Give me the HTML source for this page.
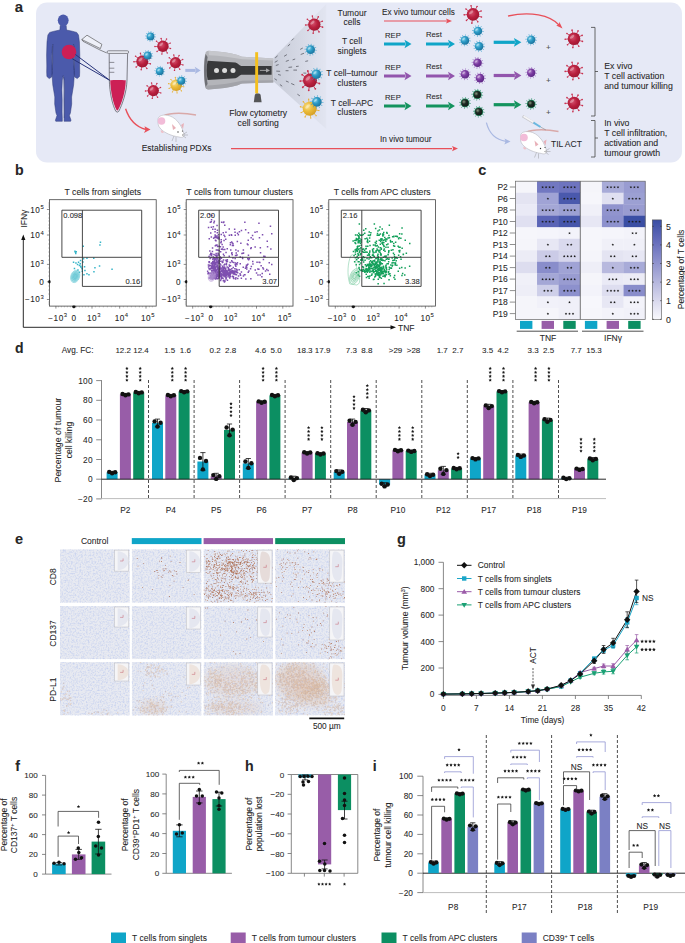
<!DOCTYPE html>
<html><head><meta charset="utf-8"><style>
html,body{margin:0;padding:0;background:#fff;}
svg{display:block;}
text{font-family:"Liberation Sans",sans-serif;stroke:#2a2a2a;stroke-width:0.07px;}
</style></head><body>
<svg width="685" height="943" viewBox="0 0 685 943">
<defs>
<radialGradient id="gRed" cx="0.4" cy="0.4" r="0.7"><stop offset="0" stop-color="#d4506c"/><stop offset="0.5" stop-color="#b8203e"/><stop offset="1" stop-color="#98142e"/></radialGradient>
<radialGradient id="gCy" cx="0.35" cy="0.35" r="0.75"><stop offset="0" stop-color="#7fd0ea"/><stop offset="0.45" stop-color="#2a98c4"/><stop offset="1" stop-color="#1a6d96"/></radialGradient>
<radialGradient id="gPu" cx="0.35" cy="0.35" r="0.75"><stop offset="0" stop-color="#b88ad0"/><stop offset="0.45" stop-color="#7a3aa0"/><stop offset="1" stop-color="#582580"/></radialGradient>
<radialGradient id="gGr" cx="0.35" cy="0.35" r="0.75"><stop offset="0" stop-color="#8a9a80"/><stop offset="0.4" stop-color="#1e2a24"/><stop offset="1" stop-color="#101814"/></radialGradient>
<radialGradient id="gYe" cx="0.35" cy="0.35" r="0.75"><stop offset="0" stop-color="#f8e08a"/><stop offset="0.45" stop-color="#ecbc3a"/><stop offset="1" stop-color="#d09a20"/></radialGradient>
<linearGradient id="gFan" x1="0" y1="0" x2="1" y2="0"><stop offset="0" stop-color="#c8ccd8"/><stop offset="1" stop-color="#e2e5f1"/></linearGradient>
<g id="cRed"><line x1="0.86" y1="0.27" x2="1.34" y2="0.41" stroke="#c8304e" stroke-width="0.13"/><circle cx="1.34" cy="0.41" r="0.13" fill="#c8304e"/><line x1="0.49" y1="0.76" x2="0.76" y2="1.18" stroke="#c8304e" stroke-width="0.13"/><circle cx="0.76" cy="1.18" r="0.13" fill="#c8304e"/><line x1="-0.11" y1="0.89" x2="-0.18" y2="1.39" stroke="#c8304e" stroke-width="0.13"/><circle cx="-0.18" cy="1.39" r="0.13" fill="#c8304e"/><line x1="-0.66" y1="0.61" x2="-1.03" y2="0.95" stroke="#c8304e" stroke-width="0.13"/><circle cx="-1.03" cy="0.95" r="0.13" fill="#c8304e"/><line x1="-0.90" y1="0.04" x2="-1.40" y2="0.07" stroke="#c8304e" stroke-width="0.13"/><circle cx="-1.40" cy="0.07" r="0.13" fill="#c8304e"/><line x1="-0.72" y1="-0.54" x2="-1.12" y2="-0.85" stroke="#c8304e" stroke-width="0.13"/><circle cx="-1.12" cy="-0.85" r="0.13" fill="#c8304e"/><line x1="-0.20" y1="-0.88" x2="-0.31" y2="-1.37" stroke="#c8304e" stroke-width="0.13"/><circle cx="-0.31" cy="-1.37" r="0.13" fill="#c8304e"/><line x1="0.41" y1="-0.80" x2="0.64" y2="-1.25" stroke="#c8304e" stroke-width="0.13"/><circle cx="0.64" cy="-1.25" r="0.13" fill="#c8304e"/><line x1="0.83" y1="-0.35" x2="1.29" y2="-0.54" stroke="#c8304e" stroke-width="0.13"/><circle cx="1.29" cy="-0.54" r="0.13" fill="#c8304e"/><circle r="1" fill="url(#gRed)"/><ellipse cx="-0.3" cy="-0.32" rx="0.42" ry="0.2" transform="rotate(-40 -0.3 -0.32)" fill="#fff" opacity="0.35"/></g><g id="cCy"><line x1="0.90" y1="0.09" x2="1.29" y2="0.13" stroke="#2a9ccc" stroke-width="0.1"/><circle cx="1.29" cy="0.13" r="0.08" fill="#2a9ccc"/><line x1="0.73" y1="0.53" x2="1.06" y2="0.76" stroke="#2a9ccc" stroke-width="0.1"/><circle cx="1.06" cy="0.76" r="0.08" fill="#2a9ccc"/><line x1="0.37" y1="0.82" x2="0.53" y2="1.19" stroke="#2a9ccc" stroke-width="0.1"/><circle cx="0.53" cy="1.19" r="0.08" fill="#2a9ccc"/><line x1="-0.09" y1="0.90" x2="-0.13" y2="1.29" stroke="#2a9ccc" stroke-width="0.1"/><circle cx="-0.13" cy="1.29" r="0.08" fill="#2a9ccc"/><line x1="-0.53" y1="0.73" x2="-0.76" y2="1.06" stroke="#2a9ccc" stroke-width="0.1"/><circle cx="-0.76" cy="1.06" r="0.08" fill="#2a9ccc"/><line x1="-0.82" y1="0.37" x2="-1.19" y2="0.53" stroke="#2a9ccc" stroke-width="0.1"/><circle cx="-1.19" cy="0.53" r="0.08" fill="#2a9ccc"/><line x1="-0.90" y1="-0.09" x2="-1.29" y2="-0.13" stroke="#2a9ccc" stroke-width="0.1"/><circle cx="-1.29" cy="-0.13" r="0.08" fill="#2a9ccc"/><line x1="-0.73" y1="-0.53" x2="-1.06" y2="-0.76" stroke="#2a9ccc" stroke-width="0.1"/><circle cx="-1.06" cy="-0.76" r="0.08" fill="#2a9ccc"/><line x1="-0.37" y1="-0.82" x2="-0.53" y2="-1.19" stroke="#2a9ccc" stroke-width="0.1"/><circle cx="-0.53" cy="-1.19" r="0.08" fill="#2a9ccc"/><line x1="0.09" y1="-0.90" x2="0.13" y2="-1.29" stroke="#2a9ccc" stroke-width="0.1"/><circle cx="0.13" cy="-1.29" r="0.08" fill="#2a9ccc"/><line x1="0.53" y1="-0.73" x2="0.76" y2="-1.06" stroke="#2a9ccc" stroke-width="0.1"/><circle cx="0.76" cy="-1.06" r="0.08" fill="#2a9ccc"/><line x1="0.82" y1="-0.37" x2="1.19" y2="-0.53" stroke="#2a9ccc" stroke-width="0.1"/><circle cx="1.19" cy="-0.53" r="0.08" fill="#2a9ccc"/><circle r="1" fill="url(#gCy)"/><ellipse cx="-0.3" cy="-0.32" rx="0.42" ry="0.2" transform="rotate(-40 -0.3 -0.32)" fill="#fff" opacity="0.35"/></g><g id="cPu"><line x1="0.90" y1="0.09" x2="1.29" y2="0.13" stroke="#8a4ab4" stroke-width="0.1"/><circle cx="1.29" cy="0.13" r="0.08" fill="#8a4ab4"/><line x1="0.73" y1="0.53" x2="1.06" y2="0.76" stroke="#8a4ab4" stroke-width="0.1"/><circle cx="1.06" cy="0.76" r="0.08" fill="#8a4ab4"/><line x1="0.37" y1="0.82" x2="0.53" y2="1.19" stroke="#8a4ab4" stroke-width="0.1"/><circle cx="0.53" cy="1.19" r="0.08" fill="#8a4ab4"/><line x1="-0.09" y1="0.90" x2="-0.13" y2="1.29" stroke="#8a4ab4" stroke-width="0.1"/><circle cx="-0.13" cy="1.29" r="0.08" fill="#8a4ab4"/><line x1="-0.53" y1="0.73" x2="-0.76" y2="1.06" stroke="#8a4ab4" stroke-width="0.1"/><circle cx="-0.76" cy="1.06" r="0.08" fill="#8a4ab4"/><line x1="-0.82" y1="0.37" x2="-1.19" y2="0.53" stroke="#8a4ab4" stroke-width="0.1"/><circle cx="-1.19" cy="0.53" r="0.08" fill="#8a4ab4"/><line x1="-0.90" y1="-0.09" x2="-1.29" y2="-0.13" stroke="#8a4ab4" stroke-width="0.1"/><circle cx="-1.29" cy="-0.13" r="0.08" fill="#8a4ab4"/><line x1="-0.73" y1="-0.53" x2="-1.06" y2="-0.76" stroke="#8a4ab4" stroke-width="0.1"/><circle cx="-1.06" cy="-0.76" r="0.08" fill="#8a4ab4"/><line x1="-0.37" y1="-0.82" x2="-0.53" y2="-1.19" stroke="#8a4ab4" stroke-width="0.1"/><circle cx="-0.53" cy="-1.19" r="0.08" fill="#8a4ab4"/><line x1="0.09" y1="-0.90" x2="0.13" y2="-1.29" stroke="#8a4ab4" stroke-width="0.1"/><circle cx="0.13" cy="-1.29" r="0.08" fill="#8a4ab4"/><line x1="0.53" y1="-0.73" x2="0.76" y2="-1.06" stroke="#8a4ab4" stroke-width="0.1"/><circle cx="0.76" cy="-1.06" r="0.08" fill="#8a4ab4"/><line x1="0.82" y1="-0.37" x2="1.19" y2="-0.53" stroke="#8a4ab4" stroke-width="0.1"/><circle cx="1.19" cy="-0.53" r="0.08" fill="#8a4ab4"/><circle r="1" fill="url(#gPu)"/><ellipse cx="-0.3" cy="-0.32" rx="0.42" ry="0.2" transform="rotate(-40 -0.3 -0.32)" fill="#fff" opacity="0.35"/></g><g id="cGr"><line x1="0.90" y1="0.09" x2="1.29" y2="0.13" stroke="#1f8a5e" stroke-width="0.12"/><circle cx="1.29" cy="0.13" r="0.08" fill="#1f8a5e"/><line x1="0.73" y1="0.53" x2="1.06" y2="0.76" stroke="#1f8a5e" stroke-width="0.12"/><circle cx="1.06" cy="0.76" r="0.08" fill="#1f8a5e"/><line x1="0.37" y1="0.82" x2="0.53" y2="1.19" stroke="#1f8a5e" stroke-width="0.12"/><circle cx="0.53" cy="1.19" r="0.08" fill="#1f8a5e"/><line x1="-0.09" y1="0.90" x2="-0.13" y2="1.29" stroke="#1f8a5e" stroke-width="0.12"/><circle cx="-0.13" cy="1.29" r="0.08" fill="#1f8a5e"/><line x1="-0.53" y1="0.73" x2="-0.76" y2="1.06" stroke="#1f8a5e" stroke-width="0.12"/><circle cx="-0.76" cy="1.06" r="0.08" fill="#1f8a5e"/><line x1="-0.82" y1="0.37" x2="-1.19" y2="0.53" stroke="#1f8a5e" stroke-width="0.12"/><circle cx="-1.19" cy="0.53" r="0.08" fill="#1f8a5e"/><line x1="-0.90" y1="-0.09" x2="-1.29" y2="-0.13" stroke="#1f8a5e" stroke-width="0.12"/><circle cx="-1.29" cy="-0.13" r="0.08" fill="#1f8a5e"/><line x1="-0.73" y1="-0.53" x2="-1.06" y2="-0.76" stroke="#1f8a5e" stroke-width="0.12"/><circle cx="-1.06" cy="-0.76" r="0.08" fill="#1f8a5e"/><line x1="-0.37" y1="-0.82" x2="-0.53" y2="-1.19" stroke="#1f8a5e" stroke-width="0.12"/><circle cx="-0.53" cy="-1.19" r="0.08" fill="#1f8a5e"/><line x1="0.09" y1="-0.90" x2="0.13" y2="-1.29" stroke="#1f8a5e" stroke-width="0.12"/><circle cx="0.13" cy="-1.29" r="0.08" fill="#1f8a5e"/><line x1="0.53" y1="-0.73" x2="0.76" y2="-1.06" stroke="#1f8a5e" stroke-width="0.12"/><circle cx="0.76" cy="-1.06" r="0.08" fill="#1f8a5e"/><line x1="0.82" y1="-0.37" x2="1.19" y2="-0.53" stroke="#1f8a5e" stroke-width="0.12"/><circle cx="1.19" cy="-0.53" r="0.08" fill="#1f8a5e"/><circle r="1.02" fill="#1f8a5e"/><circle r="0.85" fill="url(#gGr)"/></g><g id="cYe"><line x1="0.88" y1="0.18" x2="1.32" y2="0.27" stroke="#e8b030" stroke-width="0.12"/><circle cx="1.32" cy="0.27" r="0.1" fill="#e8b030"/><line x1="0.61" y1="0.66" x2="0.91" y2="0.99" stroke="#e8b030" stroke-width="0.12"/><circle cx="0.91" cy="0.99" r="0.1" fill="#e8b030"/><line x1="0.10" y1="0.89" x2="0.15" y2="1.34" stroke="#e8b030" stroke-width="0.12"/><circle cx="0.15" cy="1.34" r="0.1" fill="#e8b030"/><line x1="-0.44" y1="0.78" x2="-0.66" y2="1.18" stroke="#e8b030" stroke-width="0.12"/><circle cx="-0.66" cy="1.18" r="0.1" fill="#e8b030"/><line x1="-0.82" y1="0.37" x2="-1.23" y2="0.56" stroke="#e8b030" stroke-width="0.12"/><circle cx="-1.23" cy="0.56" r="0.1" fill="#e8b030"/><line x1="-0.88" y1="-0.18" x2="-1.32" y2="-0.27" stroke="#e8b030" stroke-width="0.12"/><circle cx="-1.32" cy="-0.27" r="0.1" fill="#e8b030"/><line x1="-0.61" y1="-0.66" x2="-0.91" y2="-0.99" stroke="#e8b030" stroke-width="0.12"/><circle cx="-0.91" cy="-0.99" r="0.1" fill="#e8b030"/><line x1="-0.10" y1="-0.89" x2="-0.15" y2="-1.34" stroke="#e8b030" stroke-width="0.12"/><circle cx="-0.15" cy="-1.34" r="0.1" fill="#e8b030"/><line x1="0.44" y1="-0.78" x2="0.66" y2="-1.18" stroke="#e8b030" stroke-width="0.12"/><circle cx="0.66" cy="-1.18" r="0.1" fill="#e8b030"/><line x1="0.82" y1="-0.37" x2="1.23" y2="-0.56" stroke="#e8b030" stroke-width="0.12"/><circle cx="1.23" cy="-0.56" r="0.1" fill="#e8b030"/><circle r="1" fill="url(#gYe)"/><ellipse cx="-0.3" cy="-0.32" rx="0.42" ry="0.2" transform="rotate(-40 -0.3 -0.32)" fill="#fff" opacity="0.35"/></g><path id="st" d="M0.000 -1.000 L0.294 -0.405 L0.951 -0.309 L0.476 0.155 L0.588 0.809 L0.000 0.500 L-0.588 0.809 L-0.476 0.155 L-0.951 -0.309 L-0.294 -0.405Z"/></defs>
<rect x="36" y="2.5" width="646" height="160" rx="11" fill="#e6e9f6"/>
<text x="14.7" y="11.6" font-size="15" text-anchor="start" fill="#262626" font-weight="bold">a</text>
<path d="M66.2 25.5 L66.5 30.0 L72.2 31.2 L76.7 32.4 L78.5 35.0 L79.4 42.0 L79.8 55.0 L79.6 66.0 L79.7 72.0 L79.5 76.5 L77.2 78.6 L74.7 77.0 L74.2 73.0 L74.4 66.0 L74.6 56.0 L74.0 46.0 L73.5 44.0 L73.8 52.0 L73.7 62.0 L74.2 70.0 L74.3 75.0 L73.6 85.0 L71.6 97.0 L71.7 104.0 L70.4 113.0 L69.4 115.5 L71.0 120.2 L70.6 121.3 L64.1 121.3 L64.1 118.0 L64.3 112.0 L64.2 100.0 L64.5 90.0 L64.1 80.0 L63.2 75.5 L63.2 75.5 L62.3 80.0 L61.9 90.0 L62.2 100.0 L62.1 112.0 L62.3 118.0 L62.3 121.3 L55.8 121.3 L55.4 120.2 L57.0 115.5 L56.0 113.0 L54.7 104.0 L54.8 97.0 L52.8 85.0 L52.1 75.0 L52.2 70.0 L52.7 62.0 L52.6 52.0 L52.9 44.0 L52.4 46.0 L51.8 56.0 L52.0 66.0 L52.2 73.0 L51.7 77.0 L49.2 78.6 L46.9 76.5 L46.7 72.0 L46.8 66.0 L46.6 55.0 L47.0 42.0 L47.9 35.0 L49.7 32.4 L54.2 31.2 L59.9 30.0 L60.2 25.5Z" fill="#4b5aab" stroke="#2f3a78" stroke-width="0.5" stroke-linejoin="round"/>
<ellipse cx="63.2" cy="20.3" rx="5.4" ry="5.9" fill="#4b5aab"/>
<path d="M73.8 46 L74.10000000000001 70 M52.6 46 L52.300000000000004 70 M63.800000000000004 77 L64.2 118" stroke="#2f3a78" stroke-width="0.5" fill="none"/>
<circle cx="69" cy="52" r="7.3" fill="#cc1f55"/>
<path d="M75.4 54.5 L110 80.5 M72.3 58.8 L110 80.5" stroke="#27337a" stroke-width="1"/>
<path d="M110.2 80.3 C113 79.8, 122 79.8, 125.8 80.3 C125.5 92, 121.5 104, 118.2 109.8 Q117.3 111 116.4 109.8 C113.2 104, 110.6 92, 110.2 80.3 Z" fill="#cc1f55"/>
<path d="M109.2 53.4 L109.3 80 C109.6 93, 112.5 105, 115.8 111.3 Q117.3 113 118.8 111.3 C122 105, 126.6 93, 127 80 L127.6 53.4" fill="none" stroke="#5a5a62" stroke-width="0.75"/>
<rect x="107.1" y="50.8" width="21.5" height="2.6" rx="1.2" fill="#eef0f8" stroke="#5a5a62" stroke-width="0.7"/>
<path d="M109.3 62.4 h5 M109.3 68.2 h5 M109.3 72.3 h5" stroke="#5a5a62" stroke-width="0.65"/>
<path d="M87 35.2 L101.9 44.3 L100.4 48.6 L81.8 39.5 Z" fill="#eef0f8" stroke="#444" stroke-width="0.6"/>
<path d="M81.8 39.5 L83 41.3 L100 50 L106.6 52.9" fill="none" stroke="#444" stroke-width="0.6"/>
<path d="M125.6 108.8 C129 119, 136 127, 146 129.5" fill="none" stroke="#e8505a" stroke-width="1.4"/>
<path d="M150.5 129.5 L144.5 126.2 L145.5 129.8 L144 133 Z" fill="#e8505a"/>
<g transform="translate(166 125) scale(1.0)">
<path d="M-3 -9 C 5 -13, 20 -12, 30 -10" stroke="#d9a9a9" stroke-width="1.3" fill="none"/>
<path d="M-8 -4 C -9 -10, -2 -11, 4 -9 C 12 -6, 16 2, 18 9 C 19 12, 16 13, 13 12 C 6 11, -2 8, -6 3 C -8 1, -8 -2, -8 -4 Z" fill="#ffffff" stroke="#a8a8b0" stroke-width="0.5"/>
<circle cx="-4.5" cy="-4" r="3.8" fill="#f2bcd8"/>
<path d="M6 -1 L10 3 L7 5 Z" fill="#e8b0b8"/>
<path d="M15 0 L18 -2 L17 4 Z" fill="#e8b0b8"/>
<circle cx="12" cy="7" r="0.7" fill="#333"/><circle cx="16.5" cy="6" r="0.6" fill="#333"/>
<path d="M16 10 l5 -3 M16 10 l6 0 M16 10 l4 3 M8 11 l-2 5 M10 12 l0 5" stroke="#777" stroke-width="0.35"/>
<path d="M-5 5 C -6 8, -3 9, -2 7" fill="#f0c0c8"/>
</g>
<text x="176.6" y="151.0" font-size="8.5" text-anchor="middle" fill="#262626" >Establishing PDXs</text>
<use href="#cCy" transform="translate(150.5 36.4) scale(3.9)"/>
<use href="#cRed" transform="translate(162.9 46.2) scale(5.7)"/>
<use href="#cRed" transform="translate(142.3 61.4) scale(6)"/>
<use href="#cCy" transform="translate(147.7 55.6) scale(4)"/>
<use href="#cRed" transform="translate(175.5 62.6) scale(5.6)"/>
<use href="#cCy" transform="translate(159.8 71.2) scale(3.9)"/>
<use href="#cRed" transform="translate(153.3 90.6) scale(5.6)"/>
<use href="#cYe" transform="translate(176.2 85.2) scale(5.8)"/>
<use href="#cCy" transform="translate(181.3 80.8) scale(4)"/>
<line x1="185.3" y1="70.4" x2="195.7" y2="70.4" stroke="#a9b8e2" stroke-width="3"/>
<path d="M200.7 70.4 L194.7 66.80000000000001 L196.2 70.4 L194.7 74.0 Z" fill="#a9b8e2"/>
<path d="M273.6 57.7 L326.2 4.2 L326.2 129 L273.6 81.5 Z" fill="url(#gFan)"/>
<path d="M275.2 57.9l2.4 -2.1M274.8 62.3l2.8 -1.6M275.8 65.5l2.8 -0.9M276.3 71.1l3.8 0.2M278.1 74.5l2.7 0.7M274.5 78.7l2.4 1.5M284.1 56.3l2.8 -1.7M285.8 61.4l3.0 -1.1M288.5 67.4l3.6 -0.4M285.6 70.7l2.9 0.0M285.9 81.0l2.8 1.2M279.9 84.5l2.3 1.7M287.8 46.2l2.3 -2.1M292.6 59.9l2.6 -0.9M296.0 66.5l2.7 -0.3M293.4 70.1l3.6 -0.0M291.2 83.5l3.2 1.4M291.7 40.5l2.0 -2.0M300.2 49.4l2.6 -1.4M300.7 54.5l3.4 -1.3M305.3 61.4l2.8 -0.6M303.4 73.0l2.9 0.2M297.4 94.2l2.5 1.7" stroke="#4a4c54" stroke-width="0.7" fill="none"/>
<path d="M208.5 50.8 C220 51.5, 230 53, 237.7 54.9 C239.5 55.6, 240.5 56.5, 242.4 56.7 L273.3 58.4 L273.3 82.4 L242.4 83.5 C240.5 83.8, 239.5 84.6, 237.7 85.3 C230 87.5, 220 89, 208.5 89.4 C206.5 89.3, 205.5 88.6, 205.4 87 C203.5 80, 203.3 60, 205.4 53.5 C205.6 51.8, 206.8 50.8, 208.5 50.8 Z" fill="#b4b5ba"/>
<path d="M208.5 50.8 C220 51.5, 230 53, 237.7 54.9 C239.5 55.6, 240.5 56.5, 242.4 56.7 L273.3 58.4 L273.3 60.5 L242.4 59.3 C232 57.5, 220 55.5, 209 55.3 Z" fill="#c6c7cc"/>
<path d="M242.4 80.8 L273.3 80.2 L273.3 82.4 L242.4 83.5 C240.5 83.8, 239.5 84.6, 237.7 85.3 C230 87.5, 220 89, 208.5 89.4 C206.5 89.3, 205.5 88.6, 205.4 87 L207 85.5 C222 85, 232 83, 242.4 80.8 Z" fill="#a2a3a9"/>
<path d="M205.6 54 C203.6 62, 203.6 79, 205.6 87 L207.6 84 C206.3 76, 206.3 65, 207.6 57 Z" fill="#6e6f75"/>
<path d="M207.6 60.8 L235.4 62.5 C238 63, 239 65.5, 241.2 66 L271.6 66 L271.6 74.8 L241.2 74.8 C239 75.3, 238 77.8, 235.4 78.3 L207.6 80 C206.3 74, 206.3 67, 207.6 60.8 Z" fill="#38393b"/>
<circle cx="216.5" cy="70.5" r="2.5" fill="#dcdcdc"/>
<circle cx="224.6" cy="70.5" r="2.5" fill="#dcdcdc"/>
<circle cx="233" cy="70.5" r="2.5" fill="#dcdcdc"/>
<rect x="255.2" y="52.2" width="2.9" height="41.3" fill="#f4c01e"/>
<path d="M253.8 102.2 L254.8 95 Q255.2 93.5 256.5 93.5 L259 93.5 Q260.3 93.5 260.6 95 L261.6 102.2 Z" fill="#545557"/>
<path d="M259.9 70.4 L267 70.4" stroke="#a8a8aa" stroke-width="0.9"/><path d="M270 70.4 L266 68.3 L266 72.5 Z" fill="#a8a8aa"/>
<text x="258.2" y="116.1" font-size="8.65" text-anchor="middle" fill="#262626" >Flow cytometry</text>
<text x="258.2" y="126.0" font-size="8.65" text-anchor="middle" fill="#262626" >cell sorting</text>
<use href="#cRed" transform="translate(314.3 24.6) scale(6.2)"/>
<use href="#cCy" transform="translate(310.6 49.7) scale(4.4)"/>
<use href="#cRed" transform="translate(310.0 80.6) scale(7)"/>
<use href="#cCy" transform="translate(316.4 74.2) scale(4.8)"/>
<use href="#cYe" transform="translate(309.7 108.7) scale(7)"/>
<use href="#cCy" transform="translate(316.9 101.9) scale(4.8)"/>
<text x="352.0" y="15.5" font-size="8.5" text-anchor="middle" fill="#262626" >Tumour</text>
<text x="352.0" y="25.3" font-size="8.5" text-anchor="middle" fill="#262626" >cells</text>
<text x="352.0" y="44.0" font-size="8.5" text-anchor="middle" fill="#262626" >T cell</text>
<text x="352.0" y="53.8" font-size="8.5" text-anchor="middle" fill="#262626" >singlets</text>
<text x="352.0" y="75.8" font-size="8.5" text-anchor="middle" fill="#262626" >T cell–tumour</text>
<text x="352.0" y="85.6" font-size="8.5" text-anchor="middle" fill="#262626" >clusters</text>
<text x="352.0" y="105.5" font-size="8.5" text-anchor="middle" fill="#262626" >T cell–APC</text>
<text x="352.0" y="115.3" font-size="8.5" text-anchor="middle" fill="#262626" >clusters</text>
<text x="382.0" y="15.3" font-size="8.2" text-anchor="start" fill="#262626" >Ex vivo tumour cells</text>
<line x1="384" y1="21" x2="447" y2="21" stroke="#e8505a" stroke-width="1.2"/><path d="M452 21 L446 18.5 L447.2 21 L446 23.5 Z" fill="#e8505a"/>
<text x="385.0" y="38.0" font-size="7.7" text-anchor="start" fill="#262626" >REP</text>
<text x="426.0" y="37.0" font-size="7.7" text-anchor="start" fill="#262626" >Rest</text>
<line x1="384" y1="44" x2="405.5" y2="44" stroke="#0fa5c8" stroke-width="3"/>
<path d="M411.5 44 L404.5 39.8 L406.0 44 L404.5 48.2 Z" fill="#0fa5c8"/>
<line x1="426" y1="44" x2="449" y2="44" stroke="#0fa5c8" stroke-width="3"/>
<path d="M455 44 L448 39.8 L449.5 44 L448 48.2 Z" fill="#0fa5c8"/>
<text x="385.0" y="70.0" font-size="7.7" text-anchor="start" fill="#262626" >REP</text>
<text x="426.0" y="69.0" font-size="7.7" text-anchor="start" fill="#262626" >Rest</text>
<line x1="384" y1="76" x2="405.5" y2="76" stroke="#9255ad" stroke-width="3"/>
<path d="M411.5 76 L404.5 71.8 L406.0 76 L404.5 80.2 Z" fill="#9255ad"/>
<line x1="426" y1="76" x2="449" y2="76" stroke="#9255ad" stroke-width="3"/>
<path d="M455 76 L448 71.8 L449.5 76 L448 80.2 Z" fill="#9255ad"/>
<text x="385.0" y="100.0" font-size="7.7" text-anchor="start" fill="#262626" >REP</text>
<text x="426.0" y="99.0" font-size="7.7" text-anchor="start" fill="#262626" >Rest</text>
<line x1="384" y1="106" x2="405.5" y2="106" stroke="#14935e" stroke-width="3"/>
<path d="M411.5 106 L404.5 101.8 L406.0 106 L404.5 110.2 Z" fill="#14935e"/>
<line x1="426" y1="106" x2="449" y2="106" stroke="#14935e" stroke-width="3"/>
<path d="M455 106 L448 101.8 L449.5 106 L448 110.2 Z" fill="#14935e"/>
<use href="#cCy" transform="translate(464.9 40.4) scale(4.3)"/>
<use href="#cCy" transform="translate(477.9 31.0) scale(4.3)"/>
<use href="#cCy" transform="translate(479.1 46.3) scale(4.3)"/>
<use href="#cPu" transform="translate(465.0 74.3) scale(4.3)"/>
<use href="#cPu" transform="translate(477.5 62.8) scale(4.3)"/>
<use href="#cPu" transform="translate(480.0 78.1) scale(4.3)"/>
<use href="#cGr" transform="translate(465.0 102.9) scale(4.3)"/>
<use href="#cGr" transform="translate(477.3 94.7) scale(4.3)"/>
<use href="#cGr" transform="translate(478.8 111.7) scale(4.3)"/>
<line x1="493.7" y1="42.3" x2="514.9" y2="42.3" stroke="#0fa5c8" stroke-width="3.2"/>
<path d="M521.4 42.3 L513.9 37.9 L515.4 42.3 L513.9 46.699999999999996 Z" fill="#0fa5c8"/>
<use href="#cCy" transform="translate(531.2 39.7) scale(4.2)"/>
<text x="548.4" y="50.2" font-size="8" text-anchor="middle" fill="#555" >+</text>
<line x1="493.7" y1="75.5" x2="514.9" y2="75.5" stroke="#9255ad" stroke-width="3.2"/>
<path d="M521.4 75.5 L513.9 71.1 L515.4 75.5 L513.9 79.9 Z" fill="#9255ad"/>
<use href="#cPu" transform="translate(531.2 72.8) scale(4.2)"/>
<text x="548.4" y="83.3" font-size="8" text-anchor="middle" fill="#555" >+</text>
<line x1="493.7" y1="104.7" x2="514.9" y2="104.7" stroke="#14935e" stroke-width="3.2"/>
<path d="M521.4 104.7 L513.9 100.3 L515.4 104.7 L513.9 109.10000000000001 Z" fill="#14935e"/>
<use href="#cGr" transform="translate(531.2 104.0) scale(4.2)"/>
<text x="548.4" y="114.5" font-size="8" text-anchor="middle" fill="#555" >+</text>
<use href="#cRed" transform="translate(473.0 14.4) scale(6.3)"/>
<path d="M508 16 C 530 11, 550 15, 559 25" fill="none" stroke="#e8505a" stroke-width="1.3"/><path d="M562.5 28.5 L556.2 25.6 L559 24.6 L559.3 21.8 Z" fill="#e8505a"/>
<use href="#cRed" transform="translate(574.0 38.8) scale(6.3)"/>
<use href="#cRed" transform="translate(574.0 71.0) scale(6.3)"/>
<use href="#cRed" transform="translate(574.0 103.0) scale(6.3)"/>
<path d="M591 27.4 L595 27.4 L595 116 L591 116 M595 71.5 L598 71.5" fill="none" stroke="#444" stroke-width="0.8"/>
<text x="604.2" y="69.1" font-size="8.75" text-anchor="start" fill="#262626" >Ex vivo</text>
<text x="604.2" y="79.0" font-size="8.75" text-anchor="start" fill="#262626" >T cell activation</text>
<text x="604.2" y="88.8" font-size="8.75" text-anchor="start" fill="#262626" >and tumour killing</text>
<path d="M591 120.5 L595 120.5 L595 157 L591 157 M595 138 L598 138" fill="none" stroke="#444" stroke-width="0.8"/>
<text x="604.2" y="126.0" font-size="8.75" text-anchor="start" fill="#262626" >In vivo</text>
<text x="604.2" y="136.0" font-size="8.75" text-anchor="start" fill="#262626" >T cell infiltration,</text>
<text x="604.2" y="146.0" font-size="8.75" text-anchor="start" fill="#262626" >activation and</text>
<text x="604.2" y="156.0" font-size="8.75" text-anchor="start" fill="#262626" >tumour growth</text>
<line x1="231" y1="148.6" x2="452" y2="148.6" stroke="#e8505a" stroke-width="1.2"/><path d="M458 148.6 L452 146 L453.2 148.6 L452 151.2 Z" fill="#e8505a"/>
<text x="380.0" y="142.0" font-size="8.2" text-anchor="start" fill="#262626" >In vivo tumour</text>
<path d="M486.4 122.7 C 489 133, 496 140, 506 141.4" fill="none" stroke="#a9b8e2" stroke-width="1.2"/><path d="M510.5 141.6 L504.5 138.6 L505.6 141.5 L504.3 144.4 Z" fill="#a9b8e2"/>
<g transform="translate(528.5 141.5) scale(1.0)">
<path d="M-3 -9 C 5 -13, 20 -12, 30 -10" stroke="#d9a9a9" stroke-width="1.3" fill="none"/>
<path d="M-8 -4 C -9 -10, -2 -11, 4 -9 C 12 -6, 16 2, 18 9 C 19 12, 16 13, 13 12 C 6 11, -2 8, -6 3 C -8 1, -8 -2, -8 -4 Z" fill="#ffffff" stroke="#a8a8b0" stroke-width="0.5"/>
<circle cx="-4.5" cy="-4" r="3.8" fill="#f2bcd8"/>
<path d="M6 -1 L10 3 L7 5 Z" fill="#e8b0b8"/>
<path d="M15 0 L18 -2 L17 4 Z" fill="#e8b0b8"/>
<circle cx="12" cy="7" r="0.7" fill="#333"/><circle cx="16.5" cy="6" r="0.6" fill="#333"/>
<path d="M16 10 l5 -3 M16 10 l6 0 M16 10 l4 3 M8 11 l-2 5 M10 12 l0 5" stroke="#777" stroke-width="0.35"/>
<path d="M-5 5 C -6 8, -3 9, -2 7" fill="#f0c0c8"/>
</g>
<path d="M522.6 116.2 L534 123" stroke="#c8c8cc" stroke-width="2.6"/><path d="M523.5 116.2 L533.5 122.2" stroke="#f4f4f6" stroke-width="1.6"/><path d="M533.5 122.7 L540.5 127" stroke="#6ab8e0" stroke-width="2"/><path d="M540.5 127 L545.8 129.9" stroke="#777" stroke-width="0.5"/>
<text x="551.0" y="147.0" font-size="8.5" text-anchor="start" fill="#262626" >TIL ACT</text>
<text x="15.0" y="175.2" font-size="14.2" text-anchor="start" fill="#262626" font-weight="bold">b</text>
<text x="102.8" y="194.6" font-size="8.7" text-anchor="middle" fill="#262626" >T cells from singlets</text>
<rect x="49.4" y="199.7" width="106.8" height="106.40000000000003" fill="#fff" stroke="#444" stroke-width="0.8"/>
<line x1="46.9" y1="209.5" x2="49.4" y2="209.5" stroke="#444" stroke-width="0.6"/>
<line x1="46.9" y1="235" x2="49.4" y2="235" stroke="#444" stroke-width="0.6"/>
<line x1="46.9" y1="264.4" x2="49.4" y2="264.4" stroke="#444" stroke-width="0.6"/>
<line x1="46.9" y1="281.8" x2="49.4" y2="281.8" stroke="#444" stroke-width="0.6"/>
<line x1="46.9" y1="299.5" x2="49.4" y2="299.5" stroke="#444" stroke-width="0.6"/>
<line x1="48.1" y1="203" x2="49.4" y2="203" stroke="#666" stroke-width="0.4"/>
<line x1="48.1" y1="205" x2="49.4" y2="205" stroke="#666" stroke-width="0.4"/>
<line x1="48.1" y1="207" x2="49.4" y2="207" stroke="#666" stroke-width="0.4"/>
<line x1="48.1" y1="214" x2="49.4" y2="214" stroke="#666" stroke-width="0.4"/>
<line x1="48.1" y1="218" x2="49.4" y2="218" stroke="#666" stroke-width="0.4"/>
<line x1="48.1" y1="221" x2="49.4" y2="221" stroke="#666" stroke-width="0.4"/>
<line x1="48.1" y1="225" x2="49.4" y2="225" stroke="#666" stroke-width="0.4"/>
<line x1="48.1" y1="228" x2="49.4" y2="228" stroke="#666" stroke-width="0.4"/>
<line x1="48.1" y1="231" x2="49.4" y2="231" stroke="#666" stroke-width="0.4"/>
<line x1="48.1" y1="240" x2="49.4" y2="240" stroke="#666" stroke-width="0.4"/>
<line x1="48.1" y1="244" x2="49.4" y2="244" stroke="#666" stroke-width="0.4"/>
<line x1="48.1" y1="248" x2="49.4" y2="248" stroke="#666" stroke-width="0.4"/>
<line x1="48.1" y1="252" x2="49.4" y2="252" stroke="#666" stroke-width="0.4"/>
<line x1="48.1" y1="256" x2="49.4" y2="256" stroke="#666" stroke-width="0.4"/>
<line x1="48.1" y1="260" x2="49.4" y2="260" stroke="#666" stroke-width="0.4"/>
<line x1="48.1" y1="268" x2="49.4" y2="268" stroke="#666" stroke-width="0.4"/>
<line x1="48.1" y1="272" x2="49.4" y2="272" stroke="#666" stroke-width="0.4"/>
<line x1="48.1" y1="276" x2="49.4" y2="276" stroke="#666" stroke-width="0.4"/>
<line x1="48.1" y1="286" x2="49.4" y2="286" stroke="#666" stroke-width="0.4"/>
<line x1="48.1" y1="290" x2="49.4" y2="290" stroke="#666" stroke-width="0.4"/>
<line x1="48.1" y1="294" x2="49.4" y2="294" stroke="#666" stroke-width="0.4"/>
<line x1="48.1" y1="302" x2="49.4" y2="302" stroke="#666" stroke-width="0.4"/>
<line x1="48.1" y1="304" x2="49.4" y2="304" stroke="#666" stroke-width="0.4"/>
<line x1="55.9" y1="306.1" x2="55.9" y2="308.6" stroke="#444" stroke-width="0.6"/>
<line x1="73.9" y1="306.1" x2="73.9" y2="308.6" stroke="#444" stroke-width="0.6"/>
<line x1="92.0" y1="306.1" x2="92.0" y2="308.6" stroke="#444" stroke-width="0.6"/>
<line x1="119.69999999999999" y1="306.1" x2="119.69999999999999" y2="308.6" stroke="#444" stroke-width="0.6"/>
<line x1="146.0" y1="306.1" x2="146.0" y2="308.6" stroke="#444" stroke-width="0.6"/>
<line x1="58.4" y1="306.1" x2="58.4" y2="307.40000000000003" stroke="#666" stroke-width="0.4"/>
<line x1="61.4" y1="306.1" x2="61.4" y2="307.40000000000003" stroke="#666" stroke-width="0.4"/>
<line x1="64.4" y1="306.1" x2="64.4" y2="307.40000000000003" stroke="#666" stroke-width="0.4"/>
<line x1="67.4" y1="306.1" x2="67.4" y2="307.40000000000003" stroke="#666" stroke-width="0.4"/>
<line x1="70.4" y1="306.1" x2="70.4" y2="307.40000000000003" stroke="#666" stroke-width="0.4"/>
<line x1="76.4" y1="306.1" x2="76.4" y2="307.40000000000003" stroke="#666" stroke-width="0.4"/>
<line x1="79.4" y1="306.1" x2="79.4" y2="307.40000000000003" stroke="#666" stroke-width="0.4"/>
<line x1="82.4" y1="306.1" x2="82.4" y2="307.40000000000003" stroke="#666" stroke-width="0.4"/>
<line x1="85.4" y1="306.1" x2="85.4" y2="307.40000000000003" stroke="#666" stroke-width="0.4"/>
<line x1="88.4" y1="306.1" x2="88.4" y2="307.40000000000003" stroke="#666" stroke-width="0.4"/>
<line x1="95.4" y1="306.1" x2="95.4" y2="307.40000000000003" stroke="#666" stroke-width="0.4"/>
<line x1="99.4" y1="306.1" x2="99.4" y2="307.40000000000003" stroke="#666" stroke-width="0.4"/>
<line x1="103.4" y1="306.1" x2="103.4" y2="307.40000000000003" stroke="#666" stroke-width="0.4"/>
<line x1="107.4" y1="306.1" x2="107.4" y2="307.40000000000003" stroke="#666" stroke-width="0.4"/>
<line x1="111.4" y1="306.1" x2="111.4" y2="307.40000000000003" stroke="#666" stroke-width="0.4"/>
<line x1="115.4" y1="306.1" x2="115.4" y2="307.40000000000003" stroke="#666" stroke-width="0.4"/>
<line x1="123.4" y1="306.1" x2="123.4" y2="307.40000000000003" stroke="#666" stroke-width="0.4"/>
<line x1="127.4" y1="306.1" x2="127.4" y2="307.40000000000003" stroke="#666" stroke-width="0.4"/>
<line x1="131.4" y1="306.1" x2="131.4" y2="307.40000000000003" stroke="#666" stroke-width="0.4"/>
<line x1="135.4" y1="306.1" x2="135.4" y2="307.40000000000003" stroke="#666" stroke-width="0.4"/>
<line x1="139.4" y1="306.1" x2="139.4" y2="307.40000000000003" stroke="#666" stroke-width="0.4"/>
<line x1="142.4" y1="306.1" x2="142.4" y2="307.40000000000003" stroke="#666" stroke-width="0.4"/>
<line x1="149.4" y1="306.1" x2="149.4" y2="307.40000000000003" stroke="#666" stroke-width="0.4"/>
<line x1="152.4" y1="306.1" x2="152.4" y2="307.40000000000003" stroke="#666" stroke-width="0.4"/>
<ellipse cx="49.4" cy="281.8" rx="1.2" ry="1.8" fill="#111"/>
<ellipse cx="73.9" cy="306.70000000000005" rx="1.8" ry="1.2" fill="#111"/>
<text x="44.2" y="212.5" font-size="8.2" text-anchor="end" fill="#262626" letter-spacing="0.5">10<tspan font-size="5.90" dy="-3.4">5</tspan></text>
<text x="44.2" y="238.0" font-size="8.2" text-anchor="end" fill="#262626" letter-spacing="0.5">10<tspan font-size="5.90" dy="-3.4">4</tspan></text>
<text x="44.2" y="267.4" font-size="8.2" text-anchor="end" fill="#262626" letter-spacing="0.5">10<tspan font-size="5.90" dy="-3.4">3</tspan></text>
<text x="44.2" y="302.0" font-size="8.2" text-anchor="end" fill="#262626" letter-spacing="0.5">−10<tspan font-size="5.90" dy="-3.4">3</tspan></text>
<text x="43.8" y="284.8" font-size="8.2" text-anchor="end" fill="#262626" >0</text>
<text x="57.9" y="320.5" font-size="8.2" text-anchor="middle" fill="#262626" letter-spacing="0.5">−10<tspan font-size="5.90" dy="-3.4">3</tspan></text>
<text x="94.0" y="320.5" font-size="8.2" text-anchor="middle" fill="#262626" letter-spacing="0.5">10<tspan font-size="5.90" dy="-3.4">3</tspan></text>
<text x="121.7" y="320.5" font-size="8.2" text-anchor="middle" fill="#262626" letter-spacing="0.5">10<tspan font-size="5.90" dy="-3.4">4</tspan></text>
<text x="148.0" y="320.5" font-size="8.2" text-anchor="middle" fill="#262626" letter-spacing="0.5">10<tspan font-size="5.90" dy="-3.4">5</tspan></text>
<text x="73.9" y="320.5" font-size="8.2" text-anchor="middle" fill="#262626" >0</text>
<path d="M74.5 251.2h1.5v1.5h-1.5zM75.0 252.7h1.5v1.5h-1.5zM74.2 250.4h1.5v1.5h-1.5zM75.5 251.1h1.5v1.5h-1.5zM82.5 245.4h1.5v1.5h-1.5zM99.7 241.6h1.5v1.5h-1.5zM99.2 244.2h1.5v1.5h-1.5zM82.8 258.1h1.5v1.5h-1.5zM86.2 257.6h1.5v1.5h-1.5zM93.0 257.6h1.5v1.5h-1.5zM72.8 261.4h1.5v1.5h-1.5zM75.2 262.2h1.5v1.5h-1.5zM77.8 261.6h1.5v1.5h-1.5zM79.5 263.1h1.5v1.5h-1.5zM78.7 264.8h1.5v1.5h-1.5zM80.3 266.4h1.5v1.5h-1.5zM81.2 268.1h1.5v1.5h-1.5zM73.7 267.8h1.5v1.5h-1.5zM94.2 266.9h1.5v1.5h-1.5zM98.8 265.2h1.5v1.5h-1.5zM111.3 268.6h1.5v1.5h-1.5zM93.2 271.1h1.5v1.5h-1.5zM86.2 273.1h1.5v1.5h-1.5zM88.2 273.9h1.5v1.5h-1.5zM83.2 273.9h1.5v1.5h-1.5zM78.7 271.4h1.5v1.5h-1.5zM81.5 270.6h1.5v1.5h-1.5zM80.0 265.6h1.5v1.5h-1.5zM76.8 263.8h1.5v1.5h-1.5zM77.2 269.2h1.5v1.5h-1.5zM82.2 261.2h1.5v1.5h-1.5zM84.2 269.8h1.5v1.5h-1.5zM79.8 259.8h1.5v1.5h-1.5zM83.8 266.1h1.5v1.5h-1.5z" fill="#36b5c8" />
<ellipse cx="75.2" cy="276.4" rx="4.4" ry="6.4" transform="rotate(20 75.2 276.4)" fill="#5cc4d2" fill-opacity="0.35" stroke="#5cc4d2" stroke-width="0.45"/>
<ellipse cx="75.2" cy="276.4" rx="3.5" ry="5.2" transform="rotate(20 75.2 276.4)" fill="#5cc4d2" fill-opacity="0.35" stroke="#5cc4d2" stroke-width="0.45"/>
<ellipse cx="75.2" cy="276.4" rx="2.5" ry="3.9" transform="rotate(20 75.2 276.4)" fill="#5cc4d2" fill-opacity="0.35" stroke="#5cc4d2" stroke-width="0.45"/>
<ellipse cx="75.2" cy="276.4" rx="1.5" ry="2.5" transform="rotate(20 75.2 276.4)" fill="#5cc4d2" fill-opacity="0.35" stroke="#5cc4d2" stroke-width="0.45"/>
<path d="M61.9 210.2 H141.7 V257.3 H61.9 Z M82.4 210.2 V286.4 H141.7 V257.3" fill="none" stroke="#333" stroke-width="0.9"/>
<text x="63.3" y="217.8" font-size="7.6" text-anchor="start" fill="#262626" >0.098</text>
<text x="140.3" y="284.2" font-size="7.6" text-anchor="end" fill="#262626" >0.16</text>
<text x="239.6" y="194.6" font-size="8.7" text-anchor="middle" fill="#262626" >T cells from tumour clusters</text>
<rect x="186.2" y="199.7" width="106.8" height="106.40000000000003" fill="#fff" stroke="#444" stroke-width="0.8"/>
<line x1="183.7" y1="209.5" x2="186.2" y2="209.5" stroke="#444" stroke-width="0.6"/>
<line x1="183.7" y1="235" x2="186.2" y2="235" stroke="#444" stroke-width="0.6"/>
<line x1="183.7" y1="264.4" x2="186.2" y2="264.4" stroke="#444" stroke-width="0.6"/>
<line x1="183.7" y1="281.8" x2="186.2" y2="281.8" stroke="#444" stroke-width="0.6"/>
<line x1="183.7" y1="299.5" x2="186.2" y2="299.5" stroke="#444" stroke-width="0.6"/>
<line x1="184.89999999999998" y1="203" x2="186.2" y2="203" stroke="#666" stroke-width="0.4"/>
<line x1="184.89999999999998" y1="205" x2="186.2" y2="205" stroke="#666" stroke-width="0.4"/>
<line x1="184.89999999999998" y1="207" x2="186.2" y2="207" stroke="#666" stroke-width="0.4"/>
<line x1="184.89999999999998" y1="214" x2="186.2" y2="214" stroke="#666" stroke-width="0.4"/>
<line x1="184.89999999999998" y1="218" x2="186.2" y2="218" stroke="#666" stroke-width="0.4"/>
<line x1="184.89999999999998" y1="221" x2="186.2" y2="221" stroke="#666" stroke-width="0.4"/>
<line x1="184.89999999999998" y1="225" x2="186.2" y2="225" stroke="#666" stroke-width="0.4"/>
<line x1="184.89999999999998" y1="228" x2="186.2" y2="228" stroke="#666" stroke-width="0.4"/>
<line x1="184.89999999999998" y1="231" x2="186.2" y2="231" stroke="#666" stroke-width="0.4"/>
<line x1="184.89999999999998" y1="240" x2="186.2" y2="240" stroke="#666" stroke-width="0.4"/>
<line x1="184.89999999999998" y1="244" x2="186.2" y2="244" stroke="#666" stroke-width="0.4"/>
<line x1="184.89999999999998" y1="248" x2="186.2" y2="248" stroke="#666" stroke-width="0.4"/>
<line x1="184.89999999999998" y1="252" x2="186.2" y2="252" stroke="#666" stroke-width="0.4"/>
<line x1="184.89999999999998" y1="256" x2="186.2" y2="256" stroke="#666" stroke-width="0.4"/>
<line x1="184.89999999999998" y1="260" x2="186.2" y2="260" stroke="#666" stroke-width="0.4"/>
<line x1="184.89999999999998" y1="268" x2="186.2" y2="268" stroke="#666" stroke-width="0.4"/>
<line x1="184.89999999999998" y1="272" x2="186.2" y2="272" stroke="#666" stroke-width="0.4"/>
<line x1="184.89999999999998" y1="276" x2="186.2" y2="276" stroke="#666" stroke-width="0.4"/>
<line x1="184.89999999999998" y1="286" x2="186.2" y2="286" stroke="#666" stroke-width="0.4"/>
<line x1="184.89999999999998" y1="290" x2="186.2" y2="290" stroke="#666" stroke-width="0.4"/>
<line x1="184.89999999999998" y1="294" x2="186.2" y2="294" stroke="#666" stroke-width="0.4"/>
<line x1="184.89999999999998" y1="302" x2="186.2" y2="302" stroke="#666" stroke-width="0.4"/>
<line x1="184.89999999999998" y1="304" x2="186.2" y2="304" stroke="#666" stroke-width="0.4"/>
<line x1="192.7" y1="306.1" x2="192.7" y2="308.6" stroke="#444" stroke-width="0.6"/>
<line x1="210.7" y1="306.1" x2="210.7" y2="308.6" stroke="#444" stroke-width="0.6"/>
<line x1="228.79999999999998" y1="306.1" x2="228.79999999999998" y2="308.6" stroke="#444" stroke-width="0.6"/>
<line x1="256.5" y1="306.1" x2="256.5" y2="308.6" stroke="#444" stroke-width="0.6"/>
<line x1="282.79999999999995" y1="306.1" x2="282.79999999999995" y2="308.6" stroke="#444" stroke-width="0.6"/>
<line x1="195.2" y1="306.1" x2="195.2" y2="307.40000000000003" stroke="#666" stroke-width="0.4"/>
<line x1="198.2" y1="306.1" x2="198.2" y2="307.40000000000003" stroke="#666" stroke-width="0.4"/>
<line x1="201.2" y1="306.1" x2="201.2" y2="307.40000000000003" stroke="#666" stroke-width="0.4"/>
<line x1="204.2" y1="306.1" x2="204.2" y2="307.40000000000003" stroke="#666" stroke-width="0.4"/>
<line x1="207.2" y1="306.1" x2="207.2" y2="307.40000000000003" stroke="#666" stroke-width="0.4"/>
<line x1="213.2" y1="306.1" x2="213.2" y2="307.40000000000003" stroke="#666" stroke-width="0.4"/>
<line x1="216.2" y1="306.1" x2="216.2" y2="307.40000000000003" stroke="#666" stroke-width="0.4"/>
<line x1="219.2" y1="306.1" x2="219.2" y2="307.40000000000003" stroke="#666" stroke-width="0.4"/>
<line x1="222.2" y1="306.1" x2="222.2" y2="307.40000000000003" stroke="#666" stroke-width="0.4"/>
<line x1="225.2" y1="306.1" x2="225.2" y2="307.40000000000003" stroke="#666" stroke-width="0.4"/>
<line x1="232.2" y1="306.1" x2="232.2" y2="307.40000000000003" stroke="#666" stroke-width="0.4"/>
<line x1="236.2" y1="306.1" x2="236.2" y2="307.40000000000003" stroke="#666" stroke-width="0.4"/>
<line x1="240.2" y1="306.1" x2="240.2" y2="307.40000000000003" stroke="#666" stroke-width="0.4"/>
<line x1="244.2" y1="306.1" x2="244.2" y2="307.40000000000003" stroke="#666" stroke-width="0.4"/>
<line x1="248.2" y1="306.1" x2="248.2" y2="307.40000000000003" stroke="#666" stroke-width="0.4"/>
<line x1="252.2" y1="306.1" x2="252.2" y2="307.40000000000003" stroke="#666" stroke-width="0.4"/>
<line x1="260.2" y1="306.1" x2="260.2" y2="307.40000000000003" stroke="#666" stroke-width="0.4"/>
<line x1="264.2" y1="306.1" x2="264.2" y2="307.40000000000003" stroke="#666" stroke-width="0.4"/>
<line x1="268.2" y1="306.1" x2="268.2" y2="307.40000000000003" stroke="#666" stroke-width="0.4"/>
<line x1="272.2" y1="306.1" x2="272.2" y2="307.40000000000003" stroke="#666" stroke-width="0.4"/>
<line x1="276.2" y1="306.1" x2="276.2" y2="307.40000000000003" stroke="#666" stroke-width="0.4"/>
<line x1="279.2" y1="306.1" x2="279.2" y2="307.40000000000003" stroke="#666" stroke-width="0.4"/>
<line x1="286.2" y1="306.1" x2="286.2" y2="307.40000000000003" stroke="#666" stroke-width="0.4"/>
<line x1="289.2" y1="306.1" x2="289.2" y2="307.40000000000003" stroke="#666" stroke-width="0.4"/>
<ellipse cx="186.2" cy="281.8" rx="1.2" ry="1.8" fill="#111"/>
<ellipse cx="210.7" cy="306.70000000000005" rx="1.8" ry="1.2" fill="#111"/>
<text x="181.0" y="212.5" font-size="8.2" text-anchor="end" fill="#262626" letter-spacing="0.5">10<tspan font-size="5.90" dy="-3.4">5</tspan></text>
<text x="181.0" y="238.0" font-size="8.2" text-anchor="end" fill="#262626" letter-spacing="0.5">10<tspan font-size="5.90" dy="-3.4">4</tspan></text>
<text x="181.0" y="267.4" font-size="8.2" text-anchor="end" fill="#262626" letter-spacing="0.5">10<tspan font-size="5.90" dy="-3.4">3</tspan></text>
<text x="181.0" y="302.0" font-size="8.2" text-anchor="end" fill="#262626" letter-spacing="0.5">−10<tspan font-size="5.90" dy="-3.4">3</tspan></text>
<text x="180.6" y="284.8" font-size="8.2" text-anchor="end" fill="#262626" >0</text>
<text x="194.7" y="320.5" font-size="8.2" text-anchor="middle" fill="#262626" letter-spacing="0.5">−10<tspan font-size="5.90" dy="-3.4">3</tspan></text>
<text x="230.8" y="320.5" font-size="8.2" text-anchor="middle" fill="#262626" letter-spacing="0.5">10<tspan font-size="5.90" dy="-3.4">3</tspan></text>
<text x="258.5" y="320.5" font-size="8.2" text-anchor="middle" fill="#262626" letter-spacing="0.5">10<tspan font-size="5.90" dy="-3.4">4</tspan></text>
<text x="284.8" y="320.5" font-size="8.2" text-anchor="middle" fill="#262626" letter-spacing="0.5">10<tspan font-size="5.90" dy="-3.4">5</tspan></text>
<text x="210.7" y="320.5" font-size="8.2" text-anchor="middle" fill="#262626" >0</text>
<path d="M212.8 270.1h1.5v1.5h-1.5zM212.9 273.2h1.5v1.5h-1.5zM211.0 274.8h1.5v1.5h-1.5zM216.3 271.5h1.5v1.5h-1.5zM216.1 274.3h1.5v1.5h-1.5zM214.5 275.3h1.5v1.5h-1.5zM209.1 264.6h1.5v1.5h-1.5zM214.8 270.3h1.5v1.5h-1.5zM209.1 250.3h1.5v1.5h-1.5zM211.1 270.8h1.5v1.5h-1.5zM214.2 277.5h1.5v1.5h-1.5zM214.8 268.0h1.5v1.5h-1.5zM214.3 271.9h1.5v1.5h-1.5zM211.7 250.8h1.5v1.5h-1.5zM214.9 259.1h1.5v1.5h-1.5zM211.8 266.4h1.5v1.5h-1.5zM212.6 276.5h1.5v1.5h-1.5zM215.1 274.3h1.5v1.5h-1.5zM212.3 262.9h1.5v1.5h-1.5zM212.1 258.7h1.5v1.5h-1.5zM211.3 274.3h1.5v1.5h-1.5zM214.6 254.4h1.5v1.5h-1.5zM213.6 257.4h1.5v1.5h-1.5zM208.2 273.1h1.5v1.5h-1.5zM213.2 265.2h1.5v1.5h-1.5zM214.7 277.3h1.5v1.5h-1.5zM209.6 265.0h1.5v1.5h-1.5zM215.2 263.1h1.5v1.5h-1.5zM217.2 272.5h1.5v1.5h-1.5zM213.8 257.5h1.5v1.5h-1.5zM215.1 268.5h1.5v1.5h-1.5zM212.3 258.0h1.5v1.5h-1.5zM210.9 269.8h1.5v1.5h-1.5zM216.8 245.7h1.5v1.5h-1.5zM209.7 274.4h1.5v1.5h-1.5zM217.2 269.0h1.5v1.5h-1.5zM208.5 238.0h1.5v1.5h-1.5zM214.4 266.5h1.5v1.5h-1.5zM210.5 262.6h1.5v1.5h-1.5zM216.3 275.7h1.5v1.5h-1.5zM214.1 271.3h1.5v1.5h-1.5zM217.6 268.3h1.5v1.5h-1.5zM214.8 269.5h1.5v1.5h-1.5zM209.4 257.7h1.5v1.5h-1.5zM215.9 269.8h1.5v1.5h-1.5zM208.3 268.1h1.5v1.5h-1.5zM215.6 249.3h1.5v1.5h-1.5zM213.0 261.9h1.5v1.5h-1.5zM210.0 252.5h1.5v1.5h-1.5zM214.9 275.8h1.5v1.5h-1.5zM214.3 267.9h1.5v1.5h-1.5zM213.8 259.9h1.5v1.5h-1.5zM211.7 271.6h1.5v1.5h-1.5zM216.2 277.8h1.5v1.5h-1.5zM211.2 263.1h1.5v1.5h-1.5zM217.3 271.1h1.5v1.5h-1.5zM209.9 276.1h1.5v1.5h-1.5zM213.1 273.5h1.5v1.5h-1.5zM217.1 261.8h1.5v1.5h-1.5zM216.7 258.0h1.5v1.5h-1.5zM211.4 268.1h1.5v1.5h-1.5zM216.4 264.5h1.5v1.5h-1.5zM214.3 276.0h1.5v1.5h-1.5zM213.8 269.0h1.5v1.5h-1.5zM213.0 273.8h1.5v1.5h-1.5zM214.9 278.2h1.5v1.5h-1.5zM215.4 269.2h1.5v1.5h-1.5zM218.4 273.1h1.5v1.5h-1.5zM212.3 272.3h1.5v1.5h-1.5zM213.4 263.5h1.5v1.5h-1.5zM212.6 272.1h1.5v1.5h-1.5zM218.2 237.2h1.5v1.5h-1.5zM210.5 274.3h1.5v1.5h-1.5zM214.5 274.4h1.5v1.5h-1.5zM212.3 267.8h1.5v1.5h-1.5zM214.2 269.9h1.5v1.5h-1.5zM218.4 272.6h1.5v1.5h-1.5zM212.0 276.7h1.5v1.5h-1.5zM212.9 277.2h1.5v1.5h-1.5zM206.9 270.5h1.5v1.5h-1.5zM216.1 259.6h1.5v1.5h-1.5zM213.3 263.0h1.5v1.5h-1.5zM215.7 254.4h1.5v1.5h-1.5zM209.0 272.6h1.5v1.5h-1.5zM212.6 268.3h1.5v1.5h-1.5zM216.3 235.3h1.5v1.5h-1.5zM216.3 255.1h1.5v1.5h-1.5zM215.2 254.4h1.5v1.5h-1.5zM213.9 259.1h1.5v1.5h-1.5zM213.1 275.2h1.5v1.5h-1.5zM215.5 276.0h1.5v1.5h-1.5zM213.2 253.7h1.5v1.5h-1.5zM216.2 273.5h1.5v1.5h-1.5zM218.4 259.9h1.5v1.5h-1.5zM215.8 274.0h1.5v1.5h-1.5zM213.8 267.0h1.5v1.5h-1.5zM214.0 268.0h1.5v1.5h-1.5zM209.5 254.1h1.5v1.5h-1.5zM215.0 262.8h1.5v1.5h-1.5zM210.8 254.7h1.5v1.5h-1.5zM216.7 266.3h1.5v1.5h-1.5zM217.3 263.2h1.5v1.5h-1.5zM213.5 260.0h1.5v1.5h-1.5zM215.4 252.8h1.5v1.5h-1.5zM211.1 253.3h1.5v1.5h-1.5zM216.0 275.4h1.5v1.5h-1.5zM208.3 255.7h1.5v1.5h-1.5zM213.2 268.6h1.5v1.5h-1.5zM214.5 271.7h1.5v1.5h-1.5zM217.3 261.9h1.5v1.5h-1.5zM216.4 254.5h1.5v1.5h-1.5zM217.2 275.4h1.5v1.5h-1.5zM211.5 262.0h1.5v1.5h-1.5zM213.7 276.3h1.5v1.5h-1.5zM217.2 274.0h1.5v1.5h-1.5zM207.5 272.1h1.5v1.5h-1.5zM208.6 265.1h1.5v1.5h-1.5zM214.3 268.5h1.5v1.5h-1.5zM213.4 264.9h1.5v1.5h-1.5zM213.7 257.0h1.5v1.5h-1.5zM213.3 261.6h1.5v1.5h-1.5zM217.3 252.5h1.5v1.5h-1.5zM211.7 264.2h1.5v1.5h-1.5zM208.6 260.9h1.5v1.5h-1.5zM208.3 261.1h1.5v1.5h-1.5zM210.2 278.0h1.5v1.5h-1.5zM213.0 277.8h1.5v1.5h-1.5zM211.9 274.5h1.5v1.5h-1.5zM218.1 277.5h1.5v1.5h-1.5zM214.8 262.2h1.5v1.5h-1.5zM212.9 258.1h1.5v1.5h-1.5zM212.0 261.1h1.5v1.5h-1.5zM209.2 268.7h1.5v1.5h-1.5zM216.1 265.6h1.5v1.5h-1.5zM213.5 265.4h1.5v1.5h-1.5zM213.9 259.4h1.5v1.5h-1.5zM209.4 268.0h1.5v1.5h-1.5zM215.8 269.2h1.5v1.5h-1.5zM211.1 265.9h1.5v1.5h-1.5zM209.5 276.4h1.5v1.5h-1.5zM210.4 272.4h1.5v1.5h-1.5zM207.3 273.0h1.5v1.5h-1.5zM211.8 247.2h1.5v1.5h-1.5zM215.3 273.8h1.5v1.5h-1.5zM207.7 264.2h1.5v1.5h-1.5zM214.2 270.9h1.5v1.5h-1.5zM215.5 266.3h1.5v1.5h-1.5zM215.2 273.0h1.5v1.5h-1.5zM216.9 267.7h1.5v1.5h-1.5zM214.6 244.9h1.5v1.5h-1.5zM215.8 257.3h1.5v1.5h-1.5zM212.7 270.7h1.5v1.5h-1.5zM218.4 250.1h1.5v1.5h-1.5zM214.7 239.5h1.5v1.5h-1.5zM211.0 267.2h1.5v1.5h-1.5zM218.4 276.3h1.5v1.5h-1.5zM214.9 263.8h1.5v1.5h-1.5zM211.1 276.8h1.5v1.5h-1.5zM214.2 265.0h1.5v1.5h-1.5zM213.4 275.1h1.5v1.5h-1.5zM210.8 272.5h1.5v1.5h-1.5zM215.8 276.6h1.5v1.5h-1.5zM211.2 264.8h1.5v1.5h-1.5zM218.4 260.0h1.5v1.5h-1.5zM215.1 236.8h1.5v1.5h-1.5zM215.1 270.6h1.5v1.5h-1.5zM217.8 271.4h1.5v1.5h-1.5zM213.3 269.9h1.5v1.5h-1.5zM208.4 261.7h1.5v1.5h-1.5zM214.3 267.0h1.5v1.5h-1.5zM216.9 249.3h1.5v1.5h-1.5zM209.8 267.6h1.5v1.5h-1.5zM214.2 275.3h1.5v1.5h-1.5zM212.4 262.7h1.5v1.5h-1.5zM218.4 261.7h1.5v1.5h-1.5zM210.3 256.7h1.5v1.5h-1.5zM217.9 262.4h1.5v1.5h-1.5zM218.2 265.3h1.5v1.5h-1.5zM211.2 274.1h1.5v1.5h-1.5zM207.8 266.3h1.5v1.5h-1.5zM213.3 269.9h1.5v1.5h-1.5zM211.6 276.3h1.5v1.5h-1.5zM214.6 272.2h1.5v1.5h-1.5zM215.1 274.9h1.5v1.5h-1.5zM212.6 265.6h1.5v1.5h-1.5zM213.6 265.0h1.5v1.5h-1.5zM211.8 278.2h1.5v1.5h-1.5zM213.2 275.7h1.5v1.5h-1.5zM213.4 275.4h1.5v1.5h-1.5zM213.1 258.1h1.5v1.5h-1.5zM214.5 261.4h1.5v1.5h-1.5zM214.6 275.2h1.5v1.5h-1.5zM214.6 262.8h1.5v1.5h-1.5zM208.5 277.3h1.5v1.5h-1.5zM211.0 266.4h1.5v1.5h-1.5zM210.6 236.2h1.5v1.5h-1.5zM210.7 253.0h1.5v1.5h-1.5zM212.5 256.3h1.5v1.5h-1.5zM211.5 269.9h1.5v1.5h-1.5zM214.7 275.4h1.5v1.5h-1.5zM217.3 266.9h1.5v1.5h-1.5zM213.4 268.7h1.5v1.5h-1.5zM217.8 262.7h1.5v1.5h-1.5zM216.1 260.9h1.5v1.5h-1.5zM213.1 266.6h1.5v1.5h-1.5zM212.7 261.1h1.5v1.5h-1.5zM215.0 263.7h1.5v1.5h-1.5zM212.9 237.5h1.5v1.5h-1.5zM216.7 274.8h1.5v1.5h-1.5zM213.7 236.7h1.5v1.5h-1.5zM220.9 275.2h1.5v1.5h-1.5zM227.3 272.3h1.5v1.5h-1.5zM229.1 272.9h1.5v1.5h-1.5zM221.0 276.1h1.5v1.5h-1.5zM225.3 272.3h1.5v1.5h-1.5zM226.0 274.1h1.5v1.5h-1.5zM219.5 272.4h1.5v1.5h-1.5zM219.9 274.6h1.5v1.5h-1.5zM228.0 270.1h1.5v1.5h-1.5zM217.5 267.3h1.5v1.5h-1.5zM221.8 265.4h1.5v1.5h-1.5zM224.3 274.2h1.5v1.5h-1.5zM223.1 272.1h1.5v1.5h-1.5zM219.8 267.4h1.5v1.5h-1.5zM235.7 274.0h1.5v1.5h-1.5zM228.4 269.3h1.5v1.5h-1.5zM219.3 266.1h1.5v1.5h-1.5zM225.3 275.4h1.5v1.5h-1.5zM236.4 272.1h1.5v1.5h-1.5zM223.8 266.3h1.5v1.5h-1.5zM235.7 268.6h1.5v1.5h-1.5zM223.7 267.5h1.5v1.5h-1.5zM217.8 273.1h1.5v1.5h-1.5zM223.8 274.6h1.5v1.5h-1.5zM232.5 276.2h1.5v1.5h-1.5zM230.6 270.5h1.5v1.5h-1.5zM228.1 268.6h1.5v1.5h-1.5zM218.3 272.3h1.5v1.5h-1.5zM222.4 266.9h1.5v1.5h-1.5zM229.8 272.2h1.5v1.5h-1.5zM219.4 271.2h1.5v1.5h-1.5zM218.1 269.7h1.5v1.5h-1.5zM224.5 273.5h1.5v1.5h-1.5zM218.3 270.0h1.5v1.5h-1.5zM219.2 263.0h1.5v1.5h-1.5zM227.3 272.4h1.5v1.5h-1.5zM232.5 272.9h1.5v1.5h-1.5zM218.9 267.6h1.5v1.5h-1.5zM220.0 271.2h1.5v1.5h-1.5zM222.0 274.3h1.5v1.5h-1.5zM217.8 269.4h1.5v1.5h-1.5zM218.9 272.0h1.5v1.5h-1.5zM224.8 273.3h1.5v1.5h-1.5zM224.7 267.6h1.5v1.5h-1.5zM221.2 269.7h1.5v1.5h-1.5zM228.6 271.9h1.5v1.5h-1.5zM222.4 272.6h1.5v1.5h-1.5zM222.7 270.8h1.5v1.5h-1.5zM240.7 271.2h1.5v1.5h-1.5zM228.5 272.7h1.5v1.5h-1.5zM228.6 264.2h1.5v1.5h-1.5zM225.0 273.1h1.5v1.5h-1.5zM223.5 280.2h1.5v1.5h-1.5zM220.7 276.6h1.5v1.5h-1.5zM225.1 275.5h1.5v1.5h-1.5zM222.6 271.7h1.5v1.5h-1.5zM222.5 268.6h1.5v1.5h-1.5zM229.3 268.8h1.5v1.5h-1.5zM219.9 279.5h1.5v1.5h-1.5zM219.7 272.3h1.5v1.5h-1.5zM229.1 272.3h1.5v1.5h-1.5zM225.5 273.1h1.5v1.5h-1.5zM223.3 274.7h1.5v1.5h-1.5zM225.2 278.2h1.5v1.5h-1.5zM234.1 272.3h1.5v1.5h-1.5zM220.1 270.8h1.5v1.5h-1.5zM231.6 269.9h1.5v1.5h-1.5zM224.2 270.6h1.5v1.5h-1.5zM224.4 274.7h1.5v1.5h-1.5zM230.8 272.2h1.5v1.5h-1.5zM224.2 275.0h1.5v1.5h-1.5zM217.9 273.3h1.5v1.5h-1.5zM232.7 276.1h1.5v1.5h-1.5zM222.6 280.0h1.5v1.5h-1.5zM217.5 274.9h1.5v1.5h-1.5zM223.9 272.1h1.5v1.5h-1.5zM234.9 278.3h1.5v1.5h-1.5zM231.1 268.1h1.5v1.5h-1.5zM232.5 266.7h1.5v1.5h-1.5zM229.2 270.7h1.5v1.5h-1.5zM218.1 271.2h1.5v1.5h-1.5zM218.7 268.6h1.5v1.5h-1.5zM217.7 267.4h1.5v1.5h-1.5zM218.2 273.3h1.5v1.5h-1.5zM222.1 271.5h1.5v1.5h-1.5zM226.5 272.8h1.5v1.5h-1.5zM222.3 277.6h1.5v1.5h-1.5zM225.1 271.9h1.5v1.5h-1.5zM222.2 269.9h1.5v1.5h-1.5zM226.8 271.0h1.5v1.5h-1.5zM220.4 274.0h1.5v1.5h-1.5zM223.1 279.4h1.5v1.5h-1.5zM224.5 272.3h1.5v1.5h-1.5zM245.4 265.9h1.5v1.5h-1.5zM222.7 272.8h1.5v1.5h-1.5zM219.0 273.6h1.5v1.5h-1.5zM219.8 273.5h1.5v1.5h-1.5zM218.0 274.9h1.5v1.5h-1.5zM236.4 269.2h1.5v1.5h-1.5zM217.5 268.7h1.5v1.5h-1.5zM227.9 274.4h1.5v1.5h-1.5zM223.9 274.4h1.5v1.5h-1.5zM224.9 273.3h1.5v1.5h-1.5zM222.5 271.9h1.5v1.5h-1.5zM231.5 272.1h1.5v1.5h-1.5zM222.0 270.5h1.5v1.5h-1.5zM218.4 274.8h1.5v1.5h-1.5zM226.2 274.4h1.5v1.5h-1.5zM236.1 270.4h1.5v1.5h-1.5zM218.9 271.7h1.5v1.5h-1.5zM232.9 273.3h1.5v1.5h-1.5zM226.4 269.9h1.5v1.5h-1.5zM217.6 272.2h1.5v1.5h-1.5zM235.2 277.1h1.5v1.5h-1.5zM226.4 266.3h1.5v1.5h-1.5zM224.9 271.8h1.5v1.5h-1.5zM221.9 273.5h1.5v1.5h-1.5zM232.4 271.5h1.5v1.5h-1.5zM232.4 270.3h1.5v1.5h-1.5zM227.7 267.6h1.5v1.5h-1.5zM229.7 273.4h1.5v1.5h-1.5zM234.4 273.7h1.5v1.5h-1.5zM219.9 279.8h1.5v1.5h-1.5zM222.6 270.0h1.5v1.5h-1.5zM222.7 274.1h1.5v1.5h-1.5zM227.6 268.3h1.5v1.5h-1.5zM220.4 273.1h1.5v1.5h-1.5zM230.5 271.6h1.5v1.5h-1.5zM222.9 273.8h1.5v1.5h-1.5zM218.6 272.0h1.5v1.5h-1.5zM221.0 275.8h1.5v1.5h-1.5zM231.4 271.0h1.5v1.5h-1.5zM225.9 269.7h1.5v1.5h-1.5zM218.2 274.8h1.5v1.5h-1.5zM232.6 270.9h1.5v1.5h-1.5zM218.2 272.9h1.5v1.5h-1.5zM232.4 272.3h1.5v1.5h-1.5zM224.2 273.5h1.5v1.5h-1.5zM228.7 265.5h1.5v1.5h-1.5zM217.8 273.1h1.5v1.5h-1.5zM222.9 275.3h1.5v1.5h-1.5zM220.2 270.2h1.5v1.5h-1.5zM222.2 266.9h1.5v1.5h-1.5zM224.2 272.2h1.5v1.5h-1.5zM225.9 271.7h1.5v1.5h-1.5zM220.5 270.0h1.5v1.5h-1.5zM220.5 277.9h1.5v1.5h-1.5zM224.3 280.3h1.5v1.5h-1.5zM223.9 272.3h1.5v1.5h-1.5zM219.2 275.7h1.5v1.5h-1.5zM229.8 265.1h1.5v1.5h-1.5zM223.5 275.0h1.5v1.5h-1.5zM223.7 281.2h1.5v1.5h-1.5zM219.5 273.1h1.5v1.5h-1.5zM226.7 273.5h1.5v1.5h-1.5zM234.1 268.0h1.5v1.5h-1.5zM221.2 260.5h1.5v1.5h-1.5zM225.6 271.0h1.5v1.5h-1.5zM226.7 279.6h1.5v1.5h-1.5zM217.5 271.4h1.5v1.5h-1.5zM222.4 269.4h1.5v1.5h-1.5zM223.8 274.4h1.5v1.5h-1.5zM217.8 272.5h1.5v1.5h-1.5zM219.2 275.4h1.5v1.5h-1.5zM222.4 271.8h1.5v1.5h-1.5zM224.1 271.7h1.5v1.5h-1.5zM229.0 277.2h1.5v1.5h-1.5zM222.1 269.0h1.5v1.5h-1.5zM228.2 273.4h1.5v1.5h-1.5zM233.1 277.7h1.5v1.5h-1.5zM258.2 222.6h1.5v1.5h-1.5zM218.0 273.6h1.5v1.5h-1.5zM230.0 275.8h1.5v1.5h-1.5zM229.4 261.8h1.5v1.5h-1.5zM235.1 265.6h1.5v1.5h-1.5zM225.7 263.9h1.5v1.5h-1.5zM262.7 258.8h1.5v1.5h-1.5zM235.7 263.1h1.5v1.5h-1.5zM228.6 234.5h1.5v1.5h-1.5zM237.0 277.8h1.5v1.5h-1.5zM227.6 267.1h1.5v1.5h-1.5zM216.8 237.3h1.5v1.5h-1.5zM225.3 276.7h1.5v1.5h-1.5zM222.5 232.1h1.5v1.5h-1.5zM248.6 258.0h1.5v1.5h-1.5zM225.0 238.4h1.5v1.5h-1.5zM259.8 252.0h1.5v1.5h-1.5zM232.0 275.5h1.5v1.5h-1.5zM225.7 262.5h1.5v1.5h-1.5zM214.8 272.5h1.5v1.5h-1.5zM240.7 229.7h1.5v1.5h-1.5zM219.5 256.3h1.5v1.5h-1.5zM244.2 273.9h1.5v1.5h-1.5zM270.1 248.2h1.5v1.5h-1.5zM249.8 268.1h1.5v1.5h-1.5zM262.7 268.3h1.5v1.5h-1.5zM255.8 272.3h1.5v1.5h-1.5zM246.5 264.2h1.5v1.5h-1.5zM215.8 256.1h1.5v1.5h-1.5zM219.7 245.9h1.5v1.5h-1.5zM216.8 257.2h1.5v1.5h-1.5zM217.5 249.5h1.5v1.5h-1.5zM225.5 277.2h1.5v1.5h-1.5zM269.0 273.4h1.5v1.5h-1.5zM259.4 274.2h1.5v1.5h-1.5zM234.5 264.1h1.5v1.5h-1.5zM223.6 274.6h1.5v1.5h-1.5zM235.0 270.9h1.5v1.5h-1.5zM247.5 271.4h1.5v1.5h-1.5zM217.2 267.8h1.5v1.5h-1.5zM252.3 238.4h1.5v1.5h-1.5zM220.5 241.0h1.5v1.5h-1.5zM247.7 254.4h1.5v1.5h-1.5zM250.0 247.8h1.5v1.5h-1.5zM215.1 257.7h1.5v1.5h-1.5zM234.4 257.7h1.5v1.5h-1.5zM237.6 234.0h1.5v1.5h-1.5zM259.1 261.7h1.5v1.5h-1.5zM220.5 233.7h1.5v1.5h-1.5zM215.3 235.4h1.5v1.5h-1.5zM233.1 271.3h1.5v1.5h-1.5zM228.1 272.9h1.5v1.5h-1.5zM222.7 221.8h1.5v1.5h-1.5zM218.2 254.5h1.5v1.5h-1.5zM218.2 270.6h1.5v1.5h-1.5zM250.4 236.9h1.5v1.5h-1.5zM220.0 264.2h1.5v1.5h-1.5zM232.6 244.8h1.5v1.5h-1.5zM216.2 244.2h1.5v1.5h-1.5zM219.6 267.8h1.5v1.5h-1.5zM242.5 266.5h1.5v1.5h-1.5zM229.3 275.0h1.5v1.5h-1.5zM226.7 260.8h1.5v1.5h-1.5zM220.7 257.2h1.5v1.5h-1.5zM236.9 271.9h1.5v1.5h-1.5zM229.5 272.5h1.5v1.5h-1.5zM236.1 271.5h1.5v1.5h-1.5zM252.2 263.3h1.5v1.5h-1.5zM254.5 269.2h1.5v1.5h-1.5zM223.3 234.6h1.5v1.5h-1.5zM225.2 276.8h1.5v1.5h-1.5zM220.3 276.1h1.5v1.5h-1.5zM250.5 247.1h1.5v1.5h-1.5zM237.8 275.2h1.5v1.5h-1.5zM221.4 277.3h1.5v1.5h-1.5zM217.7 236.2h1.5v1.5h-1.5zM215.2 244.5h1.5v1.5h-1.5zM236.8 232.5h1.5v1.5h-1.5zM241.2 252.8h1.5v1.5h-1.5zM231.2 252.0h1.5v1.5h-1.5zM229.7 242.1h1.5v1.5h-1.5zM238.7 231.0h1.5v1.5h-1.5zM267.4 269.8h1.5v1.5h-1.5zM222.5 268.5h1.5v1.5h-1.5zM251.8 234.8h1.5v1.5h-1.5zM225.7 260.4h1.5v1.5h-1.5zM222.4 248.8h1.5v1.5h-1.5zM214.8 269.0h1.5v1.5h-1.5zM218.7 257.2h1.5v1.5h-1.5zM216.1 255.6h1.5v1.5h-1.5zM216.4 261.9h1.5v1.5h-1.5zM233.8 270.2h1.5v1.5h-1.5zM246.0 268.2h1.5v1.5h-1.5zM250.6 265.7h1.5v1.5h-1.5zM217.3 237.7h1.5v1.5h-1.5zM225.3 273.7h1.5v1.5h-1.5zM226.6 258.9h1.5v1.5h-1.5zM216.6 265.2h1.5v1.5h-1.5zM231.7 244.7h1.5v1.5h-1.5zM217.6 253.2h1.5v1.5h-1.5zM221.2 267.2h1.5v1.5h-1.5zM266.8 246.1h1.5v1.5h-1.5zM220.3 257.6h1.5v1.5h-1.5zM223.1 221.2h1.5v1.5h-1.5zM219.5 270.7h1.5v1.5h-1.5zM215.5 262.0h1.5v1.5h-1.5zM256.3 231.1h1.5v1.5h-1.5zM228.9 276.2h1.5v1.5h-1.5zM222.7 266.5h1.5v1.5h-1.5zM217.9 276.7h1.5v1.5h-1.5zM214.5 235.5h1.5v1.5h-1.5zM216.9 268.6h1.5v1.5h-1.5zM266.5 240.4h1.5v1.5h-1.5zM246.0 266.5h1.5v1.5h-1.5zM257.2 274.3h1.5v1.5h-1.5zM259.6 246.9h1.5v1.5h-1.5zM260.4 265.0h1.5v1.5h-1.5zM225.2 231.4h1.5v1.5h-1.5zM237.4 250.2h1.5v1.5h-1.5zM217.0 278.1h1.5v1.5h-1.5zM223.4 254.9h1.5v1.5h-1.5zM244.1 221.4h1.5v1.5h-1.5zM261.1 276.1h1.5v1.5h-1.5zM216.6 231.9h1.5v1.5h-1.5zM271.0 233.1h1.5v1.5h-1.5zM266.0 268.8h1.5v1.5h-1.5zM220.5 239.0h1.5v1.5h-1.5zM221.5 248.2h1.5v1.5h-1.5zM215.2 261.8h1.5v1.5h-1.5zM216.5 274.1h1.5v1.5h-1.5zM222.4 246.2h1.5v1.5h-1.5zM241.7 256.7h1.5v1.5h-1.5zM229.6 244.1h1.5v1.5h-1.5zM229.9 268.9h1.5v1.5h-1.5zM224.0 248.7h1.5v1.5h-1.5zM217.7 272.2h1.5v1.5h-1.5zM226.5 247.9h1.5v1.5h-1.5zM217.7 262.4h1.5v1.5h-1.5zM233.9 228.4h1.5v1.5h-1.5zM239.3 273.1h1.5v1.5h-1.5zM258.4 261.5h1.5v1.5h-1.5zM247.7 232.0h1.5v1.5h-1.5zM217.6 267.3h1.5v1.5h-1.5zM215.3 273.0h1.5v1.5h-1.5zM235.6 254.8h1.5v1.5h-1.5zM236.2 263.8h1.5v1.5h-1.5zM215.6 276.4h1.5v1.5h-1.5zM254.3 231.6h1.5v1.5h-1.5zM221.4 243.8h1.5v1.5h-1.5zM248.2 270.2h1.5v1.5h-1.5zM247.1 263.6h1.5v1.5h-1.5zM238.4 269.0h1.5v1.5h-1.5zM218.4 245.4h1.5v1.5h-1.5zM216.4 257.5h1.5v1.5h-1.5zM244.9 228.9h1.5v1.5h-1.5zM230.9 234.4h1.5v1.5h-1.5zM247.0 258.0h1.5v1.5h-1.5zM236.3 254.2h1.5v1.5h-1.5zM234.6 270.2h1.5v1.5h-1.5zM239.5 262.9h1.5v1.5h-1.5zM227.3 275.9h1.5v1.5h-1.5zM223.3 239.8h1.5v1.5h-1.5zM221.7 270.8h1.5v1.5h-1.5zM222.7 253.6h1.5v1.5h-1.5zM219.5 273.6h1.5v1.5h-1.5zM245.1 278.2h1.5v1.5h-1.5zM234.8 254.7h1.5v1.5h-1.5zM220.1 242.0h1.5v1.5h-1.5zM250.1 278.0h1.5v1.5h-1.5zM244.7 267.6h1.5v1.5h-1.5zM232.6 277.0h1.5v1.5h-1.5zM247.9 259.0h1.5v1.5h-1.5zM242.8 252.3h1.5v1.5h-1.5zM247.2 244.1h1.5v1.5h-1.5zM223.4 264.3h1.5v1.5h-1.5zM232.9 261.7h1.5v1.5h-1.5zM224.1 235.7h1.5v1.5h-1.5zM240.1 242.6h1.5v1.5h-1.5zM239.5 256.2h1.5v1.5h-1.5zM217.0 274.2h1.5v1.5h-1.5zM242.7 275.3h1.5v1.5h-1.5zM236.7 261.9h1.5v1.5h-1.5zM232.1 271.0h1.5v1.5h-1.5zM231.0 252.8h1.5v1.5h-1.5zM234.5 234.5h1.5v1.5h-1.5zM230.6 234.0h1.5v1.5h-1.5zM262.1 266.9h1.5v1.5h-1.5zM234.6 262.2h1.5v1.5h-1.5zM221.9 261.2h1.5v1.5h-1.5zM228.5 255.5h1.5v1.5h-1.5zM232.2 242.9h1.5v1.5h-1.5zM224.5 269.6h1.5v1.5h-1.5zM235.1 249.3h1.5v1.5h-1.5zM218.2 238.3h1.5v1.5h-1.5zM221.6 261.8h1.5v1.5h-1.5zM264.8 270.2h1.5v1.5h-1.5zM252.0 260.8h1.5v1.5h-1.5zM256.3 261.6h1.5v1.5h-1.5zM216.7 229.6h1.5v1.5h-1.5zM231.7 242.3h1.5v1.5h-1.5zM232.2 257.3h1.5v1.5h-1.5zM258.7 236.9h1.5v1.5h-1.5zM263.1 255.5h1.5v1.5h-1.5zM226.4 273.3h1.5v1.5h-1.5zM219.4 260.5h1.5v1.5h-1.5zM257.1 268.3h1.5v1.5h-1.5zM219.6 275.1h1.5v1.5h-1.5zM217.5 260.7h1.5v1.5h-1.5zM243.6 274.1h1.5v1.5h-1.5zM222.2 261.3h1.5v1.5h-1.5zM239.8 274.5h1.5v1.5h-1.5zM231.5 271.6h1.5v1.5h-1.5zM245.7 264.4h1.5v1.5h-1.5zM258.1 268.5h1.5v1.5h-1.5zM230.9 241.2h1.5v1.5h-1.5zM217.9 236.5h1.5v1.5h-1.5zM254.4 246.2h1.5v1.5h-1.5zM224.0 224.4h1.5v1.5h-1.5zM271.0 263.8h1.5v1.5h-1.5zM220.7 248.6h1.5v1.5h-1.5zM225.3 251.7h1.5v1.5h-1.5zM228.5 228.3h1.5v1.5h-1.5zM225.0 268.1h1.5v1.5h-1.5zM235.5 252.2h1.5v1.5h-1.5zM261.8 234.1h1.5v1.5h-1.5zM242.6 249.2h1.5v1.5h-1.5zM231.5 254.0h1.5v1.5h-1.5zM269.7 225.5h1.5v1.5h-1.5zM214.6 269.0h1.5v1.5h-1.5zM261.5 272.7h1.5v1.5h-1.5zM234.3 231.6h1.5v1.5h-1.5zM217.9 259.5h1.5v1.5h-1.5zM241.9 257.8h1.5v1.5h-1.5zM234.0 271.6h1.5v1.5h-1.5zM225.2 259.6h1.5v1.5h-1.5zM219.3 258.6h1.5v1.5h-1.5zM246.6 243.2h1.5v1.5h-1.5zM224.7 271.9h1.5v1.5h-1.5zM220.8 270.3h1.5v1.5h-1.5zM219.9 251.0h1.5v1.5h-1.5zM242.3 252.4h1.5v1.5h-1.5zM221.0 277.7h1.5v1.5h-1.5zM220.3 268.4h1.5v1.5h-1.5zM224.2 275.9h1.5v1.5h-1.5zM217.7 234.0h1.5v1.5h-1.5zM215.3 254.7h1.5v1.5h-1.5zM231.5 261.3h1.5v1.5h-1.5zM224.0 263.5h1.5v1.5h-1.5zM268.5 262.1h1.5v1.5h-1.5zM220.9 221.5h1.5v1.5h-1.5zM231.0 260.1h1.5v1.5h-1.5zM222.7 271.0h1.5v1.5h-1.5zM215.2 240.1h1.5v1.5h-1.5zM223.5 269.3h1.5v1.5h-1.5zM264.2 255.7h1.5v1.5h-1.5zM236.6 240.8h1.5v1.5h-1.5zM247.5 239.6h1.5v1.5h-1.5zM240.6 277.5h1.5v1.5h-1.5zM222.8 259.2h1.5v1.5h-1.5zM230.0 249.3h1.5v1.5h-1.5zM212.6 225.9h1.5v1.5h-1.5zM216.1 237.1h1.5v1.5h-1.5zM207.8 226.7h1.5v1.5h-1.5zM214.4 234.2h1.5v1.5h-1.5zM214.4 228.4h1.5v1.5h-1.5zM213.2 222.0h1.5v1.5h-1.5zM210.0 232.3h1.5v1.5h-1.5zM215.3 235.8h1.5v1.5h-1.5zM213.6 220.5h1.5v1.5h-1.5zM214.3 231.0h1.5v1.5h-1.5zM212.0 228.5h1.5v1.5h-1.5zM210.6 226.5h1.5v1.5h-1.5zM211.1 214.7h1.5v1.5h-1.5zM210.5 221.0h1.5v1.5h-1.5zM216.3 224.8h1.5v1.5h-1.5zM210.8 219.1h1.5v1.5h-1.5zM209.6 221.6h1.5v1.5h-1.5zM208.7 213.4h1.5v1.5h-1.5z" fill="#7e4fb0" />
<ellipse cx="212.0" cy="276.4" rx="3.6" ry="5.2" transform="rotate(20 212.0 276.4)" fill="#b89ad6" fill-opacity="0.22" stroke="#b89ad6" stroke-width="0.45"/>
<ellipse cx="212.0" cy="276.4" rx="2.7" ry="4" transform="rotate(20 212.0 276.4)" fill="#b89ad6" fill-opacity="0.22" stroke="#b89ad6" stroke-width="0.45"/>
<ellipse cx="212.0" cy="276.4" rx="1.8" ry="2.8" transform="rotate(20 212.0 276.4)" fill="#b89ad6" fill-opacity="0.22" stroke="#b89ad6" stroke-width="0.45"/>
<ellipse cx="212.0" cy="276.4" rx="1" ry="1.7" transform="rotate(20 212.0 276.4)" fill="#b89ad6" fill-opacity="0.22" stroke="#b89ad6" stroke-width="0.45"/>
<path d="M198.7 210.2 H278.5 V257.3 H198.7 Z M219.2 210.2 V286.4 H278.5 V257.3" fill="none" stroke="#333" stroke-width="0.9"/>
<text x="200.1" y="217.8" font-size="7.6" text-anchor="start" fill="#262626" >2.00</text>
<text x="277.1" y="284.2" font-size="7.6" text-anchor="end" fill="#262626" >3.07</text>
<text x="382.2" y="194.6" font-size="8.7" text-anchor="middle" fill="#262626" >T cells from APC clusters</text>
<rect x="328.8" y="199.7" width="106.8" height="106.40000000000003" fill="#fff" stroke="#444" stroke-width="0.8"/>
<line x1="326.3" y1="209.5" x2="328.8" y2="209.5" stroke="#444" stroke-width="0.6"/>
<line x1="326.3" y1="235" x2="328.8" y2="235" stroke="#444" stroke-width="0.6"/>
<line x1="326.3" y1="264.4" x2="328.8" y2="264.4" stroke="#444" stroke-width="0.6"/>
<line x1="326.3" y1="281.8" x2="328.8" y2="281.8" stroke="#444" stroke-width="0.6"/>
<line x1="326.3" y1="299.5" x2="328.8" y2="299.5" stroke="#444" stroke-width="0.6"/>
<line x1="327.5" y1="203" x2="328.8" y2="203" stroke="#666" stroke-width="0.4"/>
<line x1="327.5" y1="205" x2="328.8" y2="205" stroke="#666" stroke-width="0.4"/>
<line x1="327.5" y1="207" x2="328.8" y2="207" stroke="#666" stroke-width="0.4"/>
<line x1="327.5" y1="214" x2="328.8" y2="214" stroke="#666" stroke-width="0.4"/>
<line x1="327.5" y1="218" x2="328.8" y2="218" stroke="#666" stroke-width="0.4"/>
<line x1="327.5" y1="221" x2="328.8" y2="221" stroke="#666" stroke-width="0.4"/>
<line x1="327.5" y1="225" x2="328.8" y2="225" stroke="#666" stroke-width="0.4"/>
<line x1="327.5" y1="228" x2="328.8" y2="228" stroke="#666" stroke-width="0.4"/>
<line x1="327.5" y1="231" x2="328.8" y2="231" stroke="#666" stroke-width="0.4"/>
<line x1="327.5" y1="240" x2="328.8" y2="240" stroke="#666" stroke-width="0.4"/>
<line x1="327.5" y1="244" x2="328.8" y2="244" stroke="#666" stroke-width="0.4"/>
<line x1="327.5" y1="248" x2="328.8" y2="248" stroke="#666" stroke-width="0.4"/>
<line x1="327.5" y1="252" x2="328.8" y2="252" stroke="#666" stroke-width="0.4"/>
<line x1="327.5" y1="256" x2="328.8" y2="256" stroke="#666" stroke-width="0.4"/>
<line x1="327.5" y1="260" x2="328.8" y2="260" stroke="#666" stroke-width="0.4"/>
<line x1="327.5" y1="268" x2="328.8" y2="268" stroke="#666" stroke-width="0.4"/>
<line x1="327.5" y1="272" x2="328.8" y2="272" stroke="#666" stroke-width="0.4"/>
<line x1="327.5" y1="276" x2="328.8" y2="276" stroke="#666" stroke-width="0.4"/>
<line x1="327.5" y1="286" x2="328.8" y2="286" stroke="#666" stroke-width="0.4"/>
<line x1="327.5" y1="290" x2="328.8" y2="290" stroke="#666" stroke-width="0.4"/>
<line x1="327.5" y1="294" x2="328.8" y2="294" stroke="#666" stroke-width="0.4"/>
<line x1="327.5" y1="302" x2="328.8" y2="302" stroke="#666" stroke-width="0.4"/>
<line x1="327.5" y1="304" x2="328.8" y2="304" stroke="#666" stroke-width="0.4"/>
<line x1="335.3" y1="306.1" x2="335.3" y2="308.6" stroke="#444" stroke-width="0.6"/>
<line x1="353.3" y1="306.1" x2="353.3" y2="308.6" stroke="#444" stroke-width="0.6"/>
<line x1="371.40000000000003" y1="306.1" x2="371.40000000000003" y2="308.6" stroke="#444" stroke-width="0.6"/>
<line x1="399.1" y1="306.1" x2="399.1" y2="308.6" stroke="#444" stroke-width="0.6"/>
<line x1="425.4" y1="306.1" x2="425.4" y2="308.6" stroke="#444" stroke-width="0.6"/>
<line x1="337.8" y1="306.1" x2="337.8" y2="307.40000000000003" stroke="#666" stroke-width="0.4"/>
<line x1="340.8" y1="306.1" x2="340.8" y2="307.40000000000003" stroke="#666" stroke-width="0.4"/>
<line x1="343.8" y1="306.1" x2="343.8" y2="307.40000000000003" stroke="#666" stroke-width="0.4"/>
<line x1="346.8" y1="306.1" x2="346.8" y2="307.40000000000003" stroke="#666" stroke-width="0.4"/>
<line x1="349.8" y1="306.1" x2="349.8" y2="307.40000000000003" stroke="#666" stroke-width="0.4"/>
<line x1="355.8" y1="306.1" x2="355.8" y2="307.40000000000003" stroke="#666" stroke-width="0.4"/>
<line x1="358.8" y1="306.1" x2="358.8" y2="307.40000000000003" stroke="#666" stroke-width="0.4"/>
<line x1="361.8" y1="306.1" x2="361.8" y2="307.40000000000003" stroke="#666" stroke-width="0.4"/>
<line x1="364.8" y1="306.1" x2="364.8" y2="307.40000000000003" stroke="#666" stroke-width="0.4"/>
<line x1="367.8" y1="306.1" x2="367.8" y2="307.40000000000003" stroke="#666" stroke-width="0.4"/>
<line x1="374.8" y1="306.1" x2="374.8" y2="307.40000000000003" stroke="#666" stroke-width="0.4"/>
<line x1="378.8" y1="306.1" x2="378.8" y2="307.40000000000003" stroke="#666" stroke-width="0.4"/>
<line x1="382.8" y1="306.1" x2="382.8" y2="307.40000000000003" stroke="#666" stroke-width="0.4"/>
<line x1="386.8" y1="306.1" x2="386.8" y2="307.40000000000003" stroke="#666" stroke-width="0.4"/>
<line x1="390.8" y1="306.1" x2="390.8" y2="307.40000000000003" stroke="#666" stroke-width="0.4"/>
<line x1="394.8" y1="306.1" x2="394.8" y2="307.40000000000003" stroke="#666" stroke-width="0.4"/>
<line x1="402.8" y1="306.1" x2="402.8" y2="307.40000000000003" stroke="#666" stroke-width="0.4"/>
<line x1="406.8" y1="306.1" x2="406.8" y2="307.40000000000003" stroke="#666" stroke-width="0.4"/>
<line x1="410.8" y1="306.1" x2="410.8" y2="307.40000000000003" stroke="#666" stroke-width="0.4"/>
<line x1="414.8" y1="306.1" x2="414.8" y2="307.40000000000003" stroke="#666" stroke-width="0.4"/>
<line x1="418.8" y1="306.1" x2="418.8" y2="307.40000000000003" stroke="#666" stroke-width="0.4"/>
<line x1="421.8" y1="306.1" x2="421.8" y2="307.40000000000003" stroke="#666" stroke-width="0.4"/>
<line x1="428.8" y1="306.1" x2="428.8" y2="307.40000000000003" stroke="#666" stroke-width="0.4"/>
<line x1="431.8" y1="306.1" x2="431.8" y2="307.40000000000003" stroke="#666" stroke-width="0.4"/>
<ellipse cx="328.8" cy="281.8" rx="1.2" ry="1.8" fill="#111"/>
<ellipse cx="353.3" cy="306.70000000000005" rx="1.8" ry="1.2" fill="#111"/>
<text x="323.6" y="212.5" font-size="8.2" text-anchor="end" fill="#262626" letter-spacing="0.5">10<tspan font-size="5.90" dy="-3.4">5</tspan></text>
<text x="323.6" y="238.0" font-size="8.2" text-anchor="end" fill="#262626" letter-spacing="0.5">10<tspan font-size="5.90" dy="-3.4">4</tspan></text>
<text x="323.6" y="267.4" font-size="8.2" text-anchor="end" fill="#262626" letter-spacing="0.5">10<tspan font-size="5.90" dy="-3.4">3</tspan></text>
<text x="323.6" y="302.0" font-size="8.2" text-anchor="end" fill="#262626" letter-spacing="0.5">−10<tspan font-size="5.90" dy="-3.4">3</tspan></text>
<text x="323.2" y="284.8" font-size="8.2" text-anchor="end" fill="#262626" >0</text>
<text x="337.3" y="320.5" font-size="8.2" text-anchor="middle" fill="#262626" letter-spacing="0.5">−10<tspan font-size="5.90" dy="-3.4">3</tspan></text>
<text x="373.4" y="320.5" font-size="8.2" text-anchor="middle" fill="#262626" letter-spacing="0.5">10<tspan font-size="5.90" dy="-3.4">3</tspan></text>
<text x="401.1" y="320.5" font-size="8.2" text-anchor="middle" fill="#262626" letter-spacing="0.5">10<tspan font-size="5.90" dy="-3.4">4</tspan></text>
<text x="427.4" y="320.5" font-size="8.2" text-anchor="middle" fill="#262626" letter-spacing="0.5">10<tspan font-size="5.90" dy="-3.4">5</tspan></text>
<text x="353.3" y="320.5" font-size="8.2" text-anchor="middle" fill="#262626" >0</text>
<path d="M358.7 245.2h1.5v1.5h-1.5zM355.3 248.7h1.5v1.5h-1.5zM356.6 234.2h1.5v1.5h-1.5zM358.3 241.0h1.5v1.5h-1.5zM355.8 248.2h1.5v1.5h-1.5zM360.4 259.4h1.5v1.5h-1.5zM354.4 249.2h1.5v1.5h-1.5zM361.2 234.6h1.5v1.5h-1.5zM358.3 260.9h1.5v1.5h-1.5zM359.7 242.6h1.5v1.5h-1.5zM357.4 257.4h1.5v1.5h-1.5zM354.8 234.2h1.5v1.5h-1.5zM352.4 240.3h1.5v1.5h-1.5zM357.5 239.7h1.5v1.5h-1.5zM358.4 240.0h1.5v1.5h-1.5zM357.2 252.7h1.5v1.5h-1.5zM357.5 238.1h1.5v1.5h-1.5zM359.2 249.7h1.5v1.5h-1.5zM359.1 238.0h1.5v1.5h-1.5zM354.7 253.5h1.5v1.5h-1.5zM360.0 234.5h1.5v1.5h-1.5zM356.4 255.7h1.5v1.5h-1.5zM358.5 236.2h1.5v1.5h-1.5zM355.6 237.7h1.5v1.5h-1.5zM352.7 250.8h1.5v1.5h-1.5zM356.0 259.0h1.5v1.5h-1.5zM357.5 254.0h1.5v1.5h-1.5zM359.0 251.1h1.5v1.5h-1.5zM354.3 242.0h1.5v1.5h-1.5zM358.9 233.9h1.5v1.5h-1.5zM356.5 250.4h1.5v1.5h-1.5zM357.4 242.0h1.5v1.5h-1.5zM354.1 239.7h1.5v1.5h-1.5zM357.2 245.7h1.5v1.5h-1.5zM362.0 248.6h1.5v1.5h-1.5zM357.5 260.9h1.5v1.5h-1.5zM359.9 253.2h1.5v1.5h-1.5zM358.1 241.8h1.5v1.5h-1.5zM358.1 236.4h1.5v1.5h-1.5zM357.8 254.5h1.5v1.5h-1.5zM360.5 244.5h1.5v1.5h-1.5zM359.2 247.9h1.5v1.5h-1.5zM354.7 251.3h1.5v1.5h-1.5zM355.6 249.7h1.5v1.5h-1.5zM355.3 239.7h1.5v1.5h-1.5zM360.2 252.9h1.5v1.5h-1.5zM357.4 241.2h1.5v1.5h-1.5zM353.3 254.7h1.5v1.5h-1.5zM359.4 240.3h1.5v1.5h-1.5zM356.7 247.4h1.5v1.5h-1.5zM358.1 232.5h1.5v1.5h-1.5zM356.6 246.0h1.5v1.5h-1.5zM354.9 242.8h1.5v1.5h-1.5zM353.9 260.9h1.5v1.5h-1.5zM357.6 234.9h1.5v1.5h-1.5zM387.7 271.6h1.5v1.5h-1.5zM376.7 274.2h1.5v1.5h-1.5zM379.1 266.6h1.5v1.5h-1.5zM374.5 273.2h1.5v1.5h-1.5zM373.6 270.9h1.5v1.5h-1.5zM379.6 268.5h1.5v1.5h-1.5zM360.3 269.8h1.5v1.5h-1.5zM377.5 269.8h1.5v1.5h-1.5zM370.9 274.5h1.5v1.5h-1.5zM375.1 266.5h1.5v1.5h-1.5zM371.2 270.8h1.5v1.5h-1.5zM368.7 264.9h1.5v1.5h-1.5zM389.6 275.0h1.5v1.5h-1.5zM383.2 275.2h1.5v1.5h-1.5zM380.1 261.9h1.5v1.5h-1.5zM384.1 274.6h1.5v1.5h-1.5zM379.4 260.7h1.5v1.5h-1.5zM384.5 275.2h1.5v1.5h-1.5zM372.7 269.8h1.5v1.5h-1.5zM381.3 268.9h1.5v1.5h-1.5zM383.5 269.6h1.5v1.5h-1.5zM380.7 269.6h1.5v1.5h-1.5zM366.0 264.9h1.5v1.5h-1.5zM397.5 270.5h1.5v1.5h-1.5zM384.9 274.2h1.5v1.5h-1.5zM387.7 271.7h1.5v1.5h-1.5zM372.0 269.3h1.5v1.5h-1.5zM363.0 268.4h1.5v1.5h-1.5zM382.2 259.8h1.5v1.5h-1.5zM377.4 272.8h1.5v1.5h-1.5zM385.1 265.2h1.5v1.5h-1.5zM371.6 261.1h1.5v1.5h-1.5zM369.1 271.6h1.5v1.5h-1.5zM390.1 264.2h1.5v1.5h-1.5zM385.4 271.1h1.5v1.5h-1.5zM372.7 278.8h1.5v1.5h-1.5zM358.9 269.0h1.5v1.5h-1.5zM377.5 278.6h1.5v1.5h-1.5zM388.3 279.1h1.5v1.5h-1.5zM377.0 273.5h1.5v1.5h-1.5zM385.3 271.5h1.5v1.5h-1.5zM378.5 268.4h1.5v1.5h-1.5zM373.3 263.9h1.5v1.5h-1.5zM389.3 267.3h1.5v1.5h-1.5zM361.9 270.4h1.5v1.5h-1.5zM375.8 270.0h1.5v1.5h-1.5zM388.4 268.8h1.5v1.5h-1.5zM374.2 266.0h1.5v1.5h-1.5zM375.9 267.3h1.5v1.5h-1.5zM377.4 282.9h1.5v1.5h-1.5zM378.7 265.5h1.5v1.5h-1.5zM389.2 273.0h1.5v1.5h-1.5zM381.6 272.4h1.5v1.5h-1.5zM381.6 272.2h1.5v1.5h-1.5zM385.7 273.7h1.5v1.5h-1.5zM385.2 267.1h1.5v1.5h-1.5zM376.0 266.1h1.5v1.5h-1.5zM382.6 272.9h1.5v1.5h-1.5zM372.9 271.8h1.5v1.5h-1.5zM393.9 274.7h1.5v1.5h-1.5zM368.4 268.8h1.5v1.5h-1.5zM380.4 269.1h1.5v1.5h-1.5zM378.7 274.4h1.5v1.5h-1.5zM378.3 264.4h1.5v1.5h-1.5zM380.9 268.8h1.5v1.5h-1.5zM376.8 266.8h1.5v1.5h-1.5zM366.6 263.8h1.5v1.5h-1.5zM373.6 264.6h1.5v1.5h-1.5zM357.5 274.3h1.5v1.5h-1.5zM368.1 266.1h1.5v1.5h-1.5zM379.7 258.7h1.5v1.5h-1.5zM385.2 265.9h1.5v1.5h-1.5zM380.5 267.1h1.5v1.5h-1.5zM378.1 269.7h1.5v1.5h-1.5zM376.0 261.2h1.5v1.5h-1.5zM366.0 269.1h1.5v1.5h-1.5zM385.7 266.9h1.5v1.5h-1.5zM379.7 270.0h1.5v1.5h-1.5zM379.3 273.6h1.5v1.5h-1.5zM365.8 270.5h1.5v1.5h-1.5zM374.8 267.9h1.5v1.5h-1.5zM370.2 265.8h1.5v1.5h-1.5zM369.0 264.4h1.5v1.5h-1.5zM393.2 276.7h1.5v1.5h-1.5zM376.1 272.5h1.5v1.5h-1.5zM369.4 257.1h1.5v1.5h-1.5zM363.6 269.9h1.5v1.5h-1.5zM385.9 269.1h1.5v1.5h-1.5zM369.2 268.2h1.5v1.5h-1.5zM369.2 263.1h1.5v1.5h-1.5zM374.5 267.5h1.5v1.5h-1.5zM370.5 265.4h1.5v1.5h-1.5zM369.7 270.3h1.5v1.5h-1.5zM385.6 268.3h1.5v1.5h-1.5zM391.3 262.2h1.5v1.5h-1.5zM377.9 264.2h1.5v1.5h-1.5zM375.0 269.7h1.5v1.5h-1.5zM379.9 274.2h1.5v1.5h-1.5zM372.3 263.8h1.5v1.5h-1.5zM374.8 270.5h1.5v1.5h-1.5zM371.3 273.2h1.5v1.5h-1.5zM387.5 263.0h1.5v1.5h-1.5zM378.5 273.7h1.5v1.5h-1.5zM362.9 270.2h1.5v1.5h-1.5zM374.5 263.0h1.5v1.5h-1.5zM385.0 270.2h1.5v1.5h-1.5zM372.8 271.2h1.5v1.5h-1.5zM380.4 272.6h1.5v1.5h-1.5zM380.0 271.0h1.5v1.5h-1.5zM368.0 267.4h1.5v1.5h-1.5zM376.9 257.1h1.5v1.5h-1.5zM390.6 267.6h1.5v1.5h-1.5zM368.9 261.3h1.5v1.5h-1.5zM377.7 269.4h1.5v1.5h-1.5zM372.1 267.4h1.5v1.5h-1.5zM370.0 266.0h1.5v1.5h-1.5zM375.4 266.4h1.5v1.5h-1.5zM380.7 268.6h1.5v1.5h-1.5zM377.0 271.0h1.5v1.5h-1.5zM384.7 271.9h1.5v1.5h-1.5zM377.6 268.5h1.5v1.5h-1.5zM370.6 267.7h1.5v1.5h-1.5zM380.7 270.2h1.5v1.5h-1.5zM373.4 263.4h1.5v1.5h-1.5zM365.6 270.7h1.5v1.5h-1.5zM383.1 270.9h1.5v1.5h-1.5zM366.7 268.3h1.5v1.5h-1.5zM377.6 265.2h1.5v1.5h-1.5zM378.4 268.4h1.5v1.5h-1.5zM370.4 263.8h1.5v1.5h-1.5zM381.6 270.8h1.5v1.5h-1.5zM370.0 264.8h1.5v1.5h-1.5zM382.1 271.9h1.5v1.5h-1.5zM374.0 276.2h1.5v1.5h-1.5zM374.1 264.6h1.5v1.5h-1.5zM383.5 268.4h1.5v1.5h-1.5zM378.4 269.4h1.5v1.5h-1.5zM369.2 264.0h1.5v1.5h-1.5zM374.7 275.4h1.5v1.5h-1.5zM369.2 275.2h1.5v1.5h-1.5zM377.6 264.4h1.5v1.5h-1.5zM377.9 271.7h1.5v1.5h-1.5zM369.9 259.9h1.5v1.5h-1.5zM378.5 264.4h1.5v1.5h-1.5zM379.1 260.9h1.5v1.5h-1.5zM375.1 265.7h1.5v1.5h-1.5zM366.0 268.2h1.5v1.5h-1.5zM377.2 266.8h1.5v1.5h-1.5zM368.0 270.2h1.5v1.5h-1.5zM364.1 271.6h1.5v1.5h-1.5zM379.4 276.6h1.5v1.5h-1.5zM382.1 270.8h1.5v1.5h-1.5zM377.8 269.4h1.5v1.5h-1.5zM367.0 275.7h1.5v1.5h-1.5zM379.6 268.0h1.5v1.5h-1.5zM368.3 275.7h1.5v1.5h-1.5zM379.7 264.1h1.5v1.5h-1.5zM380.6 277.5h1.5v1.5h-1.5zM375.9 271.0h1.5v1.5h-1.5zM373.2 266.5h1.5v1.5h-1.5zM383.3 282.7h1.5v1.5h-1.5zM376.8 268.7h1.5v1.5h-1.5zM381.4 267.9h1.5v1.5h-1.5zM381.0 272.9h1.5v1.5h-1.5zM369.1 264.6h1.5v1.5h-1.5zM375.5 272.9h1.5v1.5h-1.5zM377.9 274.7h1.5v1.5h-1.5zM366.7 271.4h1.5v1.5h-1.5zM371.8 269.7h1.5v1.5h-1.5zM378.2 265.0h1.5v1.5h-1.5zM380.6 248.6h1.5v1.5h-1.5zM375.2 267.3h1.5v1.5h-1.5zM405.6 252.6h1.5v1.5h-1.5zM372.3 251.2h1.5v1.5h-1.5zM386.1 238.7h1.5v1.5h-1.5zM357.7 271.0h1.5v1.5h-1.5zM392.1 259.7h1.5v1.5h-1.5zM366.7 269.5h1.5v1.5h-1.5zM377.9 258.8h1.5v1.5h-1.5zM358.2 261.0h1.5v1.5h-1.5zM409.0 242.7h1.5v1.5h-1.5zM375.9 257.7h1.5v1.5h-1.5zM361.3 269.0h1.5v1.5h-1.5zM384.0 236.7h1.5v1.5h-1.5zM387.9 251.7h1.5v1.5h-1.5zM368.7 263.8h1.5v1.5h-1.5zM398.4 237.1h1.5v1.5h-1.5zM356.9 250.1h1.5v1.5h-1.5zM374.5 241.7h1.5v1.5h-1.5zM381.5 228.2h1.5v1.5h-1.5zM364.1 251.4h1.5v1.5h-1.5zM367.7 264.3h1.5v1.5h-1.5zM359.7 254.0h1.5v1.5h-1.5zM395.4 260.0h1.5v1.5h-1.5zM396.4 257.4h1.5v1.5h-1.5zM360.1 262.3h1.5v1.5h-1.5zM384.3 276.0h1.5v1.5h-1.5zM401.0 266.8h1.5v1.5h-1.5zM380.2 239.4h1.5v1.5h-1.5zM365.5 269.1h1.5v1.5h-1.5zM368.8 240.4h1.5v1.5h-1.5zM391.4 257.2h1.5v1.5h-1.5zM357.0 238.8h1.5v1.5h-1.5zM387.4 253.9h1.5v1.5h-1.5zM376.6 264.1h1.5v1.5h-1.5zM370.5 265.0h1.5v1.5h-1.5zM393.0 235.9h1.5v1.5h-1.5zM364.4 238.0h1.5v1.5h-1.5zM397.9 238.1h1.5v1.5h-1.5zM391.9 264.4h1.5v1.5h-1.5zM370.9 257.1h1.5v1.5h-1.5zM369.7 233.9h1.5v1.5h-1.5zM377.8 267.7h1.5v1.5h-1.5zM384.3 250.5h1.5v1.5h-1.5zM377.3 253.7h1.5v1.5h-1.5zM393.8 256.0h1.5v1.5h-1.5zM370.1 232.0h1.5v1.5h-1.5zM355.2 257.0h1.5v1.5h-1.5zM385.6 267.7h1.5v1.5h-1.5zM389.7 239.7h1.5v1.5h-1.5zM387.2 243.3h1.5v1.5h-1.5zM373.2 278.4h1.5v1.5h-1.5zM383.4 245.6h1.5v1.5h-1.5zM394.8 262.4h1.5v1.5h-1.5zM394.8 257.1h1.5v1.5h-1.5zM399.3 246.6h1.5v1.5h-1.5zM383.0 231.8h1.5v1.5h-1.5zM401.3 227.3h1.5v1.5h-1.5zM366.8 254.4h1.5v1.5h-1.5zM380.2 254.4h1.5v1.5h-1.5zM393.9 245.6h1.5v1.5h-1.5zM377.1 259.6h1.5v1.5h-1.5zM368.2 258.2h1.5v1.5h-1.5zM365.3 267.7h1.5v1.5h-1.5zM404.0 274.2h1.5v1.5h-1.5zM382.7 256.4h1.5v1.5h-1.5zM355.5 263.9h1.5v1.5h-1.5zM361.8 258.3h1.5v1.5h-1.5zM385.1 240.4h1.5v1.5h-1.5zM360.6 241.3h1.5v1.5h-1.5zM408.9 265.4h1.5v1.5h-1.5zM388.0 250.5h1.5v1.5h-1.5zM377.5 255.9h1.5v1.5h-1.5zM378.7 271.9h1.5v1.5h-1.5zM368.9 237.3h1.5v1.5h-1.5zM398.8 251.2h1.5v1.5h-1.5zM375.2 251.5h1.5v1.5h-1.5zM379.1 260.5h1.5v1.5h-1.5zM396.1 264.4h1.5v1.5h-1.5zM387.9 260.9h1.5v1.5h-1.5zM358.6 223.3h1.5v1.5h-1.5zM374.9 227.8h1.5v1.5h-1.5zM370.1 265.4h1.5v1.5h-1.5zM391.9 235.9h1.5v1.5h-1.5zM365.5 273.5h1.5v1.5h-1.5zM365.0 227.9h1.5v1.5h-1.5zM386.4 232.6h1.5v1.5h-1.5zM362.7 266.5h1.5v1.5h-1.5zM375.2 250.6h1.5v1.5h-1.5zM368.7 267.0h1.5v1.5h-1.5zM376.0 265.1h1.5v1.5h-1.5zM375.1 257.7h1.5v1.5h-1.5zM401.1 233.3h1.5v1.5h-1.5zM379.3 226.3h1.5v1.5h-1.5zM364.4 271.1h1.5v1.5h-1.5zM380.4 263.1h1.5v1.5h-1.5zM380.0 238.3h1.5v1.5h-1.5zM391.5 240.9h1.5v1.5h-1.5zM388.3 258.3h1.5v1.5h-1.5zM357.0 245.6h1.5v1.5h-1.5zM367.0 269.3h1.5v1.5h-1.5zM373.9 259.4h1.5v1.5h-1.5zM380.0 253.0h1.5v1.5h-1.5zM362.6 233.7h1.5v1.5h-1.5zM387.3 246.4h1.5v1.5h-1.5zM378.2 251.0h1.5v1.5h-1.5zM375.2 250.7h1.5v1.5h-1.5zM381.0 259.6h1.5v1.5h-1.5zM394.1 258.1h1.5v1.5h-1.5zM378.7 276.7h1.5v1.5h-1.5zM367.8 263.4h1.5v1.5h-1.5zM391.5 265.3h1.5v1.5h-1.5zM393.8 245.5h1.5v1.5h-1.5zM365.8 265.2h1.5v1.5h-1.5zM395.0 235.6h1.5v1.5h-1.5zM394.2 278.5h1.5v1.5h-1.5zM372.7 244.3h1.5v1.5h-1.5zM376.2 262.3h1.5v1.5h-1.5zM398.9 267.4h1.5v1.5h-1.5zM361.0 257.3h1.5v1.5h-1.5zM369.3 244.7h1.5v1.5h-1.5zM372.4 262.5h1.5v1.5h-1.5zM388.6 224.6h1.5v1.5h-1.5zM375.0 262.2h1.5v1.5h-1.5zM376.3 248.3h1.5v1.5h-1.5zM380.1 257.5h1.5v1.5h-1.5zM397.4 245.5h1.5v1.5h-1.5zM378.5 239.5h1.5v1.5h-1.5zM368.4 277.6h1.5v1.5h-1.5zM394.4 263.3h1.5v1.5h-1.5zM365.7 276.7h1.5v1.5h-1.5zM364.6 263.9h1.5v1.5h-1.5zM402.5 253.7h1.5v1.5h-1.5zM375.7 240.4h1.5v1.5h-1.5zM377.6 257.4h1.5v1.5h-1.5zM362.4 251.6h1.5v1.5h-1.5zM385.2 246.6h1.5v1.5h-1.5zM366.8 239.7h1.5v1.5h-1.5zM360.6 238.9h1.5v1.5h-1.5zM398.9 232.9h1.5v1.5h-1.5zM358.8 263.7h1.5v1.5h-1.5zM366.5 241.0h1.5v1.5h-1.5zM378.8 262.3h1.5v1.5h-1.5zM366.1 237.4h1.5v1.5h-1.5zM382.6 259.4h1.5v1.5h-1.5zM374.9 274.7h1.5v1.5h-1.5zM388.2 234.8h1.5v1.5h-1.5zM378.2 250.0h1.5v1.5h-1.5zM394.5 264.2h1.5v1.5h-1.5zM369.1 250.3h1.5v1.5h-1.5zM388.2 273.5h1.5v1.5h-1.5zM394.2 261.9h1.5v1.5h-1.5zM401.2 274.8h1.5v1.5h-1.5zM368.5 231.2h1.5v1.5h-1.5zM377.6 256.3h1.5v1.5h-1.5zM364.0 232.4h1.5v1.5h-1.5zM365.1 248.0h1.5v1.5h-1.5zM363.0 229.4h1.5v1.5h-1.5zM374.5 244.8h1.5v1.5h-1.5zM393.0 242.8h1.5v1.5h-1.5zM402.6 253.6h1.5v1.5h-1.5zM377.2 230.2h1.5v1.5h-1.5zM404.4 267.3h1.5v1.5h-1.5zM372.8 248.0h1.5v1.5h-1.5zM381.3 239.2h1.5v1.5h-1.5zM388.6 266.4h1.5v1.5h-1.5zM375.4 242.5h1.5v1.5h-1.5zM373.3 268.5h1.5v1.5h-1.5zM358.3 267.6h1.5v1.5h-1.5zM376.5 234.4h1.5v1.5h-1.5zM374.4 263.5h1.5v1.5h-1.5zM384.2 260.1h1.5v1.5h-1.5zM379.2 266.7h1.5v1.5h-1.5zM398.3 250.1h1.5v1.5h-1.5zM386.4 263.0h1.5v1.5h-1.5zM369.5 255.9h1.5v1.5h-1.5zM378.6 275.3h1.5v1.5h-1.5zM380.1 271.1h1.5v1.5h-1.5zM356.9 247.9h1.5v1.5h-1.5zM401.9 272.8h1.5v1.5h-1.5zM380.6 247.4h1.5v1.5h-1.5zM381.1 266.4h1.5v1.5h-1.5zM392.7 252.5h1.5v1.5h-1.5zM382.2 235.3h1.5v1.5h-1.5zM385.2 238.1h1.5v1.5h-1.5zM392.4 262.0h1.5v1.5h-1.5zM372.3 253.4h1.5v1.5h-1.5zM364.9 269.2h1.5v1.5h-1.5zM377.3 261.1h1.5v1.5h-1.5zM396.1 235.5h1.5v1.5h-1.5zM363.9 249.4h1.5v1.5h-1.5zM385.9 244.0h1.5v1.5h-1.5zM368.1 264.7h1.5v1.5h-1.5zM381.3 242.5h1.5v1.5h-1.5zM378.6 229.2h1.5v1.5h-1.5zM363.7 256.8h1.5v1.5h-1.5zM382.9 239.4h1.5v1.5h-1.5zM364.3 259.4h1.5v1.5h-1.5zM392.9 245.1h1.5v1.5h-1.5zM382.3 267.8h1.5v1.5h-1.5zM362.8 248.3h1.5v1.5h-1.5zM374.2 261.0h1.5v1.5h-1.5zM383.6 248.2h1.5v1.5h-1.5zM375.6 249.9h1.5v1.5h-1.5zM382.8 244.4h1.5v1.5h-1.5zM365.2 251.2h1.5v1.5h-1.5zM383.1 241.8h1.5v1.5h-1.5zM381.6 263.1h1.5v1.5h-1.5zM379.9 240.7h1.5v1.5h-1.5zM393.2 235.6h1.5v1.5h-1.5zM381.9 241.4h1.5v1.5h-1.5zM365.6 265.6h1.5v1.5h-1.5zM376.9 255.0h1.5v1.5h-1.5zM373.4 260.0h1.5v1.5h-1.5zM388.7 236.9h1.5v1.5h-1.5zM387.3 253.7h1.5v1.5h-1.5zM388.2 249.9h1.5v1.5h-1.5zM375.0 273.4h1.5v1.5h-1.5zM368.4 254.5h1.5v1.5h-1.5zM369.9 265.8h1.5v1.5h-1.5zM360.1 247.0h1.5v1.5h-1.5zM375.3 245.2h1.5v1.5h-1.5zM371.0 261.4h1.5v1.5h-1.5zM373.5 256.1h1.5v1.5h-1.5zM384.3 238.9h1.5v1.5h-1.5zM379.6 243.6h1.5v1.5h-1.5zM375.7 263.3h1.5v1.5h-1.5zM392.2 249.1h1.5v1.5h-1.5zM362.5 256.0h1.5v1.5h-1.5zM385.1 256.3h1.5v1.5h-1.5zM400.3 258.4h1.5v1.5h-1.5zM384.4 271.0h1.5v1.5h-1.5zM404.5 239.6h1.5v1.5h-1.5zM373.6 223.2h1.5v1.5h-1.5zM379.3 267.0h1.5v1.5h-1.5zM362.9 261.2h1.5v1.5h-1.5zM398.3 246.6h1.5v1.5h-1.5zM376.8 232.7h1.5v1.5h-1.5zM382.9 266.5h1.5v1.5h-1.5zM381.6 241.9h1.5v1.5h-1.5zM367.0 245.5h1.5v1.5h-1.5zM385.4 255.3h1.5v1.5h-1.5zM361.9 265.9h1.5v1.5h-1.5zM377.7 249.8h1.5v1.5h-1.5zM365.5 247.8h1.5v1.5h-1.5zM379.2 249.5h1.5v1.5h-1.5zM371.9 262.9h1.5v1.5h-1.5zM386.6 258.1h1.5v1.5h-1.5zM359.7 234.4h1.5v1.5h-1.5zM382.0 234.3h1.5v1.5h-1.5zM355.5 239.0h1.5v1.5h-1.5zM383.2 245.7h1.5v1.5h-1.5zM377.5 258.9h1.5v1.5h-1.5zM380.4 253.7h1.5v1.5h-1.5zM385.7 271.1h1.5v1.5h-1.5zM401.4 247.4h1.5v1.5h-1.5zM371.6 262.0h1.5v1.5h-1.5zM366.3 257.8h1.5v1.5h-1.5zM372.9 255.1h1.5v1.5h-1.5zM362.1 259.5h1.5v1.5h-1.5zM358.8 275.4h1.5v1.5h-1.5zM394.9 241.4h1.5v1.5h-1.5zM376.8 249.3h1.5v1.5h-1.5zM361.8 250.6h1.5v1.5h-1.5zM396.6 236.0h1.5v1.5h-1.5zM368.1 252.9h1.5v1.5h-1.5zM371.7 254.4h1.5v1.5h-1.5zM371.6 262.2h1.5v1.5h-1.5zM378.0 234.4h1.5v1.5h-1.5zM387.9 271.0h1.5v1.5h-1.5zM365.3 245.5h1.5v1.5h-1.5zM387.3 237.2h1.5v1.5h-1.5zM382.3 233.0h1.5v1.5h-1.5zM383.0 249.5h1.5v1.5h-1.5zM399.8 256.0h1.5v1.5h-1.5zM360.3 258.9h1.5v1.5h-1.5zM381.2 258.2h1.5v1.5h-1.5zM376.6 244.7h1.5v1.5h-1.5zM377.2 253.4h1.5v1.5h-1.5zM381.2 238.0h1.5v1.5h-1.5zM367.4 270.1h1.5v1.5h-1.5zM367.6 234.4h1.5v1.5h-1.5zM382.8 234.0h1.5v1.5h-1.5zM363.5 251.6h1.5v1.5h-1.5zM379.5 247.0h1.5v1.5h-1.5zM397.9 254.4h1.5v1.5h-1.5zM371.8 248.7h1.5v1.5h-1.5zM390.6 249.6h1.5v1.5h-1.5zM387.3 254.1h1.5v1.5h-1.5zM358.7 251.8h1.5v1.5h-1.5zM382.1 243.5h1.5v1.5h-1.5zM368.7 253.9h1.5v1.5h-1.5zM371.3 264.9h1.5v1.5h-1.5zM373.3 251.8h1.5v1.5h-1.5zM358.3 266.7h1.5v1.5h-1.5zM390.7 267.3h1.5v1.5h-1.5zM384.1 255.6h1.5v1.5h-1.5zM382.2 275.4h1.5v1.5h-1.5zM393.6 254.1h1.5v1.5h-1.5zM399.1 249.7h1.5v1.5h-1.5zM372.3 260.3h1.5v1.5h-1.5zM368.9 251.8h1.5v1.5h-1.5zM393.4 259.6h1.5v1.5h-1.5zM380.7 268.2h1.5v1.5h-1.5zM360.1 259.3h1.5v1.5h-1.5zM377.6 246.2h1.5v1.5h-1.5zM366.8 238.8h1.5v1.5h-1.5zM379.8 253.3h1.5v1.5h-1.5zM369.2 234.8h1.5v1.5h-1.5zM382.7 265.4h1.5v1.5h-1.5zM372.0 250.1h1.5v1.5h-1.5zM366.8 264.4h1.5v1.5h-1.5zM367.2 241.8h1.5v1.5h-1.5zM389.9 241.2h1.5v1.5h-1.5zM374.4 244.3h1.5v1.5h-1.5zM378.5 234.3h1.5v1.5h-1.5zM386.0 231.7h1.5v1.5h-1.5zM379.3 251.5h1.5v1.5h-1.5zM400.1 237.4h1.5v1.5h-1.5zM385.5 258.5h1.5v1.5h-1.5zM357.5 248.5h1.5v1.5h-1.5zM395.6 256.8h1.5v1.5h-1.5zM379.6 233.2h1.5v1.5h-1.5zM387.8 258.5h1.5v1.5h-1.5zM360.6 239.3h1.5v1.5h-1.5zM371.5 262.6h1.5v1.5h-1.5zM355.6 271.9h1.5v1.5h-1.5zM385.3 264.6h1.5v1.5h-1.5zM379.4 263.2h1.5v1.5h-1.5zM366.4 251.4h1.5v1.5h-1.5z" fill="#12a05a" />
<ellipse cx="354.6" cy="276.4" rx="4.5" ry="8" transform="rotate(20 354.6 276.4)" fill="#5cbf8a" fill-opacity="0.08" stroke="#5cbf8a" stroke-width="0.45"/>
<ellipse cx="354.6" cy="276.4" rx="3.4" ry="6" transform="rotate(20 354.6 276.4)" fill="#5cbf8a" fill-opacity="0.08" stroke="#5cbf8a" stroke-width="0.45"/>
<ellipse cx="354.6" cy="276.4" rx="2.4" ry="4.2" transform="rotate(20 354.6 276.4)" fill="#5cbf8a" fill-opacity="0.08" stroke="#5cbf8a" stroke-width="0.45"/>
<ellipse cx="354.6" cy="276.4" rx="1.4" ry="2.6" transform="rotate(20 354.6 276.4)" fill="#5cbf8a" fill-opacity="0.08" stroke="#5cbf8a" stroke-width="0.45"/>
<path d="M349.8 284 C346.8 275 347.8 262 350.8 256 C352.8 252 355.8 258 356.3 266 C357.8 274 362.8 283 356.8 285 Z" fill="none" stroke="#5cbf8a" stroke-width="0.45"/>
<path d="M341.3 210.2 H421.1 V257.3 H341.3 Z M361.8 210.2 V286.4 H421.1 V257.3" fill="none" stroke="#333" stroke-width="0.9"/>
<text x="342.7" y="217.8" font-size="7.6" text-anchor="start" fill="#262626" >2.16</text>
<text x="419.7" y="284.2" font-size="7.6" text-anchor="end" fill="#262626" >3.38</text>
<path d="M23.3 327.3 V238 M23.3 327.3 H392" fill="none" stroke="#111" stroke-width="0.9"/>
<path d="M23.3 234.5 L21.2 240 L25.4 240 Z M396 327.3 L390.5 325.2 L390.5 329.4 Z" fill="#111"/>
<text x="0" y="0" font-size="8.5" text-anchor="middle" fill="#222" transform="translate(26.8 218.6) rotate(-90)">IFNγ</text>
<text x="398.0" y="330.5" font-size="8.5" text-anchor="start" fill="#262626" >TNF</text>
<text x="478.2" y="175.4" font-size="14.5" text-anchor="start" fill="#262626" font-weight="bold">c</text>
<rect x="515.40" y="181.20" width="21.93" height="11.82" fill="#f5f5fa"/>
<rect x="537.03" y="181.20" width="21.93" height="11.82" fill="#7278c1"/>
<g fill="#1a1a1a"><use href="#st" transform="translate(542.6 187.2) scale(1.3)"/><use href="#st" transform="translate(546.1 187.2) scale(1.3)"/><use href="#st" transform="translate(549.6 187.2) scale(1.3)"/><use href="#st" transform="translate(553.1 187.2) scale(1.3)"/></g>
<rect x="558.67" y="181.20" width="21.93" height="11.82" fill="#6e74bf"/>
<g fill="#1a1a1a"><use href="#st" transform="translate(564.2 187.2) scale(1.3)"/><use href="#st" transform="translate(567.7 187.2) scale(1.3)"/><use href="#st" transform="translate(571.2 187.2) scale(1.3)"/><use href="#st" transform="translate(574.7 187.2) scale(1.3)"/></g>
<rect x="580.30" y="181.20" width="21.93" height="11.82" fill="#f5f5fa"/>
<rect x="601.93" y="181.20" width="21.93" height="11.82" fill="#a8abd8"/>
<g fill="#1a1a1a"><use href="#st" transform="translate(607.5 187.2) scale(1.3)"/><use href="#st" transform="translate(611.0 187.2) scale(1.3)"/><use href="#st" transform="translate(614.5 187.2) scale(1.3)"/><use href="#st" transform="translate(618.0 187.2) scale(1.3)"/></g>
<rect x="623.57" y="181.20" width="21.93" height="11.82" fill="#999cd1"/>
<g fill="#1a1a1a"><use href="#st" transform="translate(630.9 187.2) scale(1.3)"/><use href="#st" transform="translate(634.4 187.2) scale(1.3)"/><use href="#st" transform="translate(637.9 187.2) scale(1.3)"/></g>
<text x="507.8" y="190.0" font-size="8.5" text-anchor="end" fill="#262626" >P2</text>
<line x1="509.8" y1="187.0" x2="515.4" y2="187.0" stroke="#444" stroke-width="0.6"/>
<rect x="515.40" y="192.72" width="21.93" height="11.82" fill="#e4e4f2"/>
<rect x="537.03" y="192.72" width="21.93" height="11.82" fill="#a0a3d5"/>
<g fill="#1a1a1a"><use href="#st" transform="translate(547.9 198.7) scale(1.3)"/></g>
<rect x="558.67" y="192.72" width="21.93" height="11.82" fill="#4a59ad"/>
<g fill="#1a1a1a"><use href="#st" transform="translate(564.2 198.7) scale(1.3)"/><use href="#st" transform="translate(567.7 198.7) scale(1.3)"/><use href="#st" transform="translate(571.2 198.7) scale(1.3)"/><use href="#st" transform="translate(574.7 198.7) scale(1.3)"/></g>
<rect x="580.30" y="192.72" width="21.93" height="11.82" fill="#f6f6fb"/>
<rect x="601.93" y="192.72" width="21.93" height="11.82" fill="#e0e0f1"/>
<g fill="#1a1a1a"><use href="#st" transform="translate(612.8 198.7) scale(1.3)"/></g>
<rect x="623.57" y="192.72" width="21.93" height="11.82" fill="#9ca0d3"/>
<g fill="#1a1a1a"><use href="#st" transform="translate(629.1 198.7) scale(1.3)"/><use href="#st" transform="translate(632.6 198.7) scale(1.3)"/><use href="#st" transform="translate(636.1 198.7) scale(1.3)"/><use href="#st" transform="translate(639.6 198.7) scale(1.3)"/></g>
<text x="507.8" y="201.5" font-size="8.5" text-anchor="end" fill="#262626" >P6</text>
<line x1="509.8" y1="198.5" x2="515.4" y2="198.5" stroke="#444" stroke-width="0.6"/>
<rect x="515.40" y="204.23" width="21.93" height="11.82" fill="#eaeaf6"/>
<rect x="537.03" y="204.23" width="21.93" height="11.82" fill="#a4a7d6"/>
<g fill="#1a1a1a"><use href="#st" transform="translate(542.6 210.2) scale(1.3)"/><use href="#st" transform="translate(546.1 210.2) scale(1.3)"/><use href="#st" transform="translate(549.6 210.2) scale(1.3)"/><use href="#st" transform="translate(553.1 210.2) scale(1.3)"/></g>
<rect x="558.67" y="204.23" width="21.93" height="11.82" fill="#9ca0d3"/>
<g fill="#1a1a1a"><use href="#st" transform="translate(564.2 210.2) scale(1.3)"/><use href="#st" transform="translate(567.7 210.2) scale(1.3)"/><use href="#st" transform="translate(571.2 210.2) scale(1.3)"/><use href="#st" transform="translate(574.7 210.2) scale(1.3)"/></g>
<rect x="580.30" y="204.23" width="21.93" height="11.82" fill="#f0f0f8"/>
<rect x="601.93" y="204.23" width="21.93" height="11.82" fill="#9194ce"/>
<g fill="#1a1a1a"><use href="#st" transform="translate(607.5 210.2) scale(1.3)"/><use href="#st" transform="translate(611.0 210.2) scale(1.3)"/><use href="#st" transform="translate(614.5 210.2) scale(1.3)"/><use href="#st" transform="translate(618.0 210.2) scale(1.3)"/></g>
<rect x="623.57" y="204.23" width="21.93" height="11.82" fill="#999cd1"/>
<g fill="#1a1a1a"><use href="#st" transform="translate(630.9 210.2) scale(1.3)"/><use href="#st" transform="translate(634.4 210.2) scale(1.3)"/><use href="#st" transform="translate(637.9 210.2) scale(1.3)"/></g>
<text x="507.8" y="213.0" font-size="8.5" text-anchor="end" fill="#262626" >P8</text>
<line x1="509.8" y1="210.0" x2="515.4" y2="210.0" stroke="#444" stroke-width="0.6"/>
<rect x="515.40" y="215.75" width="21.93" height="11.82" fill="#e0e0f1"/>
<rect x="537.03" y="215.75" width="21.93" height="11.82" fill="#5a64b6"/>
<g fill="#1a1a1a"><use href="#st" transform="translate(542.6 221.7) scale(1.3)"/><use href="#st" transform="translate(546.1 221.7) scale(1.3)"/><use href="#st" transform="translate(549.6 221.7) scale(1.3)"/><use href="#st" transform="translate(553.1 221.7) scale(1.3)"/></g>
<rect x="558.67" y="215.75" width="21.93" height="11.82" fill="#4656ab"/>
<g fill="#1a1a1a"><use href="#st" transform="translate(564.2 221.7) scale(1.3)"/><use href="#st" transform="translate(567.7 221.7) scale(1.3)"/><use href="#st" transform="translate(571.2 221.7) scale(1.3)"/><use href="#st" transform="translate(574.7 221.7) scale(1.3)"/></g>
<rect x="580.30" y="215.75" width="21.93" height="11.82" fill="#e7e7f4"/>
<rect x="601.93" y="215.75" width="21.93" height="11.82" fill="#8d91cd"/>
<g fill="#1a1a1a"><use href="#st" transform="translate(607.5 221.7) scale(1.3)"/><use href="#st" transform="translate(611.0 221.7) scale(1.3)"/><use href="#st" transform="translate(614.5 221.7) scale(1.3)"/><use href="#st" transform="translate(618.0 221.7) scale(1.3)"/></g>
<rect x="623.57" y="215.75" width="21.93" height="11.82" fill="#3a4ea4"/>
<g fill="#1a1a1a"><use href="#st" transform="translate(629.1 221.7) scale(1.3)"/><use href="#st" transform="translate(632.6 221.7) scale(1.3)"/><use href="#st" transform="translate(636.1 221.7) scale(1.3)"/><use href="#st" transform="translate(639.6 221.7) scale(1.3)"/></g>
<text x="507.8" y="224.5" font-size="8.5" text-anchor="end" fill="#262626" >P10</text>
<line x1="509.8" y1="221.5" x2="515.4" y2="221.5" stroke="#444" stroke-width="0.6"/>
<rect x="515.40" y="227.27" width="21.93" height="11.82" fill="#f6f6fb"/>
<rect x="537.03" y="227.27" width="21.93" height="11.82" fill="#f5f5fb"/>
<rect x="558.67" y="227.27" width="21.93" height="11.82" fill="#f3f3fa"/>
<g fill="#1a1a1a"><use href="#st" transform="translate(569.5 233.2) scale(1.3)"/></g>
<rect x="580.30" y="227.27" width="21.93" height="11.82" fill="#f6f6fb"/>
<rect x="601.93" y="227.27" width="21.93" height="11.82" fill="#f5f5fb"/>
<rect x="623.57" y="227.27" width="21.93" height="11.82" fill="#f3f3fa"/>
<g fill="#1a1a1a"><use href="#st" transform="translate(632.6 233.2) scale(1.3)"/><use href="#st" transform="translate(636.1 233.2) scale(1.3)"/></g>
<text x="507.8" y="236.0" font-size="8.5" text-anchor="end" fill="#262626" >P12</text>
<line x1="509.8" y1="233.0" x2="515.4" y2="233.0" stroke="#444" stroke-width="0.6"/>
<rect x="515.40" y="238.78" width="21.93" height="11.82" fill="#f5f5fa"/>
<rect x="537.03" y="238.78" width="21.93" height="11.82" fill="#e7e7f4"/>
<g fill="#1a1a1a"><use href="#st" transform="translate(547.9 244.7) scale(1.3)"/></g>
<rect x="558.67" y="238.78" width="21.93" height="11.82" fill="#d9d9ee"/>
<g fill="#1a1a1a"><use href="#st" transform="translate(567.7 244.7) scale(1.3)"/><use href="#st" transform="translate(571.2 244.7) scale(1.3)"/></g>
<rect x="580.30" y="238.78" width="21.93" height="11.82" fill="#f6f6fb"/>
<rect x="601.93" y="238.78" width="21.93" height="11.82" fill="#f0f0f8"/>
<g fill="#1a1a1a"><use href="#st" transform="translate(612.8 244.7) scale(1.3)"/></g>
<rect x="623.57" y="238.78" width="21.93" height="11.82" fill="#f0f0f8"/>
<g fill="#1a1a1a"><use href="#st" transform="translate(634.4 244.7) scale(1.3)"/></g>
<text x="507.8" y="247.5" font-size="8.5" text-anchor="end" fill="#262626" >P13</text>
<line x1="509.8" y1="244.5" x2="515.4" y2="244.5" stroke="#444" stroke-width="0.6"/>
<rect x="515.40" y="250.30" width="21.93" height="11.82" fill="#ececf6"/>
<rect x="537.03" y="250.30" width="21.93" height="11.82" fill="#cbcbe7"/>
<g fill="#1a1a1a"><use href="#st" transform="translate(546.1 256.3) scale(1.3)"/><use href="#st" transform="translate(549.6 256.3) scale(1.3)"/></g>
<rect x="558.67" y="250.30" width="21.93" height="11.82" fill="#d6d6ec"/>
<g fill="#1a1a1a"><use href="#st" transform="translate(564.2 256.3) scale(1.3)"/><use href="#st" transform="translate(567.7 256.3) scale(1.3)"/><use href="#st" transform="translate(571.2 256.3) scale(1.3)"/><use href="#st" transform="translate(574.7 256.3) scale(1.3)"/></g>
<rect x="580.30" y="250.30" width="21.93" height="11.82" fill="#f5f5fa"/>
<rect x="601.93" y="250.30" width="21.93" height="11.82" fill="#e4e4f2"/>
<g fill="#1a1a1a"><use href="#st" transform="translate(611.0 256.3) scale(1.3)"/><use href="#st" transform="translate(614.5 256.3) scale(1.3)"/></g>
<rect x="623.57" y="250.30" width="21.93" height="11.82" fill="#e7e7f4"/>
<g fill="#1a1a1a"><use href="#st" transform="translate(632.6 256.3) scale(1.3)"/><use href="#st" transform="translate(636.1 256.3) scale(1.3)"/></g>
<text x="507.8" y="259.1" font-size="8.5" text-anchor="end" fill="#262626" >P14</text>
<line x1="509.8" y1="256.1" x2="515.4" y2="256.1" stroke="#444" stroke-width="0.6"/>
<rect x="515.40" y="261.82" width="21.93" height="11.82" fill="#ddddef"/>
<rect x="537.03" y="261.82" width="21.93" height="11.82" fill="#898dcb"/>
<g fill="#1a1a1a"><use href="#st" transform="translate(546.1 267.8) scale(1.3)"/><use href="#st" transform="translate(549.6 267.8) scale(1.3)"/></g>
<rect x="558.67" y="261.82" width="21.93" height="11.82" fill="#a0a3d5"/>
<g fill="#1a1a1a"><use href="#st" transform="translate(567.7 267.8) scale(1.3)"/><use href="#st" transform="translate(571.2 267.8) scale(1.3)"/></g>
<rect x="580.30" y="261.82" width="21.93" height="11.82" fill="#eeeef7"/>
<rect x="601.93" y="261.82" width="21.93" height="11.82" fill="#b8b9de"/>
<g fill="#1a1a1a"><use href="#st" transform="translate(612.8 267.8) scale(1.3)"/></g>
<rect x="623.57" y="261.82" width="21.93" height="11.82" fill="#a8abd8"/>
<g fill="#1a1a1a"><use href="#st" transform="translate(630.9 267.8) scale(1.3)"/><use href="#st" transform="translate(634.4 267.8) scale(1.3)"/><use href="#st" transform="translate(637.9 267.8) scale(1.3)"/></g>
<text x="507.8" y="270.6" font-size="8.5" text-anchor="end" fill="#262626" >P15</text>
<line x1="509.8" y1="267.6" x2="515.4" y2="267.6" stroke="#444" stroke-width="0.6"/>
<rect x="515.40" y="273.33" width="21.93" height="11.82" fill="#f0f0f8"/>
<rect x="537.03" y="273.33" width="21.93" height="11.82" fill="#a4a7d6"/>
<g fill="#1a1a1a"><use href="#st" transform="translate(542.6 279.3) scale(1.3)"/><use href="#st" transform="translate(546.1 279.3) scale(1.3)"/><use href="#st" transform="translate(549.6 279.3) scale(1.3)"/><use href="#st" transform="translate(553.1 279.3) scale(1.3)"/></g>
<rect x="558.67" y="273.33" width="21.93" height="11.82" fill="#999cd1"/>
<g fill="#1a1a1a"><use href="#st" transform="translate(564.2 279.3) scale(1.3)"/><use href="#st" transform="translate(567.7 279.3) scale(1.3)"/><use href="#st" transform="translate(571.2 279.3) scale(1.3)"/><use href="#st" transform="translate(574.7 279.3) scale(1.3)"/></g>
<rect x="580.30" y="273.33" width="21.93" height="11.82" fill="#f5f5fa"/>
<rect x="601.93" y="273.33" width="21.93" height="11.82" fill="#eaeaf6"/>
<g fill="#1a1a1a"><use href="#st" transform="translate(609.3 279.3) scale(1.3)"/><use href="#st" transform="translate(612.8 279.3) scale(1.3)"/><use href="#st" transform="translate(616.3 279.3) scale(1.3)"/></g>
<rect x="623.57" y="273.33" width="21.93" height="11.82" fill="#ececf6"/>
<g fill="#1a1a1a"><use href="#st" transform="translate(630.9 279.3) scale(1.3)"/><use href="#st" transform="translate(634.4 279.3) scale(1.3)"/><use href="#st" transform="translate(637.9 279.3) scale(1.3)"/></g>
<text x="507.8" y="282.1" font-size="8.5" text-anchor="end" fill="#262626" >P16</text>
<line x1="509.8" y1="279.1" x2="515.4" y2="279.1" stroke="#444" stroke-width="0.6"/>
<rect x="515.40" y="284.85" width="21.93" height="11.82" fill="#eeeef7"/>
<rect x="537.03" y="284.85" width="21.93" height="11.82" fill="#cecfe9"/>
<g fill="#1a1a1a"><use href="#st" transform="translate(544.4 290.8) scale(1.3)"/><use href="#st" transform="translate(547.9 290.8) scale(1.3)"/><use href="#st" transform="translate(551.4 290.8) scale(1.3)"/></g>
<rect x="558.67" y="284.85" width="21.93" height="11.82" fill="#8d91cd"/>
<g fill="#1a1a1a"><use href="#st" transform="translate(564.2 290.8) scale(1.3)"/><use href="#st" transform="translate(567.7 290.8) scale(1.3)"/><use href="#st" transform="translate(571.2 290.8) scale(1.3)"/><use href="#st" transform="translate(574.7 290.8) scale(1.3)"/></g>
<rect x="580.30" y="284.85" width="21.93" height="11.82" fill="#f3f3fa"/>
<rect x="601.93" y="284.85" width="21.93" height="11.82" fill="#dedef0"/>
<g fill="#1a1a1a"><use href="#st" transform="translate(607.5 290.8) scale(1.3)"/><use href="#st" transform="translate(611.0 290.8) scale(1.3)"/><use href="#st" transform="translate(614.5 290.8) scale(1.3)"/><use href="#st" transform="translate(618.0 290.8) scale(1.3)"/></g>
<rect x="623.57" y="284.85" width="21.93" height="11.82" fill="#898dcb"/>
<g fill="#1a1a1a"><use href="#st" transform="translate(629.1 290.8) scale(1.3)"/><use href="#st" transform="translate(632.6 290.8) scale(1.3)"/><use href="#st" transform="translate(636.1 290.8) scale(1.3)"/><use href="#st" transform="translate(639.6 290.8) scale(1.3)"/></g>
<text x="507.8" y="293.6" font-size="8.5" text-anchor="end" fill="#262626" >P17</text>
<line x1="509.8" y1="290.6" x2="515.4" y2="290.6" stroke="#444" stroke-width="0.6"/>
<rect x="515.40" y="296.37" width="21.93" height="11.82" fill="#f5f5fa"/>
<rect x="537.03" y="296.37" width="21.93" height="11.82" fill="#f1f1f9"/>
<g fill="#1a1a1a"><use href="#st" transform="translate(547.9 302.3) scale(1.3)"/></g>
<rect x="558.67" y="296.37" width="21.93" height="11.82" fill="#f0f0f8"/>
<g fill="#1a1a1a"><use href="#st" transform="translate(569.5 302.3) scale(1.3)"/></g>
<rect x="580.30" y="296.37" width="21.93" height="11.82" fill="#f7f7fc"/>
<rect x="601.93" y="296.37" width="21.93" height="11.82" fill="#e7e7f4"/>
<g fill="#1a1a1a"><use href="#st" transform="translate(611.0 302.3) scale(1.3)"/><use href="#st" transform="translate(614.5 302.3) scale(1.3)"/></g>
<rect x="623.57" y="296.37" width="21.93" height="11.82" fill="#f3f3fa"/>
<g fill="#1a1a1a"><use href="#st" transform="translate(630.9 302.3) scale(1.3)"/><use href="#st" transform="translate(634.4 302.3) scale(1.3)"/><use href="#st" transform="translate(637.9 302.3) scale(1.3)"/></g>
<text x="507.8" y="305.1" font-size="8.5" text-anchor="end" fill="#262626" >P18</text>
<line x1="509.8" y1="302.1" x2="515.4" y2="302.1" stroke="#444" stroke-width="0.6"/>
<rect x="515.40" y="307.88" width="21.93" height="11.82" fill="#f5f5fa"/>
<rect x="537.03" y="307.88" width="21.93" height="11.82" fill="#f5f5fa"/>
<g fill="#1a1a1a"><use href="#st" transform="translate(547.9 313.8) scale(1.3)"/></g>
<rect x="558.67" y="307.88" width="21.93" height="11.82" fill="#f0f0f8"/>
<g fill="#1a1a1a"><use href="#st" transform="translate(566.0 313.8) scale(1.3)"/><use href="#st" transform="translate(569.5 313.8) scale(1.3)"/><use href="#st" transform="translate(573.0 313.8) scale(1.3)"/></g>
<rect x="580.30" y="307.88" width="21.93" height="11.82" fill="#f6f6fb"/>
<rect x="601.93" y="307.88" width="21.93" height="11.82" fill="#f3f3fa"/>
<g fill="#1a1a1a"><use href="#st" transform="translate(612.8 313.8) scale(1.3)"/></g>
<rect x="623.57" y="307.88" width="21.93" height="11.82" fill="#f1f1f9"/>
<g fill="#1a1a1a"><use href="#st" transform="translate(630.9 313.8) scale(1.3)"/><use href="#st" transform="translate(634.4 313.8) scale(1.3)"/><use href="#st" transform="translate(637.9 313.8) scale(1.3)"/></g>
<text x="507.8" y="316.6" font-size="8.5" text-anchor="end" fill="#262626" >P19</text>
<line x1="509.8" y1="313.6" x2="515.4" y2="313.6" stroke="#444" stroke-width="0.6"/>
<rect x="515.4" y="181.2" width="129.80000000000007" height="138.2" fill="none" stroke="#666" stroke-width="0.7"/>
<line x1="580.3" y1="181.2" x2="580.3" y2="319.4" stroke="#555" stroke-width="0.8"/>
<rect x="520.0" y="320.9" width="12.4" height="8" fill="#0fa5c8"/>
<rect x="541.6" y="320.9" width="12.4" height="8" fill="#985da8"/>
<rect x="563.3" y="320.9" width="12.4" height="8" fill="#0c8f62"/>
<rect x="584.9" y="320.9" width="12.4" height="8" fill="#0fa5c8"/>
<rect x="606.6" y="320.9" width="12.4" height="8" fill="#985da8"/>
<rect x="628.2" y="320.9" width="12.4" height="8" fill="#0c8f62"/>
<line x1="516.7" y1="331.2" x2="578" y2="331.2" stroke="#222" stroke-width="0.8"/>
<line x1="582" y1="331.2" x2="643.5" y2="331.2" stroke="#222" stroke-width="0.8"/>
<text x="548.0" y="340.5" font-size="8.5" text-anchor="middle" fill="#262626" >TNF</text>
<text x="613.0" y="340.5" font-size="8.5" text-anchor="middle" fill="#262626" >IFNγ</text>
<defs><linearGradient id="gCb" x1="0" y1="1" x2="0" y2="0"><stop offset="0.00" stop-color="#f8f8fc"/><stop offset="0.20" stop-color="#d6d6ec"/><stop offset="0.40" stop-color="#b0b2db"/><stop offset="0.60" stop-color="#898dcb"/><stop offset="0.80" stop-color="#626aba"/><stop offset="1.00" stop-color="#3a4ea4"/></linearGradient></defs>
<rect x="652.3" y="219.9" width="9.3" height="99.4" fill="url(#gCb)" stroke="#555" stroke-width="0.6"/>
<path d="M652.3 319.3 h1.6 M661.6 319.3 h-1.6" stroke="#333" stroke-width="0.6"/>
<text x="666.0" y="322.5" font-size="8.8" text-anchor="start" fill="#262626" >0</text>
<path d="M652.3 300.7 h1.6 M661.6 300.7 h-1.6" stroke="#333" stroke-width="0.6"/>
<text x="666.0" y="303.9" font-size="8.8" text-anchor="start" fill="#262626" >1</text>
<path d="M652.3 282.1 h1.6 M661.6 282.1 h-1.6" stroke="#333" stroke-width="0.6"/>
<text x="666.0" y="285.3" font-size="8.8" text-anchor="start" fill="#262626" >2</text>
<path d="M652.3 263.5 h1.6 M661.6 263.5 h-1.6" stroke="#333" stroke-width="0.6"/>
<text x="666.0" y="266.7" font-size="8.8" text-anchor="start" fill="#262626" >3</text>
<path d="M652.3 244.9 h1.6 M661.6 244.9 h-1.6" stroke="#333" stroke-width="0.6"/>
<text x="666.0" y="248.1" font-size="8.8" text-anchor="start" fill="#262626" >4</text>
<path d="M652.3 226.3 h1.6 M661.6 226.3 h-1.6" stroke="#333" stroke-width="0.6"/>
<text x="666.0" y="229.5" font-size="8.8" text-anchor="start" fill="#262626" >5</text>
<text font-size="8.5" text-anchor="middle" fill="#222" transform="translate(683.6 269.5) rotate(-90)">Percentage of T cells</text>
<text x="15.0" y="353.0" font-size="14" text-anchor="start" fill="#262626" font-weight="bold">d</text>
<text x="61.8" y="353.3" font-size="8.2" text-anchor="start" fill="#262626" >Avg. FC:</text>
<line x1="101.5" y1="380.2" x2="101.5" y2="498.6" stroke="#6a6a6a" stroke-width="0.8"/>
<line x1="96.2" y1="498.9" x2="101.5" y2="498.9" stroke="#6a6a6a" stroke-width="0.8"/>
<text x="92.9" y="501.9" font-size="8.3" text-anchor="end" fill="#262626" letter-spacing="0.3">−20</text>
<line x1="96.2" y1="479.2" x2="101.5" y2="479.2" stroke="#6a6a6a" stroke-width="0.8"/>
<text x="92.9" y="482.2" font-size="8.3" text-anchor="end" fill="#262626" letter-spacing="0.3">0</text>
<line x1="96.2" y1="459.5" x2="101.5" y2="459.5" stroke="#6a6a6a" stroke-width="0.8"/>
<text x="92.9" y="462.5" font-size="8.3" text-anchor="end" fill="#262626" letter-spacing="0.3">20</text>
<line x1="96.2" y1="439.8" x2="101.5" y2="439.8" stroke="#6a6a6a" stroke-width="0.8"/>
<text x="92.9" y="442.8" font-size="8.3" text-anchor="end" fill="#262626" letter-spacing="0.3">40</text>
<line x1="96.2" y1="420.0" x2="101.5" y2="420.0" stroke="#6a6a6a" stroke-width="0.8"/>
<text x="92.9" y="423.0" font-size="8.3" text-anchor="end" fill="#262626" letter-spacing="0.3">60</text>
<line x1="96.2" y1="400.3" x2="101.5" y2="400.3" stroke="#6a6a6a" stroke-width="0.8"/>
<text x="92.9" y="403.3" font-size="8.3" text-anchor="end" fill="#262626" letter-spacing="0.3">80</text>
<line x1="96.2" y1="380.6" x2="101.5" y2="380.6" stroke="#6a6a6a" stroke-width="0.8"/>
<text x="92.9" y="383.6" font-size="8.3" text-anchor="end" fill="#262626" letter-spacing="0.3">100</text>
<line x1="101.5" y1="498.6" x2="606" y2="498.6" stroke="#bdbdbd" stroke-width="1"/>
<text x="125.4" y="513.3" font-size="8.3" text-anchor="middle" fill="#262626" >P2</text>
<text x="132.1" y="353.3" font-size="8" text-anchor="middle" fill="#262626" >12.2&#160;12.4</text>
<line x1="148.5" y1="380" x2="148.5" y2="498.6" stroke="#222" stroke-width="0.8" stroke-dasharray="3 2"/>
<rect x="106.6" y="472.3" width="11" height="6.9" fill="#0fa5c8"/>
<path d="M112.1 471.3 V473.3 M109.5 471.3 H114.7 M109.5 473.3 H114.7" stroke="#111" stroke-width="0.8" fill="none"/>
<circle cx="109.2" cy="471.9" r="2.2" fill="#111"/>
<circle cx="112.1" cy="473.2" r="2.2" fill="#111"/>
<circle cx="115.2" cy="472.2" r="2.2" fill="#111"/>
<rect x="119.9" y="394.4" width="11" height="84.8" fill="#985da8"/>
<path d="M125.4 393.4 V395.4 M122.8 393.4 H128.0 M122.8 395.4 H128.0" stroke="#111" stroke-width="0.8" fill="none"/>
<circle cx="122.5" cy="394.0" r="2.2" fill="#111"/>
<circle cx="125.4" cy="395.3" r="2.2" fill="#111"/>
<circle cx="128.5" cy="394.4" r="2.2" fill="#111"/>
<g fill="#1a1a1a"><use href="#st" transform="translate(126.9 380.2) scale(1.7)"/><use href="#st" transform="translate(126.9 376.3) scale(1.7)"/><use href="#st" transform="translate(126.9 372.4) scale(1.7)"/><use href="#st" transform="translate(126.9 368.5) scale(1.7)"/></g>
<rect x="133.2" y="392.4" width="11" height="86.8" fill="#0c8f62"/>
<path d="M138.7 391.4 V393.4 M136.1 391.4 H141.3 M136.1 393.4 H141.3" stroke="#111" stroke-width="0.8" fill="none"/>
<circle cx="135.8" cy="392.0" r="2.2" fill="#111"/>
<circle cx="138.7" cy="393.3" r="2.2" fill="#111"/>
<circle cx="141.8" cy="392.4" r="2.2" fill="#111"/>
<g fill="#1a1a1a"><use href="#st" transform="translate(140.2 380.2) scale(1.7)"/><use href="#st" transform="translate(140.2 376.3) scale(1.7)"/><use href="#st" transform="translate(140.2 372.4) scale(1.7)"/><use href="#st" transform="translate(140.2 368.5) scale(1.7)"/></g>
<text x="170.8" y="513.3" font-size="8.3" text-anchor="middle" fill="#262626" >P4</text>
<text x="177.5" y="353.3" font-size="8" text-anchor="middle" fill="#262626" >1.5&#160;&#160;1.6</text>
<line x1="194.1" y1="380" x2="194.1" y2="498.6" stroke="#222" stroke-width="0.8" stroke-dasharray="3 2"/>
<rect x="152.0" y="423.0" width="11" height="56.2" fill="#0fa5c8"/>
<path d="M157.5 419.1 V426.9 M154.9 419.1 H160.1 M154.9 426.9 H160.1" stroke="#111" stroke-width="0.8" fill="none"/>
<circle cx="154.6" cy="421.4" r="2.2" fill="#111"/>
<circle cx="157.5" cy="426.5" r="2.2" fill="#111"/>
<circle cx="160.6" cy="422.8" r="2.2" fill="#111"/>
<rect x="165.3" y="395.4" width="11" height="83.8" fill="#985da8"/>
<path d="M170.8 394.4 V396.4 M168.2 394.4 H173.4 M168.2 396.4 H173.4" stroke="#111" stroke-width="0.8" fill="none"/>
<circle cx="167.9" cy="395.0" r="2.2" fill="#111"/>
<circle cx="170.8" cy="396.3" r="2.2" fill="#111"/>
<circle cx="173.9" cy="395.3" r="2.2" fill="#111"/>
<g fill="#1a1a1a"><use href="#st" transform="translate(172.3 380.2) scale(1.7)"/><use href="#st" transform="translate(172.3 376.3) scale(1.7)"/><use href="#st" transform="translate(172.3 372.4) scale(1.7)"/><use href="#st" transform="translate(172.3 368.5) scale(1.7)"/></g>
<rect x="178.6" y="391.4" width="11" height="87.8" fill="#0c8f62"/>
<path d="M184.1 390.5 V392.4 M181.5 390.5 H186.7 M181.5 392.4 H186.7" stroke="#111" stroke-width="0.8" fill="none"/>
<circle cx="181.2" cy="391.1" r="2.2" fill="#111"/>
<circle cx="184.1" cy="392.3" r="2.2" fill="#111"/>
<circle cx="187.2" cy="391.4" r="2.2" fill="#111"/>
<g fill="#1a1a1a"><use href="#st" transform="translate(185.6 380.2) scale(1.7)"/><use href="#st" transform="translate(185.6 376.3) scale(1.7)"/><use href="#st" transform="translate(185.6 372.4) scale(1.7)"/><use href="#st" transform="translate(185.6 368.5) scale(1.7)"/></g>
<text x="216.2" y="513.3" font-size="8.3" text-anchor="middle" fill="#262626" >P5</text>
<text x="222.9" y="353.3" font-size="8" text-anchor="middle" fill="#262626" >0.2&#160;&#160;2.8</text>
<line x1="239.6" y1="380" x2="239.6" y2="498.6" stroke="#222" stroke-width="0.8" stroke-dasharray="3 2"/>
<rect x="197.4" y="461.5" width="11" height="17.7" fill="#0fa5c8"/>
<path d="M202.9 452.6 V470.3 M200.3 452.6 H205.5 M200.3 470.3 H205.5" stroke="#111" stroke-width="0.8" fill="none"/>
<circle cx="200.0" cy="457.9" r="2.2" fill="#111"/>
<circle cx="202.9" cy="469.4" r="2.2" fill="#111"/>
<circle cx="206.0" cy="461.0" r="2.2" fill="#111"/>
<rect x="210.7" y="476.2" width="11" height="3.0" fill="#985da8"/>
<path d="M216.2 473.3 V479.2 M213.6 473.3 H218.8 M213.6 479.2 H218.8" stroke="#111" stroke-width="0.8" fill="none"/>
<circle cx="213.3" cy="475.1" r="2.2" fill="#111"/>
<circle cx="216.2" cy="478.9" r="2.2" fill="#111"/>
<circle cx="219.3" cy="476.1" r="2.2" fill="#111"/>
<rect x="224.0" y="429.9" width="11" height="49.3" fill="#0c8f62"/>
<path d="M229.5 424.0 V435.8 M226.9 424.0 H232.1 M226.9 435.8 H232.1" stroke="#111" stroke-width="0.8" fill="none"/>
<circle cx="226.6" cy="427.5" r="2.2" fill="#111"/>
<circle cx="229.5" cy="435.2" r="2.2" fill="#111"/>
<circle cx="232.6" cy="429.6" r="2.2" fill="#111"/>
<g fill="#1a1a1a"><use href="#st" transform="translate(231.0 415.5) scale(1.7)"/><use href="#st" transform="translate(231.0 411.6) scale(1.7)"/><use href="#st" transform="translate(231.0 407.7) scale(1.7)"/><use href="#st" transform="translate(231.0 403.8) scale(1.7)"/></g>
<text x="261.6" y="513.3" font-size="8.3" text-anchor="middle" fill="#262626" >P6</text>
<text x="268.3" y="353.3" font-size="8" text-anchor="middle" fill="#262626" >4.6&#160;&#160;5.0</text>
<line x1="285.1" y1="380" x2="285.1" y2="498.6" stroke="#222" stroke-width="0.8" stroke-dasharray="3 2"/>
<rect x="242.8" y="463.4" width="11" height="15.8" fill="#0fa5c8"/>
<path d="M248.3 458.5 V468.4 M245.7 458.5 H250.9 M245.7 468.4 H250.9" stroke="#111" stroke-width="0.8" fill="none"/>
<circle cx="245.4" cy="461.5" r="2.2" fill="#111"/>
<circle cx="248.3" cy="467.9" r="2.2" fill="#111"/>
<circle cx="251.4" cy="463.2" r="2.2" fill="#111"/>
<rect x="256.1" y="401.8" width="11" height="77.4" fill="#985da8"/>
<path d="M261.6 400.8 V402.8 M259.0 400.8 H264.2 M259.0 402.8 H264.2" stroke="#111" stroke-width="0.8" fill="none"/>
<circle cx="258.7" cy="401.4" r="2.2" fill="#111"/>
<circle cx="261.6" cy="402.7" r="2.2" fill="#111"/>
<circle cx="264.7" cy="401.7" r="2.2" fill="#111"/>
<g fill="#1a1a1a"><use href="#st" transform="translate(263.1 380.2) scale(1.7)"/><use href="#st" transform="translate(263.1 376.3) scale(1.7)"/><use href="#st" transform="translate(263.1 372.4) scale(1.7)"/><use href="#st" transform="translate(263.1 368.5) scale(1.7)"/></g>
<rect x="269.4" y="395.4" width="11" height="83.8" fill="#0c8f62"/>
<path d="M274.9 394.4 V396.4 M272.3 394.4 H277.5 M272.3 396.4 H277.5" stroke="#111" stroke-width="0.8" fill="none"/>
<circle cx="272.0" cy="395.0" r="2.2" fill="#111"/>
<circle cx="274.9" cy="396.3" r="2.2" fill="#111"/>
<circle cx="278.0" cy="395.3" r="2.2" fill="#111"/>
<g fill="#1a1a1a"><use href="#st" transform="translate(276.4 380.2) scale(1.7)"/><use href="#st" transform="translate(276.4 376.3) scale(1.7)"/><use href="#st" transform="translate(276.4 372.4) scale(1.7)"/><use href="#st" transform="translate(276.4 368.5) scale(1.7)"/></g>
<text x="307.1" y="513.3" font-size="8.3" text-anchor="middle" fill="#262626" >P7</text>
<text x="313.7" y="353.3" font-size="8" text-anchor="middle" fill="#262626" >18.3&#160;17.9</text>
<line x1="330.7" y1="380" x2="330.7" y2="498.6" stroke="#222" stroke-width="0.8" stroke-dasharray="3 2"/>
<rect x="288.3" y="478.2" width="11" height="1.0" fill="#0fa5c8"/>
<path d="M293.8 476.2 V480.2 M291.2 476.2 H296.4 M291.2 480.2 H296.4" stroke="#111" stroke-width="0.8" fill="none"/>
<circle cx="290.9" cy="477.4" r="2.2" fill="#111"/>
<circle cx="293.8" cy="480.0" r="2.2" fill="#111"/>
<circle cx="296.9" cy="478.1" r="2.2" fill="#111"/>
<rect x="301.6" y="452.6" width="11" height="26.6" fill="#985da8"/>
<path d="M307.1 451.6 V453.6 M304.5 451.6 H309.7 M304.5 453.6 H309.7" stroke="#111" stroke-width="0.8" fill="none"/>
<circle cx="304.2" cy="452.2" r="2.2" fill="#111"/>
<circle cx="307.1" cy="453.5" r="2.2" fill="#111"/>
<circle cx="310.2" cy="452.5" r="2.2" fill="#111"/>
<g fill="#1a1a1a"><use href="#st" transform="translate(308.6 439.3) scale(1.7)"/><use href="#st" transform="translate(308.6 435.4) scale(1.7)"/><use href="#st" transform="translate(308.6 431.5) scale(1.7)"/><use href="#st" transform="translate(308.6 427.6) scale(1.7)"/></g>
<rect x="314.9" y="453.6" width="11" height="25.6" fill="#0c8f62"/>
<path d="M320.4 452.6 V454.6 M317.8 452.6 H323.0 M317.8 454.6 H323.0" stroke="#111" stroke-width="0.8" fill="none"/>
<circle cx="317.5" cy="453.2" r="2.2" fill="#111"/>
<circle cx="320.4" cy="454.5" r="2.2" fill="#111"/>
<circle cx="323.5" cy="453.5" r="2.2" fill="#111"/>
<g fill="#1a1a1a"><use href="#st" transform="translate(321.9 439.3) scale(1.7)"/><use href="#st" transform="translate(321.9 435.4) scale(1.7)"/><use href="#st" transform="translate(321.9 431.5) scale(1.7)"/><use href="#st" transform="translate(321.9 427.6) scale(1.7)"/></g>
<text x="352.5" y="513.3" font-size="8.3" text-anchor="middle" fill="#262626" >P8</text>
<text x="359.1" y="353.3" font-size="8" text-anchor="middle" fill="#262626" >7.3&#160;&#160;8.8</text>
<line x1="376.2" y1="380" x2="376.2" y2="498.6" stroke="#222" stroke-width="0.8" stroke-dasharray="3 2"/>
<rect x="333.7" y="471.9" width="11" height="7.3" fill="#0fa5c8"/>
<path d="M339.2 469.9 V473.9 M336.6 469.9 H341.8 M336.6 473.9 H341.8" stroke="#111" stroke-width="0.8" fill="none"/>
<circle cx="336.3" cy="471.1" r="2.2" fill="#111"/>
<circle cx="339.2" cy="473.7" r="2.2" fill="#111"/>
<circle cx="342.3" cy="471.8" r="2.2" fill="#111"/>
<rect x="347.0" y="422.0" width="11" height="57.2" fill="#985da8"/>
<path d="M352.5 419.1 V425.0 M349.9 419.1 H355.1 M349.9 425.0 H355.1" stroke="#111" stroke-width="0.8" fill="none"/>
<circle cx="349.6" cy="420.8" r="2.2" fill="#111"/>
<circle cx="352.5" cy="424.7" r="2.2" fill="#111"/>
<circle cx="355.6" cy="421.9" r="2.2" fill="#111"/>
<g fill="#1a1a1a"><use href="#st" transform="translate(354.0 408.3) scale(1.7)"/><use href="#st" transform="translate(354.0 404.4) scale(1.7)"/><use href="#st" transform="translate(354.0 400.5) scale(1.7)"/><use href="#st" transform="translate(354.0 396.6) scale(1.7)"/></g>
<rect x="360.3" y="410.5" width="11" height="68.7" fill="#0c8f62"/>
<path d="M365.8 408.5 V412.4 M363.2 408.5 H368.4 M363.2 412.4 H368.4" stroke="#111" stroke-width="0.8" fill="none"/>
<circle cx="362.9" cy="409.7" r="2.2" fill="#111"/>
<circle cx="365.8" cy="412.3" r="2.2" fill="#111"/>
<circle cx="368.9" cy="410.4" r="2.2" fill="#111"/>
<g fill="#1a1a1a"><use href="#st" transform="translate(367.3 397.4) scale(1.7)"/><use href="#st" transform="translate(367.3 393.5) scale(1.7)"/><use href="#st" transform="translate(367.3 389.6) scale(1.7)"/><use href="#st" transform="translate(367.3 385.7) scale(1.7)"/></g>
<text x="397.9" y="513.3" font-size="8.3" text-anchor="middle" fill="#262626" >P10</text>
<text x="404.5" y="353.3" font-size="8" text-anchor="middle" fill="#262626" >&gt;29&#160;&#160;&gt;28</text>
<line x1="421.8" y1="380" x2="421.8" y2="498.6" stroke="#222" stroke-width="0.8" stroke-dasharray="3 2"/>
<rect x="379.1" y="479.2" width="11" height="5.4" fill="#0fa5c8"/>
<path d="M384.6 482.7 V486.6 M382.0 482.7 H387.2 M382.0 486.6 H387.2" stroke="#111" stroke-width="0.8" fill="none"/>
<circle cx="381.7" cy="483.8" r="2.2" fill="#111"/>
<circle cx="384.6" cy="486.4" r="2.2" fill="#111"/>
<circle cx="387.7" cy="484.5" r="2.2" fill="#111"/>
<rect x="392.4" y="450.3" width="11" height="28.9" fill="#985da8"/>
<path d="M397.9 449.3 V451.3 M395.3 449.3 H400.5 M395.3 451.3 H400.5" stroke="#111" stroke-width="0.8" fill="none"/>
<circle cx="395.0" cy="449.9" r="2.2" fill="#111"/>
<circle cx="397.9" cy="451.2" r="2.2" fill="#111"/>
<circle cx="401.0" cy="450.3" r="2.2" fill="#111"/>
<g fill="#1a1a1a"><use href="#st" transform="translate(399.4 439.3) scale(1.7)"/><use href="#st" transform="translate(399.4 435.4) scale(1.7)"/><use href="#st" transform="translate(399.4 431.5) scale(1.7)"/><use href="#st" transform="translate(399.4 427.6) scale(1.7)"/></g>
<rect x="405.7" y="451.0" width="11" height="28.2" fill="#0c8f62"/>
<path d="M411.2 450.0 V452.0 M408.6 450.0 H413.8 M408.6 452.0 H413.8" stroke="#111" stroke-width="0.8" fill="none"/>
<circle cx="408.3" cy="450.6" r="2.2" fill="#111"/>
<circle cx="411.2" cy="451.9" r="2.2" fill="#111"/>
<circle cx="414.3" cy="451.0" r="2.2" fill="#111"/>
<g fill="#1a1a1a"><use href="#st" transform="translate(412.7 439.3) scale(1.7)"/><use href="#st" transform="translate(412.7 435.4) scale(1.7)"/><use href="#st" transform="translate(412.7 431.5) scale(1.7)"/><use href="#st" transform="translate(412.7 427.6) scale(1.7)"/></g>
<text x="443.3" y="513.3" font-size="8.3" text-anchor="middle" fill="#262626" >P12</text>
<text x="450.0" y="353.3" font-size="8" text-anchor="middle" fill="#262626" >1.7&#160;&#160;2.7</text>
<line x1="467.3" y1="380" x2="467.3" y2="498.6" stroke="#222" stroke-width="0.8" stroke-dasharray="3 2"/>
<rect x="424.5" y="474.8" width="11" height="4.4" fill="#0fa5c8"/>
<path d="M430.0 473.3 V476.2 M427.4 473.3 H432.6 M427.4 476.2 H432.6" stroke="#111" stroke-width="0.8" fill="none"/>
<circle cx="427.1" cy="474.2" r="2.2" fill="#111"/>
<circle cx="430.0" cy="476.1" r="2.2" fill="#111"/>
<circle cx="433.1" cy="474.7" r="2.2" fill="#111"/>
<rect x="437.8" y="470.3" width="11" height="8.9" fill="#985da8"/>
<path d="M443.3 466.4 V474.3 M440.7 466.4 H445.9 M440.7 474.3 H445.9" stroke="#111" stroke-width="0.8" fill="none"/>
<circle cx="440.4" cy="468.7" r="2.2" fill="#111"/>
<circle cx="443.3" cy="473.9" r="2.2" fill="#111"/>
<circle cx="446.4" cy="470.1" r="2.2" fill="#111"/>
<rect x="451.1" y="468.4" width="11" height="10.8" fill="#0c8f62"/>
<path d="M456.6 467.4 V469.3 M454.0 467.4 H459.2 M454.0 469.3 H459.2" stroke="#111" stroke-width="0.8" fill="none"/>
<circle cx="453.7" cy="468.0" r="2.2" fill="#111"/>
<circle cx="456.6" cy="469.2" r="2.2" fill="#111"/>
<circle cx="459.7" cy="468.3" r="2.2" fill="#111"/>
<g fill="#1a1a1a"><use href="#st" transform="translate(458.1 457.5) scale(1.7)"/><use href="#st" transform="translate(458.1 453.6) scale(1.7)"/></g>
<text x="488.7" y="513.3" font-size="8.3" text-anchor="middle" fill="#262626" >P17</text>
<text x="495.4" y="353.3" font-size="8" text-anchor="middle" fill="#262626" >3.5&#160;&#160;4.2</text>
<line x1="512.9" y1="380" x2="512.9" y2="498.6" stroke="#222" stroke-width="0.8" stroke-dasharray="3 2"/>
<rect x="469.9" y="458.5" width="11" height="20.7" fill="#0fa5c8"/>
<path d="M475.4 457.5 V459.5 M472.8 457.5 H478.0 M472.8 459.5 H478.0" stroke="#111" stroke-width="0.8" fill="none"/>
<circle cx="472.5" cy="458.1" r="2.2" fill="#111"/>
<circle cx="475.4" cy="459.4" r="2.2" fill="#111"/>
<circle cx="478.5" cy="458.4" r="2.2" fill="#111"/>
<rect x="483.2" y="406.2" width="11" height="73.0" fill="#985da8"/>
<path d="M488.7 404.3 V408.2 M486.1 404.3 H491.3 M486.1 408.2 H491.3" stroke="#111" stroke-width="0.8" fill="none"/>
<circle cx="485.8" cy="405.4" r="2.2" fill="#111"/>
<circle cx="488.7" cy="408.0" r="2.2" fill="#111"/>
<circle cx="491.8" cy="406.1" r="2.2" fill="#111"/>
<g fill="#1a1a1a"><use href="#st" transform="translate(490.2 380.2) scale(1.7)"/><use href="#st" transform="translate(490.2 376.3) scale(1.7)"/><use href="#st" transform="translate(490.2 372.4) scale(1.7)"/><use href="#st" transform="translate(490.2 368.5) scale(1.7)"/></g>
<rect x="496.5" y="391.4" width="11" height="87.8" fill="#0c8f62"/>
<path d="M502.0 390.5 V392.4 M499.4 390.5 H504.6 M499.4 392.4 H504.6" stroke="#111" stroke-width="0.8" fill="none"/>
<circle cx="499.1" cy="391.1" r="2.2" fill="#111"/>
<circle cx="502.0" cy="392.3" r="2.2" fill="#111"/>
<circle cx="505.1" cy="391.4" r="2.2" fill="#111"/>
<g fill="#1a1a1a"><use href="#st" transform="translate(503.5 380.2) scale(1.7)"/><use href="#st" transform="translate(503.5 376.3) scale(1.7)"/><use href="#st" transform="translate(503.5 372.4) scale(1.7)"/><use href="#st" transform="translate(503.5 368.5) scale(1.7)"/></g>
<text x="534.1" y="513.3" font-size="8.3" text-anchor="middle" fill="#262626" >P18</text>
<text x="540.8" y="353.3" font-size="8" text-anchor="middle" fill="#262626" >3.3&#160;&#160;2.5</text>
<line x1="558.5" y1="380" x2="558.5" y2="498.6" stroke="#222" stroke-width="0.8" stroke-dasharray="3 2"/>
<rect x="515.3" y="455.5" width="11" height="23.7" fill="#0fa5c8"/>
<path d="M520.8 454.1 V457.0 M518.2 454.1 H523.4 M518.2 457.0 H523.4" stroke="#111" stroke-width="0.8" fill="none"/>
<circle cx="517.9" cy="454.9" r="2.2" fill="#111"/>
<circle cx="520.8" cy="456.9" r="2.2" fill="#111"/>
<circle cx="523.9" cy="455.5" r="2.2" fill="#111"/>
<rect x="528.6" y="402.3" width="11" height="76.9" fill="#985da8"/>
<path d="M534.1 401.3 V403.3 M531.5 401.3 H536.7 M531.5 403.3 H536.7" stroke="#111" stroke-width="0.8" fill="none"/>
<circle cx="531.2" cy="401.9" r="2.2" fill="#111"/>
<circle cx="534.1" cy="403.2" r="2.2" fill="#111"/>
<circle cx="537.2" cy="402.2" r="2.2" fill="#111"/>
<g fill="#1a1a1a"><use href="#st" transform="translate(535.6 380.2) scale(1.7)"/><use href="#st" transform="translate(535.6 376.3) scale(1.7)"/><use href="#st" transform="translate(535.6 372.4) scale(1.7)"/><use href="#st" transform="translate(535.6 368.5) scale(1.7)"/></g>
<rect x="541.9" y="420.0" width="11" height="59.2" fill="#0c8f62"/>
<path d="M547.4 418.1 V422.0 M544.8 418.1 H550.0 M544.8 422.0 H550.0" stroke="#111" stroke-width="0.8" fill="none"/>
<circle cx="544.5" cy="419.3" r="2.2" fill="#111"/>
<circle cx="547.4" cy="421.8" r="2.2" fill="#111"/>
<circle cx="550.5" cy="419.9" r="2.2" fill="#111"/>
<g fill="#1a1a1a"><use href="#st" transform="translate(548.9 380.2) scale(1.7)"/><use href="#st" transform="translate(548.9 376.3) scale(1.7)"/><use href="#st" transform="translate(548.9 372.4) scale(1.7)"/><use href="#st" transform="translate(548.9 368.5) scale(1.7)"/></g>
<text x="579.5" y="513.3" font-size="8.3" text-anchor="middle" fill="#262626" >P19</text>
<text x="586.2" y="353.3" font-size="8" text-anchor="middle" fill="#262626" >7.7&#160;&#160;15.3</text>
<rect x="560.8" y="478.2" width="11" height="1.0" fill="#0fa5c8"/>
<path d="M566.2 477.2 V479.2 M563.6 477.2 H568.9 M563.6 479.2 H568.9" stroke="#111" stroke-width="0.8" fill="none"/>
<circle cx="563.4" cy="477.8" r="2.2" fill="#111"/>
<circle cx="566.2" cy="479.1" r="2.2" fill="#111"/>
<circle cx="569.4" cy="478.2" r="2.2" fill="#111"/>
<rect x="574.0" y="469.0" width="11" height="10.2" fill="#985da8"/>
<path d="M579.5 468.1 V470.0 M576.9 468.1 H582.1 M576.9 470.0 H582.1" stroke="#111" stroke-width="0.8" fill="none"/>
<circle cx="576.6" cy="468.6" r="2.2" fill="#111"/>
<circle cx="579.5" cy="469.9" r="2.2" fill="#111"/>
<circle cx="582.6" cy="469.0" r="2.2" fill="#111"/>
<g fill="#1a1a1a"><use href="#st" transform="translate(581.0 451.0) scale(1.7)"/><use href="#st" transform="translate(581.0 447.1) scale(1.7)"/><use href="#st" transform="translate(581.0 443.2) scale(1.7)"/><use href="#st" transform="translate(581.0 439.3) scale(1.7)"/></g>
<rect x="587.3" y="459.0" width="11" height="20.2" fill="#0c8f62"/>
<path d="M592.8 457.5 V460.5 M590.2 457.5 H595.4 M590.2 460.5 H595.4" stroke="#111" stroke-width="0.8" fill="none"/>
<circle cx="589.9" cy="458.4" r="2.2" fill="#111"/>
<circle cx="592.8" cy="460.3" r="2.2" fill="#111"/>
<circle cx="595.9" cy="458.9" r="2.2" fill="#111"/>
<g fill="#1a1a1a"><use href="#st" transform="translate(594.3 451.0) scale(1.7)"/><use href="#st" transform="translate(594.3 447.1) scale(1.7)"/><use href="#st" transform="translate(594.3 443.2) scale(1.7)"/><use href="#st" transform="translate(594.3 439.3) scale(1.7)"/></g>
<line x1="101.5" y1="479.2" x2="606" y2="479.2" stroke="#111" stroke-width="0.9"/>
<text font-size="8.8" text-anchor="middle" fill="#222" transform="translate(60.6 440.1) rotate(-90)">Percentage of tumour</text>
<text font-size="8.5" text-anchor="middle" fill="#222" transform="translate(72.3 440) rotate(-90)">cell killing</text>
<text x="15.0" y="543.9" font-size="14.5" text-anchor="start" fill="#262626" font-weight="bold">e</text>
<text x="94.6" y="543.6" font-size="8.5" text-anchor="middle" fill="#262626" >Control</text>
<rect x="131.8" y="538.1" width="69.7" height="6" fill="#0fa5c8"/>
<rect x="203.6" y="538.1" width="69.4" height="6" fill="#985da8"/>
<rect x="275.2" y="538.1" width="69.8" height="6" fill="#0c8f62"/>
<defs>
<filter id="fN" x="0" y="0" width="1" height="1" color-interpolation-filters="sRGB">
<feTurbulence type="fractalNoise" baseFrequency="0.6" numOctaves="2" seed="4" result="t"/>
<feColorMatrix in="t" type="matrix" values="0 0 0 0 0.70  0 0 0 0 0.76  0 0 0 0 0.93  1.4 0 0 0 -0.58"/>
</filter>
<filter id="fB" x="-20%" y="-20%" width="140%" height="140%"><feGaussianBlur stdDeviation="3"/></filter>
</defs>
<clipPath id="ct00"><rect x="60" y="549.2" width="69.8" height="53.6"/></clipPath>
<g clip-path="url(#ct00)">
<rect x="60" y="549.2" width="69.8" height="53.6" fill="#e8eaf1"/>
<rect x="60" y="549.2" width="69.8" height="53.6" fill="#fff" filter="url(#fN)"/>
<rect x="114.6" y="550.1" width="14.2" height="21" fill="#f5f5f7" stroke="#b4b4ba" stroke-width="0.45"/>
<path d="M117.6 551.3 C124.6 551.6 128.4 556.4 128.4 560.6 C128.4 565.9 124.6 570.1 117.6 570.3 Z" fill="#e5e7f0"/>
<path d="M120.1 561.0 h3 v-2.5" fill="none" stroke="#c05060" stroke-width="0.45"/>
</g>
<clipPath id="ct01"><rect x="131.8" y="549.2" width="69.7" height="53.6"/></clipPath>
<g clip-path="url(#ct01)">
<rect x="131.8" y="549.2" width="69.7" height="53.6" fill="#e8eaf1"/>
<rect x="131.8" y="549.2" width="69.7" height="53.6" fill="#fff" filter="url(#fN)"/>
<path d="M162.5 574.7h.8v.8h-.8zM154.3 571.1h.8v.8h-.8zM182.7 587.0h.8v.8h-.8zM176.5 573.6h.8v.8h-.8zM142.1 586.9h.8v.8h-.8zM193.7 593.9h.8v.8h-.8zM187.7 579.9h.8v.8h-.8zM173.4 575.8h.8v.8h-.8zM189.3 572.2h.8v.8h-.8zM205.4 586.9h.8v.8h-.8zM160.8 576.0h.8v.8h-.8zM137.6 565.7h.8v.8h-.8zM161.2 610.4h.8v.8h-.8zM152.0 588.9h.8v.8h-.8zM168.0 571.8h.8v.8h-.8zM177.9 548.0h.8v.8h-.8zM183.7 603.2h.8v.8h-.8zM172.0 575.1h.8v.8h-.8zM169.5 585.3h.8v.8h-.8zM157.8 577.7h.8v.8h-.8zM175.8 571.1h.8v.8h-.8zM173.7 580.7h.8v.8h-.8zM179.6 562.1h.8v.8h-.8zM157.0 570.0h.8v.8h-.8zM188.3 579.5h.8v.8h-.8zM136.8 558.1h.8v.8h-.8zM201.7 580.8h.8v.8h-.8zM143.3 563.2h.8v.8h-.8zM169.2 596.1h.8v.8h-.8zM195.9 570.9h.8v.8h-.8zM161.7 577.0h.8v.8h-.8zM158.4 575.3h.8v.8h-.8zM164.8 568.4h.8v.8h-.8zM169.4 570.2h.8v.8h-.8zM159.1 560.8h.8v.8h-.8zM163.2 570.4h.8v.8h-.8zM169.8 555.7h.8v.8h-.8zM169.6 570.9h.8v.8h-.8zM170.5 571.7h.8v.8h-.8zM164.2 570.0h.8v.8h-.8zM165.1 565.0h.8v.8h-.8zM162.6 568.6h.8v.8h-.8zM161.0 561.1h.8v.8h-.8zM156.2 570.3h.8v.8h-.8zM165.7 568.5h.8v.8h-.8zM157.5 571.9h.8v.8h-.8zM161.3 558.2h.8v.8h-.8zM170.7 561.0h.8v.8h-.8zM174.0 570.5h.8v.8h-.8zM161.0 556.9h.8v.8h-.8z" fill="#a0502a" opacity="0.78"/>
<rect x="186.3" y="550.1" width="14.2" height="22.5" fill="#f5f5f7" stroke="#b4b4ba" stroke-width="0.45"/>
<path d="M189.3 551.3 C196.3 551.6 200.1 556.9 200.1 561.4 C200.1 567.0 196.3 571.6 189.3 571.8 Z" fill="#e5e7f0"/>
<path d="M191.8 561.8 h3 v-2.5" fill="none" stroke="#c05060" stroke-width="0.45"/>
</g>
<clipPath id="ct02"><rect x="203.6" y="549.2" width="69.4" height="53.6"/></clipPath>
<g clip-path="url(#ct02)">
<rect x="203.6" y="549.2" width="69.4" height="53.6" fill="#e8eaf1"/>
<rect x="203.6" y="549.2" width="69.4" height="53.6" fill="#fff" filter="url(#fN)"/>
<path d="M222.1 575.5h.8v.8h-.8zM253.4 567.1h.8v.8h-.8zM206.7 562.7h.8v.8h-.8zM228.5 568.5h.8v.8h-.8zM230.8 567.7h.8v.8h-.8zM207.9 560.9h.8v.8h-.8zM254.7 555.3h.8v.8h-.8zM246.8 581.1h.8v.8h-.8zM242.7 555.7h.8v.8h-.8zM251.7 552.5h.8v.8h-.8zM237.9 562.5h.8v.8h-.8zM251.6 573.4h.8v.8h-.8zM235.6 577.6h.8v.8h-.8zM247.7 562.0h.8v.8h-.8zM217.8 582.2h.8v.8h-.8zM226.6 568.1h.8v.8h-.8zM231.0 562.0h.8v.8h-.8zM208.3 564.3h.8v.8h-.8zM231.0 572.0h.8v.8h-.8zM224.9 554.5h.8v.8h-.8zM216.4 565.0h.8v.8h-.8zM236.6 570.3h.8v.8h-.8zM226.9 569.0h.8v.8h-.8zM234.9 576.9h.8v.8h-.8zM231.9 566.3h.8v.8h-.8zM241.4 573.7h.8v.8h-.8zM218.7 562.0h.8v.8h-.8zM228.6 550.6h.8v.8h-.8zM252.6 572.7h.8v.8h-.8zM233.1 588.4h.8v.8h-.8zM252.1 579.2h.8v.8h-.8zM256.7 571.5h.8v.8h-.8zM211.2 575.8h.8v.8h-.8zM239.2 557.1h.8v.8h-.8zM233.6 570.5h.8v.8h-.8zM247.7 566.5h.8v.8h-.8zM224.8 570.5h.8v.8h-.8zM221.2 564.8h.8v.8h-.8zM244.4 555.4h.8v.8h-.8zM238.5 551.8h.8v.8h-.8zM218.6 556.8h.8v.8h-.8zM231.4 570.2h.8v.8h-.8zM232.0 571.6h.8v.8h-.8zM234.2 563.9h.8v.8h-.8zM240.3 563.6h.8v.8h-.8zM234.8 572.4h.8v.8h-.8zM224.1 573.2h.8v.8h-.8zM215.9 563.8h.8v.8h-.8zM206.3 561.6h.8v.8h-.8zM257.0 567.7h.8v.8h-.8zM252.1 555.2h.8v.8h-.8zM217.3 568.5h.8v.8h-.8zM245.4 571.0h.8v.8h-.8zM207.2 568.8h.8v.8h-.8zM231.7 566.1h.8v.8h-.8zM240.0 563.4h.8v.8h-.8zM206.9 557.9h.8v.8h-.8zM210.7 556.2h.8v.8h-.8zM230.7 574.3h.8v.8h-.8zM221.9 560.0h.8v.8h-.8zM215.2 553.4h.8v.8h-.8zM233.8 561.9h.8v.8h-.8zM229.1 558.7h.8v.8h-.8zM240.2 557.0h.8v.8h-.8zM241.1 560.7h.8v.8h-.8zM244.8 559.2h.8v.8h-.8zM239.5 568.3h.8v.8h-.8zM231.5 576.5h.8v.8h-.8zM235.4 559.2h.8v.8h-.8zM243.3 559.6h.8v.8h-.8zM224.5 565.4h.8v.8h-.8zM235.5 577.0h.8v.8h-.8zM206.1 563.5h.8v.8h-.8zM250.0 564.2h.8v.8h-.8zM237.7 575.8h.8v.8h-.8zM213.9 565.6h.8v.8h-.8zM244.9 561.2h.8v.8h-.8zM206.0 558.4h.8v.8h-.8zM235.7 566.6h.8v.8h-.8zM260.9 574.4h.8v.8h-.8zM209.1 572.4h.8v.8h-.8zM246.7 576.4h.8v.8h-.8zM230.4 561.4h.8v.8h-.8zM235.0 575.9h.8v.8h-.8zM242.3 577.0h.8v.8h-.8zM244.8 561.2h.8v.8h-.8zM217.3 578.0h.8v.8h-.8zM209.6 562.9h.8v.8h-.8zM227.9 559.0h.8v.8h-.8zM224.0 565.3h.8v.8h-.8zM269.1 564.8h.8v.8h-.8zM224.7 566.1h.8v.8h-.8zM247.1 559.7h.8v.8h-.8zM226.5 553.2h.8v.8h-.8zM243.5 570.0h.8v.8h-.8zM255.7 557.0h.8v.8h-.8zM266.0 571.3h.8v.8h-.8zM228.5 562.6h.8v.8h-.8zM228.0 556.9h.8v.8h-.8zM244.5 561.1h.8v.8h-.8zM221.7 568.8h.8v.8h-.8zM234.5 561.3h.8v.8h-.8zM229.2 561.9h.8v.8h-.8zM253.4 572.2h.8v.8h-.8zM221.6 565.0h.8v.8h-.8zM253.8 563.3h.8v.8h-.8zM260.0 568.4h.8v.8h-.8zM243.0 551.0h.8v.8h-.8zM245.8 567.6h.8v.8h-.8zM241.7 568.6h.8v.8h-.8zM240.8 561.8h.8v.8h-.8zM246.5 565.7h.8v.8h-.8zM216.7 558.3h.8v.8h-.8zM235.2 567.6h.8v.8h-.8zM198.9 551.0h.8v.8h-.8zM248.8 565.2h.8v.8h-.8zM276.4 554.7h.8v.8h-.8zM228.9 561.1h.8v.8h-.8zM241.3 575.0h.8v.8h-.8zM257.5 558.3h.8v.8h-.8zM251.7 556.9h.8v.8h-.8zM237.5 566.5h.8v.8h-.8zM242.3 559.8h.8v.8h-.8zM253.3 564.8h.8v.8h-.8zM232.5 563.4h.8v.8h-.8zM216.4 570.3h.8v.8h-.8zM237.9 568.4h.8v.8h-.8zM261.3 559.3h.8v.8h-.8zM228.4 565.3h.8v.8h-.8zM245.9 564.1h.8v.8h-.8zM247.1 568.4h.8v.8h-.8zM205.8 560.6h.8v.8h-.8zM201.6 563.3h.8v.8h-.8zM226.4 569.4h.8v.8h-.8zM235.4 564.8h.8v.8h-.8zM252.1 569.4h.8v.8h-.8zM213.9 560.5h.8v.8h-.8zM237.8 577.0h.8v.8h-.8zM229.7 564.1h.8v.8h-.8zM236.8 570.7h.8v.8h-.8zM231.4 567.3h.8v.8h-.8zM226.3 561.5h.8v.8h-.8zM220.6 569.8h.8v.8h-.8zM224.2 569.1h.8v.8h-.8zM239.0 572.0h.8v.8h-.8zM191.5 558.6h.8v.8h-.8zM214.0 564.1h.8v.8h-.8zM245.1 582.8h.8v.8h-.8zM256.5 574.7h.8v.8h-.8zM238.6 562.6h.8v.8h-.8zM241.0 550.2h.8v.8h-.8zM247.1 565.3h.8v.8h-.8zM242.2 558.2h.8v.8h-.8zM215.9 560.8h.8v.8h-.8zM232.1 567.7h.8v.8h-.8zM227.3 567.7h.8v.8h-.8zM243.2 557.3h.8v.8h-.8zM231.2 554.5h.8v.8h-.8zM224.3 571.5h.8v.8h-.8zM221.8 578.2h.8v.8h-.8zM240.5 571.4h.8v.8h-.8zM234.4 571.3h.8v.8h-.8zM249.6 566.0h.8v.8h-.8zM224.6 561.5h.8v.8h-.8zM262.4 564.0h.8v.8h-.8zM225.7 560.4h.8v.8h-.8zM206.8 561.8h.8v.8h-.8zM237.7 561.9h.8v.8h-.8zM221.1 568.1h.8v.8h-.8zM239.8 562.3h.8v.8h-.8zM237.5 558.6h.8v.8h-.8zM246.0 558.5h.8v.8h-.8zM227.6 566.2h.8v.8h-.8zM226.3 557.4h.8v.8h-.8zM265.0 575.8h.8v.8h-.8zM205.9 566.1h.8v.8h-.8zM213.2 567.4h.8v.8h-.8zM212.7 569.3h.8v.8h-.8zM240.9 577.1h.8v.8h-.8zM251.3 562.1h.8v.8h-.8zM247.3 562.1h.8v.8h-.8zM231.0 561.8h.8v.8h-.8zM205.6 569.5h.8v.8h-.8zM201.5 563.7h.8v.8h-.8zM240.8 566.1h.8v.8h-.8zM208.5 560.8h.8v.8h-.8zM243.2 572.9h.8v.8h-.8zM257.3 552.7h.8v.8h-.8zM239.8 562.0h.8v.8h-.8zM244.5 553.6h.8v.8h-.8zM230.6 570.2h.8v.8h-.8zM222.8 562.8h.8v.8h-.8zM217.7 573.0h.8v.8h-.8zM212.3 559.0h.8v.8h-.8zM227.6 563.1h.8v.8h-.8zM265.3 567.2h.8v.8h-.8zM219.9 569.3h.8v.8h-.8zM238.0 567.2h.8v.8h-.8zM231.8 568.5h.8v.8h-.8zM214.7 557.0h.8v.8h-.8zM226.2 557.6h.8v.8h-.8zM243.5 578.7h.8v.8h-.8zM251.8 568.4h.8v.8h-.8zM238.0 560.5h.8v.8h-.8zM212.7 569.1h.8v.8h-.8zM210.0 567.4h.8v.8h-.8zM230.6 570.5h.8v.8h-.8zM233.5 566.0h.8v.8h-.8zM223.8 553.4h.8v.8h-.8zM227.5 570.1h.8v.8h-.8zM248.9 574.8h.8v.8h-.8zM217.4 558.8h.8v.8h-.8zM243.6 562.1h.8v.8h-.8zM272.4 567.5h.8v.8h-.8zM209.3 561.4h.8v.8h-.8zM256.9 552.7h.8v.8h-.8zM235.1 555.7h.8v.8h-.8zM257.4 562.2h.8v.8h-.8zM216.9 553.5h.8v.8h-.8zM221.8 547.6h.8v.8h-.8zM225.4 580.4h.8v.8h-.8zM234.3 563.4h.8v.8h-.8zM214.9 567.6h.8v.8h-.8zM225.5 559.4h.8v.8h-.8zM254.1 568.3h.8v.8h-.8zM219.1 575.5h.8v.8h-.8zM231.9 568.8h.8v.8h-.8zM235.0 573.4h.8v.8h-.8zM242.2 562.9h.8v.8h-.8zM243.8 562.6h.8v.8h-.8zM234.8 576.6h.8v.8h-.8zM216.4 558.1h.8v.8h-.8zM226.6 561.8h.8v.8h-.8zM252.8 554.3h.8v.8h-.8zM268.1 576.2h.8v.8h-.8zM225.8 566.6h.8v.8h-.8zM227.2 569.9h.8v.8h-.8zM243.0 570.5h.8v.8h-.8zM244.6 578.6h.8v.8h-.8zM230.1 570.1h.8v.8h-.8zM229.9 565.6h.8v.8h-.8zM236.1 564.9h.8v.8h-.8zM238.1 559.4h.8v.8h-.8zM230.4 561.1h.8v.8h-.8zM214.7 560.4h.8v.8h-.8zM225.1 564.2h.8v.8h-.8zM208.7 563.5h.8v.8h-.8zM215.3 559.6h.8v.8h-.8zM235.7 573.0h.8v.8h-.8zM237.2 561.9h.8v.8h-.8zM226.0 574.6h.8v.8h-.8zM207.7 573.2h.8v.8h-.8zM209.6 560.9h.8v.8h-.8zM233.5 563.7h.8v.8h-.8zM258.4 568.7h.8v.8h-.8zM232.0 571.9h.8v.8h-.8zM233.3 559.7h.8v.8h-.8zM250.1 575.7h.8v.8h-.8zM252.5 557.1h.8v.8h-.8zM262.2 562.4h.8v.8h-.8zM244.6 573.5h.8v.8h-.8zM269.5 554.1h.8v.8h-.8zM217.0 573.4h.8v.8h-.8zM240.4 563.1h.8v.8h-.8zM187.6 568.3h.8v.8h-.8zM229.9 547.2h.8v.8h-.8zM274.1 548.0h.8v.8h-.8zM224.1 565.2h.8v.8h-.8zM236.3 570.5h.8v.8h-.8zM228.6 559.1h.8v.8h-.8zM227.2 550.7h.8v.8h-.8zM215.5 579.0h.8v.8h-.8zM222.1 564.7h.8v.8h-.8zM262.1 572.6h.8v.8h-.8zM234.6 570.4h.8v.8h-.8zM228.6 559.0h.8v.8h-.8zM248.2 566.2h.8v.8h-.8zM257.5 563.5h.8v.8h-.8zM227.0 567.7h.8v.8h-.8zM229.8 563.1h.8v.8h-.8zM218.9 567.0h.8v.8h-.8zM237.8 578.0h.8v.8h-.8zM232.3 553.1h.8v.8h-.8zM240.0 581.2h.8v.8h-.8zM225.9 559.7h.8v.8h-.8zM230.2 545.4h.8v.8h-.8zM227.6 564.0h.8v.8h-.8zM209.4 569.3h.8v.8h-.8zM219.2 552.5h.8v.8h-.8zM221.6 569.7h.8v.8h-.8zM262.5 574.0h.8v.8h-.8zM235.8 561.7h.8v.8h-.8zM228.7 572.0h.8v.8h-.8zM224.7 568.2h.8v.8h-.8zM247.7 559.0h.8v.8h-.8zM223.6 568.4h.8v.8h-.8zM232.9 564.4h.8v.8h-.8zM224.6 564.8h.8v.8h-.8zM261.5 574.7h.8v.8h-.8zM207.8 565.6h.8v.8h-.8zM234.2 565.5h.8v.8h-.8zM211.4 564.4h.8v.8h-.8zM235.0 560.5h.8v.8h-.8zM237.6 548.4h.8v.8h-.8zM209.4 566.0h.8v.8h-.8zM238.8 564.1h.8v.8h-.8zM225.6 566.6h.8v.8h-.8zM249.5 571.5h.8v.8h-.8zM231.5 562.0h.8v.8h-.8zM249.2 569.0h.8v.8h-.8zM246.4 563.4h.8v.8h-.8zM219.4 566.6h.8v.8h-.8zM223.1 573.3h.8v.8h-.8zM246.0 550.1h.8v.8h-.8zM243.1 574.5h.8v.8h-.8zM248.8 562.0h.8v.8h-.8zM219.4 572.0h.8v.8h-.8zM248.5 565.7h.8v.8h-.8zM214.9 554.7h.8v.8h-.8zM236.9 559.5h.8v.8h-.8zM222.2 568.4h.8v.8h-.8zM249.0 550.9h.8v.8h-.8zM222.4 574.3h.8v.8h-.8zM232.1 562.9h.8v.8h-.8zM242.6 557.4h.8v.8h-.8zM213.8 565.4h.8v.8h-.8zM257.0 572.3h.8v.8h-.8zM232.7 572.3h.8v.8h-.8zM226.4 557.1h.8v.8h-.8zM206.8 567.2h.8v.8h-.8zM246.7 567.9h.8v.8h-.8zM232.2 562.5h.8v.8h-.8zM249.6 565.0h.8v.8h-.8zM210.4 574.8h.8v.8h-.8zM222.7 568.0h.8v.8h-.8zM232.8 572.6h.8v.8h-.8zM236.6 573.8h.8v.8h-.8zM236.0 562.1h.8v.8h-.8zM224.9 569.8h.8v.8h-.8zM219.9 571.7h.8v.8h-.8zM229.0 558.8h.8v.8h-.8zM219.2 564.3h.8v.8h-.8zM260.2 570.6h.8v.8h-.8zM233.1 559.0h.8v.8h-.8zM262.3 563.3h.8v.8h-.8zM232.7 562.3h.8v.8h-.8zM253.4 566.5h.8v.8h-.8zM225.7 566.6h.8v.8h-.8zM217.3 558.0h.8v.8h-.8zM230.2 545.3h.8v.8h-.8zM251.0 579.1h.8v.8h-.8zM215.5 564.3h.8v.8h-.8zM208.3 566.5h.8v.8h-.8zM236.0 570.4h.8v.8h-.8zM212.1 561.1h.8v.8h-.8zM222.7 563.6h.8v.8h-.8zM268.2 563.9h.8v.8h-.8zM232.1 561.8h.8v.8h-.8zM245.1 583.1h.8v.8h-.8zM250.8 575.9h.8v.8h-.8zM216.1 572.6h.8v.8h-.8zM233.2 574.0h.8v.8h-.8zM249.2 569.8h.8v.8h-.8zM206.7 566.2h.8v.8h-.8zM225.0 568.4h.8v.8h-.8zM233.3 572.6h.8v.8h-.8zM207.9 560.1h.8v.8h-.8zM231.6 567.5h.8v.8h-.8zM226.5 565.1h.8v.8h-.8zM233.6 572.6h.8v.8h-.8zM231.0 567.0h.8v.8h-.8zM204.5 547.1h.8v.8h-.8zM210.0 567.8h.8v.8h-.8zM197.0 568.1h.8v.8h-.8zM231.3 565.3h.8v.8h-.8zM221.4 562.4h.8v.8h-.8zM245.7 567.8h.8v.8h-.8zM232.3 561.9h.8v.8h-.8zM236.0 573.6h.8v.8h-.8zM232.5 562.7h.8v.8h-.8zM214.4 566.0h.8v.8h-.8zM218.5 555.3h.8v.8h-.8zM246.3 560.9h.8v.8h-.8zM201.1 560.3h.8v.8h-.8zM261.4 564.5h.8v.8h-.8zM212.2 557.6h.8v.8h-.8zM243.9 568.1h.8v.8h-.8zM236.1 563.9h.8v.8h-.8zM240.3 576.0h.8v.8h-.8zM240.3 564.1h.8v.8h-.8zM211.0 568.4h.8v.8h-.8zM257.1 569.8h.8v.8h-.8zM213.2 566.6h.8v.8h-.8zM252.9 560.9h.8v.8h-.8zM240.4 573.7h.8v.8h-.8zM258.2 554.2h.8v.8h-.8zM205.6 567.9h.8v.8h-.8zM243.7 562.8h.8v.8h-.8zM232.4 562.4h.8v.8h-.8zM251.4 549.9h.8v.8h-.8zM236.7 556.4h.8v.8h-.8zM222.2 554.6h.8v.8h-.8zM218.6 565.1h.8v.8h-.8zM233.2 577.7h.8v.8h-.8zM229.3 567.7h.8v.8h-.8zM238.3 567.1h.8v.8h-.8zM255.6 566.2h.8v.8h-.8zM235.1 564.5h.8v.8h-.8zM232.8 564.9h.8v.8h-.8zM248.3 565.4h.8v.8h-.8zM233.8 564.9h.8v.8h-.8zM244.6 562.0h.8v.8h-.8zM247.4 561.3h.8v.8h-.8zM243.5 578.7h.8v.8h-.8zM236.4 564.7h.8v.8h-.8zM214.4 570.4h.8v.8h-.8zM233.0 571.6h.8v.8h-.8zM222.5 568.9h.8v.8h-.8zM260.9 568.1h.8v.8h-.8zM227.7 556.2h.8v.8h-.8zM220.8 595.8h.8v.8h-.8zM228.3 585.7h.8v.8h-.8zM208.3 586.5h.8v.8h-.8zM208.4 590.5h.8v.8h-.8zM224.2 603.1h.8v.8h-.8zM223.4 600.4h.8v.8h-.8zM200.6 600.9h.8v.8h-.8zM230.8 594.6h.8v.8h-.8zM231.1 595.6h.8v.8h-.8zM244.5 596.7h.8v.8h-.8zM199.5 582.1h.8v.8h-.8zM240.8 591.6h.8v.8h-.8zM237.2 590.1h.8v.8h-.8zM212.9 590.1h.8v.8h-.8zM224.8 593.1h.8v.8h-.8zM213.3 595.1h.8v.8h-.8zM228.6 586.8h.8v.8h-.8zM207.2 580.9h.8v.8h-.8zM217.2 592.1h.8v.8h-.8zM212.4 588.6h.8v.8h-.8zM219.3 592.2h.8v.8h-.8zM228.0 596.8h.8v.8h-.8zM226.3 598.5h.8v.8h-.8zM209.0 595.5h.8v.8h-.8zM225.5 586.1h.8v.8h-.8zM212.6 594.6h.8v.8h-.8zM221.9 584.9h.8v.8h-.8zM214.1 600.8h.8v.8h-.8zM231.4 592.5h.8v.8h-.8zM237.6 586.9h.8v.8h-.8zM218.8 597.6h.8v.8h-.8zM216.8 585.7h.8v.8h-.8zM228.2 601.2h.8v.8h-.8zM189.6 593.0h.8v.8h-.8zM205.5 590.4h.8v.8h-.8zM203.5 607.0h.8v.8h-.8zM212.6 592.3h.8v.8h-.8zM212.2 586.4h.8v.8h-.8zM215.3 593.3h.8v.8h-.8zM242.6 593.7h.8v.8h-.8zM240.3 586.0h.8v.8h-.8zM221.8 589.6h.8v.8h-.8zM201.6 613.4h.8v.8h-.8zM218.0 593.5h.8v.8h-.8zM211.6 588.8h.8v.8h-.8zM208.2 597.9h.8v.8h-.8zM216.0 591.3h.8v.8h-.8zM223.2 585.1h.8v.8h-.8zM223.8 591.1h.8v.8h-.8zM226.5 589.9h.8v.8h-.8zM221.4 595.0h.8v.8h-.8zM232.9 588.1h.8v.8h-.8zM233.0 586.4h.8v.8h-.8zM218.6 592.8h.8v.8h-.8zM222.7 577.8h.8v.8h-.8zM208.9 591.0h.8v.8h-.8zM232.4 588.1h.8v.8h-.8zM239.6 581.8h.8v.8h-.8zM221.9 595.2h.8v.8h-.8zM221.2 593.6h.8v.8h-.8zM232.5 587.5h.8v.8h-.8zM228.2 598.2h.8v.8h-.8zM218.1 578.8h.8v.8h-.8zM206.3 587.2h.8v.8h-.8zM207.9 594.5h.8v.8h-.8zM211.0 606.3h.8v.8h-.8zM228.0 584.6h.8v.8h-.8zM217.4 600.8h.8v.8h-.8zM229.3 586.3h.8v.8h-.8zM233.7 589.4h.8v.8h-.8zM248.3 588.9h.8v.8h-.8zM228.3 595.3h.8v.8h-.8zM215.5 591.2h.8v.8h-.8zM235.3 594.9h.8v.8h-.8zM220.2 594.6h.8v.8h-.8zM242.5 597.4h.8v.8h-.8zM226.8 594.0h.8v.8h-.8zM201.6 592.9h.8v.8h-.8zM214.9 596.3h.8v.8h-.8zM213.5 594.6h.8v.8h-.8zM208.0 597.2h.8v.8h-.8zM212.0 591.9h.8v.8h-.8zM228.1 590.2h.8v.8h-.8zM221.0 598.1h.8v.8h-.8zM242.8 581.8h.8v.8h-.8zM209.8 595.9h.8v.8h-.8zM232.6 589.4h.8v.8h-.8zM222.1 591.0h.8v.8h-.8zM249.1 590.9h.8v.8h-.8zM206.3 583.2h.8v.8h-.8zM205.2 599.5h.8v.8h-.8zM216.1 603.2h.8v.8h-.8zM228.8 594.3h.8v.8h-.8zM228.9 596.6h.8v.8h-.8zM232.3 586.5h.8v.8h-.8zM214.1 588.9h.8v.8h-.8zM222.2 590.6h.8v.8h-.8zM205.7 588.1h.8v.8h-.8zM243.0 604.2h.8v.8h-.8zM210.4 594.3h.8v.8h-.8zM220.5 587.2h.8v.8h-.8zM229.7 591.7h.8v.8h-.8zM241.5 594.7h.8v.8h-.8zM217.1 576.9h.8v.8h-.8zM219.7 596.9h.8v.8h-.8zM212.1 597.1h.8v.8h-.8zM229.4 582.0h.8v.8h-.8zM218.5 593.9h.8v.8h-.8zM230.3 593.0h.8v.8h-.8zM220.8 590.1h.8v.8h-.8zM217.4 592.1h.8v.8h-.8zM207.8 595.8h.8v.8h-.8zM216.9 595.1h.8v.8h-.8zM214.7 594.4h.8v.8h-.8zM222.5 597.2h.8v.8h-.8zM226.7 597.4h.8v.8h-.8zM218.9 591.8h.8v.8h-.8zM217.7 584.9h.8v.8h-.8zM219.4 598.3h.8v.8h-.8zM230.5 587.2h.8v.8h-.8zM224.6 596.4h.8v.8h-.8zM204.2 594.1h.8v.8h-.8zM225.0 596.4h.8v.8h-.8zM224.1 582.1h.8v.8h-.8zM196.1 603.4h.8v.8h-.8zM216.1 599.4h.8v.8h-.8zM236.5 592.6h.8v.8h-.8zM206.9 599.9h.8v.8h-.8zM220.5 595.1h.8v.8h-.8zM226.8 597.5h.8v.8h-.8zM233.4 584.0h.8v.8h-.8zM203.6 592.9h.8v.8h-.8zM221.1 596.5h.8v.8h-.8zM219.3 591.0h.8v.8h-.8zM245.9 599.9h.8v.8h-.8zM235.2 598.0h.8v.8h-.8zM211.2 591.6h.8v.8h-.8zM220.1 585.8h.8v.8h-.8zM210.3 593.0h.8v.8h-.8zM206.0 595.2h.8v.8h-.8zM226.8 590.7h.8v.8h-.8zM216.8 595.5h.8v.8h-.8zM226.9 594.2h.8v.8h-.8zM205.9 582.8h.8v.8h-.8zM246.1 588.3h.8v.8h-.8zM216.5 581.6h.8v.8h-.8zM211.1 587.9h.8v.8h-.8zM230.8 577.0h.8v.8h-.8zM203.7 589.7h.8v.8h-.8zM214.9 587.6h.8v.8h-.8zM215.5 583.1h.8v.8h-.8zM224.2 598.9h.8v.8h-.8zM222.8 589.0h.8v.8h-.8zM236.5 594.9h.8v.8h-.8zM208.3 588.8h.8v.8h-.8zM213.4 591.8h.8v.8h-.8zM235.9 588.0h.8v.8h-.8zM219.1 592.7h.8v.8h-.8zM206.3 589.4h.8v.8h-.8zM228.5 598.6h.8v.8h-.8zM197.9 596.1h.8v.8h-.8zM217.4 599.5h.8v.8h-.8zM228.6 603.3h.8v.8h-.8zM224.8 589.8h.8v.8h-.8zM210.7 583.9h.8v.8h-.8zM227.8 595.0h.8v.8h-.8zM231.0 594.1h.8v.8h-.8zM202.6 589.8h.8v.8h-.8zM218.0 593.0h.8v.8h-.8zM230.4 600.2h.8v.8h-.8zM244.7 539.9h.8v.8h-.8zM215.3 538.7h.8v.8h-.8zM221.1 555.1h.8v.8h-.8zM243.7 572.1h.8v.8h-.8zM263.4 594.9h.8v.8h-.8zM228.1 592.5h.8v.8h-.8zM238.6 584.0h.8v.8h-.8zM268.6 555.9h.8v.8h-.8zM236.8 602.9h.8v.8h-.8zM221.1 579.8h.8v.8h-.8zM241.3 568.7h.8v.8h-.8zM208.9 564.0h.8v.8h-.8zM216.2 594.9h.8v.8h-.8zM243.9 588.3h.8v.8h-.8zM211.6 584.8h.8v.8h-.8zM241.5 594.3h.8v.8h-.8zM222.1 590.2h.8v.8h-.8zM269.1 607.5h.8v.8h-.8zM217.4 556.4h.8v.8h-.8zM205.4 592.8h.8v.8h-.8zM251.7 582.0h.8v.8h-.8zM218.9 597.9h.8v.8h-.8zM274.4 575.4h.8v.8h-.8zM235.6 596.8h.8v.8h-.8zM249.7 599.5h.8v.8h-.8zM229.2 581.9h.8v.8h-.8zM230.7 566.1h.8v.8h-.8zM231.6 571.0h.8v.8h-.8zM249.6 570.7h.8v.8h-.8zM239.9 561.9h.8v.8h-.8zM210.8 601.0h.8v.8h-.8zM216.2 607.7h.8v.8h-.8zM259.4 536.0h.8v.8h-.8zM224.0 568.7h.8v.8h-.8zM238.8 572.9h.8v.8h-.8zM224.8 597.9h.8v.8h-.8zM235.4 592.8h.8v.8h-.8zM222.9 564.0h.8v.8h-.8zM268.2 571.1h.8v.8h-.8zM213.7 573.0h.8v.8h-.8zM261.9 573.2h.8v.8h-.8zM222.2 587.1h.8v.8h-.8zM260.4 572.4h.8v.8h-.8zM231.2 569.6h.8v.8h-.8zM298.9 572.7h.8v.8h-.8zM277.4 573.4h.8v.8h-.8zM247.4 540.4h.8v.8h-.8zM242.3 576.9h.8v.8h-.8zM231.2 568.9h.8v.8h-.8zM207.8 550.0h.8v.8h-.8zM242.1 564.9h.8v.8h-.8zM236.3 572.9h.8v.8h-.8zM227.0 563.3h.8v.8h-.8zM279.9 556.8h.8v.8h-.8zM226.9 570.9h.8v.8h-.8zM212.5 559.3h.8v.8h-.8zM257.6 592.3h.8v.8h-.8zM241.3 632.7h.8v.8h-.8zM256.9 597.6h.8v.8h-.8zM220.1 595.0h.8v.8h-.8zM276.0 569.4h.8v.8h-.8zM278.8 562.0h.8v.8h-.8zM212.9 575.2h.8v.8h-.8zM220.3 587.2h.8v.8h-.8zM213.6 577.5h.8v.8h-.8zM194.5 575.5h.8v.8h-.8zM261.8 571.4h.8v.8h-.8zM245.3 595.1h.8v.8h-.8zM213.8 553.8h.8v.8h-.8zM240.1 580.9h.8v.8h-.8zM232.3 559.1h.8v.8h-.8zM265.5 555.7h.8v.8h-.8zM232.5 575.3h.8v.8h-.8zM254.5 568.2h.8v.8h-.8zM220.0 611.2h.8v.8h-.8zM219.4 590.0h.8v.8h-.8zM234.9 567.7h.8v.8h-.8zM237.3 571.6h.8v.8h-.8zM245.3 531.6h.8v.8h-.8zM237.7 577.3h.8v.8h-.8zM216.6 569.3h.8v.8h-.8zM290.6 608.3h.8v.8h-.8zM252.7 580.1h.8v.8h-.8zM231.5 600.3h.8v.8h-.8zM228.3 561.7h.8v.8h-.8zM253.8 559.2h.8v.8h-.8zM220.6 601.3h.8v.8h-.8zM202.4 574.9h.8v.8h-.8zM241.0 580.6h.8v.8h-.8zM205.8 572.1h.8v.8h-.8zM230.9 609.6h.8v.8h-.8zM260.8 562.9h.8v.8h-.8zM257.9 587.5h.8v.8h-.8zM235.8 571.8h.8v.8h-.8zM232.2 549.1h.8v.8h-.8zM224.2 592.4h.8v.8h-.8zM270.6 608.4h.8v.8h-.8zM229.9 586.8h.8v.8h-.8zM184.5 571.4h.8v.8h-.8zM210.1 590.4h.8v.8h-.8zM201.3 557.9h.8v.8h-.8zM213.6 583.0h.8v.8h-.8zM257.0 560.0h.8v.8h-.8zM278.6 578.9h.8v.8h-.8zM219.7 582.2h.8v.8h-.8zM238.0 590.6h.8v.8h-.8zM246.0 614.3h.8v.8h-.8zM264.4 564.9h.8v.8h-.8zM255.9 589.4h.8v.8h-.8zM216.0 563.0h.8v.8h-.8zM220.3 533.0h.8v.8h-.8zM252.5 572.3h.8v.8h-.8zM265.9 566.3h.8v.8h-.8zM240.0 588.8h.8v.8h-.8zM259.9 581.7h.8v.8h-.8zM215.1 614.5h.8v.8h-.8zM257.7 599.9h.8v.8h-.8zM274.5 600.6h.8v.8h-.8zM247.6 584.3h.8v.8h-.8zM252.4 549.9h.8v.8h-.8zM256.5 559.1h.8v.8h-.8zM247.7 558.5h.8v.8h-.8zM254.3 567.6h.8v.8h-.8zM293.9 579.5h.8v.8h-.8zM249.7 560.3h.8v.8h-.8zM231.9 575.1h.8v.8h-.8zM231.9 568.5h.8v.8h-.8zM218.8 589.4h.8v.8h-.8zM229.8 561.9h.8v.8h-.8zM246.5 562.0h.8v.8h-.8zM234.4 567.2h.8v.8h-.8zM217.7 572.2h.8v.8h-.8zM219.9 554.3h.8v.8h-.8zM246.2 570.9h.8v.8h-.8zM205.7 569.2h.8v.8h-.8zM242.5 583.6h.8v.8h-.8zM246.7 580.5h.8v.8h-.8zM251.6 567.5h.8v.8h-.8zM220.5 586.8h.8v.8h-.8zM229.2 576.3h.8v.8h-.8zM252.9 592.5h.8v.8h-.8zM265.6 564.1h.8v.8h-.8zM230.1 585.8h.8v.8h-.8zM206.4 554.2h.8v.8h-.8zM251.9 565.4h.8v.8h-.8zM217.7 590.1h.8v.8h-.8zM250.2 592.1h.8v.8h-.8zM230.9 571.1h.8v.8h-.8zM230.8 581.3h.8v.8h-.8zM193.1 564.1h.8v.8h-.8zM254.1 562.6h.8v.8h-.8zM236.9 578.3h.8v.8h-.8zM249.9 567.9h.8v.8h-.8zM213.1 619.6h.8v.8h-.8zM222.4 605.9h.8v.8h-.8zM199.2 578.1h.8v.8h-.8zM234.0 609.1h.8v.8h-.8zM283.8 593.2h.8v.8h-.8zM215.7 562.2h.8v.8h-.8zM221.6 567.2h.8v.8h-.8zM244.1 562.5h.8v.8h-.8zM232.8 601.8h.8v.8h-.8zM270.4 543.8h.8v.8h-.8zM217.1 569.7h.8v.8h-.8zM267.2 570.4h.8v.8h-.8zM280.9 582.5h.8v.8h-.8zM270.3 561.2h.8v.8h-.8zM231.4 593.9h.8v.8h-.8zM251.0 543.7h.8v.8h-.8zM232.2 579.3h.8v.8h-.8zM252.3 565.1h.8v.8h-.8zM277.1 578.8h.8v.8h-.8zM270.6 583.2h.8v.8h-.8zM240.2 570.6h.8v.8h-.8zM212.4 591.2h.8v.8h-.8zM255.2 592.4h.8v.8h-.8zM230.0 558.7h.8v.8h-.8zM229.9 570.7h.8v.8h-.8zM238.1 593.3h.8v.8h-.8zM218.1 567.7h.8v.8h-.8zM253.7 591.9h.8v.8h-.8zM287.5 585.3h.8v.8h-.8zM219.5 558.1h.8v.8h-.8zM220.8 577.4h.8v.8h-.8zM244.0 575.0h.8v.8h-.8zM224.7 573.0h.8v.8h-.8zM236.6 586.5h.8v.8h-.8zM240.2 562.1h.8v.8h-.8zM212.4 601.9h.8v.8h-.8zM236.4 573.1h.8v.8h-.8zM237.8 595.8h.8v.8h-.8zM231.4 579.3h.8v.8h-.8zM233.1 586.2h.8v.8h-.8zM215.9 579.7h.8v.8h-.8zM261.2 596.8h.8v.8h-.8zM252.0 581.3h.8v.8h-.8zM273.2 588.5h.8v.8h-.8zM269.4 555.4h.8v.8h-.8zM214.0 590.1h.8v.8h-.8zM232.4 568.7h.8v.8h-.8zM217.3 602.0h.8v.8h-.8zM211.9 578.0h.8v.8h-.8zM207.4 573.2h.8v.8h-.8zM288.2 618.5h.8v.8h-.8zM227.4 558.7h.8v.8h-.8zM274.5 561.4h.8v.8h-.8zM198.8 582.3h.8v.8h-.8zM214.4 551.1h.8v.8h-.8zM263.3 563.6h.8v.8h-.8zM214.8 579.2h.8v.8h-.8zM234.1 595.7h.8v.8h-.8zM240.5 603.8h.8v.8h-.8zM263.6 607.1h.8v.8h-.8zM263.2 577.5h.8v.8h-.8zM250.4 576.6h.8v.8h-.8zM203.8 555.9h.8v.8h-.8zM254.8 535.3h.8v.8h-.8zM220.0 554.0h.8v.8h-.8zM236.9 558.3h.8v.8h-.8zM243.9 572.8h.8v.8h-.8zM227.9 561.6h.8v.8h-.8zM189.1 577.5h.8v.8h-.8zM209.7 571.1h.8v.8h-.8zM246.6 594.4h.8v.8h-.8zM253.9 601.9h.8v.8h-.8zM206.9 588.0h.8v.8h-.8zM273.1 583.1h.8v.8h-.8zM213.8 583.2h.8v.8h-.8zM226.9 565.1h.8v.8h-.8zM261.9 573.2h.8v.8h-.8zM213.6 564.6h.8v.8h-.8zM281.9 561.6h.8v.8h-.8zM253.3 579.4h.8v.8h-.8zM264.2 571.4h.8v.8h-.8zM217.4 565.2h.8v.8h-.8zM215.6 621.2h.8v.8h-.8zM242.7 570.7h.8v.8h-.8zM266.3 587.6h.8v.8h-.8zM234.3 587.0h.8v.8h-.8zM244.4 595.8h.8v.8h-.8zM275.0 570.8h.8v.8h-.8zM237.6 573.1h.8v.8h-.8zM265.4 582.9h.8v.8h-.8zM255.7 591.8h.8v.8h-.8zM224.3 578.5h.8v.8h-.8zM269.0 592.3h.8v.8h-.8zM256.4 571.4h.8v.8h-.8zM230.4 561.5h.8v.8h-.8zM232.4 575.2h.8v.8h-.8zM206.6 596.4h.8v.8h-.8zM221.4 580.6h.8v.8h-.8zM251.7 566.8h.8v.8h-.8zM198.3 593.0h.8v.8h-.8zM247.4 571.9h.8v.8h-.8zM263.5 591.8h.8v.8h-.8zM217.2 574.9h.8v.8h-.8zM199.4 571.8h.8v.8h-.8zM269.6 561.8h.8v.8h-.8zM256.6 550.2h.8v.8h-.8zM231.8 592.6h.8v.8h-.8zM276.4 584.1h.8v.8h-.8zM255.1 606.0h.8v.8h-.8zM184.3 546.8h.8v.8h-.8zM280.2 618.9h.8v.8h-.8zM251.6 577.4h.8v.8h-.8zM244.1 576.8h.8v.8h-.8zM224.7 576.0h.8v.8h-.8zM235.6 587.8h.8v.8h-.8zM253.4 593.2h.8v.8h-.8zM251.4 559.6h.8v.8h-.8zM269.2 530.2h.8v.8h-.8zM240.9 582.0h.8v.8h-.8zM226.6 608.6h.8v.8h-.8zM214.2 556.1h.8v.8h-.8zM227.2 583.5h.8v.8h-.8zM256.0 578.2h.8v.8h-.8zM253.2 564.2h.8v.8h-.8zM225.0 578.6h.8v.8h-.8zM208.6 579.5h.8v.8h-.8zM229.6 588.1h.8v.8h-.8zM216.0 567.2h.8v.8h-.8zM225.8 570.0h.8v.8h-.8zM216.3 571.8h.8v.8h-.8zM208.4 585.5h.8v.8h-.8zM253.2 576.0h.8v.8h-.8zM234.2 561.0h.8v.8h-.8zM217.1 572.5h.8v.8h-.8zM218.3 556.1h.8v.8h-.8zM242.1 576.0h.8v.8h-.8zM229.4 562.3h.8v.8h-.8zM237.2 564.4h.8v.8h-.8zM228.9 579.5h.8v.8h-.8zM254.3 589.3h.8v.8h-.8zM224.9 597.0h.8v.8h-.8zM212.8 573.3h.8v.8h-.8zM267.2 617.0h.8v.8h-.8zM241.2 570.1h.8v.8h-.8zM230.1 555.5h.8v.8h-.8zM235.1 569.0h.8v.8h-.8zM221.7 596.8h.8v.8h-.8zM249.4 601.2h.8v.8h-.8zM262.4 597.2h.8v.8h-.8zM250.9 592.9h.8v.8h-.8zM239.6 595.8h.8v.8h-.8zM253.5 596.3h.8v.8h-.8zM250.3 596.6h.8v.8h-.8zM243.6 586.6h.8v.8h-.8zM259.5 598.8h.8v.8h-.8zM230.3 599.6h.8v.8h-.8zM252.9 594.2h.8v.8h-.8zM243.3 591.1h.8v.8h-.8zM261.4 592.1h.8v.8h-.8zM255.4 594.2h.8v.8h-.8zM271.7 598.1h.8v.8h-.8zM245.1 593.0h.8v.8h-.8zM246.4 589.6h.8v.8h-.8zM250.2 598.9h.8v.8h-.8zM256.1 597.3h.8v.8h-.8zM254.6 593.2h.8v.8h-.8zM256.3 594.5h.8v.8h-.8zM271.2 601.5h.8v.8h-.8zM258.7 597.1h.8v.8h-.8zM239.6 594.4h.8v.8h-.8zM274.9 591.8h.8v.8h-.8zM262.2 599.4h.8v.8h-.8zM252.5 594.0h.8v.8h-.8zM252.0 597.8h.8v.8h-.8zM255.8 600.4h.8v.8h-.8zM265.2 594.8h.8v.8h-.8zM276.6 593.7h.8v.8h-.8zM250.8 593.9h.8v.8h-.8zM248.6 593.2h.8v.8h-.8zM255.1 598.1h.8v.8h-.8zM242.9 589.6h.8v.8h-.8zM249.4 593.7h.8v.8h-.8zM259.3 591.9h.8v.8h-.8zM267.8 592.8h.8v.8h-.8zM253.9 595.0h.8v.8h-.8zM265.1 595.9h.8v.8h-.8zM255.9 592.8h.8v.8h-.8zM257.0 596.3h.8v.8h-.8zM252.8 594.7h.8v.8h-.8zM240.8 592.8h.8v.8h-.8zM265.2 600.1h.8v.8h-.8zM255.1 586.8h.8v.8h-.8zM270.5 594.2h.8v.8h-.8zM276.4 593.3h.8v.8h-.8zM263.8 592.5h.8v.8h-.8zM266.7 599.1h.8v.8h-.8zM247.1 599.6h.8v.8h-.8zM278.7 594.0h.8v.8h-.8zM245.9 595.8h.8v.8h-.8zM252.4 589.2h.8v.8h-.8zM247.2 595.7h.8v.8h-.8zM243.4 598.8h.8v.8h-.8zM259.3 594.1h.8v.8h-.8zM267.0 591.4h.8v.8h-.8zM261.2 589.8h.8v.8h-.8zM253.0 597.2h.8v.8h-.8zM251.3 594.4h.8v.8h-.8z" fill="#a0502a" opacity="0.78"/>
<rect x="257.8" y="550.1" width="14.2" height="33" fill="#f5f5f7" stroke="#b4b4ba" stroke-width="0.45"/>
<path d="M262.3 551.6 C270.3 551.1 271.0 560.0 270.2 566.6 C269.6 574.9 270.8 581.6 265.8 582.1 C260.3 582.1 259.3 569.9 260.0 561.6 C260.3 555.1 260.8 551.7 262.3 551.6 Z" fill="#e6dcda"/>
<path d="M263.3 567.3 h3 v-2.5" fill="none" stroke="#c05060" stroke-width="0.45"/>
</g>
<clipPath id="ct03"><rect x="275.2" y="549.2" width="69.8" height="53.6"/></clipPath>
<g clip-path="url(#ct03)">
<rect x="275.2" y="549.2" width="69.8" height="53.6" fill="#e8eaf1"/>
<rect x="275.2" y="549.2" width="69.8" height="53.6" fill="#fff" filter="url(#fN)"/>
<path d="M324.6 602.2h.8v.8h-.8zM339.2 584.0h.8v.8h-.8zM304.3 551.5h.8v.8h-.8zM348.5 608.2h.8v.8h-.8zM262.0 591.0h.8v.8h-.8zM309.2 588.3h.8v.8h-.8zM317.2 572.9h.8v.8h-.8zM310.0 575.5h.8v.8h-.8zM336.2 571.7h.8v.8h-.8zM298.0 587.3h.8v.8h-.8zM324.5 583.6h.8v.8h-.8zM316.5 601.3h.8v.8h-.8zM335.0 579.8h.8v.8h-.8zM305.4 587.4h.8v.8h-.8zM268.3 567.3h.8v.8h-.8zM294.3 579.1h.8v.8h-.8zM301.5 618.1h.8v.8h-.8zM326.6 583.0h.8v.8h-.8zM360.4 576.1h.8v.8h-.8zM303.0 597.1h.8v.8h-.8zM328.7 591.9h.8v.8h-.8zM337.2 570.0h.8v.8h-.8zM295.3 563.9h.8v.8h-.8zM312.4 593.2h.8v.8h-.8zM286.6 567.1h.8v.8h-.8zM280.2 610.2h.8v.8h-.8zM328.0 579.9h.8v.8h-.8zM282.9 558.6h.8v.8h-.8zM295.7 576.7h.8v.8h-.8zM281.7 572.3h.8v.8h-.8zM337.4 576.4h.8v.8h-.8zM312.3 540.5h.8v.8h-.8zM304.0 573.7h.8v.8h-.8zM294.6 552.6h.8v.8h-.8zM308.5 558.8h.8v.8h-.8zM297.9 549.0h.8v.8h-.8zM308.0 591.6h.8v.8h-.8zM291.3 581.7h.8v.8h-.8zM276.1 586.0h.8v.8h-.8zM322.3 569.6h.8v.8h-.8zM329.9 561.2h.8v.8h-.8zM311.2 604.8h.8v.8h-.8zM309.6 557.1h.8v.8h-.8zM336.0 585.3h.8v.8h-.8zM303.9 545.3h.8v.8h-.8zM267.9 550.3h.8v.8h-.8zM343.4 581.1h.8v.8h-.8zM291.0 595.7h.8v.8h-.8zM343.0 561.8h.8v.8h-.8zM320.9 548.2h.8v.8h-.8zM318.5 607.0h.8v.8h-.8zM278.4 577.1h.8v.8h-.8zM295.9 574.6h.8v.8h-.8zM312.1 580.9h.8v.8h-.8zM330.1 584.9h.8v.8h-.8zM333.6 593.4h.8v.8h-.8zM334.8 564.7h.8v.8h-.8zM319.3 569.8h.8v.8h-.8zM291.2 609.4h.8v.8h-.8zM316.7 576.9h.8v.8h-.8zM262.8 572.2h.8v.8h-.8zM327.5 572.7h.8v.8h-.8zM297.9 601.2h.8v.8h-.8zM303.1 570.5h.8v.8h-.8zM307.9 572.1h.8v.8h-.8zM333.7 585.8h.8v.8h-.8zM308.5 570.0h.8v.8h-.8zM305.0 604.9h.8v.8h-.8zM303.2 587.2h.8v.8h-.8zM274.7 581.6h.8v.8h-.8zM325.6 597.7h.8v.8h-.8zM317.2 586.0h.8v.8h-.8zM317.4 594.3h.8v.8h-.8zM356.1 579.6h.8v.8h-.8zM291.8 586.3h.8v.8h-.8zM307.6 587.0h.8v.8h-.8zM327.5 578.8h.8v.8h-.8zM300.2 581.4h.8v.8h-.8zM282.1 580.8h.8v.8h-.8zM290.2 583.8h.8v.8h-.8zM312.9 572.5h.8v.8h-.8zM283.1 577.0h.8v.8h-.8zM294.8 573.8h.8v.8h-.8zM325.7 592.3h.8v.8h-.8zM281.2 592.0h.8v.8h-.8zM340.7 595.2h.8v.8h-.8zM316.3 574.6h.8v.8h-.8zM349.2 570.8h.8v.8h-.8zM275.8 577.7h.8v.8h-.8zM316.5 558.6h.8v.8h-.8zM282.8 609.7h.8v.8h-.8zM312.7 589.4h.8v.8h-.8zM297.0 550.5h.8v.8h-.8zM306.1 598.9h.8v.8h-.8zM295.1 545.9h.8v.8h-.8zM306.2 571.4h.8v.8h-.8zM310.5 558.5h.8v.8h-.8zM303.1 567.0h.8v.8h-.8zM329.9 578.8h.8v.8h-.8zM329.7 575.3h.8v.8h-.8zM262.2 543.1h.8v.8h-.8zM322.1 591.0h.8v.8h-.8zM329.8 574.9h.8v.8h-.8zM270.0 567.9h.8v.8h-.8zM319.2 599.5h.8v.8h-.8zM302.4 566.7h.8v.8h-.8zM292.7 593.4h.8v.8h-.8zM329.6 545.3h.8v.8h-.8zM337.4 560.6h.8v.8h-.8zM277.0 549.2h.8v.8h-.8zM293.8 615.4h.8v.8h-.8zM367.5 555.1h.8v.8h-.8zM295.0 578.9h.8v.8h-.8zM319.5 568.1h.8v.8h-.8zM274.5 569.2h.8v.8h-.8zM294.8 545.9h.8v.8h-.8zM313.4 551.4h.8v.8h-.8zM271.1 601.9h.8v.8h-.8zM331.3 600.7h.8v.8h-.8zM312.8 569.2h.8v.8h-.8zM308.2 553.1h.8v.8h-.8zM326.8 580.8h.8v.8h-.8zM303.3 544.6h.8v.8h-.8zM307.6 603.7h.8v.8h-.8zM342.7 591.0h.8v.8h-.8zM302.2 578.5h.8v.8h-.8zM322.6 579.5h.8v.8h-.8zM333.7 564.9h.8v.8h-.8zM257.9 535.2h.8v.8h-.8zM289.6 552.8h.8v.8h-.8zM325.1 594.4h.8v.8h-.8zM310.1 585.3h.8v.8h-.8zM311.9 579.1h.8v.8h-.8zM299.5 569.4h.8v.8h-.8zM336.9 571.7h.8v.8h-.8zM309.2 596.4h.8v.8h-.8zM332.2 569.6h.8v.8h-.8zM315.8 559.1h.8v.8h-.8zM313.1 581.5h.8v.8h-.8zM310.1 579.0h.8v.8h-.8zM330.8 573.9h.8v.8h-.8zM320.1 589.9h.8v.8h-.8zM323.1 583.5h.8v.8h-.8zM325.4 599.4h.8v.8h-.8zM325.5 585.5h.8v.8h-.8zM323.2 582.1h.8v.8h-.8zM331.9 583.4h.8v.8h-.8zM335.8 595.1h.8v.8h-.8zM332.7 595.9h.8v.8h-.8zM326.8 578.6h.8v.8h-.8zM327.0 593.4h.8v.8h-.8zM313.6 582.0h.8v.8h-.8zM337.4 592.2h.8v.8h-.8zM339.7 593.6h.8v.8h-.8zM328.2 592.1h.8v.8h-.8zM335.2 589.3h.8v.8h-.8zM325.7 591.4h.8v.8h-.8zM324.7 604.3h.8v.8h-.8zM320.7 580.1h.8v.8h-.8zM315.9 595.9h.8v.8h-.8zM323.9 590.5h.8v.8h-.8zM325.6 591.2h.8v.8h-.8zM314.5 590.0h.8v.8h-.8zM322.4 596.2h.8v.8h-.8zM333.2 581.7h.8v.8h-.8zM318.8 593.0h.8v.8h-.8zM338.3 594.2h.8v.8h-.8zM326.2 596.3h.8v.8h-.8zM306.3 586.2h.8v.8h-.8zM318.8 583.1h.8v.8h-.8zM332.6 591.2h.8v.8h-.8zM330.1 588.7h.8v.8h-.8zM333.1 594.3h.8v.8h-.8zM322.4 595.3h.8v.8h-.8zM319.2 600.4h.8v.8h-.8zM315.8 587.7h.8v.8h-.8zM317.8 589.7h.8v.8h-.8zM339.4 584.8h.8v.8h-.8zM343.6 598.2h.8v.8h-.8zM331.0 585.8h.8v.8h-.8zM335.7 571.8h.8v.8h-.8zM320.7 595.4h.8v.8h-.8zM327.2 604.9h.8v.8h-.8zM321.5 581.2h.8v.8h-.8zM325.6 593.1h.8v.8h-.8zM342.9 578.5h.8v.8h-.8zM329.0 597.3h.8v.8h-.8zM321.5 586.7h.8v.8h-.8zM316.6 594.2h.8v.8h-.8zM335.0 593.2h.8v.8h-.8zM329.8 595.6h.8v.8h-.8zM326.5 593.9h.8v.8h-.8zM334.9 597.6h.8v.8h-.8zM332.2 590.0h.8v.8h-.8zM333.9 579.8h.8v.8h-.8zM311.6 599.6h.8v.8h-.8zM328.8 582.9h.8v.8h-.8zM322.3 588.6h.8v.8h-.8zM328.2 584.7h.8v.8h-.8zM336.6 578.9h.8v.8h-.8zM352.9 582.7h.8v.8h-.8zM342.6 593.7h.8v.8h-.8zM312.3 581.8h.8v.8h-.8zM328.1 591.2h.8v.8h-.8zM323.7 589.6h.8v.8h-.8zM329.0 582.3h.8v.8h-.8zM328.1 603.7h.8v.8h-.8zM321.7 583.1h.8v.8h-.8zM333.6 597.9h.8v.8h-.8zM337.0 585.5h.8v.8h-.8zM326.9 590.8h.8v.8h-.8zM325.7 592.0h.8v.8h-.8zM337.4 592.9h.8v.8h-.8zM327.5 588.2h.8v.8h-.8zM343.8 581.8h.8v.8h-.8zM345.7 594.1h.8v.8h-.8zM328.4 584.8h.8v.8h-.8zM344.2 597.1h.8v.8h-.8zM335.8 602.6h.8v.8h-.8zM311.3 590.1h.8v.8h-.8zM287.3 559.2h.8v.8h-.8zM289.6 565.2h.8v.8h-.8zM292.4 562.0h.8v.8h-.8zM281.0 565.3h.8v.8h-.8zM292.9 572.7h.8v.8h-.8zM294.9 562.7h.8v.8h-.8zM282.1 575.5h.8v.8h-.8zM285.0 563.6h.8v.8h-.8zM293.8 565.0h.8v.8h-.8zM297.4 557.8h.8v.8h-.8zM284.9 563.5h.8v.8h-.8zM281.5 559.8h.8v.8h-.8zM297.7 564.1h.8v.8h-.8zM288.5 560.0h.8v.8h-.8zM289.5 562.5h.8v.8h-.8zM282.5 566.4h.8v.8h-.8zM281.2 568.7h.8v.8h-.8zM287.1 551.8h.8v.8h-.8zM279.5 564.0h.8v.8h-.8zM283.8 571.3h.8v.8h-.8zM297.7 572.7h.8v.8h-.8zM294.7 569.1h.8v.8h-.8zM285.4 568.9h.8v.8h-.8zM286.4 562.4h.8v.8h-.8zM280.7 562.9h.8v.8h-.8zM291.7 562.4h.8v.8h-.8zM282.3 567.0h.8v.8h-.8zM294.8 562.2h.8v.8h-.8zM294.0 567.4h.8v.8h-.8zM283.0 562.5h.8v.8h-.8z" fill="#a0502a" opacity="0.78"/>
<rect x="329.8" y="550.1" width="14.2" height="32" fill="#f5f5f7" stroke="#b4b4ba" stroke-width="0.45"/>
<path d="M334.3 551.6 C342.3 551.1 343.0 559.7 342.2 566.1 C341.6 574.1 342.8 580.6 337.8 581.1 C332.3 581.1 331.3 569.3 332.0 561.3 C332.3 554.9 332.8 551.7 334.3 551.6 Z" fill="#e5e7f0"/>
<path d="M335.3 566.7 h3 v-2.5" fill="none" stroke="#c05060" stroke-width="0.45"/>
</g>
<clipPath id="ct10"><rect x="60" y="606.1" width="69.8" height="53.2"/></clipPath>
<g clip-path="url(#ct10)">
<rect x="60" y="606.1" width="69.8" height="53.2" fill="#e8eaf1"/>
<rect x="60" y="606.1" width="69.8" height="53.2" fill="#fff" filter="url(#fN)"/>
<rect x="114.6" y="607.0" width="14.2" height="20" fill="#f5f5f7" stroke="#b4b4ba" stroke-width="0.45"/>
<path d="M117.6 608.2 C124.6 608.5 128.4 613.0 128.4 617.0 C128.4 622.0 124.6 626.0 117.6 626.2 Z" fill="#e5e7f0"/>
<path d="M120.1 617.4 h3 v-2.5" fill="none" stroke="#c05060" stroke-width="0.45"/>
</g>
<clipPath id="ct11"><rect x="131.8" y="606.1" width="69.7" height="53.2"/></clipPath>
<g clip-path="url(#ct11)">
<rect x="131.8" y="606.1" width="69.7" height="53.2" fill="#e8eaf1"/>
<rect x="131.8" y="606.1" width="69.7" height="53.2" fill="#fff" filter="url(#fN)"/>
<rect x="186.3" y="607.0" width="14.2" height="22" fill="#f5f5f7" stroke="#b4b4ba" stroke-width="0.45"/>
<path d="M189.3 608.2 C196.3 608.5 200.1 613.6 200.1 618.0 C200.1 623.5 196.3 628.0 189.3 628.2 Z" fill="#e5e7f0"/>
<path d="M191.8 618.4 h3 v-2.5" fill="none" stroke="#c05060" stroke-width="0.45"/>
</g>
<clipPath id="ct12"><rect x="203.6" y="606.1" width="69.4" height="53.2"/></clipPath>
<g clip-path="url(#ct12)">
<rect x="203.6" y="606.1" width="69.4" height="53.2" fill="#e8eaf1"/>
<rect x="203.6" y="606.1" width="69.4" height="53.2" fill="#fff" filter="url(#fN)"/>
<path d="M199.9 616.6h.8v.8h-.8zM247.1 619.0h.8v.8h-.8zM246.4 638.6h.8v.8h-.8zM195.7 625.2h.8v.8h-.8zM269.6 633.1h.8v.8h-.8zM240.9 621.8h.8v.8h-.8zM205.2 607.7h.8v.8h-.8zM297.7 630.0h.8v.8h-.8zM220.3 634.7h.8v.8h-.8zM198.3 655.1h.8v.8h-.8zM273.7 621.0h.8v.8h-.8zM245.0 618.6h.8v.8h-.8zM256.0 619.6h.8v.8h-.8zM235.3 653.6h.8v.8h-.8zM249.1 627.7h.8v.8h-.8zM206.9 607.6h.8v.8h-.8zM263.2 641.0h.8v.8h-.8zM239.5 652.9h.8v.8h-.8zM241.3 621.4h.8v.8h-.8zM236.1 631.4h.8v.8h-.8zM238.0 672.5h.8v.8h-.8zM250.3 637.3h.8v.8h-.8zM233.1 622.1h.8v.8h-.8zM217.7 603.0h.8v.8h-.8zM228.8 608.7h.8v.8h-.8zM199.9 617.9h.8v.8h-.8zM196.2 654.8h.8v.8h-.8zM264.2 617.5h.8v.8h-.8zM280.8 643.4h.8v.8h-.8zM185.9 633.2h.8v.8h-.8zM217.6 605.1h.8v.8h-.8zM232.9 651.3h.8v.8h-.8zM247.5 609.6h.8v.8h-.8zM224.6 620.8h.8v.8h-.8zM262.1 631.3h.8v.8h-.8z" fill="#a0502a" opacity="0.78"/>
<rect x="257.8" y="607.0" width="14.2" height="30" fill="#f5f5f7" stroke="#b4b4ba" stroke-width="0.45"/>
<path d="M262.3 608.5 C270.3 608.0 271.0 616.0 270.2 622.0 C269.6 629.5 270.8 635.5 265.8 636.0 C260.3 636.0 259.3 625.0 260.0 617.5 C260.3 611.5 260.8 608.6 262.3 608.5 Z" fill="#e5e7f0"/>
<path d="M263.3 622.6 h3 v-2.5" fill="none" stroke="#c05060" stroke-width="0.45"/>
</g>
<clipPath id="ct13"><rect x="275.2" y="606.1" width="69.8" height="53.2"/></clipPath>
<g clip-path="url(#ct13)">
<rect x="275.2" y="606.1" width="69.8" height="53.2" fill="#e8eaf1"/>
<rect x="275.2" y="606.1" width="69.8" height="53.2" fill="#fff" filter="url(#fN)"/>
<path d="M289.6 618.3h.8v.8h-.8zM268.9 619.4h.8v.8h-.8zM328.8 602.4h.8v.8h-.8zM314.1 631.1h.8v.8h-.8zM327.2 614.6h.8v.8h-.8zM329.1 657.7h.8v.8h-.8zM358.0 606.9h.8v.8h-.8zM309.5 629.5h.8v.8h-.8zM312.7 617.1h.8v.8h-.8zM328.1 670.3h.8v.8h-.8zM341.6 617.6h.8v.8h-.8zM298.0 644.5h.8v.8h-.8zM312.9 620.7h.8v.8h-.8zM336.0 641.1h.8v.8h-.8zM331.5 630.0h.8v.8h-.8zM336.9 625.4h.8v.8h-.8zM286.7 632.7h.8v.8h-.8zM280.9 652.9h.8v.8h-.8zM325.5 605.9h.8v.8h-.8zM313.7 646.4h.8v.8h-.8zM302.6 639.5h.8v.8h-.8zM297.9 631.7h.8v.8h-.8zM308.3 640.6h.8v.8h-.8zM289.8 614.7h.8v.8h-.8zM317.0 624.7h.8v.8h-.8zM321.0 624.7h.8v.8h-.8zM282.6 644.6h.8v.8h-.8zM315.7 644.5h.8v.8h-.8zM303.0 627.0h.8v.8h-.8zM336.6 605.7h.8v.8h-.8zM346.6 641.0h.8v.8h-.8zM308.9 634.2h.8v.8h-.8zM322.8 620.4h.8v.8h-.8zM315.9 617.5h.8v.8h-.8zM271.3 636.0h.8v.8h-.8zM312.2 643.2h.8v.8h-.8zM321.8 644.0h.8v.8h-.8zM326.7 615.9h.8v.8h-.8zM335.6 675.7h.8v.8h-.8zM298.2 612.6h.8v.8h-.8zM324.5 647.5h.8v.8h-.8zM331.3 657.4h.8v.8h-.8zM281.0 638.8h.8v.8h-.8zM319.8 652.8h.8v.8h-.8zM291.4 633.2h.8v.8h-.8zM302.3 630.2h.8v.8h-.8zM307.0 630.3h.8v.8h-.8zM273.0 632.2h.8v.8h-.8zM311.5 626.6h.8v.8h-.8zM235.6 621.6h.8v.8h-.8zM296.4 618.8h.8v.8h-.8zM343.8 647.6h.8v.8h-.8zM306.2 642.4h.8v.8h-.8zM379.3 617.2h.8v.8h-.8zM320.0 623.1h.8v.8h-.8zM341.3 650.6h.8v.8h-.8zM307.5 642.6h.8v.8h-.8zM293.4 607.3h.8v.8h-.8zM327.8 659.0h.8v.8h-.8zM303.7 624.3h.8v.8h-.8zM272.4 667.2h.8v.8h-.8zM284.9 617.2h.8v.8h-.8zM306.0 652.2h.8v.8h-.8zM311.2 632.4h.8v.8h-.8zM310.5 646.4h.8v.8h-.8zM309.3 635.3h.8v.8h-.8zM308.6 614.9h.8v.8h-.8zM338.4 621.6h.8v.8h-.8zM282.4 625.7h.8v.8h-.8zM310.8 645.9h.8v.8h-.8zM279.2 612.4h.8v.8h-.8zM313.8 638.9h.8v.8h-.8zM287.0 614.5h.8v.8h-.8zM313.8 630.4h.8v.8h-.8zM276.1 618.7h.8v.8h-.8zM341.3 615.7h.8v.8h-.8zM332.2 608.2h.8v.8h-.8zM341.3 658.4h.8v.8h-.8zM296.8 621.8h.8v.8h-.8zM323.3 612.8h.8v.8h-.8zM337.3 654.5h.8v.8h-.8zM335.9 650.2h.8v.8h-.8zM333.7 653.5h.8v.8h-.8zM330.4 656.3h.8v.8h-.8zM334.4 647.1h.8v.8h-.8zM326.3 646.5h.8v.8h-.8zM335.7 654.7h.8v.8h-.8zM326.4 648.1h.8v.8h-.8zM331.1 642.9h.8v.8h-.8zM334.6 645.0h.8v.8h-.8zM338.9 635.7h.8v.8h-.8zM338.3 639.5h.8v.8h-.8zM324.7 651.2h.8v.8h-.8zM332.8 649.3h.8v.8h-.8zM329.7 643.6h.8v.8h-.8zM330.8 648.4h.8v.8h-.8zM330.3 646.6h.8v.8h-.8zM330.2 649.8h.8v.8h-.8zM328.8 638.7h.8v.8h-.8zM321.3 648.6h.8v.8h-.8zM335.0 653.3h.8v.8h-.8zM330.8 643.2h.8v.8h-.8zM327.0 652.3h.8v.8h-.8zM331.4 653.4h.8v.8h-.8zM334.1 647.3h.8v.8h-.8zM325.1 645.4h.8v.8h-.8zM338.5 645.7h.8v.8h-.8zM338.0 640.8h.8v.8h-.8zM339.7 662.0h.8v.8h-.8zM340.2 650.2h.8v.8h-.8zM328.3 646.1h.8v.8h-.8zM331.2 649.6h.8v.8h-.8zM324.3 644.5h.8v.8h-.8zM338.5 649.4h.8v.8h-.8zM338.3 652.8h.8v.8h-.8zM328.8 642.2h.8v.8h-.8zM336.9 648.8h.8v.8h-.8zM334.9 644.8h.8v.8h-.8zM339.7 651.0h.8v.8h-.8zM340.3 647.0h.8v.8h-.8z" fill="#a0502a" opacity="0.78"/>
<rect x="329.8" y="607.0" width="14.2" height="33" fill="#f5f5f7" stroke="#b4b4ba" stroke-width="0.45"/>
<path d="M334.3 608.5 C342.3 608.0 343.0 616.9 342.2 623.5 C341.6 631.8 342.8 638.5 337.8 639.0 C332.3 639.0 331.3 626.8 332.0 618.5 C332.3 612.0 332.8 608.6 334.3 608.5 Z" fill="#e5e7f0"/>
<path d="M335.3 624.2 h3 v-2.5" fill="none" stroke="#c05060" stroke-width="0.45"/>
</g>
<clipPath id="ct20"><rect x="60" y="662.1" width="69.8" height="53.4"/></clipPath>
<g clip-path="url(#ct20)">
<rect x="60" y="662.1" width="69.8" height="53.4" fill="#e8eaf1"/>
<rect x="60" y="662.1" width="69.8" height="53.4" fill="#fff" filter="url(#fN)"/>
<path d="M67.9 699.0h1.2v1.2h-1.2zM62.4 698.8h1.2v1.2h-1.2zM60.0 698.0h1.2v1.2h-1.2zM66.2 705.1h1.2v1.2h-1.2zM62.0 688.8h1.2v1.2h-1.2zM63.1 682.8h1.2v1.2h-1.2zM63.4 720.5h1.2v1.2h-1.2zM66.1 693.4h1.2v1.2h-1.2zM63.3 713.7h1.2v1.2h-1.2zM61.7 698.6h1.2v1.2h-1.2zM65.3 693.6h1.2v1.2h-1.2zM63.2 686.0h1.2v1.2h-1.2zM62.8 709.9h1.2v1.2h-1.2zM70.3 697.2h1.2v1.2h-1.2zM68.0 703.2h1.2v1.2h-1.2zM66.0 698.4h1.2v1.2h-1.2zM69.7 704.1h1.2v1.2h-1.2zM64.8 697.6h1.2v1.2h-1.2zM68.7 694.7h1.2v1.2h-1.2zM63.2 697.3h1.2v1.2h-1.2zM63.9 709.6h1.2v1.2h-1.2zM66.8 698.8h1.2v1.2h-1.2zM63.8 710.8h1.2v1.2h-1.2zM67.1 716.2h1.2v1.2h-1.2zM68.6 697.8h1.2v1.2h-1.2zM63.7 697.2h1.2v1.2h-1.2zM66.2 705.8h1.2v1.2h-1.2zM67.2 712.1h1.2v1.2h-1.2zM60.5 699.7h1.2v1.2h-1.2zM60.8 691.2h1.2v1.2h-1.2zM63.6 694.3h1.2v1.2h-1.2zM62.3 687.3h1.2v1.2h-1.2zM69.4 696.9h1.2v1.2h-1.2zM68.8 690.6h1.2v1.2h-1.2zM57.8 694.7h1.2v1.2h-1.2zM68.5 695.0h1.2v1.2h-1.2zM66.9 690.8h1.2v1.2h-1.2zM70.3 703.0h1.2v1.2h-1.2zM69.1 697.2h1.2v1.2h-1.2zM69.9 700.1h1.2v1.2h-1.2zM97.8 711.8h1.2v1.2h-1.2zM102.3 711.4h1.2v1.2h-1.2zM91.8 713.0h1.2v1.2h-1.2zM107.8 712.4h1.2v1.2h-1.2zM108.9 715.4h1.2v1.2h-1.2zM91.2 713.2h1.2v1.2h-1.2zM93.8 711.8h1.2v1.2h-1.2zM103.4 709.0h1.2v1.2h-1.2zM107.0 714.2h1.2v1.2h-1.2zM106.4 713.9h1.2v1.2h-1.2zM117.1 712.2h1.2v1.2h-1.2zM111.1 715.2h1.2v1.2h-1.2zM106.0 710.0h1.2v1.2h-1.2zM100.6 712.4h1.2v1.2h-1.2zM88.3 712.7h1.2v1.2h-1.2zM108.2 712.4h1.2v1.2h-1.2zM100.3 715.2h1.2v1.2h-1.2zM96.7 711.3h1.2v1.2h-1.2zM102.2 714.6h1.2v1.2h-1.2zM106.9 712.9h1.2v1.2h-1.2z" fill="#c98c5c" opacity="0.27"/>
<rect x="114.6" y="663.0" width="14.2" height="18" fill="#f5f5f7" stroke="#b4b4ba" stroke-width="0.45"/>
<path d="M117.6 664.2 C124.6 664.5 128.4 668.4 128.4 672.0 C128.4 676.5 124.6 680.0 117.6 680.2 Z" fill="#eee4de"/>
<path d="M120.1 672.4 h3 v-2.5" fill="none" stroke="#c05060" stroke-width="0.45"/>
</g>
<clipPath id="ct21"><rect x="131.8" y="662.1" width="69.7" height="53.4"/></clipPath>
<g clip-path="url(#ct21)">
<rect x="131.8" y="662.1" width="69.7" height="53.4" fill="#e8eaf1"/>
<rect x="131.8" y="662.1" width="69.7" height="53.4" fill="#fff" filter="url(#fN)"/>
<ellipse cx="152.7" cy="707.5" rx="12.5" ry="8.0" fill="#d6a47c" opacity="0.15" filter="url(#fB)"/>
<path d="M148.6 713.4h1.2v1.2h-1.2zM160.1 699.1h1.2v1.2h-1.2zM155.5 695.9h1.2v1.2h-1.2zM165.3 710.4h1.2v1.2h-1.2zM147.4 701.3h1.2v1.2h-1.2zM150.2 699.0h1.2v1.2h-1.2zM157.4 705.0h1.2v1.2h-1.2zM137.9 707.4h1.2v1.2h-1.2zM162.6 701.4h1.2v1.2h-1.2zM149.7 716.2h1.2v1.2h-1.2zM154.3 704.8h1.2v1.2h-1.2zM154.3 711.2h1.2v1.2h-1.2zM144.3 707.0h1.2v1.2h-1.2zM139.0 699.9h1.2v1.2h-1.2zM139.8 711.6h1.2v1.2h-1.2zM155.3 711.0h1.2v1.2h-1.2zM162.9 707.7h1.2v1.2h-1.2zM154.7 709.4h1.2v1.2h-1.2zM156.6 702.4h1.2v1.2h-1.2zM150.4 706.8h1.2v1.2h-1.2zM153.0 703.9h1.2v1.2h-1.2zM151.6 708.9h1.2v1.2h-1.2zM154.3 710.3h1.2v1.2h-1.2zM159.6 710.2h1.2v1.2h-1.2zM160.8 711.5h1.2v1.2h-1.2zM164.4 710.5h1.2v1.2h-1.2zM147.5 718.7h1.2v1.2h-1.2zM162.2 713.5h1.2v1.2h-1.2zM158.8 707.7h1.2v1.2h-1.2zM143.1 709.6h1.2v1.2h-1.2zM149.7 705.6h1.2v1.2h-1.2zM134.8 714.9h1.2v1.2h-1.2zM142.9 702.2h1.2v1.2h-1.2zM156.6 710.2h1.2v1.2h-1.2zM146.1 707.5h1.2v1.2h-1.2zM154.8 708.2h1.2v1.2h-1.2zM157.1 711.2h1.2v1.2h-1.2zM149.6 699.7h1.2v1.2h-1.2zM170.8 705.6h1.2v1.2h-1.2zM144.4 711.1h1.2v1.2h-1.2zM157.6 704.5h1.2v1.2h-1.2zM172.4 696.2h1.2v1.2h-1.2zM163.4 707.3h1.2v1.2h-1.2zM155.3 709.0h1.2v1.2h-1.2zM150.8 709.0h1.2v1.2h-1.2zM141.8 705.6h1.2v1.2h-1.2zM168.2 695.1h1.2v1.2h-1.2zM163.0 696.7h1.2v1.2h-1.2zM145.6 711.7h1.2v1.2h-1.2zM149.3 704.7h1.2v1.2h-1.2zM140.1 706.9h1.2v1.2h-1.2zM151.2 704.4h1.2v1.2h-1.2zM139.6 708.2h1.2v1.2h-1.2zM156.2 713.0h1.2v1.2h-1.2zM157.0 714.8h1.2v1.2h-1.2zM162.8 693.9h1.2v1.2h-1.2zM166.7 707.0h1.2v1.2h-1.2zM143.9 709.6h1.2v1.2h-1.2zM160.8 700.0h1.2v1.2h-1.2zM142.3 710.8h1.2v1.2h-1.2zM148.1 714.5h1.2v1.2h-1.2zM154.5 704.8h1.2v1.2h-1.2zM141.6 710.4h1.2v1.2h-1.2zM138.3 701.2h1.2v1.2h-1.2zM141.7 715.7h1.2v1.2h-1.2zM167.0 706.4h1.2v1.2h-1.2zM149.5 710.9h1.2v1.2h-1.2zM163.1 703.6h1.2v1.2h-1.2zM171.2 706.5h1.2v1.2h-1.2zM162.2 696.1h1.2v1.2h-1.2zM152.3 704.1h1.2v1.2h-1.2zM169.4 706.4h1.2v1.2h-1.2zM142.0 716.9h1.2v1.2h-1.2zM146.9 707.5h1.2v1.2h-1.2zM142.2 710.8h1.2v1.2h-1.2zM154.3 706.1h1.2v1.2h-1.2zM149.3 704.7h1.2v1.2h-1.2zM146.7 700.7h1.2v1.2h-1.2zM162.8 711.8h1.2v1.2h-1.2zM141.0 701.9h1.2v1.2h-1.2zM156.1 718.4h1.2v1.2h-1.2zM151.0 706.0h1.2v1.2h-1.2zM150.6 708.7h1.2v1.2h-1.2zM151.2 712.7h1.2v1.2h-1.2zM160.9 710.1h1.2v1.2h-1.2zM165.9 706.4h1.2v1.2h-1.2zM148.1 721.9h1.2v1.2h-1.2zM136.5 700.0h1.2v1.2h-1.2zM132.9 709.2h1.2v1.2h-1.2zM143.7 712.6h1.2v1.2h-1.2zM135.1 706.8h1.2v1.2h-1.2zM149.4 702.3h1.2v1.2h-1.2zM162.1 705.6h1.2v1.2h-1.2zM156.5 704.9h1.2v1.2h-1.2zM154.0 705.3h1.2v1.2h-1.2zM153.3 707.0h1.2v1.2h-1.2zM147.0 709.6h1.2v1.2h-1.2zM151.1 702.8h1.2v1.2h-1.2zM143.9 709.6h1.2v1.2h-1.2zM163.9 701.2h1.2v1.2h-1.2zM149.2 709.7h1.2v1.2h-1.2zM161.4 710.9h1.2v1.2h-1.2zM142.8 707.7h1.2v1.2h-1.2zM160.2 708.6h1.2v1.2h-1.2zM150.8 701.8h1.2v1.2h-1.2zM154.1 707.2h1.2v1.2h-1.2zM153.0 714.7h1.2v1.2h-1.2zM162.7 703.7h1.2v1.2h-1.2zM154.6 706.0h1.2v1.2h-1.2zM153.5 715.4h1.2v1.2h-1.2zM160.4 707.7h1.2v1.2h-1.2zM147.2 706.7h1.2v1.2h-1.2zM155.8 705.1h1.2v1.2h-1.2zM161.9 707.6h1.2v1.2h-1.2zM142.8 717.4h1.2v1.2h-1.2zM128.4 706.2h1.2v1.2h-1.2zM151.7 712.3h1.2v1.2h-1.2zM162.1 714.5h1.2v1.2h-1.2zM165.8 709.0h1.2v1.2h-1.2zM153.7 712.4h1.2v1.2h-1.2zM152.5 701.4h1.2v1.2h-1.2zM148.9 710.7h1.2v1.2h-1.2zM157.8 702.1h1.2v1.2h-1.2zM162.8 709.0h1.2v1.2h-1.2zM140.1 709.7h1.2v1.2h-1.2zM161.1 710.1h1.2v1.2h-1.2zM150.1 703.6h1.2v1.2h-1.2zM162.1 708.6h1.2v1.2h-1.2zM152.7 705.6h1.2v1.2h-1.2zM144.0 698.4h1.2v1.2h-1.2zM150.5 675.5h1.2v1.2h-1.2zM157.5 666.8h1.2v1.2h-1.2zM162.3 669.0h1.2v1.2h-1.2zM146.4 674.8h1.2v1.2h-1.2zM161.4 668.2h1.2v1.2h-1.2zM145.0 669.8h1.2v1.2h-1.2zM137.4 670.4h1.2v1.2h-1.2zM162.3 671.4h1.2v1.2h-1.2zM148.1 673.5h1.2v1.2h-1.2zM149.6 676.2h1.2v1.2h-1.2zM150.4 679.9h1.2v1.2h-1.2zM150.5 671.0h1.2v1.2h-1.2zM146.8 663.9h1.2v1.2h-1.2zM154.9 671.8h1.2v1.2h-1.2zM146.6 672.8h1.2v1.2h-1.2zM150.1 667.4h1.2v1.2h-1.2zM152.3 672.0h1.2v1.2h-1.2zM157.3 676.1h1.2v1.2h-1.2zM155.1 666.6h1.2v1.2h-1.2zM148.4 671.9h1.2v1.2h-1.2zM145.2 669.3h1.2v1.2h-1.2zM150.3 669.6h1.2v1.2h-1.2zM153.8 675.1h1.2v1.2h-1.2zM163.0 674.4h1.2v1.2h-1.2zM159.1 665.0h1.2v1.2h-1.2zM159.2 676.4h1.2v1.2h-1.2zM144.2 682.3h1.2v1.2h-1.2zM149.1 658.6h1.2v1.2h-1.2zM163.8 670.4h1.2v1.2h-1.2zM147.7 667.3h1.2v1.2h-1.2zM159.4 671.3h1.2v1.2h-1.2zM150.3 675.7h1.2v1.2h-1.2zM146.8 666.0h1.2v1.2h-1.2zM149.2 666.5h1.2v1.2h-1.2zM157.0 669.0h1.2v1.2h-1.2zM146.1 667.9h1.2v1.2h-1.2zM140.2 670.9h1.2v1.2h-1.2zM153.3 673.0h1.2v1.2h-1.2zM151.2 672.0h1.2v1.2h-1.2zM146.8 670.2h1.2v1.2h-1.2zM153.7 664.2h1.2v1.2h-1.2zM156.4 670.8h1.2v1.2h-1.2zM153.0 667.8h1.2v1.2h-1.2zM165.3 670.1h1.2v1.2h-1.2zM147.9 666.0h1.2v1.2h-1.2zM156.4 669.1h1.2v1.2h-1.2zM147.7 666.6h1.2v1.2h-1.2zM158.6 670.5h1.2v1.2h-1.2zM159.3 670.0h1.2v1.2h-1.2zM145.3 674.3h1.2v1.2h-1.2zM154.7 667.0h1.2v1.2h-1.2zM150.8 665.4h1.2v1.2h-1.2zM157.9 668.1h1.2v1.2h-1.2zM155.7 671.4h1.2v1.2h-1.2zM151.1 671.9h1.2v1.2h-1.2zM151.2 664.4h1.2v1.2h-1.2zM150.1 664.4h1.2v1.2h-1.2zM157.4 673.2h1.2v1.2h-1.2zM149.0 673.1h1.2v1.2h-1.2zM154.3 674.8h1.2v1.2h-1.2zM146.8 670.2h1.2v1.2h-1.2zM146.5 666.8h1.2v1.2h-1.2zM161.3 660.4h1.2v1.2h-1.2zM147.0 672.5h1.2v1.2h-1.2zM157.6 666.3h1.2v1.2h-1.2zM140.0 661.8h1.2v1.2h-1.2zM155.0 675.4h1.2v1.2h-1.2zM158.4 666.6h1.2v1.2h-1.2zM161.2 669.2h1.2v1.2h-1.2zM156.6 669.2h1.2v1.2h-1.2zM199.9 680.5h1.2v1.2h-1.2zM121.7 683.8h1.2v1.2h-1.2zM170.6 693.2h1.2v1.2h-1.2zM151.6 685.1h1.2v1.2h-1.2zM142.9 685.0h1.2v1.2h-1.2zM168.4 692.7h1.2v1.2h-1.2zM201.0 656.8h1.2v1.2h-1.2zM177.5 695.7h1.2v1.2h-1.2zM142.5 689.9h1.2v1.2h-1.2zM166.5 672.7h1.2v1.2h-1.2zM181.7 719.4h1.2v1.2h-1.2zM180.7 701.2h1.2v1.2h-1.2zM188.9 686.7h1.2v1.2h-1.2zM187.0 675.9h1.2v1.2h-1.2zM170.4 700.1h1.2v1.2h-1.2zM193.9 684.2h1.2v1.2h-1.2zM160.5 696.3h1.2v1.2h-1.2zM165.0 691.0h1.2v1.2h-1.2zM183.4 676.5h1.2v1.2h-1.2zM184.9 694.9h1.2v1.2h-1.2zM161.1 668.8h1.2v1.2h-1.2zM153.5 688.1h1.2v1.2h-1.2zM186.2 657.3h1.2v1.2h-1.2zM181.5 691.9h1.2v1.2h-1.2zM143.1 702.5h1.2v1.2h-1.2zM174.9 695.8h1.2v1.2h-1.2zM146.3 671.1h1.2v1.2h-1.2zM185.6 711.2h1.2v1.2h-1.2zM174.3 685.7h1.2v1.2h-1.2zM157.2 661.4h1.2v1.2h-1.2zM187.1 687.3h1.2v1.2h-1.2zM192.3 677.3h1.2v1.2h-1.2zM188.5 677.4h1.2v1.2h-1.2zM178.8 710.7h1.2v1.2h-1.2zM152.0 703.3h1.2v1.2h-1.2zM166.5 673.9h1.2v1.2h-1.2zM170.8 699.1h1.2v1.2h-1.2zM151.8 684.5h1.2v1.2h-1.2zM154.8 676.5h1.2v1.2h-1.2zM162.3 701.9h1.2v1.2h-1.2z" fill="#c98c5c" opacity="0.27"/>
<rect x="186.3" y="663.0" width="14.2" height="22" fill="#f5f5f7" stroke="#b4b4ba" stroke-width="0.45"/>
<path d="M189.3 664.2 C196.3 664.5 200.1 669.6 200.1 674.0 C200.1 679.5 196.3 684.0 189.3 684.2 Z" fill="#eee4de"/>
<path d="M191.8 674.4 h3 v-2.5" fill="none" stroke="#c05060" stroke-width="0.45"/>
</g>
<clipPath id="ct22"><rect x="203.6" y="662.1" width="69.4" height="53.4"/></clipPath>
<g clip-path="url(#ct22)">
<rect x="203.6" y="662.1" width="69.4" height="53.4" fill="#e8eaf1"/>
<rect x="203.6" y="662.1" width="69.4" height="53.4" fill="#fff" filter="url(#fN)"/>
<ellipse cx="231.4" cy="680.8" rx="27.8" ry="16.0" fill="#d6a47c" opacity="0.16" filter="url(#fB)"/>
<ellipse cx="234.8" cy="707.5" rx="27.8" ry="8.0" fill="#d6a47c" opacity="0.14" filter="url(#fB)"/>
<path d="M229.1 694.1h1.2v1.2h-1.2zM231.2 681.7h1.2v1.2h-1.2zM258.2 695.1h1.2v1.2h-1.2zM226.2 689.9h1.2v1.2h-1.2zM216.7 683.5h1.2v1.2h-1.2zM231.3 690.6h1.2v1.2h-1.2zM215.0 682.9h1.2v1.2h-1.2zM225.5 686.8h1.2v1.2h-1.2zM215.4 677.6h1.2v1.2h-1.2zM290.8 687.5h1.2v1.2h-1.2zM210.3 691.4h1.2v1.2h-1.2zM213.9 674.2h1.2v1.2h-1.2zM269.3 694.1h1.2v1.2h-1.2zM222.7 679.2h1.2v1.2h-1.2zM247.1 699.0h1.2v1.2h-1.2zM249.4 690.3h1.2v1.2h-1.2zM216.3 674.8h1.2v1.2h-1.2zM245.5 692.6h1.2v1.2h-1.2zM240.8 686.1h1.2v1.2h-1.2zM263.9 680.8h1.2v1.2h-1.2zM258.6 691.4h1.2v1.2h-1.2zM226.7 686.9h1.2v1.2h-1.2zM240.3 689.8h1.2v1.2h-1.2zM220.2 684.7h1.2v1.2h-1.2zM240.0 686.3h1.2v1.2h-1.2zM238.7 687.7h1.2v1.2h-1.2zM234.7 683.0h1.2v1.2h-1.2zM257.4 682.1h1.2v1.2h-1.2zM232.4 680.6h1.2v1.2h-1.2zM217.1 689.0h1.2v1.2h-1.2zM237.5 685.3h1.2v1.2h-1.2zM246.7 685.0h1.2v1.2h-1.2zM250.9 697.5h1.2v1.2h-1.2zM244.7 684.4h1.2v1.2h-1.2zM268.9 690.6h1.2v1.2h-1.2zM207.5 694.5h1.2v1.2h-1.2zM242.2 691.5h1.2v1.2h-1.2zM217.0 680.8h1.2v1.2h-1.2zM226.3 689.6h1.2v1.2h-1.2zM217.5 681.7h1.2v1.2h-1.2zM255.9 682.1h1.2v1.2h-1.2zM240.5 680.5h1.2v1.2h-1.2zM206.9 685.6h1.2v1.2h-1.2zM236.1 677.1h1.2v1.2h-1.2zM256.3 691.3h1.2v1.2h-1.2zM254.6 682.9h1.2v1.2h-1.2zM217.1 685.6h1.2v1.2h-1.2zM241.3 685.0h1.2v1.2h-1.2zM227.5 679.8h1.2v1.2h-1.2zM224.7 685.6h1.2v1.2h-1.2zM229.3 696.6h1.2v1.2h-1.2zM233.2 689.0h1.2v1.2h-1.2zM229.7 685.0h1.2v1.2h-1.2zM220.3 683.1h1.2v1.2h-1.2zM210.7 673.1h1.2v1.2h-1.2zM263.0 679.5h1.2v1.2h-1.2zM246.3 685.3h1.2v1.2h-1.2zM227.8 690.7h1.2v1.2h-1.2zM228.0 688.9h1.2v1.2h-1.2zM231.5 692.2h1.2v1.2h-1.2zM255.9 686.5h1.2v1.2h-1.2zM258.4 689.3h1.2v1.2h-1.2zM266.9 685.4h1.2v1.2h-1.2zM209.9 687.5h1.2v1.2h-1.2zM242.7 683.8h1.2v1.2h-1.2zM234.5 684.4h1.2v1.2h-1.2zM215.2 696.9h1.2v1.2h-1.2zM224.0 679.4h1.2v1.2h-1.2zM209.2 680.8h1.2v1.2h-1.2zM237.6 695.4h1.2v1.2h-1.2zM249.3 681.6h1.2v1.2h-1.2zM215.4 679.1h1.2v1.2h-1.2zM236.8 691.6h1.2v1.2h-1.2zM229.4 696.2h1.2v1.2h-1.2zM273.8 687.1h1.2v1.2h-1.2zM198.5 693.0h1.2v1.2h-1.2zM236.5 690.3h1.2v1.2h-1.2zM256.4 679.8h1.2v1.2h-1.2zM239.4 687.2h1.2v1.2h-1.2zM224.5 690.5h1.2v1.2h-1.2zM235.9 683.6h1.2v1.2h-1.2zM272.8 687.2h1.2v1.2h-1.2zM268.3 685.1h1.2v1.2h-1.2zM257.3 681.4h1.2v1.2h-1.2zM241.0 692.9h1.2v1.2h-1.2zM198.4 689.5h1.2v1.2h-1.2zM233.3 692.9h1.2v1.2h-1.2zM241.6 685.6h1.2v1.2h-1.2zM214.8 704.5h1.2v1.2h-1.2zM224.7 684.1h1.2v1.2h-1.2zM225.0 684.2h1.2v1.2h-1.2zM242.3 677.7h1.2v1.2h-1.2zM257.6 684.5h1.2v1.2h-1.2zM249.3 672.9h1.2v1.2h-1.2zM228.7 684.2h1.2v1.2h-1.2zM231.1 681.9h1.2v1.2h-1.2zM243.9 688.7h1.2v1.2h-1.2zM220.3 673.8h1.2v1.2h-1.2zM251.6 684.1h1.2v1.2h-1.2zM257.9 691.6h1.2v1.2h-1.2zM236.3 677.2h1.2v1.2h-1.2zM231.6 681.5h1.2v1.2h-1.2zM261.0 675.5h1.2v1.2h-1.2zM255.0 676.5h1.2v1.2h-1.2zM227.8 677.3h1.2v1.2h-1.2zM225.5 683.3h1.2v1.2h-1.2zM245.1 682.4h1.2v1.2h-1.2zM250.9 697.1h1.2v1.2h-1.2zM241.2 678.9h1.2v1.2h-1.2zM235.0 685.5h1.2v1.2h-1.2zM231.6 693.3h1.2v1.2h-1.2zM259.4 698.6h1.2v1.2h-1.2zM247.9 669.4h1.2v1.2h-1.2zM235.8 690.3h1.2v1.2h-1.2zM223.4 682.3h1.2v1.2h-1.2zM254.9 687.0h1.2v1.2h-1.2zM217.6 682.4h1.2v1.2h-1.2zM181.7 686.1h1.2v1.2h-1.2zM215.8 685.8h1.2v1.2h-1.2zM216.5 680.3h1.2v1.2h-1.2zM228.8 703.5h1.2v1.2h-1.2zM216.5 678.7h1.2v1.2h-1.2zM228.4 692.7h1.2v1.2h-1.2zM252.9 690.4h1.2v1.2h-1.2zM232.3 686.9h1.2v1.2h-1.2zM224.1 685.0h1.2v1.2h-1.2zM223.4 677.0h1.2v1.2h-1.2zM220.0 698.2h1.2v1.2h-1.2zM245.5 681.4h1.2v1.2h-1.2zM236.2 683.3h1.2v1.2h-1.2zM260.6 685.9h1.2v1.2h-1.2zM226.6 690.3h1.2v1.2h-1.2zM244.1 681.8h1.2v1.2h-1.2zM224.1 687.0h1.2v1.2h-1.2zM208.2 680.4h1.2v1.2h-1.2zM256.8 691.5h1.2v1.2h-1.2zM258.7 683.3h1.2v1.2h-1.2zM227.3 684.4h1.2v1.2h-1.2zM229.4 694.1h1.2v1.2h-1.2zM234.2 694.5h1.2v1.2h-1.2zM225.2 688.4h1.2v1.2h-1.2zM268.0 681.4h1.2v1.2h-1.2zM226.3 682.3h1.2v1.2h-1.2zM208.7 684.2h1.2v1.2h-1.2zM226.4 699.8h1.2v1.2h-1.2zM229.5 672.7h1.2v1.2h-1.2zM255.5 692.0h1.2v1.2h-1.2zM237.6 687.9h1.2v1.2h-1.2zM251.4 682.6h1.2v1.2h-1.2zM239.0 687.0h1.2v1.2h-1.2zM268.6 694.9h1.2v1.2h-1.2zM241.3 677.7h1.2v1.2h-1.2zM254.4 685.7h1.2v1.2h-1.2zM259.6 686.4h1.2v1.2h-1.2zM241.6 690.2h1.2v1.2h-1.2zM224.8 681.9h1.2v1.2h-1.2zM280.3 680.7h1.2v1.2h-1.2zM255.3 690.3h1.2v1.2h-1.2zM253.2 694.6h1.2v1.2h-1.2zM213.6 692.0h1.2v1.2h-1.2zM200.5 686.4h1.2v1.2h-1.2zM244.4 692.5h1.2v1.2h-1.2zM258.1 680.2h1.2v1.2h-1.2zM233.2 685.1h1.2v1.2h-1.2zM225.5 680.9h1.2v1.2h-1.2zM226.1 693.2h1.2v1.2h-1.2zM263.2 690.7h1.2v1.2h-1.2zM269.1 686.6h1.2v1.2h-1.2zM218.3 682.0h1.2v1.2h-1.2zM242.0 692.5h1.2v1.2h-1.2zM260.5 680.5h1.2v1.2h-1.2zM255.8 682.7h1.2v1.2h-1.2zM249.2 691.8h1.2v1.2h-1.2zM265.4 682.8h1.2v1.2h-1.2zM242.7 688.7h1.2v1.2h-1.2zM230.6 686.6h1.2v1.2h-1.2zM249.2 675.8h1.2v1.2h-1.2zM226.4 700.4h1.2v1.2h-1.2zM246.6 682.6h1.2v1.2h-1.2zM204.5 680.1h1.2v1.2h-1.2zM247.8 690.3h1.2v1.2h-1.2zM246.4 689.7h1.2v1.2h-1.2zM227.2 696.0h1.2v1.2h-1.2zM217.6 689.2h1.2v1.2h-1.2zM233.4 675.4h1.2v1.2h-1.2zM254.8 684.3h1.2v1.2h-1.2zM251.3 694.0h1.2v1.2h-1.2zM241.3 681.9h1.2v1.2h-1.2zM234.3 685.6h1.2v1.2h-1.2zM264.8 691.4h1.2v1.2h-1.2zM267.4 690.8h1.2v1.2h-1.2zM224.2 691.8h1.2v1.2h-1.2zM256.1 685.3h1.2v1.2h-1.2zM246.8 684.1h1.2v1.2h-1.2zM215.1 685.5h1.2v1.2h-1.2zM252.3 683.8h1.2v1.2h-1.2zM197.1 681.1h1.2v1.2h-1.2zM258.3 687.4h1.2v1.2h-1.2zM258.9 681.3h1.2v1.2h-1.2zM230.6 679.8h1.2v1.2h-1.2zM224.0 689.2h1.2v1.2h-1.2zM240.8 683.0h1.2v1.2h-1.2zM243.7 677.9h1.2v1.2h-1.2zM231.1 676.7h1.2v1.2h-1.2zM210.7 677.6h1.2v1.2h-1.2zM218.1 695.9h1.2v1.2h-1.2zM263.6 693.9h1.2v1.2h-1.2zM227.6 689.9h1.2v1.2h-1.2zM217.4 682.7h1.2v1.2h-1.2zM242.7 676.1h1.2v1.2h-1.2zM241.9 689.9h1.2v1.2h-1.2zM200.1 670.8h1.2v1.2h-1.2zM233.2 685.3h1.2v1.2h-1.2zM240.9 679.0h1.2v1.2h-1.2zM248.8 686.8h1.2v1.2h-1.2zM224.8 696.3h1.2v1.2h-1.2zM243.0 690.6h1.2v1.2h-1.2zM272.4 683.0h1.2v1.2h-1.2zM234.2 675.2h1.2v1.2h-1.2zM234.1 688.8h1.2v1.2h-1.2zM284.5 689.5h1.2v1.2h-1.2zM242.0 678.2h1.2v1.2h-1.2zM222.5 674.5h1.2v1.2h-1.2zM212.9 686.7h1.2v1.2h-1.2zM243.8 680.3h1.2v1.2h-1.2zM234.2 681.0h1.2v1.2h-1.2zM249.7 690.0h1.2v1.2h-1.2zM227.9 683.2h1.2v1.2h-1.2zM215.6 683.1h1.2v1.2h-1.2zM278.7 685.9h1.2v1.2h-1.2zM254.1 689.6h1.2v1.2h-1.2zM265.5 684.0h1.2v1.2h-1.2zM221.6 692.5h1.2v1.2h-1.2zM255.3 681.9h1.2v1.2h-1.2zM258.5 685.9h1.2v1.2h-1.2zM237.5 697.5h1.2v1.2h-1.2zM248.1 688.0h1.2v1.2h-1.2zM232.4 687.3h1.2v1.2h-1.2zM257.8 688.9h1.2v1.2h-1.2zM224.3 688.8h1.2v1.2h-1.2zM236.1 687.9h1.2v1.2h-1.2zM234.7 672.4h1.2v1.2h-1.2zM208.4 683.6h1.2v1.2h-1.2zM197.5 676.6h1.2v1.2h-1.2zM275.8 690.3h1.2v1.2h-1.2zM229.8 688.1h1.2v1.2h-1.2zM196.8 687.6h1.2v1.2h-1.2zM256.5 687.2h1.2v1.2h-1.2zM214.0 692.1h1.2v1.2h-1.2zM228.4 682.5h1.2v1.2h-1.2zM241.9 684.1h1.2v1.2h-1.2zM276.1 685.2h1.2v1.2h-1.2zM278.1 688.8h1.2v1.2h-1.2zM215.3 686.0h1.2v1.2h-1.2zM239.3 695.0h1.2v1.2h-1.2zM262.0 702.0h1.2v1.2h-1.2zM226.0 683.3h1.2v1.2h-1.2zM281.5 680.4h1.2v1.2h-1.2zM244.9 696.1h1.2v1.2h-1.2zM219.5 683.8h1.2v1.2h-1.2zM224.4 689.3h1.2v1.2h-1.2zM245.7 685.8h1.2v1.2h-1.2zM250.5 681.1h1.2v1.2h-1.2zM231.3 689.0h1.2v1.2h-1.2zM275.8 685.8h1.2v1.2h-1.2zM239.4 694.2h1.2v1.2h-1.2zM239.7 694.2h1.2v1.2h-1.2zM242.7 693.3h1.2v1.2h-1.2zM241.7 680.3h1.2v1.2h-1.2zM222.4 688.7h1.2v1.2h-1.2zM273.3 697.7h1.2v1.2h-1.2zM232.4 701.7h1.2v1.2h-1.2zM217.6 680.7h1.2v1.2h-1.2zM255.6 676.5h1.2v1.2h-1.2zM255.3 688.4h1.2v1.2h-1.2zM250.0 678.5h1.2v1.2h-1.2zM245.4 691.9h1.2v1.2h-1.2zM237.3 692.5h1.2v1.2h-1.2zM238.8 688.2h1.2v1.2h-1.2zM232.4 677.5h1.2v1.2h-1.2zM222.4 709.3h1.2v1.2h-1.2zM215.0 700.1h1.2v1.2h-1.2zM205.2 712.4h1.2v1.2h-1.2zM221.6 704.6h1.2v1.2h-1.2zM239.8 706.8h1.2v1.2h-1.2zM205.7 705.8h1.2v1.2h-1.2zM213.4 706.7h1.2v1.2h-1.2zM213.1 707.7h1.2v1.2h-1.2zM230.1 705.3h1.2v1.2h-1.2zM221.9 706.8h1.2v1.2h-1.2zM234.7 704.7h1.2v1.2h-1.2zM233.8 712.1h1.2v1.2h-1.2zM222.0 703.8h1.2v1.2h-1.2zM220.6 700.8h1.2v1.2h-1.2zM217.7 702.9h1.2v1.2h-1.2zM222.3 706.0h1.2v1.2h-1.2zM230.9 707.9h1.2v1.2h-1.2zM229.7 707.3h1.2v1.2h-1.2zM227.9 703.2h1.2v1.2h-1.2zM232.7 712.3h1.2v1.2h-1.2zM238.3 702.4h1.2v1.2h-1.2zM229.6 701.3h1.2v1.2h-1.2zM233.9 706.7h1.2v1.2h-1.2zM218.7 704.6h1.2v1.2h-1.2zM221.5 707.4h1.2v1.2h-1.2zM212.4 707.7h1.2v1.2h-1.2zM227.7 709.4h1.2v1.2h-1.2zM223.9 707.4h1.2v1.2h-1.2zM253.3 711.2h1.2v1.2h-1.2zM228.5 702.2h1.2v1.2h-1.2zM232.1 709.6h1.2v1.2h-1.2zM191.3 706.8h1.2v1.2h-1.2zM229.2 707.6h1.2v1.2h-1.2zM225.6 706.9h1.2v1.2h-1.2zM241.7 708.9h1.2v1.2h-1.2zM220.9 706.6h1.2v1.2h-1.2zM250.5 704.2h1.2v1.2h-1.2zM217.9 708.7h1.2v1.2h-1.2zM226.3 708.6h1.2v1.2h-1.2zM241.3 711.7h1.2v1.2h-1.2zM229.7 707.6h1.2v1.2h-1.2zM223.6 706.6h1.2v1.2h-1.2zM237.0 702.7h1.2v1.2h-1.2zM211.4 705.7h1.2v1.2h-1.2zM212.4 704.7h1.2v1.2h-1.2zM239.3 698.9h1.2v1.2h-1.2zM231.6 702.5h1.2v1.2h-1.2zM221.4 705.3h1.2v1.2h-1.2zM212.0 701.8h1.2v1.2h-1.2zM225.3 696.2h1.2v1.2h-1.2zM198.0 706.0h1.2v1.2h-1.2zM238.1 714.5h1.2v1.2h-1.2zM220.8 704.4h1.2v1.2h-1.2zM220.9 709.2h1.2v1.2h-1.2zM236.1 703.8h1.2v1.2h-1.2zM230.4 707.3h1.2v1.2h-1.2zM238.7 705.9h1.2v1.2h-1.2zM221.8 704.2h1.2v1.2h-1.2zM207.9 708.5h1.2v1.2h-1.2zM233.3 711.7h1.2v1.2h-1.2zM227.8 705.7h1.2v1.2h-1.2zM213.0 703.0h1.2v1.2h-1.2zM215.4 708.7h1.2v1.2h-1.2zM225.6 698.8h1.2v1.2h-1.2zM223.2 706.4h1.2v1.2h-1.2zM211.4 707.4h1.2v1.2h-1.2zM231.1 703.5h1.2v1.2h-1.2zM207.5 706.2h1.2v1.2h-1.2zM227.7 706.5h1.2v1.2h-1.2zM243.7 708.0h1.2v1.2h-1.2zM211.9 710.4h1.2v1.2h-1.2zM216.3 710.1h1.2v1.2h-1.2zM225.7 712.1h1.2v1.2h-1.2zM212.0 710.2h1.2v1.2h-1.2zM229.7 704.0h1.2v1.2h-1.2zM233.2 716.1h1.2v1.2h-1.2zM228.9 704.5h1.2v1.2h-1.2zM222.5 712.4h1.2v1.2h-1.2zM227.6 713.1h1.2v1.2h-1.2zM216.3 712.4h1.2v1.2h-1.2zM204.7 706.8h1.2v1.2h-1.2zM220.7 705.6h1.2v1.2h-1.2zM239.7 705.2h1.2v1.2h-1.2zM228.8 714.5h1.2v1.2h-1.2zM234.7 705.9h1.2v1.2h-1.2zM215.3 699.8h1.2v1.2h-1.2zM229.2 710.8h1.2v1.2h-1.2zM238.3 708.4h1.2v1.2h-1.2zM251.4 710.4h1.2v1.2h-1.2zM195.5 704.1h1.2v1.2h-1.2zM234.4 705.9h1.2v1.2h-1.2zM234.9 717.2h1.2v1.2h-1.2zM214.9 715.9h1.2v1.2h-1.2zM223.4 701.9h1.2v1.2h-1.2zM225.6 710.9h1.2v1.2h-1.2zM217.2 713.5h1.2v1.2h-1.2zM213.5 706.7h1.2v1.2h-1.2zM235.9 706.6h1.2v1.2h-1.2zM217.5 707.4h1.2v1.2h-1.2zM232.6 714.1h1.2v1.2h-1.2zM241.4 714.6h1.2v1.2h-1.2zM224.1 701.1h1.2v1.2h-1.2zM223.9 705.9h1.2v1.2h-1.2zM212.0 705.5h1.2v1.2h-1.2zM223.6 707.7h1.2v1.2h-1.2zM235.9 704.0h1.2v1.2h-1.2zM238.8 707.6h1.2v1.2h-1.2zM233.6 712.2h1.2v1.2h-1.2zM209.0 713.6h1.2v1.2h-1.2zM215.5 709.0h1.2v1.2h-1.2zM238.0 711.0h1.2v1.2h-1.2zM204.9 708.1h1.2v1.2h-1.2zM238.6 707.0h1.2v1.2h-1.2zM223.4 707.7h1.2v1.2h-1.2zM245.0 705.4h1.2v1.2h-1.2zM212.6 703.2h1.2v1.2h-1.2zM217.8 706.6h1.2v1.2h-1.2zM228.8 707.2h1.2v1.2h-1.2zM202.9 701.4h1.2v1.2h-1.2zM232.9 710.2h1.2v1.2h-1.2zM207.5 711.1h1.2v1.2h-1.2zM194.0 716.4h1.2v1.2h-1.2zM231.8 701.1h1.2v1.2h-1.2zM230.8 707.3h1.2v1.2h-1.2zM218.7 706.1h1.2v1.2h-1.2zM221.6 707.1h1.2v1.2h-1.2zM213.1 705.3h1.2v1.2h-1.2zM231.4 709.5h1.2v1.2h-1.2zM207.8 705.6h1.2v1.2h-1.2zM244.0 710.2h1.2v1.2h-1.2zM245.1 702.3h1.2v1.2h-1.2zM211.4 699.2h1.2v1.2h-1.2zM200.2 706.0h1.2v1.2h-1.2zM211.3 703.3h1.2v1.2h-1.2zM215.7 706.8h1.2v1.2h-1.2zM234.8 709.6h1.2v1.2h-1.2zM202.4 713.2h1.2v1.2h-1.2zM220.3 703.6h1.2v1.2h-1.2zM224.0 705.9h1.2v1.2h-1.2zM207.1 713.5h1.2v1.2h-1.2zM217.2 705.2h1.2v1.2h-1.2zM231.2 713.9h1.2v1.2h-1.2zM230.5 704.0h1.2v1.2h-1.2zM229.9 711.7h1.2v1.2h-1.2zM229.2 710.0h1.2v1.2h-1.2zM218.4 707.2h1.2v1.2h-1.2zM203.4 704.7h1.2v1.2h-1.2zM210.2 707.5h1.2v1.2h-1.2zM243.1 698.8h1.2v1.2h-1.2zM207.9 703.9h1.2v1.2h-1.2zM223.3 712.0h1.2v1.2h-1.2zM214.7 704.5h1.2v1.2h-1.2zM239.6 708.9h1.2v1.2h-1.2zM231.0 710.7h1.2v1.2h-1.2zM215.1 708.3h1.2v1.2h-1.2zM216.2 704.7h1.2v1.2h-1.2zM226.1 709.2h1.2v1.2h-1.2zM208.5 704.5h1.2v1.2h-1.2zM232.1 708.1h1.2v1.2h-1.2zM232.8 706.3h1.2v1.2h-1.2zM214.4 710.5h1.2v1.2h-1.2zM231.9 696.5h1.2v1.2h-1.2zM235.3 704.6h1.2v1.2h-1.2zM232.8 713.5h1.2v1.2h-1.2zM220.9 703.7h1.2v1.2h-1.2zM227.6 707.8h1.2v1.2h-1.2zM231.5 702.1h1.2v1.2h-1.2zM227.5 710.9h1.2v1.2h-1.2zM233.2 709.9h1.2v1.2h-1.2zM239.4 704.3h1.2v1.2h-1.2zM220.1 679.5h1.2v1.2h-1.2zM209.0 676.2h1.2v1.2h-1.2zM215.4 680.2h1.2v1.2h-1.2zM220.8 679.3h1.2v1.2h-1.2zM211.5 692.2h1.2v1.2h-1.2zM212.4 672.8h1.2v1.2h-1.2zM218.7 675.4h1.2v1.2h-1.2zM210.1 671.3h1.2v1.2h-1.2zM220.0 671.3h1.2v1.2h-1.2zM214.5 675.2h1.2v1.2h-1.2zM213.1 672.9h1.2v1.2h-1.2zM214.8 682.0h1.2v1.2h-1.2zM219.3 675.8h1.2v1.2h-1.2zM208.2 668.6h1.2v1.2h-1.2zM214.1 662.1h1.2v1.2h-1.2zM220.7 678.3h1.2v1.2h-1.2zM214.6 669.1h1.2v1.2h-1.2zM210.8 673.3h1.2v1.2h-1.2zM217.4 675.5h1.2v1.2h-1.2zM217.1 681.4h1.2v1.2h-1.2zM204.4 676.6h1.2v1.2h-1.2zM220.3 674.8h1.2v1.2h-1.2zM214.7 677.3h1.2v1.2h-1.2zM207.9 692.2h1.2v1.2h-1.2zM213.4 682.2h1.2v1.2h-1.2zM211.8 687.1h1.2v1.2h-1.2zM219.8 685.7h1.2v1.2h-1.2zM218.8 682.6h1.2v1.2h-1.2zM221.0 680.7h1.2v1.2h-1.2zM214.7 683.3h1.2v1.2h-1.2zM209.6 661.8h1.2v1.2h-1.2zM218.1 679.1h1.2v1.2h-1.2zM210.5 676.4h1.2v1.2h-1.2zM209.3 672.7h1.2v1.2h-1.2zM215.0 678.9h1.2v1.2h-1.2zM218.2 677.5h1.2v1.2h-1.2zM217.2 682.5h1.2v1.2h-1.2zM210.5 667.3h1.2v1.2h-1.2zM210.6 676.5h1.2v1.2h-1.2zM211.4 692.3h1.2v1.2h-1.2zM210.6 681.2h1.2v1.2h-1.2zM210.2 682.6h1.2v1.2h-1.2zM207.7 684.2h1.2v1.2h-1.2zM215.0 675.5h1.2v1.2h-1.2zM208.1 688.8h1.2v1.2h-1.2zM211.2 687.4h1.2v1.2h-1.2zM202.0 670.4h1.2v1.2h-1.2zM223.1 689.6h1.2v1.2h-1.2zM214.1 684.5h1.2v1.2h-1.2zM217.1 675.8h1.2v1.2h-1.2zM214.7 670.7h1.2v1.2h-1.2zM207.4 678.9h1.2v1.2h-1.2zM217.7 679.1h1.2v1.2h-1.2zM207.9 683.6h1.2v1.2h-1.2zM214.5 683.0h1.2v1.2h-1.2zM212.6 676.4h1.2v1.2h-1.2zM219.3 686.9h1.2v1.2h-1.2zM208.1 671.0h1.2v1.2h-1.2zM218.9 680.4h1.2v1.2h-1.2zM214.3 671.8h1.2v1.2h-1.2zM219.1 679.3h1.2v1.2h-1.2zM215.2 680.6h1.2v1.2h-1.2zM211.5 680.7h1.2v1.2h-1.2zM214.7 682.7h1.2v1.2h-1.2zM216.0 669.9h1.2v1.2h-1.2zM210.5 676.4h1.2v1.2h-1.2zM219.9 673.9h1.2v1.2h-1.2zM219.7 685.1h1.2v1.2h-1.2zM218.4 692.6h1.2v1.2h-1.2zM214.0 680.2h1.2v1.2h-1.2zM220.2 680.7h1.2v1.2h-1.2zM219.0 677.3h1.2v1.2h-1.2zM221.1 680.4h1.2v1.2h-1.2zM204.5 685.1h1.2v1.2h-1.2zM213.1 672.4h1.2v1.2h-1.2zM212.6 676.3h1.2v1.2h-1.2zM219.8 680.3h1.2v1.2h-1.2zM213.7 678.0h1.2v1.2h-1.2zM209.6 674.0h1.2v1.2h-1.2zM211.7 676.7h1.2v1.2h-1.2zM242.6 671.2h1.2v1.2h-1.2zM260.6 674.5h1.2v1.2h-1.2zM252.3 674.1h1.2v1.2h-1.2zM250.3 668.2h1.2v1.2h-1.2zM259.6 681.4h1.2v1.2h-1.2zM256.5 675.4h1.2v1.2h-1.2zM272.7 668.1h1.2v1.2h-1.2zM256.7 671.5h1.2v1.2h-1.2zM250.0 666.4h1.2v1.2h-1.2zM251.6 674.3h1.2v1.2h-1.2zM239.0 671.9h1.2v1.2h-1.2zM248.2 668.9h1.2v1.2h-1.2zM257.5 679.1h1.2v1.2h-1.2zM255.8 676.7h1.2v1.2h-1.2zM258.6 672.5h1.2v1.2h-1.2zM257.1 677.9h1.2v1.2h-1.2zM248.8 672.2h1.2v1.2h-1.2zM240.9 665.6h1.2v1.2h-1.2zM245.5 676.2h1.2v1.2h-1.2zM255.3 673.8h1.2v1.2h-1.2zM263.2 666.0h1.2v1.2h-1.2zM263.7 673.1h1.2v1.2h-1.2zM258.7 678.1h1.2v1.2h-1.2zM245.6 669.4h1.2v1.2h-1.2zM255.6 672.6h1.2v1.2h-1.2zM247.5 672.3h1.2v1.2h-1.2zM246.3 673.3h1.2v1.2h-1.2zM249.1 679.3h1.2v1.2h-1.2zM243.7 675.0h1.2v1.2h-1.2zM252.9 678.9h1.2v1.2h-1.2zM244.3 671.0h1.2v1.2h-1.2zM266.6 670.2h1.2v1.2h-1.2zM249.2 671.3h1.2v1.2h-1.2zM244.2 677.5h1.2v1.2h-1.2zM264.8 672.2h1.2v1.2h-1.2zM246.1 667.6h1.2v1.2h-1.2zM257.8 670.7h1.2v1.2h-1.2zM256.8 663.5h1.2v1.2h-1.2zM248.8 675.2h1.2v1.2h-1.2zM255.7 661.7h1.2v1.2h-1.2zM254.7 673.3h1.2v1.2h-1.2zM252.1 671.5h1.2v1.2h-1.2zM248.6 673.3h1.2v1.2h-1.2zM256.5 660.6h1.2v1.2h-1.2zM252.2 676.4h1.2v1.2h-1.2zM250.5 677.5h1.2v1.2h-1.2zM244.6 680.2h1.2v1.2h-1.2zM260.2 671.2h1.2v1.2h-1.2zM275.0 678.3h1.2v1.2h-1.2zM265.4 668.2h1.2v1.2h-1.2zM251.4 674.6h1.2v1.2h-1.2zM261.0 673.1h1.2v1.2h-1.2zM241.6 677.5h1.2v1.2h-1.2zM250.9 674.5h1.2v1.2h-1.2zM249.7 672.3h1.2v1.2h-1.2zM240.9 675.4h1.2v1.2h-1.2zM247.1 665.9h1.2v1.2h-1.2zM255.7 672.6h1.2v1.2h-1.2zM260.2 675.9h1.2v1.2h-1.2zM242.3 672.1h1.2v1.2h-1.2zM238.6 690.4h1.2v1.2h-1.2zM214.7 690.1h1.2v1.2h-1.2zM260.9 710.8h1.2v1.2h-1.2zM271.7 702.2h1.2v1.2h-1.2zM181.4 684.0h1.2v1.2h-1.2zM226.2 637.5h1.2v1.2h-1.2zM273.5 704.9h1.2v1.2h-1.2zM238.4 695.2h1.2v1.2h-1.2zM249.6 685.0h1.2v1.2h-1.2zM269.7 721.1h1.2v1.2h-1.2zM257.2 679.0h1.2v1.2h-1.2zM244.3 706.1h1.2v1.2h-1.2zM254.9 676.7h1.2v1.2h-1.2zM260.2 701.7h1.2v1.2h-1.2zM251.8 681.4h1.2v1.2h-1.2zM238.0 655.0h1.2v1.2h-1.2zM237.9 681.0h1.2v1.2h-1.2zM231.9 683.8h1.2v1.2h-1.2zM231.3 690.3h1.2v1.2h-1.2zM240.8 678.0h1.2v1.2h-1.2zM235.6 687.2h1.2v1.2h-1.2zM249.7 696.6h1.2v1.2h-1.2zM230.4 674.2h1.2v1.2h-1.2zM201.4 666.7h1.2v1.2h-1.2zM247.8 672.5h1.2v1.2h-1.2zM275.0 686.0h1.2v1.2h-1.2zM229.8 686.0h1.2v1.2h-1.2zM226.2 677.7h1.2v1.2h-1.2zM240.0 663.2h1.2v1.2h-1.2zM241.6 687.2h1.2v1.2h-1.2zM218.1 707.0h1.2v1.2h-1.2zM246.7 708.0h1.2v1.2h-1.2zM223.4 666.8h1.2v1.2h-1.2zM211.7 661.0h1.2v1.2h-1.2zM195.7 716.5h1.2v1.2h-1.2zM227.8 692.2h1.2v1.2h-1.2zM226.4 686.2h1.2v1.2h-1.2zM274.2 658.1h1.2v1.2h-1.2zM216.2 691.2h1.2v1.2h-1.2zM218.0 701.0h1.2v1.2h-1.2zM267.8 704.6h1.2v1.2h-1.2zM255.5 685.9h1.2v1.2h-1.2zM261.2 674.6h1.2v1.2h-1.2zM211.6 684.2h1.2v1.2h-1.2zM232.9 710.4h1.2v1.2h-1.2zM216.2 709.0h1.2v1.2h-1.2zM220.9 666.5h1.2v1.2h-1.2zM200.1 688.2h1.2v1.2h-1.2zM205.8 692.6h1.2v1.2h-1.2zM239.6 681.7h1.2v1.2h-1.2zM194.9 679.6h1.2v1.2h-1.2zM248.6 657.3h1.2v1.2h-1.2zM254.1 689.1h1.2v1.2h-1.2zM226.2 692.4h1.2v1.2h-1.2zM253.2 688.4h1.2v1.2h-1.2zM220.9 702.7h1.2v1.2h-1.2zM223.1 695.2h1.2v1.2h-1.2zM260.5 711.9h1.2v1.2h-1.2zM274.6 706.9h1.2v1.2h-1.2zM241.7 685.2h1.2v1.2h-1.2zM242.7 698.1h1.2v1.2h-1.2zM306.1 700.4h1.2v1.2h-1.2zM219.8 715.7h1.2v1.2h-1.2zM202.5 706.5h1.2v1.2h-1.2zM209.5 669.6h1.2v1.2h-1.2zM227.1 683.8h1.2v1.2h-1.2zM207.9 699.8h1.2v1.2h-1.2zM235.9 712.5h1.2v1.2h-1.2zM215.4 656.8h1.2v1.2h-1.2zM254.0 684.8h1.2v1.2h-1.2zM260.5 647.5h1.2v1.2h-1.2zM210.2 690.4h1.2v1.2h-1.2zM282.7 667.0h1.2v1.2h-1.2zM195.3 680.8h1.2v1.2h-1.2zM270.5 716.8h1.2v1.2h-1.2zM207.7 678.0h1.2v1.2h-1.2zM196.8 673.9h1.2v1.2h-1.2zM216.6 696.4h1.2v1.2h-1.2zM264.2 730.9h1.2v1.2h-1.2zM230.3 703.3h1.2v1.2h-1.2zM243.4 691.0h1.2v1.2h-1.2zM282.2 701.2h1.2v1.2h-1.2zM273.8 694.1h1.2v1.2h-1.2zM258.0 697.8h1.2v1.2h-1.2zM236.3 676.5h1.2v1.2h-1.2zM229.3 689.0h1.2v1.2h-1.2zM229.8 682.8h1.2v1.2h-1.2zM222.5 704.0h1.2v1.2h-1.2zM232.9 686.7h1.2v1.2h-1.2zM233.5 712.0h1.2v1.2h-1.2zM226.3 713.8h1.2v1.2h-1.2zM218.9 715.8h1.2v1.2h-1.2zM252.3 680.2h1.2v1.2h-1.2zM248.7 708.9h1.2v1.2h-1.2zM216.8 684.8h1.2v1.2h-1.2zM245.5 685.1h1.2v1.2h-1.2zM231.8 689.2h1.2v1.2h-1.2zM245.5 702.5h1.2v1.2h-1.2zM271.9 683.1h1.2v1.2h-1.2zM304.9 683.0h1.2v1.2h-1.2zM278.7 686.6h1.2v1.2h-1.2zM205.5 681.2h1.2v1.2h-1.2zM230.6 707.7h1.2v1.2h-1.2zM192.7 677.7h1.2v1.2h-1.2zM235.4 700.4h1.2v1.2h-1.2zM247.4 704.0h1.2v1.2h-1.2zM234.8 684.7h1.2v1.2h-1.2zM265.7 719.2h1.2v1.2h-1.2zM247.0 691.6h1.2v1.2h-1.2zM219.0 725.9h1.2v1.2h-1.2zM247.4 699.7h1.2v1.2h-1.2zM202.1 699.5h1.2v1.2h-1.2zM293.4 686.0h1.2v1.2h-1.2zM233.8 715.9h1.2v1.2h-1.2zM234.2 703.7h1.2v1.2h-1.2zM282.4 668.3h1.2v1.2h-1.2zM219.6 700.8h1.2v1.2h-1.2zM241.1 689.6h1.2v1.2h-1.2zM234.6 691.1h1.2v1.2h-1.2zM246.5 680.5h1.2v1.2h-1.2zM232.1 692.9h1.2v1.2h-1.2zM213.8 696.7h1.2v1.2h-1.2zM188.7 700.1h1.2v1.2h-1.2zM235.7 668.2h1.2v1.2h-1.2zM268.9 668.2h1.2v1.2h-1.2zM285.2 676.0h1.2v1.2h-1.2zM265.9 687.7h1.2v1.2h-1.2zM275.0 685.0h1.2v1.2h-1.2zM261.8 683.2h1.2v1.2h-1.2zM195.9 695.7h1.2v1.2h-1.2zM249.2 695.9h1.2v1.2h-1.2zM276.3 675.9h1.2v1.2h-1.2zM206.0 693.4h1.2v1.2h-1.2zM222.7 687.0h1.2v1.2h-1.2zM238.3 674.5h1.2v1.2h-1.2zM263.2 686.8h1.2v1.2h-1.2zM279.0 693.3h1.2v1.2h-1.2zM262.4 683.8h1.2v1.2h-1.2zM223.5 679.6h1.2v1.2h-1.2zM218.5 696.7h1.2v1.2h-1.2z" fill="#c98c5c" opacity="0.27"/>
<rect x="257.8" y="663.0" width="14.2" height="32" fill="#f5f5f7" stroke="#b4b4ba" stroke-width="0.45"/>
<path d="M262.3 664.5 C270.3 664.0 271.0 672.6 270.2 679.0 C269.6 687.0 270.8 693.5 265.8 694.0 C260.3 694.0 259.3 682.2 260.0 674.2 C260.3 667.8 260.8 664.6 262.3 664.5 Z" fill="#eee4de"/>
<path d="M263.3 679.6 h3 v-2.5" fill="none" stroke="#c05060" stroke-width="0.45"/>
</g>
<clipPath id="ct23"><rect x="275.2" y="662.1" width="69.8" height="53.4"/></clipPath>
<g clip-path="url(#ct23)">
<rect x="275.2" y="662.1" width="69.8" height="53.4" fill="#e8eaf1"/>
<rect x="275.2" y="662.1" width="69.8" height="53.4" fill="#fff" filter="url(#fN)"/>
<ellipse cx="299.6" cy="680.8" rx="24.4" ry="18.7" fill="#d6a47c" opacity="0.26" filter="url(#fB)"/>
<ellipse cx="313.6" cy="694.1" rx="20.9" ry="13.3" fill="#d6a47c" opacity="0.2" filter="url(#fB)"/>
<path d="M294.1 669.5h1.2v1.2h-1.2zM276.7 671.3h1.2v1.2h-1.2zM273.8 671.1h1.2v1.2h-1.2zM277.0 683.8h1.2v1.2h-1.2zM280.7 673.5h1.2v1.2h-1.2zM291.4 678.4h1.2v1.2h-1.2zM297.1 684.2h1.2v1.2h-1.2zM299.4 675.4h1.2v1.2h-1.2zM305.6 681.1h1.2v1.2h-1.2zM285.3 690.1h1.2v1.2h-1.2zM280.4 681.9h1.2v1.2h-1.2zM305.7 679.1h1.2v1.2h-1.2zM296.3 679.1h1.2v1.2h-1.2zM299.6 679.9h1.2v1.2h-1.2zM292.8 683.8h1.2v1.2h-1.2zM273.0 680.2h1.2v1.2h-1.2zM289.6 693.8h1.2v1.2h-1.2zM295.7 672.9h1.2v1.2h-1.2zM299.5 675.1h1.2v1.2h-1.2zM280.4 675.9h1.2v1.2h-1.2zM297.9 687.6h1.2v1.2h-1.2zM303.6 680.0h1.2v1.2h-1.2zM291.0 679.8h1.2v1.2h-1.2zM305.2 677.2h1.2v1.2h-1.2zM304.7 671.9h1.2v1.2h-1.2zM292.6 684.3h1.2v1.2h-1.2zM300.0 679.8h1.2v1.2h-1.2zM287.4 663.9h1.2v1.2h-1.2zM288.1 671.4h1.2v1.2h-1.2zM288.5 690.7h1.2v1.2h-1.2zM284.7 684.9h1.2v1.2h-1.2zM292.5 669.4h1.2v1.2h-1.2zM293.8 684.1h1.2v1.2h-1.2zM280.4 669.0h1.2v1.2h-1.2zM288.7 683.9h1.2v1.2h-1.2zM286.5 681.5h1.2v1.2h-1.2zM297.4 678.3h1.2v1.2h-1.2zM297.3 688.2h1.2v1.2h-1.2zM290.7 680.7h1.2v1.2h-1.2zM281.6 672.4h1.2v1.2h-1.2zM291.7 684.6h1.2v1.2h-1.2zM285.7 667.2h1.2v1.2h-1.2zM302.3 696.9h1.2v1.2h-1.2zM266.0 669.8h1.2v1.2h-1.2zM293.9 682.0h1.2v1.2h-1.2zM282.9 680.8h1.2v1.2h-1.2zM304.1 676.0h1.2v1.2h-1.2zM300.2 679.2h1.2v1.2h-1.2zM283.0 673.3h1.2v1.2h-1.2zM286.4 688.6h1.2v1.2h-1.2zM304.6 680.1h1.2v1.2h-1.2zM276.5 674.3h1.2v1.2h-1.2zM288.5 663.0h1.2v1.2h-1.2zM292.5 680.4h1.2v1.2h-1.2zM279.0 674.8h1.2v1.2h-1.2zM288.0 692.7h1.2v1.2h-1.2zM299.5 684.2h1.2v1.2h-1.2zM293.6 668.1h1.2v1.2h-1.2zM302.2 672.8h1.2v1.2h-1.2zM272.8 683.9h1.2v1.2h-1.2zM289.1 678.1h1.2v1.2h-1.2zM298.0 676.3h1.2v1.2h-1.2zM296.9 688.3h1.2v1.2h-1.2zM289.3 675.4h1.2v1.2h-1.2zM292.9 683.2h1.2v1.2h-1.2zM288.5 678.8h1.2v1.2h-1.2zM285.6 677.6h1.2v1.2h-1.2zM298.3 671.7h1.2v1.2h-1.2zM290.8 666.7h1.2v1.2h-1.2zM285.4 678.8h1.2v1.2h-1.2zM298.1 670.1h1.2v1.2h-1.2zM291.6 670.9h1.2v1.2h-1.2zM295.9 680.2h1.2v1.2h-1.2zM297.3 676.5h1.2v1.2h-1.2zM278.0 673.8h1.2v1.2h-1.2zM278.8 672.8h1.2v1.2h-1.2zM292.1 686.6h1.2v1.2h-1.2zM286.0 672.1h1.2v1.2h-1.2zM294.8 662.0h1.2v1.2h-1.2zM313.2 666.1h1.2v1.2h-1.2zM303.2 685.8h1.2v1.2h-1.2zM302.6 677.3h1.2v1.2h-1.2zM300.2 675.5h1.2v1.2h-1.2zM302.6 673.0h1.2v1.2h-1.2zM284.2 681.1h1.2v1.2h-1.2zM288.0 683.4h1.2v1.2h-1.2zM283.8 680.2h1.2v1.2h-1.2zM282.5 677.3h1.2v1.2h-1.2zM314.8 669.7h1.2v1.2h-1.2zM280.0 665.6h1.2v1.2h-1.2zM290.3 690.8h1.2v1.2h-1.2zM288.0 685.4h1.2v1.2h-1.2zM290.8 673.2h1.2v1.2h-1.2zM313.4 686.6h1.2v1.2h-1.2zM273.7 670.5h1.2v1.2h-1.2zM296.9 683.2h1.2v1.2h-1.2zM290.4 680.6h1.2v1.2h-1.2zM298.2 675.4h1.2v1.2h-1.2zM302.9 671.5h1.2v1.2h-1.2zM300.4 685.3h1.2v1.2h-1.2zM294.8 675.5h1.2v1.2h-1.2zM292.5 660.9h1.2v1.2h-1.2zM295.3 667.1h1.2v1.2h-1.2zM271.9 684.1h1.2v1.2h-1.2zM283.2 680.9h1.2v1.2h-1.2zM293.1 664.4h1.2v1.2h-1.2zM283.4 676.0h1.2v1.2h-1.2zM297.5 678.7h1.2v1.2h-1.2zM279.6 674.0h1.2v1.2h-1.2zM293.7 668.3h1.2v1.2h-1.2zM288.1 673.9h1.2v1.2h-1.2zM270.8 691.5h1.2v1.2h-1.2zM301.7 674.5h1.2v1.2h-1.2zM302.4 670.0h1.2v1.2h-1.2zM308.4 675.2h1.2v1.2h-1.2zM294.1 673.6h1.2v1.2h-1.2zM293.6 680.7h1.2v1.2h-1.2zM293.0 671.7h1.2v1.2h-1.2zM300.5 682.5h1.2v1.2h-1.2zM292.7 686.3h1.2v1.2h-1.2zM285.1 688.1h1.2v1.2h-1.2zM291.0 689.9h1.2v1.2h-1.2zM288.1 676.2h1.2v1.2h-1.2zM294.8 686.6h1.2v1.2h-1.2zM307.5 674.6h1.2v1.2h-1.2zM285.2 684.1h1.2v1.2h-1.2zM305.4 683.6h1.2v1.2h-1.2zM289.3 688.0h1.2v1.2h-1.2zM292.4 679.4h1.2v1.2h-1.2zM299.1 673.7h1.2v1.2h-1.2zM269.3 679.8h1.2v1.2h-1.2zM300.0 681.5h1.2v1.2h-1.2zM298.3 679.4h1.2v1.2h-1.2zM303.4 679.0h1.2v1.2h-1.2zM308.0 678.5h1.2v1.2h-1.2zM300.9 673.9h1.2v1.2h-1.2zM295.8 681.4h1.2v1.2h-1.2zM294.1 690.1h1.2v1.2h-1.2zM293.1 686.8h1.2v1.2h-1.2zM296.3 686.6h1.2v1.2h-1.2zM283.4 675.3h1.2v1.2h-1.2zM302.6 671.8h1.2v1.2h-1.2zM296.7 682.5h1.2v1.2h-1.2zM294.7 681.5h1.2v1.2h-1.2zM298.2 676.3h1.2v1.2h-1.2zM296.9 674.1h1.2v1.2h-1.2zM288.0 665.8h1.2v1.2h-1.2zM291.6 665.0h1.2v1.2h-1.2zM293.0 679.8h1.2v1.2h-1.2zM281.4 678.7h1.2v1.2h-1.2zM295.6 675.4h1.2v1.2h-1.2zM283.3 677.3h1.2v1.2h-1.2zM296.9 685.3h1.2v1.2h-1.2zM312.6 662.8h1.2v1.2h-1.2zM296.2 681.5h1.2v1.2h-1.2zM286.1 680.6h1.2v1.2h-1.2zM314.3 679.0h1.2v1.2h-1.2zM306.7 686.4h1.2v1.2h-1.2zM288.1 660.2h1.2v1.2h-1.2zM304.6 690.1h1.2v1.2h-1.2zM274.5 676.6h1.2v1.2h-1.2zM285.5 679.7h1.2v1.2h-1.2zM293.3 687.0h1.2v1.2h-1.2zM286.6 693.1h1.2v1.2h-1.2zM275.0 679.8h1.2v1.2h-1.2zM320.3 677.4h1.2v1.2h-1.2zM299.2 674.5h1.2v1.2h-1.2zM326.8 685.1h1.2v1.2h-1.2zM289.0 663.3h1.2v1.2h-1.2zM294.9 683.8h1.2v1.2h-1.2zM271.6 674.3h1.2v1.2h-1.2zM298.4 659.5h1.2v1.2h-1.2zM290.7 665.8h1.2v1.2h-1.2zM278.8 681.3h1.2v1.2h-1.2zM304.4 687.2h1.2v1.2h-1.2zM285.9 682.1h1.2v1.2h-1.2zM274.4 666.7h1.2v1.2h-1.2zM298.3 675.0h1.2v1.2h-1.2zM282.1 663.6h1.2v1.2h-1.2zM290.2 695.4h1.2v1.2h-1.2zM271.8 670.0h1.2v1.2h-1.2zM304.3 663.3h1.2v1.2h-1.2zM286.2 678.7h1.2v1.2h-1.2zM304.4 677.6h1.2v1.2h-1.2zM311.5 677.9h1.2v1.2h-1.2zM291.5 681.6h1.2v1.2h-1.2zM296.3 666.5h1.2v1.2h-1.2zM282.8 676.3h1.2v1.2h-1.2zM296.2 668.6h1.2v1.2h-1.2zM285.3 672.4h1.2v1.2h-1.2zM296.2 674.8h1.2v1.2h-1.2zM298.9 681.1h1.2v1.2h-1.2zM283.2 675.8h1.2v1.2h-1.2zM279.8 679.0h1.2v1.2h-1.2zM301.1 670.5h1.2v1.2h-1.2zM274.3 682.1h1.2v1.2h-1.2zM289.7 677.9h1.2v1.2h-1.2zM297.4 681.1h1.2v1.2h-1.2zM302.3 674.6h1.2v1.2h-1.2zM269.8 674.3h1.2v1.2h-1.2zM289.5 674.9h1.2v1.2h-1.2zM296.7 676.2h1.2v1.2h-1.2zM306.1 673.2h1.2v1.2h-1.2zM292.6 675.3h1.2v1.2h-1.2zM314.6 670.7h1.2v1.2h-1.2zM282.3 675.2h1.2v1.2h-1.2zM300.6 678.2h1.2v1.2h-1.2zM290.8 666.7h1.2v1.2h-1.2zM271.1 676.5h1.2v1.2h-1.2zM290.2 691.8h1.2v1.2h-1.2zM296.5 681.4h1.2v1.2h-1.2zM302.7 671.2h1.2v1.2h-1.2zM279.9 675.3h1.2v1.2h-1.2zM308.1 685.8h1.2v1.2h-1.2zM286.6 668.4h1.2v1.2h-1.2zM302.3 686.7h1.2v1.2h-1.2zM281.2 690.7h1.2v1.2h-1.2zM284.6 684.0h1.2v1.2h-1.2zM290.5 675.6h1.2v1.2h-1.2zM286.3 683.5h1.2v1.2h-1.2zM299.1 684.4h1.2v1.2h-1.2zM289.7 671.5h1.2v1.2h-1.2zM315.0 691.5h1.2v1.2h-1.2zM290.6 669.2h1.2v1.2h-1.2zM308.2 679.2h1.2v1.2h-1.2zM293.2 684.8h1.2v1.2h-1.2zM296.3 679.0h1.2v1.2h-1.2zM313.3 663.4h1.2v1.2h-1.2zM299.4 670.4h1.2v1.2h-1.2zM293.4 676.8h1.2v1.2h-1.2zM295.4 659.2h1.2v1.2h-1.2zM299.9 696.4h1.2v1.2h-1.2zM288.4 685.2h1.2v1.2h-1.2zM299.2 680.5h1.2v1.2h-1.2zM287.4 683.1h1.2v1.2h-1.2zM295.5 689.5h1.2v1.2h-1.2zM301.3 672.5h1.2v1.2h-1.2zM262.2 690.0h1.2v1.2h-1.2zM297.7 679.5h1.2v1.2h-1.2zM286.3 697.8h1.2v1.2h-1.2zM306.6 678.9h1.2v1.2h-1.2zM288.8 682.6h1.2v1.2h-1.2zM306.8 682.2h1.2v1.2h-1.2zM302.5 680.2h1.2v1.2h-1.2zM296.4 668.2h1.2v1.2h-1.2zM293.9 678.5h1.2v1.2h-1.2zM291.9 676.2h1.2v1.2h-1.2zM295.9 673.6h1.2v1.2h-1.2zM290.6 667.8h1.2v1.2h-1.2zM316.8 671.1h1.2v1.2h-1.2zM280.1 673.9h1.2v1.2h-1.2zM288.3 669.7h1.2v1.2h-1.2zM267.2 691.1h1.2v1.2h-1.2zM303.3 675.1h1.2v1.2h-1.2zM298.5 669.3h1.2v1.2h-1.2zM275.7 680.8h1.2v1.2h-1.2zM298.7 672.7h1.2v1.2h-1.2zM292.6 653.8h1.2v1.2h-1.2zM291.3 686.5h1.2v1.2h-1.2zM294.4 679.6h1.2v1.2h-1.2zM298.7 661.6h1.2v1.2h-1.2zM279.2 668.1h1.2v1.2h-1.2zM295.2 673.2h1.2v1.2h-1.2zM273.0 685.2h1.2v1.2h-1.2zM290.7 686.0h1.2v1.2h-1.2zM313.6 665.0h1.2v1.2h-1.2zM279.3 686.7h1.2v1.2h-1.2zM307.4 681.3h1.2v1.2h-1.2zM296.4 683.6h1.2v1.2h-1.2zM299.5 668.0h1.2v1.2h-1.2zM300.4 686.0h1.2v1.2h-1.2zM288.4 670.9h1.2v1.2h-1.2zM287.5 673.5h1.2v1.2h-1.2zM298.2 684.3h1.2v1.2h-1.2zM292.9 675.7h1.2v1.2h-1.2zM274.2 674.7h1.2v1.2h-1.2zM282.3 673.7h1.2v1.2h-1.2zM296.2 679.4h1.2v1.2h-1.2zM329.2 671.2h1.2v1.2h-1.2zM287.1 669.0h1.2v1.2h-1.2zM290.0 675.8h1.2v1.2h-1.2zM303.1 662.6h1.2v1.2h-1.2zM302.1 683.2h1.2v1.2h-1.2zM287.2 672.7h1.2v1.2h-1.2zM294.7 682.3h1.2v1.2h-1.2zM291.0 676.9h1.2v1.2h-1.2zM292.8 669.5h1.2v1.2h-1.2zM295.5 682.7h1.2v1.2h-1.2zM293.2 669.0h1.2v1.2h-1.2zM292.7 677.2h1.2v1.2h-1.2zM295.9 674.8h1.2v1.2h-1.2zM301.3 686.7h1.2v1.2h-1.2zM301.2 680.0h1.2v1.2h-1.2zM305.3 677.8h1.2v1.2h-1.2zM290.9 666.7h1.2v1.2h-1.2zM292.9 687.8h1.2v1.2h-1.2zM282.8 684.3h1.2v1.2h-1.2zM279.5 680.5h1.2v1.2h-1.2zM311.6 678.5h1.2v1.2h-1.2zM280.6 680.4h1.2v1.2h-1.2zM291.2 684.4h1.2v1.2h-1.2zM287.3 664.3h1.2v1.2h-1.2zM287.7 682.8h1.2v1.2h-1.2zM303.3 680.3h1.2v1.2h-1.2zM292.9 683.5h1.2v1.2h-1.2zM290.6 674.5h1.2v1.2h-1.2zM295.0 686.8h1.2v1.2h-1.2zM287.5 682.0h1.2v1.2h-1.2zM286.1 672.2h1.2v1.2h-1.2zM294.5 667.5h1.2v1.2h-1.2zM283.9 668.6h1.2v1.2h-1.2zM286.5 670.8h1.2v1.2h-1.2zM316.7 682.9h1.2v1.2h-1.2zM293.4 667.4h1.2v1.2h-1.2zM268.2 681.6h1.2v1.2h-1.2zM286.2 686.4h1.2v1.2h-1.2zM288.6 667.7h1.2v1.2h-1.2zM286.1 665.9h1.2v1.2h-1.2zM278.2 683.7h1.2v1.2h-1.2zM287.2 683.6h1.2v1.2h-1.2zM286.9 676.2h1.2v1.2h-1.2zM287.0 673.7h1.2v1.2h-1.2zM285.9 690.0h1.2v1.2h-1.2zM292.1 662.6h1.2v1.2h-1.2zM310.1 688.1h1.2v1.2h-1.2zM304.2 677.2h1.2v1.2h-1.2zM291.1 674.3h1.2v1.2h-1.2zM293.9 681.8h1.2v1.2h-1.2zM292.6 671.5h1.2v1.2h-1.2zM282.8 691.3h1.2v1.2h-1.2zM310.0 668.2h1.2v1.2h-1.2zM286.1 677.7h1.2v1.2h-1.2zM298.7 677.1h1.2v1.2h-1.2zM295.1 680.9h1.2v1.2h-1.2zM304.3 667.7h1.2v1.2h-1.2zM303.9 681.5h1.2v1.2h-1.2zM298.2 666.0h1.2v1.2h-1.2zM290.3 676.0h1.2v1.2h-1.2zM299.2 683.5h1.2v1.2h-1.2zM299.7 667.7h1.2v1.2h-1.2zM305.5 678.6h1.2v1.2h-1.2zM302.2 678.0h1.2v1.2h-1.2zM285.5 698.9h1.2v1.2h-1.2zM299.4 684.1h1.2v1.2h-1.2zM288.0 676.3h1.2v1.2h-1.2zM304.0 681.6h1.2v1.2h-1.2zM310.5 687.6h1.2v1.2h-1.2zM281.7 665.7h1.2v1.2h-1.2zM304.5 682.8h1.2v1.2h-1.2zM290.1 675.7h1.2v1.2h-1.2zM287.0 692.3h1.2v1.2h-1.2zM291.0 667.0h1.2v1.2h-1.2zM301.9 677.3h1.2v1.2h-1.2zM296.3 675.0h1.2v1.2h-1.2zM292.3 663.0h1.2v1.2h-1.2zM298.1 672.5h1.2v1.2h-1.2zM288.8 680.5h1.2v1.2h-1.2zM305.7 660.8h1.2v1.2h-1.2zM291.3 682.4h1.2v1.2h-1.2zM303.0 670.7h1.2v1.2h-1.2zM321.8 691.9h1.2v1.2h-1.2zM328.0 683.7h1.2v1.2h-1.2zM316.6 684.6h1.2v1.2h-1.2zM330.0 697.4h1.2v1.2h-1.2zM314.1 687.6h1.2v1.2h-1.2zM320.8 681.5h1.2v1.2h-1.2zM317.4 695.6h1.2v1.2h-1.2zM326.4 683.2h1.2v1.2h-1.2zM312.0 687.7h1.2v1.2h-1.2zM303.7 691.2h1.2v1.2h-1.2zM319.8 678.0h1.2v1.2h-1.2zM316.2 683.4h1.2v1.2h-1.2zM315.8 681.7h1.2v1.2h-1.2zM332.3 681.0h1.2v1.2h-1.2zM326.2 690.3h1.2v1.2h-1.2zM333.1 688.2h1.2v1.2h-1.2zM318.6 689.2h1.2v1.2h-1.2zM299.6 707.9h1.2v1.2h-1.2zM316.4 686.1h1.2v1.2h-1.2zM307.3 687.6h1.2v1.2h-1.2zM334.7 682.6h1.2v1.2h-1.2zM323.0 696.9h1.2v1.2h-1.2zM328.0 685.4h1.2v1.2h-1.2zM301.1 691.9h1.2v1.2h-1.2zM324.3 686.1h1.2v1.2h-1.2zM314.3 702.7h1.2v1.2h-1.2zM302.8 684.6h1.2v1.2h-1.2zM312.5 676.2h1.2v1.2h-1.2zM311.7 682.3h1.2v1.2h-1.2zM331.0 674.7h1.2v1.2h-1.2zM304.9 690.7h1.2v1.2h-1.2zM303.1 672.6h1.2v1.2h-1.2zM312.4 679.0h1.2v1.2h-1.2zM308.9 687.4h1.2v1.2h-1.2zM323.1 683.5h1.2v1.2h-1.2zM315.8 694.4h1.2v1.2h-1.2zM317.1 694.5h1.2v1.2h-1.2zM312.7 692.6h1.2v1.2h-1.2zM331.3 677.6h1.2v1.2h-1.2zM348.4 686.1h1.2v1.2h-1.2zM315.2 687.4h1.2v1.2h-1.2zM323.2 679.0h1.2v1.2h-1.2zM319.0 684.0h1.2v1.2h-1.2zM332.8 674.9h1.2v1.2h-1.2zM325.1 686.1h1.2v1.2h-1.2zM311.2 689.7h1.2v1.2h-1.2zM316.2 689.0h1.2v1.2h-1.2zM321.0 698.3h1.2v1.2h-1.2zM314.6 702.0h1.2v1.2h-1.2zM291.8 703.2h1.2v1.2h-1.2zM330.7 701.1h1.2v1.2h-1.2zM320.6 690.9h1.2v1.2h-1.2zM308.5 699.3h1.2v1.2h-1.2zM307.1 682.3h1.2v1.2h-1.2zM318.6 690.5h1.2v1.2h-1.2zM322.0 679.4h1.2v1.2h-1.2zM315.2 692.6h1.2v1.2h-1.2zM330.4 694.8h1.2v1.2h-1.2zM322.7 686.6h1.2v1.2h-1.2zM313.2 684.6h1.2v1.2h-1.2zM317.7 692.9h1.2v1.2h-1.2zM313.6 705.1h1.2v1.2h-1.2zM308.7 695.2h1.2v1.2h-1.2zM316.6 687.5h1.2v1.2h-1.2zM314.9 700.9h1.2v1.2h-1.2zM315.7 693.1h1.2v1.2h-1.2zM319.8 694.6h1.2v1.2h-1.2zM324.4 701.8h1.2v1.2h-1.2zM311.4 682.1h1.2v1.2h-1.2zM335.4 698.8h1.2v1.2h-1.2zM319.3 686.4h1.2v1.2h-1.2zM321.1 699.1h1.2v1.2h-1.2zM311.0 700.2h1.2v1.2h-1.2zM318.1 685.8h1.2v1.2h-1.2zM314.7 671.9h1.2v1.2h-1.2zM321.8 678.1h1.2v1.2h-1.2zM313.1 681.5h1.2v1.2h-1.2zM320.9 694.4h1.2v1.2h-1.2zM319.0 690.2h1.2v1.2h-1.2zM322.7 701.5h1.2v1.2h-1.2zM324.3 701.2h1.2v1.2h-1.2zM318.0 691.5h1.2v1.2h-1.2zM312.2 693.4h1.2v1.2h-1.2zM310.2 692.4h1.2v1.2h-1.2zM312.4 685.8h1.2v1.2h-1.2zM330.7 689.8h1.2v1.2h-1.2zM326.5 686.7h1.2v1.2h-1.2zM300.2 700.4h1.2v1.2h-1.2zM316.9 683.5h1.2v1.2h-1.2zM328.0 679.6h1.2v1.2h-1.2zM311.3 697.8h1.2v1.2h-1.2zM311.8 697.7h1.2v1.2h-1.2zM315.6 687.0h1.2v1.2h-1.2zM319.3 684.7h1.2v1.2h-1.2zM329.2 697.4h1.2v1.2h-1.2zM319.3 693.5h1.2v1.2h-1.2zM324.0 702.1h1.2v1.2h-1.2zM303.0 696.8h1.2v1.2h-1.2zM327.7 686.2h1.2v1.2h-1.2zM318.8 685.9h1.2v1.2h-1.2zM330.8 679.5h1.2v1.2h-1.2zM324.6 698.9h1.2v1.2h-1.2zM324.3 684.8h1.2v1.2h-1.2zM314.1 671.8h1.2v1.2h-1.2zM308.5 697.4h1.2v1.2h-1.2zM309.3 675.6h1.2v1.2h-1.2zM316.2 676.8h1.2v1.2h-1.2zM323.2 681.7h1.2v1.2h-1.2zM328.0 687.7h1.2v1.2h-1.2zM304.7 682.5h1.2v1.2h-1.2zM312.3 681.9h1.2v1.2h-1.2zM330.8 680.7h1.2v1.2h-1.2zM322.2 684.0h1.2v1.2h-1.2zM324.5 677.2h1.2v1.2h-1.2zM303.2 692.7h1.2v1.2h-1.2zM332.7 677.6h1.2v1.2h-1.2zM315.6 684.6h1.2v1.2h-1.2zM309.4 696.4h1.2v1.2h-1.2zM319.1 677.6h1.2v1.2h-1.2zM316.5 699.3h1.2v1.2h-1.2zM311.7 684.5h1.2v1.2h-1.2zM310.5 690.0h1.2v1.2h-1.2zM313.2 695.8h1.2v1.2h-1.2zM310.5 677.0h1.2v1.2h-1.2zM323.1 663.3h1.2v1.2h-1.2zM309.3 690.9h1.2v1.2h-1.2zM321.1 684.1h1.2v1.2h-1.2zM314.3 692.8h1.2v1.2h-1.2zM355.4 682.2h1.2v1.2h-1.2zM316.9 685.0h1.2v1.2h-1.2zM324.1 688.7h1.2v1.2h-1.2zM324.1 701.7h1.2v1.2h-1.2zM316.0 686.4h1.2v1.2h-1.2zM322.4 705.4h1.2v1.2h-1.2zM315.1 702.2h1.2v1.2h-1.2zM330.3 666.8h1.2v1.2h-1.2zM308.9 680.8h1.2v1.2h-1.2zM322.6 699.3h1.2v1.2h-1.2zM319.2 690.0h1.2v1.2h-1.2zM340.0 691.5h1.2v1.2h-1.2zM339.9 681.5h1.2v1.2h-1.2zM334.9 684.6h1.2v1.2h-1.2zM294.7 682.1h1.2v1.2h-1.2zM314.0 688.3h1.2v1.2h-1.2zM326.1 694.2h1.2v1.2h-1.2zM323.8 682.7h1.2v1.2h-1.2zM336.3 698.3h1.2v1.2h-1.2zM319.0 684.1h1.2v1.2h-1.2zM318.2 686.9h1.2v1.2h-1.2zM311.8 688.6h1.2v1.2h-1.2zM312.1 693.8h1.2v1.2h-1.2zM312.2 692.6h1.2v1.2h-1.2zM321.8 690.0h1.2v1.2h-1.2zM323.8 680.5h1.2v1.2h-1.2zM344.1 683.1h1.2v1.2h-1.2zM325.9 688.9h1.2v1.2h-1.2zM314.4 702.6h1.2v1.2h-1.2zM329.5 686.5h1.2v1.2h-1.2zM324.2 694.2h1.2v1.2h-1.2zM334.3 696.8h1.2v1.2h-1.2zM317.0 686.7h1.2v1.2h-1.2zM307.2 690.8h1.2v1.2h-1.2zM327.2 685.6h1.2v1.2h-1.2zM325.2 689.7h1.2v1.2h-1.2zM314.1 678.9h1.2v1.2h-1.2zM329.6 709.0h1.2v1.2h-1.2zM324.0 680.1h1.2v1.2h-1.2zM308.4 690.7h1.2v1.2h-1.2zM325.1 700.8h1.2v1.2h-1.2zM294.8 703.5h1.2v1.2h-1.2zM320.3 689.8h1.2v1.2h-1.2zM322.5 685.9h1.2v1.2h-1.2zM315.8 697.1h1.2v1.2h-1.2zM301.5 687.8h1.2v1.2h-1.2zM324.2 675.5h1.2v1.2h-1.2zM317.1 701.0h1.2v1.2h-1.2zM322.3 694.4h1.2v1.2h-1.2zM325.6 690.5h1.2v1.2h-1.2zM322.2 682.2h1.2v1.2h-1.2zM316.6 703.5h1.2v1.2h-1.2zM306.5 687.4h1.2v1.2h-1.2zM306.1 684.4h1.2v1.2h-1.2zM311.0 678.9h1.2v1.2h-1.2zM321.0 681.2h1.2v1.2h-1.2zM323.9 703.2h1.2v1.2h-1.2zM293.3 687.4h1.2v1.2h-1.2zM297.9 687.7h1.2v1.2h-1.2zM322.3 690.4h1.2v1.2h-1.2zM330.6 690.0h1.2v1.2h-1.2zM301.5 700.8h1.2v1.2h-1.2zM309.2 688.0h1.2v1.2h-1.2zM321.8 681.7h1.2v1.2h-1.2zM319.5 700.7h1.2v1.2h-1.2zM301.9 675.4h1.2v1.2h-1.2zM314.2 687.4h1.2v1.2h-1.2zM305.9 670.3h1.2v1.2h-1.2zM327.7 691.9h1.2v1.2h-1.2zM305.5 693.3h1.2v1.2h-1.2zM318.0 690.0h1.2v1.2h-1.2zM305.3 687.0h1.2v1.2h-1.2zM323.4 674.7h1.2v1.2h-1.2zM308.2 696.5h1.2v1.2h-1.2zM338.5 694.0h1.2v1.2h-1.2zM317.9 680.1h1.2v1.2h-1.2zM314.6 686.7h1.2v1.2h-1.2zM323.0 686.7h1.2v1.2h-1.2zM343.3 699.4h1.2v1.2h-1.2zM296.7 679.4h1.2v1.2h-1.2zM318.6 696.6h1.2v1.2h-1.2zM322.6 666.7h1.2v1.2h-1.2zM302.2 699.6h1.2v1.2h-1.2zM324.5 709.3h1.2v1.2h-1.2zM326.6 692.5h1.2v1.2h-1.2zM333.9 685.2h1.2v1.2h-1.2zM313.2 680.6h1.2v1.2h-1.2zM321.1 692.3h1.2v1.2h-1.2zM328.0 700.4h1.2v1.2h-1.2zM324.8 698.6h1.2v1.2h-1.2zM316.1 681.0h1.2v1.2h-1.2zM325.9 696.9h1.2v1.2h-1.2zM332.0 687.4h1.2v1.2h-1.2zM313.9 685.8h1.2v1.2h-1.2zM322.2 688.4h1.2v1.2h-1.2zM316.7 690.8h1.2v1.2h-1.2zM315.7 691.5h1.2v1.2h-1.2zM312.6 676.4h1.2v1.2h-1.2zM315.5 703.9h1.2v1.2h-1.2zM310.5 696.1h1.2v1.2h-1.2zM332.1 684.4h1.2v1.2h-1.2zM321.2 670.5h1.2v1.2h-1.2zM324.3 701.1h1.2v1.2h-1.2zM320.4 672.8h1.2v1.2h-1.2zM312.8 682.8h1.2v1.2h-1.2zM319.7 691.1h1.2v1.2h-1.2zM314.4 686.3h1.2v1.2h-1.2zM310.4 693.4h1.2v1.2h-1.2zM320.6 691.6h1.2v1.2h-1.2zM313.5 692.7h1.2v1.2h-1.2zM315.6 691.2h1.2v1.2h-1.2zM317.0 683.5h1.2v1.2h-1.2zM307.6 673.8h1.2v1.2h-1.2zM304.9 692.5h1.2v1.2h-1.2zM351.3 675.6h1.2v1.2h-1.2zM310.4 688.7h1.2v1.2h-1.2zM354.4 687.1h1.2v1.2h-1.2zM306.9 692.2h1.2v1.2h-1.2zM339.5 666.3h1.2v1.2h-1.2zM306.8 698.7h1.2v1.2h-1.2zM306.9 687.9h1.2v1.2h-1.2zM312.2 694.9h1.2v1.2h-1.2zM303.9 691.3h1.2v1.2h-1.2zM320.8 693.3h1.2v1.2h-1.2zM322.9 690.0h1.2v1.2h-1.2zM300.7 686.2h1.2v1.2h-1.2zM309.0 693.0h1.2v1.2h-1.2zM316.2 690.0h1.2v1.2h-1.2zM329.7 687.9h1.2v1.2h-1.2zM335.5 695.5h1.2v1.2h-1.2zM303.6 684.1h1.2v1.2h-1.2zM330.8 684.8h1.2v1.2h-1.2zM330.6 684.3h1.2v1.2h-1.2zM317.3 697.0h1.2v1.2h-1.2zM302.6 689.4h1.2v1.2h-1.2zM314.0 690.2h1.2v1.2h-1.2zM335.8 692.7h1.2v1.2h-1.2zM304.9 696.5h1.2v1.2h-1.2zM314.0 690.1h1.2v1.2h-1.2zM330.2 686.3h1.2v1.2h-1.2zM328.2 690.2h1.2v1.2h-1.2zM309.4 686.3h1.2v1.2h-1.2zM304.8 698.3h1.2v1.2h-1.2zM320.2 696.6h1.2v1.2h-1.2zM307.3 695.6h1.2v1.2h-1.2zM306.5 691.1h1.2v1.2h-1.2zM318.4 684.1h1.2v1.2h-1.2zM321.6 689.1h1.2v1.2h-1.2zM309.7 682.8h1.2v1.2h-1.2zM305.3 699.8h1.2v1.2h-1.2zM320.0 685.9h1.2v1.2h-1.2zM325.5 681.9h1.2v1.2h-1.2zM306.7 691.7h1.2v1.2h-1.2zM334.5 691.2h1.2v1.2h-1.2zM320.1 702.8h1.2v1.2h-1.2zM302.9 713.3h1.2v1.2h-1.2zM307.4 688.2h1.2v1.2h-1.2zM304.9 679.1h1.2v1.2h-1.2zM316.1 708.4h1.2v1.2h-1.2zM309.0 683.9h1.2v1.2h-1.2zM321.2 680.6h1.2v1.2h-1.2zM315.9 695.4h1.2v1.2h-1.2zM296.4 686.4h1.2v1.2h-1.2zM315.5 684.7h1.2v1.2h-1.2zM317.3 674.4h1.2v1.2h-1.2zM314.0 684.6h1.2v1.2h-1.2zM308.1 698.9h1.2v1.2h-1.2zM338.8 695.2h1.2v1.2h-1.2zM309.7 700.2h1.2v1.2h-1.2zM323.5 682.2h1.2v1.2h-1.2zM324.6 684.2h1.2v1.2h-1.2zM324.3 696.2h1.2v1.2h-1.2zM330.2 680.4h1.2v1.2h-1.2zM317.2 688.8h1.2v1.2h-1.2zM306.1 692.1h1.2v1.2h-1.2zM325.5 677.7h1.2v1.2h-1.2zM312.9 679.9h1.2v1.2h-1.2zM305.6 680.3h1.2v1.2h-1.2zM332.4 683.5h1.2v1.2h-1.2zM314.5 696.7h1.2v1.2h-1.2zM328.9 700.1h1.2v1.2h-1.2zM297.4 694.9h1.2v1.2h-1.2zM300.7 683.7h1.2v1.2h-1.2zM314.3 684.2h1.2v1.2h-1.2zM338.4 687.5h1.2v1.2h-1.2zM330.4 687.4h1.2v1.2h-1.2zM317.9 692.9h1.2v1.2h-1.2zM323.0 692.8h1.2v1.2h-1.2zM300.9 692.9h1.2v1.2h-1.2zM321.7 693.6h1.2v1.2h-1.2zM317.9 692.1h1.2v1.2h-1.2zM305.2 697.9h1.2v1.2h-1.2zM279.3 711.6h1.2v1.2h-1.2zM297.4 704.5h1.2v1.2h-1.2zM286.8 708.6h1.2v1.2h-1.2zM286.7 699.1h1.2v1.2h-1.2zM291.4 698.9h1.2v1.2h-1.2zM285.5 713.4h1.2v1.2h-1.2zM295.7 702.7h1.2v1.2h-1.2zM288.6 701.7h1.2v1.2h-1.2zM289.1 697.9h1.2v1.2h-1.2zM294.7 704.9h1.2v1.2h-1.2zM284.2 701.9h1.2v1.2h-1.2zM310.6 702.7h1.2v1.2h-1.2zM285.3 702.0h1.2v1.2h-1.2zM285.1 711.1h1.2v1.2h-1.2zM294.7 706.8h1.2v1.2h-1.2zM292.1 699.4h1.2v1.2h-1.2zM269.5 712.1h1.2v1.2h-1.2zM295.0 705.9h1.2v1.2h-1.2zM291.4 705.8h1.2v1.2h-1.2zM289.3 703.6h1.2v1.2h-1.2zM271.0 707.6h1.2v1.2h-1.2zM289.5 709.5h1.2v1.2h-1.2zM291.7 703.4h1.2v1.2h-1.2zM294.1 705.7h1.2v1.2h-1.2zM285.6 703.0h1.2v1.2h-1.2zM285.7 703.4h1.2v1.2h-1.2zM285.5 709.5h1.2v1.2h-1.2zM312.9 704.3h1.2v1.2h-1.2zM298.3 695.3h1.2v1.2h-1.2zM262.8 702.5h1.2v1.2h-1.2zM287.9 701.3h1.2v1.2h-1.2zM278.1 700.7h1.2v1.2h-1.2zM285.0 705.6h1.2v1.2h-1.2zM286.4 699.1h1.2v1.2h-1.2zM286.1 712.1h1.2v1.2h-1.2zM282.0 705.1h1.2v1.2h-1.2zM297.4 700.9h1.2v1.2h-1.2zM284.5 718.7h1.2v1.2h-1.2zM299.3 702.3h1.2v1.2h-1.2zM290.5 705.3h1.2v1.2h-1.2zM290.4 707.1h1.2v1.2h-1.2zM286.7 694.2h1.2v1.2h-1.2zM281.3 705.5h1.2v1.2h-1.2zM278.0 703.3h1.2v1.2h-1.2zM301.4 706.0h1.2v1.2h-1.2zM283.8 705.5h1.2v1.2h-1.2zM297.7 696.6h1.2v1.2h-1.2zM279.0 701.6h1.2v1.2h-1.2zM285.6 704.4h1.2v1.2h-1.2zM284.4 705.3h1.2v1.2h-1.2zM289.9 699.2h1.2v1.2h-1.2zM284.1 698.9h1.2v1.2h-1.2zM291.5 706.1h1.2v1.2h-1.2zM294.5 700.6h1.2v1.2h-1.2zM284.8 694.2h1.2v1.2h-1.2zM289.3 697.1h1.2v1.2h-1.2zM292.0 710.0h1.2v1.2h-1.2zM292.8 707.8h1.2v1.2h-1.2zM291.0 706.6h1.2v1.2h-1.2zM296.8 710.9h1.2v1.2h-1.2zM305.6 703.5h1.2v1.2h-1.2zM295.9 709.0h1.2v1.2h-1.2zM292.6 706.1h1.2v1.2h-1.2zM278.9 710.0h1.2v1.2h-1.2zM282.0 701.7h1.2v1.2h-1.2zM282.2 707.5h1.2v1.2h-1.2zM281.3 707.0h1.2v1.2h-1.2zM293.7 705.3h1.2v1.2h-1.2zM286.4 707.7h1.2v1.2h-1.2zM299.8 702.6h1.2v1.2h-1.2zM280.6 701.9h1.2v1.2h-1.2zM282.0 703.7h1.2v1.2h-1.2zM287.9 693.8h1.2v1.2h-1.2zM301.0 700.9h1.2v1.2h-1.2zM285.7 695.4h1.2v1.2h-1.2zM273.1 699.9h1.2v1.2h-1.2zM291.0 708.9h1.2v1.2h-1.2zM274.4 705.9h1.2v1.2h-1.2zM301.5 703.5h1.2v1.2h-1.2zM296.6 706.3h1.2v1.2h-1.2zM281.6 709.6h1.2v1.2h-1.2zM284.2 706.5h1.2v1.2h-1.2zM285.9 703.8h1.2v1.2h-1.2zM290.4 711.2h1.2v1.2h-1.2zM275.5 699.5h1.2v1.2h-1.2zM290.0 709.5h1.2v1.2h-1.2zM287.6 703.9h1.2v1.2h-1.2zM293.4 712.4h1.2v1.2h-1.2zM281.8 697.2h1.2v1.2h-1.2zM286.9 708.5h1.2v1.2h-1.2zM278.5 710.2h1.2v1.2h-1.2zM296.8 708.6h1.2v1.2h-1.2zM282.3 698.6h1.2v1.2h-1.2zM294.5 706.1h1.2v1.2h-1.2zM294.7 698.4h1.2v1.2h-1.2zM265.2 710.2h1.2v1.2h-1.2zM297.3 703.5h1.2v1.2h-1.2zM289.1 707.0h1.2v1.2h-1.2zM295.2 703.9h1.2v1.2h-1.2zM285.0 700.1h1.2v1.2h-1.2zM297.5 705.3h1.2v1.2h-1.2zM261.5 706.5h1.2v1.2h-1.2zM284.5 698.7h1.2v1.2h-1.2zM285.0 698.7h1.2v1.2h-1.2zM285.5 702.2h1.2v1.2h-1.2zM293.3 700.0h1.2v1.2h-1.2zM274.4 701.9h1.2v1.2h-1.2zM278.0 708.4h1.2v1.2h-1.2zM287.5 696.8h1.2v1.2h-1.2zM282.0 704.7h1.2v1.2h-1.2zM288.8 696.0h1.2v1.2h-1.2zM288.1 706.2h1.2v1.2h-1.2zM297.2 710.1h1.2v1.2h-1.2zM288.1 698.6h1.2v1.2h-1.2zM286.1 707.9h1.2v1.2h-1.2zM281.7 710.9h1.2v1.2h-1.2zM281.4 699.4h1.2v1.2h-1.2zM295.9 704.3h1.2v1.2h-1.2zM291.8 703.4h1.2v1.2h-1.2zM289.4 702.0h1.2v1.2h-1.2zM304.5 708.0h1.2v1.2h-1.2zM288.1 707.1h1.2v1.2h-1.2zM295.9 702.3h1.2v1.2h-1.2zM290.6 705.8h1.2v1.2h-1.2zM284.6 701.1h1.2v1.2h-1.2zM287.5 703.4h1.2v1.2h-1.2zM285.8 695.5h1.2v1.2h-1.2zM289.8 708.0h1.2v1.2h-1.2zM289.7 713.0h1.2v1.2h-1.2zM296.1 703.1h1.2v1.2h-1.2zM330.4 709.4h1.2v1.2h-1.2zM332.3 701.3h1.2v1.2h-1.2zM335.3 706.3h1.2v1.2h-1.2zM333.2 709.8h1.2v1.2h-1.2zM335.7 715.2h1.2v1.2h-1.2zM330.0 707.1h1.2v1.2h-1.2zM336.4 705.8h1.2v1.2h-1.2zM331.4 714.2h1.2v1.2h-1.2zM325.7 708.8h1.2v1.2h-1.2zM323.9 708.8h1.2v1.2h-1.2zM322.9 703.0h1.2v1.2h-1.2zM341.4 713.4h1.2v1.2h-1.2zM335.3 697.1h1.2v1.2h-1.2zM340.7 708.4h1.2v1.2h-1.2zM327.8 706.1h1.2v1.2h-1.2zM326.5 707.1h1.2v1.2h-1.2zM334.0 708.0h1.2v1.2h-1.2zM339.3 705.0h1.2v1.2h-1.2zM321.1 703.0h1.2v1.2h-1.2zM326.9 706.1h1.2v1.2h-1.2zM331.9 707.3h1.2v1.2h-1.2zM342.8 707.6h1.2v1.2h-1.2zM328.0 706.3h1.2v1.2h-1.2zM329.2 706.6h1.2v1.2h-1.2zM338.0 703.2h1.2v1.2h-1.2zM338.8 714.3h1.2v1.2h-1.2zM343.8 713.7h1.2v1.2h-1.2zM335.1 702.3h1.2v1.2h-1.2zM346.7 707.3h1.2v1.2h-1.2zM335.9 706.1h1.2v1.2h-1.2zM328.8 709.9h1.2v1.2h-1.2zM326.1 702.2h1.2v1.2h-1.2zM337.9 706.1h1.2v1.2h-1.2zM329.4 709.4h1.2v1.2h-1.2zM343.1 706.4h1.2v1.2h-1.2zM333.7 709.6h1.2v1.2h-1.2zM340.2 711.4h1.2v1.2h-1.2zM338.6 704.9h1.2v1.2h-1.2zM337.7 707.5h1.2v1.2h-1.2zM324.2 712.2h1.2v1.2h-1.2zM338.0 712.7h1.2v1.2h-1.2zM334.1 710.3h1.2v1.2h-1.2zM334.1 708.1h1.2v1.2h-1.2zM340.0 707.7h1.2v1.2h-1.2zM338.2 707.4h1.2v1.2h-1.2zM341.9 710.0h1.2v1.2h-1.2zM324.5 713.8h1.2v1.2h-1.2zM337.2 705.5h1.2v1.2h-1.2zM330.8 715.1h1.2v1.2h-1.2zM335.1 709.4h1.2v1.2h-1.2zM338.1 705.2h1.2v1.2h-1.2zM345.1 715.5h1.2v1.2h-1.2zM329.8 711.8h1.2v1.2h-1.2zM324.7 706.2h1.2v1.2h-1.2zM334.9 707.7h1.2v1.2h-1.2zM338.0 709.0h1.2v1.2h-1.2zM336.8 707.0h1.2v1.2h-1.2zM336.4 705.4h1.2v1.2h-1.2zM346.4 707.7h1.2v1.2h-1.2zM342.0 707.9h1.2v1.2h-1.2zM333.6 706.8h1.2v1.2h-1.2zM326.7 715.4h1.2v1.2h-1.2zM337.0 708.0h1.2v1.2h-1.2zM331.7 712.4h1.2v1.2h-1.2zM332.5 705.7h1.2v1.2h-1.2zM331.3 713.4h1.2v1.2h-1.2zM336.4 706.9h1.2v1.2h-1.2zM330.7 712.4h1.2v1.2h-1.2zM336.3 706.2h1.2v1.2h-1.2zM339.9 710.8h1.2v1.2h-1.2zM328.5 711.9h1.2v1.2h-1.2zM341.1 706.6h1.2v1.2h-1.2zM326.5 711.7h1.2v1.2h-1.2zM332.5 706.7h1.2v1.2h-1.2zM332.8 706.5h1.2v1.2h-1.2zM339.6 703.3h1.2v1.2h-1.2zM337.7 711.9h1.2v1.2h-1.2zM340.9 710.3h1.2v1.2h-1.2zM336.1 706.8h1.2v1.2h-1.2zM333.8 704.2h1.2v1.2h-1.2zM343.6 687.0h1.2v1.2h-1.2zM289.9 702.1h1.2v1.2h-1.2zM340.3 693.3h1.2v1.2h-1.2zM303.8 671.2h1.2v1.2h-1.2zM323.0 685.0h1.2v1.2h-1.2zM296.9 698.4h1.2v1.2h-1.2zM284.3 700.6h1.2v1.2h-1.2zM261.5 679.1h1.2v1.2h-1.2zM281.6 685.0h1.2v1.2h-1.2zM326.1 668.3h1.2v1.2h-1.2zM337.3 678.1h1.2v1.2h-1.2zM300.5 704.6h1.2v1.2h-1.2zM295.6 711.9h1.2v1.2h-1.2zM306.1 687.4h1.2v1.2h-1.2zM290.9 707.1h1.2v1.2h-1.2zM308.8 681.3h1.2v1.2h-1.2zM291.2 678.9h1.2v1.2h-1.2zM308.2 677.6h1.2v1.2h-1.2zM326.0 688.4h1.2v1.2h-1.2zM297.8 696.2h1.2v1.2h-1.2zM338.6 656.1h1.2v1.2h-1.2zM317.3 706.0h1.2v1.2h-1.2zM312.9 701.9h1.2v1.2h-1.2zM279.5 677.2h1.2v1.2h-1.2zM330.2 687.5h1.2v1.2h-1.2zM311.4 698.9h1.2v1.2h-1.2zM317.5 696.1h1.2v1.2h-1.2zM300.3 684.3h1.2v1.2h-1.2zM336.2 681.2h1.2v1.2h-1.2zM281.5 683.5h1.2v1.2h-1.2zM327.9 717.2h1.2v1.2h-1.2zM313.1 679.3h1.2v1.2h-1.2zM322.2 693.8h1.2v1.2h-1.2zM333.6 697.2h1.2v1.2h-1.2zM325.1 697.0h1.2v1.2h-1.2zM318.5 674.7h1.2v1.2h-1.2zM306.9 714.2h1.2v1.2h-1.2zM336.6 704.2h1.2v1.2h-1.2zM318.0 687.3h1.2v1.2h-1.2zM317.1 683.9h1.2v1.2h-1.2zM331.8 684.2h1.2v1.2h-1.2zM295.1 663.8h1.2v1.2h-1.2zM341.0 677.3h1.2v1.2h-1.2zM293.1 695.4h1.2v1.2h-1.2zM345.8 699.6h1.2v1.2h-1.2zM303.5 698.0h1.2v1.2h-1.2zM293.8 685.2h1.2v1.2h-1.2zM310.7 689.3h1.2v1.2h-1.2zM325.6 697.6h1.2v1.2h-1.2zM347.5 702.2h1.2v1.2h-1.2zM304.5 693.2h1.2v1.2h-1.2zM293.3 679.6h1.2v1.2h-1.2zM303.4 705.0h1.2v1.2h-1.2zM296.5 664.8h1.2v1.2h-1.2zM290.1 670.4h1.2v1.2h-1.2zM306.5 684.5h1.2v1.2h-1.2zM287.0 676.8h1.2v1.2h-1.2zM301.9 695.3h1.2v1.2h-1.2zM322.3 709.9h1.2v1.2h-1.2zM305.1 699.1h1.2v1.2h-1.2zM311.6 672.2h1.2v1.2h-1.2zM297.6 723.3h1.2v1.2h-1.2zM307.0 715.0h1.2v1.2h-1.2zM326.5 715.2h1.2v1.2h-1.2zM306.4 703.8h1.2v1.2h-1.2zM304.2 672.0h1.2v1.2h-1.2zM287.0 696.1h1.2v1.2h-1.2zM278.3 695.0h1.2v1.2h-1.2zM292.9 694.9h1.2v1.2h-1.2zM283.0 702.6h1.2v1.2h-1.2zM305.6 665.6h1.2v1.2h-1.2zM281.7 690.3h1.2v1.2h-1.2zM277.8 694.5h1.2v1.2h-1.2zM319.8 679.2h1.2v1.2h-1.2zM337.8 711.8h1.2v1.2h-1.2zM316.4 696.5h1.2v1.2h-1.2zM319.5 685.3h1.2v1.2h-1.2zM336.1 681.1h1.2v1.2h-1.2zM260.4 689.7h1.2v1.2h-1.2zM318.9 702.2h1.2v1.2h-1.2zM288.3 711.0h1.2v1.2h-1.2zM293.9 699.2h1.2v1.2h-1.2zM324.6 692.2h1.2v1.2h-1.2zM332.6 681.8h1.2v1.2h-1.2zM350.7 697.0h1.2v1.2h-1.2zM301.8 729.8h1.2v1.2h-1.2zM310.0 664.3h1.2v1.2h-1.2zM338.2 713.4h1.2v1.2h-1.2zM298.7 674.1h1.2v1.2h-1.2zM332.5 690.3h1.2v1.2h-1.2zM291.1 682.0h1.2v1.2h-1.2zM311.5 704.7h1.2v1.2h-1.2zM341.1 679.8h1.2v1.2h-1.2zM340.5 666.0h1.2v1.2h-1.2zM324.3 687.3h1.2v1.2h-1.2zM318.8 682.7h1.2v1.2h-1.2zM296.1 693.8h1.2v1.2h-1.2zM332.5 655.1h1.2v1.2h-1.2zM311.2 683.2h1.2v1.2h-1.2zM288.9 668.6h1.2v1.2h-1.2zM320.4 698.0h1.2v1.2h-1.2zM322.9 658.6h1.2v1.2h-1.2zM280.0 679.9h1.2v1.2h-1.2zM301.6 716.8h1.2v1.2h-1.2zM302.5 691.4h1.2v1.2h-1.2zM329.9 715.3h1.2v1.2h-1.2zM317.5 694.8h1.2v1.2h-1.2zM348.5 683.2h1.2v1.2h-1.2zM274.6 677.8h1.2v1.2h-1.2zM303.9 709.8h1.2v1.2h-1.2zM316.4 708.1h1.2v1.2h-1.2zM312.2 690.1h1.2v1.2h-1.2zM298.7 670.4h1.2v1.2h-1.2zM320.2 695.1h1.2v1.2h-1.2zM321.5 681.2h1.2v1.2h-1.2zM301.8 695.3h1.2v1.2h-1.2zM322.2 720.3h1.2v1.2h-1.2zM292.8 704.8h1.2v1.2h-1.2zM327.7 685.4h1.2v1.2h-1.2zM312.9 688.6h1.2v1.2h-1.2zM340.5 728.9h1.2v1.2h-1.2zM316.6 685.5h1.2v1.2h-1.2zM329.0 697.1h1.2v1.2h-1.2zM306.5 701.1h1.2v1.2h-1.2zM327.4 683.4h1.2v1.2h-1.2zM327.0 654.8h1.2v1.2h-1.2zM284.7 684.7h1.2v1.2h-1.2zM313.3 666.9h1.2v1.2h-1.2zM339.4 683.6h1.2v1.2h-1.2zM313.1 688.8h1.2v1.2h-1.2zM325.1 680.5h1.2v1.2h-1.2zM324.9 676.6h1.2v1.2h-1.2zM280.8 697.4h1.2v1.2h-1.2zM313.4 703.1h1.2v1.2h-1.2zM271.7 691.2h1.2v1.2h-1.2zM297.4 686.6h1.2v1.2h-1.2zM302.3 683.7h1.2v1.2h-1.2zM296.9 705.3h1.2v1.2h-1.2zM276.0 663.6h1.2v1.2h-1.2zM317.0 720.7h1.2v1.2h-1.2zM295.0 675.5h1.2v1.2h-1.2zM287.0 673.7h1.2v1.2h-1.2zM335.0 700.0h1.2v1.2h-1.2zM328.0 694.9h1.2v1.2h-1.2zM314.8 680.5h1.2v1.2h-1.2zM290.9 699.1h1.2v1.2h-1.2zM359.4 683.8h1.2v1.2h-1.2zM335.3 678.6h1.2v1.2h-1.2zM310.9 715.8h1.2v1.2h-1.2zM308.7 699.3h1.2v1.2h-1.2zM299.0 718.6h1.2v1.2h-1.2zM285.7 698.2h1.2v1.2h-1.2zM305.4 692.5h1.2v1.2h-1.2zM317.3 709.8h1.2v1.2h-1.2zM327.5 705.8h1.2v1.2h-1.2zM317.4 672.9h1.2v1.2h-1.2zM336.8 713.3h1.2v1.2h-1.2zM319.7 701.8h1.2v1.2h-1.2zM305.5 667.2h1.2v1.2h-1.2zM329.7 678.2h1.2v1.2h-1.2z" fill="#c98c5c" opacity="0.27"/>
<rect x="329.8" y="663.0" width="14.2" height="33" fill="#f5f5f7" stroke="#b4b4ba" stroke-width="0.45"/>
<path d="M334.3 664.5 C342.3 664.0 343.0 672.9 342.2 679.5 C341.6 687.8 342.8 694.5 337.8 695.0 C332.3 695.0 331.3 682.8 332.0 674.5 C332.3 668.0 332.8 664.6 334.3 664.5 Z" fill="#eee4de"/>
<path d="M335.3 680.2 h3 v-2.5" fill="none" stroke="#c05060" stroke-width="0.45"/>
</g>
<line x1="309.3" y1="718.4" x2="344.2" y2="718.4" stroke="#111" stroke-width="1.8"/>
<text x="326.8" y="729.2" font-size="8.3" text-anchor="middle" fill="#262626" >500 µm</text>
<text font-size="8.5" text-anchor="middle" fill="#222" transform="translate(55.5 576.8) rotate(-90)">CD8</text>
<text font-size="8.5" text-anchor="middle" fill="#222" transform="translate(55.5 633.5) rotate(-90)">CD137</text>
<text font-size="8.5" text-anchor="middle" fill="#222" transform="translate(55.5 689.6) rotate(-90)">PD-L1</text>
<text x="15.2" y="770.9" font-size="14.2" text-anchor="start" fill="#262626" font-weight="bold">f</text>
<line x1="45.6" y1="775.4" x2="45.6" y2="874.1" stroke="#6a6a6a" stroke-width="0.8"/>
<line x1="42.0" y1="874.1" x2="45.6" y2="874.1" stroke="#6a6a6a" stroke-width="0.8"/>
<text x="37.7" y="877.1" font-size="8.1" text-anchor="end" fill="#262626" >0</text>
<line x1="42.0" y1="854.4" x2="45.6" y2="854.4" stroke="#6a6a6a" stroke-width="0.8"/>
<text x="37.7" y="857.4" font-size="8.1" text-anchor="end" fill="#262626" >20</text>
<line x1="42.0" y1="834.6" x2="45.6" y2="834.6" stroke="#6a6a6a" stroke-width="0.8"/>
<text x="37.7" y="837.6" font-size="8.1" text-anchor="end" fill="#262626" >40</text>
<line x1="42.0" y1="814.9" x2="45.6" y2="814.9" stroke="#6a6a6a" stroke-width="0.8"/>
<text x="37.7" y="817.9" font-size="8.1" text-anchor="end" fill="#262626" >60</text>
<line x1="42.0" y1="795.1" x2="45.6" y2="795.1" stroke="#6a6a6a" stroke-width="0.8"/>
<text x="37.7" y="798.1" font-size="8.1" text-anchor="end" fill="#262626" >80</text>
<line x1="42.0" y1="775.4" x2="45.6" y2="775.4" stroke="#6a6a6a" stroke-width="0.8"/>
<text x="37.7" y="778.4" font-size="8.1" text-anchor="end" fill="#262626" >100</text>
<line x1="45.6" y1="874.1" x2="111.5" y2="874.1" stroke="#6a6a6a" stroke-width="0.8"/>
<rect x="52.1" y="863.8" width="13.6" height="10.3" fill="#0fa5c8"/>
<path d="M58.9 862.7 V865.0 M55.6 862.7 H62.1 M55.6 865.0 H62.1" stroke="#111" stroke-width="0.8" fill="none"/>
<circle cx="54.0" cy="863.2" r="1.75" fill="#111"/>
<circle cx="59.0" cy="862.3" r="1.75" fill="#111"/>
<circle cx="64.0" cy="863.7" r="1.75" fill="#111"/>
<rect x="71.9" y="854.4" width="13.6" height="19.7" fill="#985da8"/>
<path d="M78.7 849.4 V859.3 M75.5 849.4 H81.9 M75.5 859.3 H81.9" stroke="#111" stroke-width="0.8" fill="none"/>
<circle cx="78.3" cy="847.9" r="1.75" fill="#111"/>
<circle cx="78.8" cy="852.4" r="1.75" fill="#111"/>
<circle cx="75.5" cy="859.3" r="1.75" fill="#111"/>
<circle cx="81.5" cy="857.8" r="1.75" fill="#111"/>
<rect x="91.6" y="841.6" width="13.6" height="32.5" fill="#0c8f62"/>
<path d="M98.4 829.3 V854.0 M95.2 829.3 H101.6 M95.2 854.0 H101.6" stroke="#111" stroke-width="0.8" fill="none"/>
<circle cx="98.5" cy="822.2" r="1.75" fill="#111"/>
<circle cx="98.3" cy="836.6" r="1.75" fill="#111"/>
<circle cx="95.7" cy="846.0" r="1.75" fill="#111"/>
<circle cx="101.5" cy="847.9" r="1.75" fill="#111"/>
<circle cx="98.5" cy="854.9" r="1.75" fill="#111"/>
<path d="M58.1 856.9 V836.1 H78.5 V844.0" fill="none" stroke="#333" stroke-width="0.75"/>
<g fill="#1a1a1a"><use href="#st" transform="translate(68.6 832.6) scale(1.75)"/></g>
<path d="M58.1 826.5 V811.4 H98.6 V817.8" fill="none" stroke="#333" stroke-width="0.75"/>
<g fill="#1a1a1a"><use href="#st" transform="translate(78.5 806.7) scale(1.75)"/></g>
<text font-size="8.5" text-anchor="middle" fill="#222" transform="translate(7.2 824.8) rotate(-90)">Percentage of</text>
<text font-size="8.5" text-anchor="middle" fill="#222" transform="translate(16.9 825) rotate(-90)">CD137<tspan font-size="5.5" dy="-3">+</tspan><tspan dy="3"> T cells</tspan></text>
<line x1="166.2" y1="774.1" x2="166.2" y2="873.3" stroke="#6a6a6a" stroke-width="0.8"/>
<line x1="162.29999999999998" y1="873.3" x2="166.2" y2="873.3" stroke="#6a6a6a" stroke-width="0.8"/>
<text x="159.3" y="876.3" font-size="8.1" text-anchor="end" fill="#262626" >0</text>
<line x1="162.29999999999998" y1="853.5" x2="166.2" y2="853.5" stroke="#6a6a6a" stroke-width="0.8"/>
<text x="159.3" y="856.5" font-size="8.1" text-anchor="end" fill="#262626" >20</text>
<line x1="162.29999999999998" y1="833.6" x2="166.2" y2="833.6" stroke="#6a6a6a" stroke-width="0.8"/>
<text x="159.3" y="836.6" font-size="8.1" text-anchor="end" fill="#262626" >40</text>
<line x1="162.29999999999998" y1="813.8" x2="166.2" y2="813.8" stroke="#6a6a6a" stroke-width="0.8"/>
<text x="159.3" y="816.8" font-size="8.1" text-anchor="end" fill="#262626" >60</text>
<line x1="162.29999999999998" y1="793.9" x2="166.2" y2="793.9" stroke="#6a6a6a" stroke-width="0.8"/>
<text x="159.3" y="796.9" font-size="8.1" text-anchor="end" fill="#262626" >80</text>
<line x1="162.29999999999998" y1="774.1" x2="166.2" y2="774.1" stroke="#6a6a6a" stroke-width="0.8"/>
<text x="159.3" y="777.1" font-size="8.1" text-anchor="end" fill="#262626" >100</text>
<line x1="166.2" y1="873.3" x2="231.9" y2="873.3" stroke="#6a6a6a" stroke-width="0.8"/>
<rect x="172.8" y="830.8" width="13.2" height="42.5" fill="#0fa5c8"/>
<path d="M179.4 824.9 V836.8 M176.2 824.9 H182.6 M176.2 836.8 H182.6" stroke="#111" stroke-width="0.8" fill="none"/>
<circle cx="179.4" cy="824.7" r="1.75" fill="#111"/>
<circle cx="176.5" cy="834.1" r="1.75" fill="#111"/>
<circle cx="182.3" cy="833.1" r="1.75" fill="#111"/>
<rect x="192.7" y="796.9" width="13.2" height="76.4" fill="#985da8"/>
<path d="M199.3 791.0 V802.9 M196.1 791.0 H202.5 M196.1 802.9 H202.5" stroke="#111" stroke-width="0.8" fill="none"/>
<circle cx="199.3" cy="789.5" r="1.75" fill="#111"/>
<circle cx="196.5" cy="795.9" r="1.75" fill="#111"/>
<circle cx="202.3" cy="795.9" r="1.75" fill="#111"/>
<circle cx="199.3" cy="803.4" r="1.75" fill="#111"/>
<rect x="212.4" y="799.1" width="13.2" height="74.2" fill="#0c8f62"/>
<path d="M219.0 792.2 V806.0 M215.8 792.2 H222.2 M215.8 806.0 H222.2" stroke="#111" stroke-width="0.8" fill="none"/>
<circle cx="216.5" cy="792.0" r="1.75" fill="#111"/>
<circle cx="221.8" cy="792.9" r="1.75" fill="#111"/>
<circle cx="219.0" cy="797.9" r="1.75" fill="#111"/>
<circle cx="219.0" cy="805.8" r="1.75" fill="#111"/>
<circle cx="219.0" cy="809.3" r="1.75" fill="#111"/>
<path d="M179.3 819.8 V783.3 H199.7 V784.8" fill="none" stroke="#333" stroke-width="0.75"/>
<g fill="#1a1a1a"><use href="#st" transform="translate(185.4 777.2) scale(1.75)"/><use href="#st" transform="translate(189.3 777.2) scale(1.75)"/><use href="#st" transform="translate(193.2 777.2) scale(1.75)"/></g>
<path d="M179.3 772.0 V770.4 H219.2 V784.8" fill="none" stroke="#333" stroke-width="0.75"/>
<g fill="#1a1a1a"><use href="#st" transform="translate(198.6 763.2) scale(1.75)"/><use href="#st" transform="translate(202.4 763.2) scale(1.75)"/></g>
<text font-size="8.5" text-anchor="middle" fill="#222" transform="translate(128.2 824.8) rotate(-90)">Percentage of</text>
<text font-size="8.5" text-anchor="middle" fill="#222" transform="translate(138.6 824.6) rotate(-90)">CD39<tspan font-size="5.5" dy="-3">+</tspan><tspan dy="3">PD1</tspan><tspan font-size="5.5" dy="-3">+</tspan><tspan dy="3"> T cells</tspan></text>
<text x="244.9" y="771.0" font-size="14.2" text-anchor="start" fill="#262626" font-weight="bold">h</text>
<line x1="291.3" y1="774.5" x2="291.3" y2="873.3" stroke="#6a6a6a" stroke-width="0.8"/>
<line x1="287.6" y1="774.5" x2="291.3" y2="774.5" stroke="#6a6a6a" stroke-width="0.8"/>
<text x="284.2" y="777.5" font-size="8.1" text-anchor="end" fill="#262626" >0</text>
<line x1="287.6" y1="794.3" x2="291.3" y2="794.3" stroke="#6a6a6a" stroke-width="0.8"/>
<text x="284.2" y="797.3" font-size="8.1" text-anchor="end" fill="#262626" >−20</text>
<line x1="287.6" y1="814.0" x2="291.3" y2="814.0" stroke="#6a6a6a" stroke-width="0.8"/>
<text x="284.2" y="817.0" font-size="8.1" text-anchor="end" fill="#262626" >−40</text>
<line x1="287.6" y1="833.8" x2="291.3" y2="833.8" stroke="#6a6a6a" stroke-width="0.8"/>
<text x="284.2" y="836.8" font-size="8.1" text-anchor="end" fill="#262626" >−60</text>
<line x1="287.6" y1="853.5" x2="291.3" y2="853.5" stroke="#6a6a6a" stroke-width="0.8"/>
<text x="284.2" y="856.5" font-size="8.1" text-anchor="end" fill="#262626" >−80</text>
<line x1="287.6" y1="873.3" x2="291.3" y2="873.3" stroke="#6a6a6a" stroke-width="0.8"/>
<text x="284.2" y="876.3" font-size="8.1" text-anchor="end" fill="#262626" >−100</text>
<path d="M291.3 774.5 H357.8 V873.3 H291.3" fill="none" stroke="#6a6a6a" stroke-width="0.8"/>
<line x1="304.4" y1="873.3" x2="304.4" y2="876.6" stroke="#6a6a6a" stroke-width="0.8"/>
<line x1="324.3" y1="873.3" x2="324.3" y2="876.6" stroke="#6a6a6a" stroke-width="0.8"/>
<line x1="344.1" y1="873.3" x2="344.1" y2="876.6" stroke="#6a6a6a" stroke-width="0.8"/>
<rect x="298.4" y="774.5" width="13.2" height="3.0" fill="#0fa5c8"/>
<path d="M305.0 775.0 V779.9 M302.0 775.0 H308.0 M302.0 779.9 H308.0" stroke="#111" stroke-width="0.8" fill="none"/>
<rect x="318.0" y="774.5" width="13.2" height="89.9" fill="#985da8"/>
<path d="M324.6 860.0 V868.9 M321.6 860.0 H327.6 M321.6 868.9 H327.6" stroke="#111" stroke-width="0.8" fill="none"/>
<rect x="337.9" y="774.5" width="13.2" height="35.6" fill="#0c8f62"/>
<path d="M344.5 801.2 V819.0 M341.5 801.2 H347.5 M341.5 819.0 H347.5" stroke="#111" stroke-width="0.8" fill="none"/>
<circle cx="300.2" cy="776.4" r="1.75" fill="#111"/>
<circle cx="304.0" cy="776.6" r="1.75" fill="#111"/>
<circle cx="308.0" cy="776.2" r="1.75" fill="#111"/>
<circle cx="312.0" cy="776.6" r="1.75" fill="#111"/>
<circle cx="303.0" cy="782.0" r="1.75" fill="#111"/>
<circle cx="308.5" cy="781.5" r="1.75" fill="#111"/>
<circle cx="303.5" cy="785.0" r="1.75" fill="#111"/>
<circle cx="324.5" cy="843.4" r="1.75" fill="#111"/>
<circle cx="319.5" cy="861.3" r="1.75" fill="#111"/>
<circle cx="324.8" cy="864.0" r="1.75" fill="#111"/>
<circle cx="319.8" cy="870.6" r="1.75" fill="#111"/>
<circle cx="324.5" cy="870.6" r="1.75" fill="#111"/>
<circle cx="330.0" cy="871.0" r="1.75" fill="#111"/>
<circle cx="344.5" cy="778.0" r="1.75" fill="#111"/>
<circle cx="344.5" cy="793.4" r="1.75" fill="#111"/>
<circle cx="344.5" cy="800.0" r="1.75" fill="#111"/>
<circle cx="344.5" cy="805.5" r="1.75" fill="#111"/>
<circle cx="342.5" cy="818.5" r="1.75" fill="#111"/>
<circle cx="344.5" cy="835.2" r="1.75" fill="#111"/>
<circle cx="344.5" cy="842.5" r="1.75" fill="#111"/>
<g fill="#1a1a1a"><use href="#st" transform="translate(318.9 884.2) scale(1.6)"/><use href="#st" transform="translate(322.5 884.2) scale(1.6)"/><use href="#st" transform="translate(326.1 884.2) scale(1.6)"/><use href="#st" transform="translate(329.7 884.2) scale(1.6)"/></g>
<g fill="#1a1a1a"><use href="#st" transform="translate(344.5 884.2) scale(1.6)"/></g>
<text font-size="8.5" text-anchor="middle" fill="#222" transform="translate(252.4 824) rotate(-90)">Percentage of</text>
<text font-size="8.5" text-anchor="middle" fill="#222" transform="translate(262.2 824) rotate(-90)">population lost</text>
<text x="397.0" y="543.6" font-size="14.5" text-anchor="start" fill="#262626" font-weight="bold">g</text>
<line x1="443.4" y1="562.3" x2="443.4" y2="695.4" stroke="#6a6a6a" stroke-width="0.8"/>
<line x1="438.5" y1="694.4" x2="443.4" y2="694.4" stroke="#6a6a6a" stroke-width="0.8"/>
<text x="434.4" y="697.4" font-size="8.3" text-anchor="end" fill="#262626" >0</text>
<line x1="438.5" y1="668.0" x2="443.4" y2="668.0" stroke="#6a6a6a" stroke-width="0.8"/>
<text x="434.4" y="671.0" font-size="8.3" text-anchor="end" fill="#262626" >200</text>
<line x1="438.5" y1="641.6" x2="443.4" y2="641.6" stroke="#6a6a6a" stroke-width="0.8"/>
<text x="434.4" y="644.6" font-size="8.3" text-anchor="end" fill="#262626" >400</text>
<line x1="438.5" y1="615.1" x2="443.4" y2="615.1" stroke="#6a6a6a" stroke-width="0.8"/>
<text x="434.4" y="618.1" font-size="8.3" text-anchor="end" fill="#262626" >600</text>
<line x1="438.5" y1="588.7" x2="443.4" y2="588.7" stroke="#6a6a6a" stroke-width="0.8"/>
<text x="434.4" y="591.7" font-size="8.3" text-anchor="end" fill="#262626" >800</text>
<line x1="438.5" y1="562.3" x2="443.4" y2="562.3" stroke="#6a6a6a" stroke-width="0.8"/>
<text x="434.4" y="565.3" font-size="8.3" text-anchor="end" fill="#262626" >1,000</text>
<line x1="443.4" y1="695.4" x2="641.3" y2="695.4" stroke="#6a6a6a" stroke-width="0.8"/>
<line x1="443.4" y1="695.4" x2="443.4" y2="699.0" stroke="#6a6a6a" stroke-width="0.8"/>
<text x="443.4" y="710.6" font-size="8.3" text-anchor="middle" fill="#262626" >0</text>
<line x1="476.4" y1="695.4" x2="476.4" y2="699.0" stroke="#6a6a6a" stroke-width="0.8"/>
<text x="476.4" y="710.6" font-size="8.3" text-anchor="middle" fill="#262626" >7</text>
<line x1="509.4" y1="695.4" x2="509.4" y2="699.0" stroke="#6a6a6a" stroke-width="0.8"/>
<text x="509.4" y="710.6" font-size="8.3" text-anchor="middle" fill="#262626" >14</text>
<line x1="542.4" y1="695.4" x2="542.4" y2="699.0" stroke="#6a6a6a" stroke-width="0.8"/>
<text x="542.4" y="710.6" font-size="8.3" text-anchor="middle" fill="#262626" >21</text>
<line x1="575.4" y1="695.4" x2="575.4" y2="699.0" stroke="#6a6a6a" stroke-width="0.8"/>
<text x="575.4" y="710.6" font-size="8.3" text-anchor="middle" fill="#262626" >28</text>
<line x1="608.4" y1="695.4" x2="608.4" y2="699.0" stroke="#6a6a6a" stroke-width="0.8"/>
<text x="608.4" y="710.6" font-size="8.3" text-anchor="middle" fill="#262626" >35</text>
<line x1="641.3" y1="695.4" x2="641.3" y2="699.0" stroke="#6a6a6a" stroke-width="0.8"/>
<text x="641.3" y="710.6" font-size="8.3" text-anchor="middle" fill="#262626" >42</text>
<text x="542.6" y="722.6" font-size="8.3" text-anchor="middle" fill="#262626" >Time (days)</text>
<text font-size="8.5" text-anchor="middle" fill="#222" transform="translate(408.2 628.3) rotate(-90)">Tumour volume (mm<tspan font-size="5.5" dy="-3">3</tspan><tspan dy="3">)</tspan></text>
<path d="M443.4 694.1 L462.3 693.9 L471.7 693.7 L481.1 693.5 L495.2 693.1 L504.7 692.8 L514.1 692.4 L528.2 691.5 L537.7 690.7 L547.1 689.1 L561.2 686.5 L570.7 680.5 L580.1 673.3 L594.2 658.7 L603.6 650.1 L613.1 645.5 L627.2 622.4 L636.6 598.0" fill="none" stroke="#1ba6c8" stroke-width="1"/>
<path d="M537.7 690.4 V691.0 M535.9 690.4 h3.6 M535.9 691.0 h3.6" stroke="#1ba6c8" stroke-width="0.7"/>
<path d="M547.1 688.7 V689.5 M545.3 688.7 h3.6 M545.3 689.5 h3.6" stroke="#1ba6c8" stroke-width="0.7"/>
<path d="M561.2 685.8 V687.1 M559.4 685.8 h3.6 M559.4 687.1 h3.6" stroke="#1ba6c8" stroke-width="0.7"/>
<path d="M570.7 679.7 V681.3 M568.9 679.7 h3.6 M568.9 681.3 h3.6" stroke="#1ba6c8" stroke-width="0.7"/>
<path d="M580.1 672.1 V674.5 M578.3 672.1 h3.6 M578.3 674.5 h3.6" stroke="#1ba6c8" stroke-width="0.7"/>
<path d="M594.2 657.1 V660.3 M592.4 657.1 h3.6 M592.4 660.3 h3.6" stroke="#1ba6c8" stroke-width="0.7"/>
<path d="M603.6 647.8 V652.5 M601.8 647.8 h3.6 M601.8 652.5 h3.6" stroke="#1ba6c8" stroke-width="0.7"/>
<path d="M613.1 642.7 V648.3 M611.3 642.7 h3.6 M611.3 648.3 h3.6" stroke="#1ba6c8" stroke-width="0.7"/>
<path d="M627.2 617.6 V627.2 M625.4 617.6 h3.6 M625.4 627.2 h3.6" stroke="#1ba6c8" stroke-width="0.7"/>
<path d="M636.6 591.2 V604.7 M634.8 591.2 h3.6 M634.8 604.7 h3.6" stroke="#1ba6c8" stroke-width="0.7"/>
<path d="M443.4 694.1 L462.3 693.9 L471.7 693.7 L481.1 693.5 L495.2 693.1 L504.7 692.8 L514.1 692.4 L528.2 691.5 L537.7 690.7 L547.1 689.1 L561.2 685.8 L570.7 680.5 L580.1 672.6 L594.2 668.6 L603.6 666.0 L613.1 666.0 L627.2 649.5 L636.6 640.2" fill="none" stroke="#9b5ba8" stroke-width="1"/>
<path d="M537.7 690.4 V691.0 M535.9 690.4 h3.6 M535.9 691.0 h3.6" stroke="#9b5ba8" stroke-width="0.7"/>
<path d="M547.1 688.8 V689.4 M545.3 688.8 h3.6 M545.3 689.4 h3.6" stroke="#9b5ba8" stroke-width="0.7"/>
<path d="M561.2 685.3 V686.3 M559.4 685.3 h3.6 M559.4 686.3 h3.6" stroke="#9b5ba8" stroke-width="0.7"/>
<path d="M570.7 679.9 V681.2 M568.9 679.9 h3.6 M568.9 681.2 h3.6" stroke="#9b5ba8" stroke-width="0.7"/>
<path d="M580.1 671.6 V673.6 M578.3 671.6 h3.6 M578.3 673.6 h3.6" stroke="#9b5ba8" stroke-width="0.7"/>
<path d="M594.2 667.3 V670.0 M592.4 667.3 h3.6 M592.4 670.0 h3.6" stroke="#9b5ba8" stroke-width="0.7"/>
<path d="M603.6 664.0 V668.0 M601.8 664.0 h3.6 M601.8 668.0 h3.6" stroke="#9b5ba8" stroke-width="0.7"/>
<path d="M613.1 663.7 V668.3 M611.3 663.7 h3.6 M611.3 668.3 h3.6" stroke="#9b5ba8" stroke-width="0.7"/>
<path d="M627.2 645.5 V653.4 M625.4 645.5 h3.6 M625.4 653.4 h3.6" stroke="#9b5ba8" stroke-width="0.7"/>
<path d="M636.6 634.6 V645.9 M634.8 634.6 h3.6 M634.8 645.9 h3.6" stroke="#9b5ba8" stroke-width="0.7"/>
<path d="M443.4 694.1 L462.3 693.9 L471.7 693.7 L481.1 693.5 L495.2 693.1 L504.7 692.8 L514.1 692.4 L528.2 691.5 L537.7 690.7 L547.1 689.1 L561.2 686.5 L570.7 681.9 L580.1 677.2 L594.2 673.3 L603.6 671.9 L613.1 671.3 L627.2 655.4 L636.6 646.8" fill="none" stroke="#1aa074" stroke-width="1"/>
<path d="M537.7 690.4 V691.0 M535.9 690.4 h3.6 M535.9 691.0 h3.6" stroke="#1aa074" stroke-width="0.7"/>
<path d="M547.1 688.8 V689.5 M545.3 688.8 h3.6 M545.3 689.5 h3.6" stroke="#1aa074" stroke-width="0.7"/>
<path d="M561.2 685.9 V687.1 M559.4 685.9 h3.6 M559.4 687.1 h3.6" stroke="#1aa074" stroke-width="0.7"/>
<path d="M570.7 681.1 V682.6 M568.9 681.1 h3.6 M568.9 682.6 h3.6" stroke="#1aa074" stroke-width="0.7"/>
<path d="M580.1 676.1 V678.3 M578.3 676.1 h3.6 M578.3 678.3 h3.6" stroke="#1aa074" stroke-width="0.7"/>
<path d="M594.2 671.8 V674.7 M592.4 671.8 h3.6 M592.4 674.7 h3.6" stroke="#1aa074" stroke-width="0.7"/>
<path d="M603.6 669.8 V674.1 M601.8 669.8 h3.6 M601.8 674.1 h3.6" stroke="#1aa074" stroke-width="0.7"/>
<path d="M613.1 668.7 V673.8 M611.3 668.7 h3.6 M611.3 673.8 h3.6" stroke="#1aa074" stroke-width="0.7"/>
<path d="M627.2 651.1 V659.8 M625.4 651.1 h3.6 M625.4 659.8 h3.6" stroke="#1aa074" stroke-width="0.7"/>
<path d="M636.6 640.7 V653.0 M634.8 640.7 h3.6 M634.8 653.0 h3.6" stroke="#1aa074" stroke-width="0.7"/>
<path d="M443.4 694.1 L462.3 693.9 L471.7 693.7 L481.1 693.5 L495.2 693.1 L504.7 692.8 L514.1 692.4 L528.2 691.5 L537.7 690.7 L547.1 689.1 L561.2 685.2 L570.7 680.5 L580.1 673.9 L594.2 660.7 L603.6 649.5 L613.1 642.9 L627.2 619.8 L636.6 591.4" fill="none" stroke="#111" stroke-width="1"/>
<path d="M537.7 690.2 V691.2 M535.9 690.2 h3.6 M535.9 691.2 h3.6" stroke="#111" stroke-width="0.7"/>
<path d="M547.1 688.5 V689.8 M545.3 688.5 h3.6 M545.3 689.8 h3.6" stroke="#111" stroke-width="0.7"/>
<path d="M561.2 684.1 V686.2 M559.4 684.1 h3.6 M559.4 686.2 h3.6" stroke="#111" stroke-width="0.7"/>
<path d="M570.7 679.2 V681.9 M568.9 679.2 h3.6 M568.9 681.9 h3.6" stroke="#111" stroke-width="0.7"/>
<path d="M580.1 671.9 V675.9 M578.3 671.9 h3.6 M578.3 675.9 h3.6" stroke="#111" stroke-width="0.7"/>
<path d="M594.2 658.1 V663.4 M592.4 658.1 h3.6 M592.4 663.4 h3.6" stroke="#111" stroke-width="0.7"/>
<path d="M603.6 645.5 V653.4 M601.8 645.5 h3.6 M601.8 653.4 h3.6" stroke="#111" stroke-width="0.7"/>
<path d="M613.1 638.3 V647.5 M611.3 638.3 h3.6 M611.3 647.5 h3.6" stroke="#111" stroke-width="0.7"/>
<path d="M627.2 611.8 V627.7 M625.4 611.8 h3.6 M625.4 627.7 h3.6" stroke="#111" stroke-width="0.7"/>
<path d="M636.6 580.1 V602.6 M634.8 580.1 h3.6 M634.8 602.6 h3.6" stroke="#111" stroke-width="0.7"/>
<rect x="441.2" y="691.9" width="4.4" height="4.4" fill="#1ba6c8"/>
<rect x="460.1" y="691.7" width="4.4" height="4.4" fill="#1ba6c8"/>
<rect x="469.5" y="691.5" width="4.4" height="4.4" fill="#1ba6c8"/>
<rect x="478.9" y="691.3" width="4.4" height="4.4" fill="#1ba6c8"/>
<rect x="493.0" y="690.9" width="4.4" height="4.4" fill="#1ba6c8"/>
<rect x="502.5" y="690.6" width="4.4" height="4.4" fill="#1ba6c8"/>
<rect x="511.9" y="690.2" width="4.4" height="4.4" fill="#1ba6c8"/>
<rect x="526.0" y="689.3" width="4.4" height="4.4" fill="#1ba6c8"/>
<rect x="535.5" y="688.5" width="4.4" height="4.4" fill="#1ba6c8"/>
<rect x="544.9" y="686.9" width="4.4" height="4.4" fill="#1ba6c8"/>
<rect x="559.0" y="684.3" width="4.4" height="4.4" fill="#1ba6c8"/>
<rect x="568.5" y="678.3" width="4.4" height="4.4" fill="#1ba6c8"/>
<rect x="577.9" y="671.1" width="4.4" height="4.4" fill="#1ba6c8"/>
<rect x="592.0" y="656.5" width="4.4" height="4.4" fill="#1ba6c8"/>
<rect x="601.4" y="647.9" width="4.4" height="4.4" fill="#1ba6c8"/>
<rect x="610.9" y="643.3" width="4.4" height="4.4" fill="#1ba6c8"/>
<rect x="625.0" y="620.2" width="4.4" height="4.4" fill="#1ba6c8"/>
<rect x="634.4" y="595.8" width="4.4" height="4.4" fill="#1ba6c8"/>
<path d="M443.4 691.3 L446.2 696.1 L440.6 696.1Z" fill="#9b5ba8"/>
<path d="M462.3 691.1 L465.1 695.9 L459.5 695.9Z" fill="#9b5ba8"/>
<path d="M471.7 690.9 L474.5 695.7 L468.9 695.7Z" fill="#9b5ba8"/>
<path d="M481.1 690.7 L483.9 695.5 L478.3 695.5Z" fill="#9b5ba8"/>
<path d="M495.2 690.3 L498.0 695.1 L492.4 695.1Z" fill="#9b5ba8"/>
<path d="M504.7 690.0 L507.5 694.8 L501.9 694.8Z" fill="#9b5ba8"/>
<path d="M514.1 689.6 L516.9 694.4 L511.3 694.4Z" fill="#9b5ba8"/>
<path d="M528.2 688.7 L531.0 693.5 L525.4 693.5Z" fill="#9b5ba8"/>
<path d="M537.7 687.9 L540.5 692.7 L534.9 692.7Z" fill="#9b5ba8"/>
<path d="M547.1 686.3 L549.9 691.1 L544.3 691.1Z" fill="#9b5ba8"/>
<path d="M561.2 683.0 L564.0 687.8 L558.4 687.8Z" fill="#9b5ba8"/>
<path d="M570.7 677.7 L573.5 682.5 L567.9 682.5Z" fill="#9b5ba8"/>
<path d="M580.1 669.8 L582.9 674.6 L577.3 674.6Z" fill="#9b5ba8"/>
<path d="M594.2 665.8 L597.0 670.6 L591.4 670.6Z" fill="#9b5ba8"/>
<path d="M603.6 663.2 L606.4 668.0 L600.8 668.0Z" fill="#9b5ba8"/>
<path d="M613.1 663.2 L615.9 668.0 L610.3 668.0Z" fill="#9b5ba8"/>
<path d="M627.2 646.7 L630.0 651.5 L624.4 651.5Z" fill="#9b5ba8"/>
<path d="M636.6 637.4 L639.4 642.2 L633.8 642.2Z" fill="#9b5ba8"/>
<path d="M443.4 696.9 L446.2 692.1 L440.6 692.1Z" fill="#1aa074"/>
<path d="M462.3 696.7 L465.1 691.9 L459.5 691.9Z" fill="#1aa074"/>
<path d="M471.7 696.5 L474.5 691.7 L468.9 691.7Z" fill="#1aa074"/>
<path d="M481.1 696.3 L483.9 691.5 L478.3 691.5Z" fill="#1aa074"/>
<path d="M495.2 695.9 L498.0 691.1 L492.4 691.1Z" fill="#1aa074"/>
<path d="M504.7 695.6 L507.5 690.8 L501.9 690.8Z" fill="#1aa074"/>
<path d="M514.1 695.2 L516.9 690.4 L511.3 690.4Z" fill="#1aa074"/>
<path d="M528.2 694.3 L531.0 689.5 L525.4 689.5Z" fill="#1aa074"/>
<path d="M537.7 693.5 L540.5 688.7 L534.9 688.7Z" fill="#1aa074"/>
<path d="M547.1 691.9 L549.9 687.1 L544.3 687.1Z" fill="#1aa074"/>
<path d="M561.2 689.3 L564.0 684.5 L558.4 684.5Z" fill="#1aa074"/>
<path d="M570.7 684.7 L573.5 679.9 L567.9 679.9Z" fill="#1aa074"/>
<path d="M580.1 680.0 L582.9 675.2 L577.3 675.2Z" fill="#1aa074"/>
<path d="M594.2 676.1 L597.0 671.3 L591.4 671.3Z" fill="#1aa074"/>
<path d="M603.6 674.7 L606.4 669.9 L600.8 669.9Z" fill="#1aa074"/>
<path d="M613.1 674.1 L615.9 669.3 L610.3 669.3Z" fill="#1aa074"/>
<path d="M627.2 658.2 L630.0 653.4 L624.4 653.4Z" fill="#1aa074"/>
<path d="M636.6 649.6 L639.4 644.8 L633.8 644.8Z" fill="#1aa074"/>
<path d="M443.4 690.9 L446.6 694.1 L443.4 697.3 L440.2 694.1Z" fill="#111"/>
<path d="M462.3 690.7 L465.5 693.9 L462.3 697.1 L459.1 693.9Z" fill="#111"/>
<path d="M471.7 690.5 L474.9 693.7 L471.7 696.9 L468.5 693.7Z" fill="#111"/>
<path d="M481.1 690.3 L484.3 693.5 L481.1 696.7 L477.9 693.5Z" fill="#111"/>
<path d="M495.2 689.9 L498.4 693.1 L495.2 696.3 L492.0 693.1Z" fill="#111"/>
<path d="M504.7 689.6 L507.9 692.8 L504.7 696.0 L501.5 692.8Z" fill="#111"/>
<path d="M514.1 689.2 L517.3 692.4 L514.1 695.6 L510.9 692.4Z" fill="#111"/>
<path d="M528.2 688.3 L531.4 691.5 L528.2 694.7 L525.0 691.5Z" fill="#111"/>
<path d="M537.7 687.5 L540.9 690.7 L537.7 693.9 L534.5 690.7Z" fill="#111"/>
<path d="M547.1 685.9 L550.3 689.1 L547.1 692.3 L543.9 689.1Z" fill="#111"/>
<path d="M561.2 682.0 L564.4 685.2 L561.2 688.4 L558.0 685.2Z" fill="#111"/>
<path d="M570.7 677.3 L573.9 680.5 L570.7 683.7 L567.5 680.5Z" fill="#111"/>
<path d="M580.1 670.7 L583.3 673.9 L580.1 677.1 L576.9 673.9Z" fill="#111"/>
<path d="M594.2 657.5 L597.4 660.7 L594.2 663.9 L591.0 660.7Z" fill="#111"/>
<path d="M603.6 646.3 L606.8 649.5 L603.6 652.7 L600.4 649.5Z" fill="#111"/>
<path d="M613.1 639.7 L616.3 642.9 L613.1 646.1 L609.9 642.9Z" fill="#111"/>
<path d="M627.2 616.6 L630.4 619.8 L627.2 623.0 L624.0 619.8Z" fill="#111"/>
<path d="M636.6 588.2 L639.8 591.4 L636.6 594.6 L633.4 591.4Z" fill="#111"/>
<line x1="457" y1="565.3" x2="471.5" y2="565.3" stroke="#111" stroke-width="1"/>
<path d="M464.2 562.1 L467.4 565.3 L464.2 568.5 L461.0 565.3Z" fill="#111"/>
<text x="477.8" y="568.3" font-size="8.4" text-anchor="start" fill="#262626" >Control</text>
<line x1="457" y1="578.5" x2="471.5" y2="578.5" stroke="#1ba6c8" stroke-width="1"/>
<rect x="462.0" y="576.3" width="4.4" height="4.4" fill="#1ba6c8"/>
<text x="477.8" y="581.5" font-size="8.4" text-anchor="start" fill="#262626" >T cells from singlets</text>
<line x1="457" y1="591.7" x2="471.5" y2="591.7" stroke="#9b5ba8" stroke-width="1"/>
<path d="M464.2 588.9 L467.0 593.7 L461.4 593.7Z" fill="#9b5ba8"/>
<text x="477.8" y="594.7" font-size="8.4" text-anchor="start" fill="#262626" >T cells from tumour clusters</text>
<line x1="457" y1="604.9" x2="471.5" y2="604.9" stroke="#1aa074" stroke-width="1"/>
<path d="M464.2 607.7 L467.0 602.9 L461.4 602.9Z" fill="#1aa074"/>
<text x="477.8" y="607.9" font-size="8.4" text-anchor="start" fill="#262626" >T cells from APC clusters</text>
<text x="642.0" y="600.6" font-size="8.3" text-anchor="start" fill="#262626" >NS</text>
<g fill="#1a1a1a"><use href="#st" transform="translate(642.1 641.4) scale(1.9)"/><use href="#st" transform="translate(646.0 641.4) scale(1.9)"/><use href="#st" transform="translate(650.0 641.4) scale(1.9)"/><use href="#st" transform="translate(653.9 641.4) scale(1.9)"/></g>
<g fill="#1a1a1a"><use href="#st" transform="translate(642.1 649.6) scale(1.9)"/><use href="#st" transform="translate(646.0 649.6) scale(1.9)"/><use href="#st" transform="translate(650.0 649.6) scale(1.9)"/><use href="#st" transform="translate(653.9 649.6) scale(1.9)"/></g>
<path d="M533 668 V685" stroke="#333" stroke-width="0.8" stroke-dasharray="2 1.3"/><path d="M533 689.5 L531 684.5 L535 684.5Z" fill="#333"/>
<text font-size="8.3" text-anchor="middle" fill="#222" transform="translate(536 655.4) rotate(-90)">ACT</text>
<text x="372.8" y="770.5" font-size="14.2" text-anchor="start" fill="#262626" font-weight="bold">i</text>
<line x1="423" y1="776.2" x2="423" y2="892.6" stroke="#6a6a6a" stroke-width="0.8"/>
<line x1="417.3" y1="892.6" x2="423" y2="892.6" stroke="#6a6a6a" stroke-width="0.8"/>
<text x="412.9" y="895.6" font-size="8.3" text-anchor="end" fill="#262626" >−20</text>
<line x1="417.3" y1="873.2" x2="423" y2="873.2" stroke="#6a6a6a" stroke-width="0.8"/>
<text x="412.9" y="876.2" font-size="8.3" text-anchor="end" fill="#262626" >0</text>
<line x1="417.3" y1="853.8" x2="423" y2="853.8" stroke="#6a6a6a" stroke-width="0.8"/>
<text x="412.9" y="856.8" font-size="8.3" text-anchor="end" fill="#262626" >20</text>
<line x1="417.3" y1="834.4" x2="423" y2="834.4" stroke="#6a6a6a" stroke-width="0.8"/>
<text x="412.9" y="837.4" font-size="8.3" text-anchor="end" fill="#262626" >40</text>
<line x1="417.3" y1="815.0" x2="423" y2="815.0" stroke="#6a6a6a" stroke-width="0.8"/>
<text x="412.9" y="818.0" font-size="8.3" text-anchor="end" fill="#262626" >60</text>
<line x1="417.3" y1="795.6" x2="423" y2="795.6" stroke="#6a6a6a" stroke-width="0.8"/>
<text x="412.9" y="798.6" font-size="8.3" text-anchor="end" fill="#262626" >80</text>
<line x1="417.3" y1="776.2" x2="423" y2="776.2" stroke="#6a6a6a" stroke-width="0.8"/>
<text x="412.9" y="779.2" font-size="8.3" text-anchor="end" fill="#262626" >100</text>
<line x1="423" y1="873.2" x2="685" y2="873.2" stroke="#111" stroke-width="0.9"/>
<line x1="423" y1="892.6" x2="685" y2="892.6" stroke="#bdbdbd" stroke-width="1"/>
<line x1="486.3" y1="735" x2="486.3" y2="913" stroke="#222" stroke-width="0.8" stroke-dasharray="3 2"/>
<line x1="551.6" y1="735" x2="551.6" y2="913" stroke="#222" stroke-width="0.8" stroke-dasharray="3 2"/>
<line x1="617.4" y1="735" x2="617.4" y2="913" stroke="#222" stroke-width="0.8" stroke-dasharray="3 2"/>
<text x="453.2" y="909.7" font-size="8.3" text-anchor="middle" fill="#262626" >P8</text>
<rect x="428.2" y="862.5" width="10.6" height="10.7" fill="#0fa5c8"/>
<path d="M433.6 861.1 V864.0 M430.9 861.1 H436.2 M430.9 864.0 H436.2" stroke="#111" stroke-width="0.8" fill="none"/>
<circle cx="430.8" cy="862.1" r="2.1" fill="#111"/>
<circle cx="433.6" cy="863.7" r="2.1" fill="#111"/>
<circle cx="436.4" cy="862.4" r="2.1" fill="#111"/>
<rect x="441.3" y="818.9" width="10.6" height="54.3" fill="#985da8"/>
<path d="M446.6 817.9 V819.9 M444.0 817.9 H449.2 M444.0 819.9 H449.2" stroke="#111" stroke-width="0.8" fill="none"/>
<circle cx="443.8" cy="818.6" r="2.1" fill="#111"/>
<circle cx="446.6" cy="819.7" r="2.1" fill="#111"/>
<circle cx="449.5" cy="818.8" r="2.1" fill="#111"/>
<rect x="454.4" y="793.7" width="10.6" height="79.5" fill="#0c8f62"/>
<path d="M459.8 792.7 V794.6 M457.1 792.7 H462.4 M457.1 794.6 H462.4" stroke="#111" stroke-width="0.8" fill="none"/>
<circle cx="456.9" cy="793.4" r="2.1" fill="#111"/>
<circle cx="459.8" cy="794.4" r="2.1" fill="#111"/>
<circle cx="462.6" cy="793.6" r="2.1" fill="#111"/>
<rect x="467.5" y="826.6" width="10.6" height="46.6" fill="#7b80c4"/>
<path d="M472.8 822.8 V830.5 M470.2 822.8 H475.4 M470.2 830.5 H475.4" stroke="#111" stroke-width="0.8" fill="none"/>
<circle cx="470.0" cy="825.5" r="2.1" fill="#111"/>
<circle cx="472.8" cy="829.7" r="2.1" fill="#111"/>
<circle cx="475.7" cy="826.3" r="2.1" fill="#111"/>
<text x="519.3" y="909.7" font-size="8.3" text-anchor="middle" fill="#262626" >P17</text>
<rect x="494.3" y="863.5" width="10.6" height="9.7" fill="#0fa5c8"/>
<path d="M499.6 861.6 V865.4 M497.0 861.6 H502.2 M497.0 865.4 H502.2" stroke="#111" stroke-width="0.8" fill="none"/>
<circle cx="496.8" cy="862.9" r="2.1" fill="#111"/>
<circle cx="499.6" cy="865.1" r="2.1" fill="#111"/>
<circle cx="502.5" cy="863.3" r="2.1" fill="#111"/>
<rect x="507.4" y="822.8" width="10.6" height="50.4" fill="#985da8"/>
<path d="M512.8 820.8 V824.7 M510.1 820.8 H515.4 M510.1 824.7 H515.4" stroke="#111" stroke-width="0.8" fill="none"/>
<circle cx="509.9" cy="822.2" r="2.1" fill="#111"/>
<circle cx="512.8" cy="824.3" r="2.1" fill="#111"/>
<circle cx="515.6" cy="822.6" r="2.1" fill="#111"/>
<rect x="520.5" y="789.8" width="10.6" height="83.4" fill="#0c8f62"/>
<path d="M525.8 788.8 V790.8 M523.2 788.8 H528.4 M523.2 790.8 H528.4" stroke="#111" stroke-width="0.8" fill="none"/>
<circle cx="523.0" cy="789.5" r="2.1" fill="#111"/>
<circle cx="525.8" cy="790.6" r="2.1" fill="#111"/>
<circle cx="528.7" cy="789.7" r="2.1" fill="#111"/>
<rect x="533.6" y="803.4" width="10.6" height="69.8" fill="#7b80c4"/>
<path d="M538.9 802.4 V804.3 M536.3 802.4 H541.5 M536.3 804.3 H541.5" stroke="#111" stroke-width="0.8" fill="none"/>
<circle cx="536.1" cy="803.1" r="2.1" fill="#111"/>
<circle cx="538.9" cy="804.1" r="2.1" fill="#111"/>
<circle cx="541.8" cy="803.3" r="2.1" fill="#111"/>
<text x="585.1" y="909.7" font-size="8.3" text-anchor="middle" fill="#262626" >P18</text>
<rect x="560.2" y="809.2" width="10.6" height="64.0" fill="#0fa5c8"/>
<path d="M565.5 808.2 V810.2 M562.9 808.2 H568.1 M562.9 810.2 H568.1" stroke="#111" stroke-width="0.8" fill="none"/>
<circle cx="562.7" cy="808.9" r="2.1" fill="#111"/>
<circle cx="565.5" cy="810.0" r="2.1" fill="#111"/>
<circle cx="568.4" cy="809.1" r="2.1" fill="#111"/>
<rect x="573.3" y="790.8" width="10.6" height="82.5" fill="#985da8"/>
<path d="M578.6 789.8 V791.7 M576.0 789.8 H581.2 M576.0 791.7 H581.2" stroke="#111" stroke-width="0.8" fill="none"/>
<circle cx="575.8" cy="790.5" r="2.1" fill="#111"/>
<circle cx="578.6" cy="791.5" r="2.1" fill="#111"/>
<circle cx="581.5" cy="790.7" r="2.1" fill="#111"/>
<rect x="586.4" y="812.1" width="10.6" height="61.1" fill="#0c8f62"/>
<path d="M591.6 810.2 V814.0 M589.0 810.2 H594.2 M589.0 814.0 H594.2" stroke="#111" stroke-width="0.8" fill="none"/>
<circle cx="588.9" cy="811.5" r="2.1" fill="#111"/>
<circle cx="591.6" cy="813.6" r="2.1" fill="#111"/>
<circle cx="594.5" cy="811.9" r="2.1" fill="#111"/>
<rect x="599.5" y="796.6" width="10.6" height="76.6" fill="#7b80c4"/>
<path d="M604.8 793.7 V799.5 M602.1 793.7 H607.4 M602.1 799.5 H607.4" stroke="#111" stroke-width="0.8" fill="none"/>
<circle cx="602.0" cy="795.7" r="2.1" fill="#111"/>
<circle cx="604.8" cy="798.9" r="2.1" fill="#111"/>
<circle cx="607.6" cy="796.3" r="2.1" fill="#111"/>
<text x="650.7" y="909.7" font-size="8.3" text-anchor="middle" fill="#262626" >P19</text>
<rect x="625.8" y="873.2" width="10.6" height="2.9" fill="#0fa5c8"/>
<path d="M631.1 875.1 V877.1 M628.5 875.1 H633.7 M628.5 877.1 H633.7" stroke="#111" stroke-width="0.8" fill="none"/>
<circle cx="628.3" cy="875.8" r="2.1" fill="#111"/>
<circle cx="631.1" cy="876.9" r="2.1" fill="#111"/>
<circle cx="634.0" cy="876.0" r="2.1" fill="#111"/>
<rect x="638.9" y="865.4" width="10.6" height="7.8" fill="#985da8"/>
<path d="M644.2 862.5 V868.4 M641.6 862.5 H646.8 M641.6 868.4 H646.8" stroke="#111" stroke-width="0.8" fill="none"/>
<circle cx="641.4" cy="864.6" r="2.1" fill="#111"/>
<circle cx="644.2" cy="867.8" r="2.1" fill="#111"/>
<circle cx="647.1" cy="865.1" r="2.1" fill="#111"/>
<rect x="652.0" y="873.2" width="10.6" height="1.9" fill="#0c8f62"/>
<path d="M657.2 873.2 V877.1 M654.6 873.2 H659.9 M654.6 877.1 H659.9" stroke="#111" stroke-width="0.8" fill="none"/>
<circle cx="654.5" cy="874.6" r="2.1" fill="#111"/>
<circle cx="657.2" cy="876.7" r="2.1" fill="#111"/>
<circle cx="660.1" cy="874.9" r="2.1" fill="#111"/>
<rect x="665.1" y="873.2" width="10.6" height="1.9" fill="#7b80c4"/>
<path d="M670.4 874.2 V876.1 M667.8 874.2 H673.0 M667.8 876.1 H673.0" stroke="#111" stroke-width="0.8" fill="none"/>
<circle cx="667.6" cy="874.8" r="2.1" fill="#111"/>
<circle cx="670.4" cy="875.9" r="2.1" fill="#111"/>
<circle cx="673.2" cy="875.0" r="2.1" fill="#111"/>
<text font-size="8.5" text-anchor="middle" fill="#222" transform="translate(380.3 835) rotate(-90)">Percentage of</text>
<text font-size="8.5" text-anchor="middle" fill="#222" transform="translate(391.1 835) rotate(-90)">tumour cell killing</text>
<path d="M431.6 859.6 V806.3 H444.6 V812.3" fill="none" stroke="#333" stroke-width="0.75"/>
<g fill="#1a1a1a"><use href="#st" transform="translate(432.3 799.5) scale(1.75)"/><use href="#st" transform="translate(436.2 799.5) scale(1.75)"/><use href="#st" transform="translate(440.0 799.5) scale(1.75)"/><use href="#st" transform="translate(443.9 799.5) scale(1.75)"/></g>
<path d="M431.6 791.9 V787.0 H457.8 V788.8" fill="none" stroke="#333" stroke-width="0.75"/>
<g fill="#1a1a1a"><use href="#st" transform="translate(438.9 780.2) scale(1.75)"/><use href="#st" transform="translate(442.7 780.2) scale(1.75)"/><use href="#st" transform="translate(446.6 780.2) scale(1.75)"/><use href="#st" transform="translate(450.4 780.2) scale(1.75)"/></g>
<path d="M444.6 773.0 V771.8 H461.2 V773.0" fill="none" stroke="#8c90d0" stroke-width="0.75"/>
<g fill="#1a1a1a"><use href="#st" transform="translate(447.2 765.0) scale(1.75)"/><use href="#st" transform="translate(451.0 765.0) scale(1.75)"/><use href="#st" transform="translate(454.9 765.0) scale(1.75)"/><use href="#st" transform="translate(458.7 765.0) scale(1.75)"/></g>
<path d="M461.2 788.0 V787.0 H473.3 V817.4" fill="none" stroke="#8c90d0" stroke-width="0.75"/>
<g fill="#1a1a1a"><use href="#st" transform="translate(461.5 780.2) scale(1.75)"/><use href="#st" transform="translate(465.4 780.2) scale(1.75)"/><use href="#st" transform="translate(469.2 780.2) scale(1.75)"/><use href="#st" transform="translate(473.1 780.2) scale(1.75)"/></g>
<path d="M444.6 758.9 V756.6 H473.3 V773.7" fill="none" stroke="#8c90d0" stroke-width="0.75"/>
<g fill="#1a1a1a"><use href="#st" transform="translate(459.0 749.8) scale(1.75)"/></g>
<path d="M497.6 859.6 V804.0 H510.8 V812.0" fill="none" stroke="#333" stroke-width="0.75"/>
<g fill="#1a1a1a"><use href="#st" transform="translate(498.4 797.2) scale(1.75)"/><use href="#st" transform="translate(502.3 797.2) scale(1.75)"/><use href="#st" transform="translate(506.1 797.2) scale(1.75)"/><use href="#st" transform="translate(510.0 797.2) scale(1.75)"/></g>
<path d="M497.6 783.0 V777.8 H523.8 V779.5" fill="none" stroke="#333" stroke-width="0.75"/>
<g fill="#1a1a1a"><use href="#st" transform="translate(505.0 771.0) scale(1.75)"/><use href="#st" transform="translate(508.8 771.0) scale(1.75)"/><use href="#st" transform="translate(512.7 771.0) scale(1.75)"/><use href="#st" transform="translate(516.5 771.0) scale(1.75)"/></g>
<path d="M510.8 765.0 V764.0 H527.3 V765.0" fill="none" stroke="#8c90d0" stroke-width="0.75"/>
<g fill="#1a1a1a"><use href="#st" transform="translate(513.3 757.2) scale(1.75)"/><use href="#st" transform="translate(517.1 757.2) scale(1.75)"/><use href="#st" transform="translate(521.0 757.2) scale(1.75)"/><use href="#st" transform="translate(524.8 757.2) scale(1.75)"/></g>
<path d="M527.3 779.0 V777.8 H539.4 V800.0" fill="none" stroke="#8c90d0" stroke-width="0.75"/>
<g fill="#1a1a1a"><use href="#st" transform="translate(527.6 771.0) scale(1.75)"/><use href="#st" transform="translate(531.5 771.0) scale(1.75)"/><use href="#st" transform="translate(535.3 771.0) scale(1.75)"/><use href="#st" transform="translate(539.2 771.0) scale(1.75)"/></g>
<path d="M510.8 752.5 V750.2 H539.4 V762.0" fill="none" stroke="#8c90d0" stroke-width="0.75"/>
<g fill="#1a1a1a"><use href="#st" transform="translate(519.3 743.4) scale(1.75)"/><use href="#st" transform="translate(523.2 743.4) scale(1.75)"/><use href="#st" transform="translate(527.0 743.4) scale(1.75)"/><use href="#st" transform="translate(530.9 743.4) scale(1.75)"/></g>
<path d="M563.5 805.3 V785.6 H576.6 V790.0" fill="none" stroke="#333" stroke-width="0.75"/>
<g fill="#1a1a1a"><use href="#st" transform="translate(564.2 778.8) scale(1.75)"/><use href="#st" transform="translate(568.1 778.8) scale(1.75)"/><use href="#st" transform="translate(571.9 778.8) scale(1.75)"/><use href="#st" transform="translate(575.8 778.8) scale(1.75)"/></g>
<path d="M563.5 784.0 V771.8 H589.6 V800.0" fill="none" stroke="#333" stroke-width="0.75"/>
<text x="576.5" y="770.0" font-size="8.3" text-anchor="middle" fill="#262626" >NS</text>
<path d="M576.6 757.6 V756.6 H593.1 V757.6" fill="none" stroke="#8c90d0" stroke-width="0.75"/>
<g fill="#1a1a1a"><use href="#st" transform="translate(579.1 749.8) scale(1.75)"/><use href="#st" transform="translate(582.9 749.8) scale(1.75)"/><use href="#st" transform="translate(586.8 749.8) scale(1.75)"/><use href="#st" transform="translate(590.6 749.8) scale(1.75)"/></g>
<path d="M593.1 773.0 V771.8 H605.2 V790.0" fill="none" stroke="#8c90d0" stroke-width="0.75"/>
<g fill="#1a1a1a"><use href="#st" transform="translate(593.4 765.0) scale(1.75)"/><use href="#st" transform="translate(597.3 765.0) scale(1.75)"/><use href="#st" transform="translate(601.1 765.0) scale(1.75)"/><use href="#st" transform="translate(605.0 765.0) scale(1.75)"/></g>
<path d="M576.6 744.0 V741.9 H605.2 V752.0" fill="none" stroke="#8c90d0" stroke-width="0.75"/>
<g fill="#1a1a1a"><use href="#st" transform="translate(590.9 735.1) scale(1.75)"/></g>
<path d="M629.1 868.0 V852.2 H642.2 V858.0" fill="none" stroke="#333" stroke-width="0.75"/>
<g fill="#1a1a1a"><use href="#st" transform="translate(633.7 845.4) scale(1.75)"/><use href="#st" transform="translate(637.5 845.4) scale(1.75)"/></g>
<path d="M629.1 850.0 V830.6 H655.2 V866.0" fill="none" stroke="#333" stroke-width="0.75"/>
<text x="642.2" y="828.8" font-size="8.3" text-anchor="middle" fill="#262626" >NS</text>
<path d="M642.2 818.0 V816.8 H658.8 V818.0" fill="none" stroke="#8c90d0" stroke-width="0.75"/>
<g fill="#1a1a1a"><use href="#st" transform="translate(648.5 810.0) scale(1.75)"/><use href="#st" transform="translate(652.4 810.0) scale(1.75)"/></g>
<path d="M658.8 866.0 V830.6 H670.9 V868.0" fill="none" stroke="#8c90d0" stroke-width="0.75"/>
<text x="664.8" y="828.8" font-size="8.3" text-anchor="middle" fill="#262626" >NS</text>
<path d="M642.2 805.0 V802.6 H670.9 V814.0" fill="none" stroke="#8c90d0" stroke-width="0.75"/>
<g fill="#1a1a1a"><use href="#st" transform="translate(654.6 795.8) scale(1.75)"/><use href="#st" transform="translate(658.4 795.8) scale(1.75)"/></g>
<rect x="111" y="932.5" width="15" height="10.5" fill="#0fa5c8"/>
<text x="132.0" y="941.2" font-size="8.5" text-anchor="start" fill="#262626" >T cells from singlets</text>
<rect x="230.7" y="932.5" width="15" height="10.5" fill="#985da8"/>
<text x="251.7" y="941.2" font-size="8.5" text-anchor="start" fill="#262626" >T cells from tumour clusters</text>
<rect x="381.5" y="932.5" width="15" height="10.5" fill="#0c8f62"/>
<text x="402.5" y="941.2" font-size="8.5" text-anchor="start" fill="#262626" >T cells from APC clusters</text>
<rect x="521.7" y="932.5" width="15" height="10.5" fill="#7b80c4"/>
<text x="542.7" y="941.2" font-size="8.5" text-anchor="start" fill="#262626" >CD39<tspan font-size="5.5" dy="-3">+</tspan><tspan dy="3"> T cells</tspan></text>
</svg>
</body></html>
